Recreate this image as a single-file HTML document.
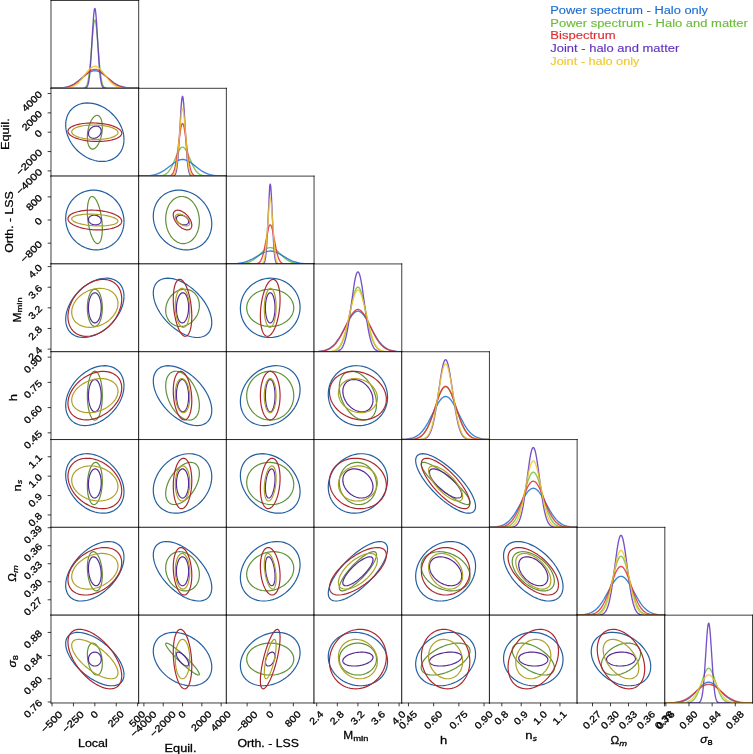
<!DOCTYPE html>
<html><head><meta charset="utf-8"><title>corner plot</title>
<style>html,body{margin:0;padding:0;background:#fff;overflow:hidden}svg{display:block;will-change:transform;font-family:"Liberation Sans",sans-serif}svg text{stroke:#000;stroke-width:0.3px}</style>
</head><body>
<svg width="753" height="754" viewBox="0 0 788.48 789.52">
<defs>
<style type="text/css">*{stroke-linejoin: round; stroke-linecap: butt}</style>
</defs>
<g id="figure_1">
<g id="patch_1">
<path d="M 0 789.52 L 788.48 789.52 L 788.48 0 L 0 0 z
" style="fill: #ffffff"/>
</g>
<g id="axes_1">
<g id="patch_2">
<path d="M 53.40 92.47 L 145.22 92.47 L 145.22 0.52 L 53.40 0.52 z
" style="fill: #ffffff"/>
</g>
<g id="matplotlib.axis_1"/>
<g id="matplotlib.axis_2"/>
<g id="line2d_1">
<path d="M 53.40 92.47 L 87.07 92.37 L 88.29 92.12 L 89.21 91.66 L 89.82 91.10 L 90.43 90.23 L 91.05 88.92 L 91.66 87.02 L 92.27 84.38 L 92.88 80.85 L 93.80 73.66 L 94.72 64.18 L 96.25 45.12 L 97.47 30.84 L 98.08 25.54 L 98.70 22.15 L 99.00 21.28 L 99.31 20.98 L 99.62 21.28 L 99.92 22.15 L 100.53 25.54 L 101.15 30.84 L 102.06 41.27 L 104.51 70.74 L 105.43 78.71 L 106.35 84.38 L 106.96 87.02 L 107.57 88.92 L 108.19 90.23 L 108.80 91.10 L 109.41 91.66 L 110.33 92.12 L 111.55 92.37 L 113.69 92.46 L 127.77 92.47 L 145.22 92.47 L 145.22 92.47 " clip-path="url(#p6890159684)" style="fill: none; stroke: #6cbd3a; stroke-opacity: 0.85; stroke-width: 1.41"/>
</g>
<g id="line2d_2">
<path d="M 53.40 92.47 L 88.60 92.38 L 89.51 92.21 L 90.13 91.94 L 90.74 91.46 L 91.35 90.61 L 91.96 89.21 L 92.58 87.00 L 93.19 83.69 L 93.80 79.00 L 94.41 72.71 L 95.33 60.21 L 96.86 34.18 L 97.78 19.86 L 98.39 13.01 L 98.70 10.74 L 99.00 9.35 L 99.31 8.88 L 99.62 9.35 L 99.92 10.74 L 100.53 16.08 L 101.15 24.22 L 102.37 44.88 L 103.59 64.76 L 104.51 76.06 L 105.12 81.53 L 105.74 85.50 L 106.35 88.22 L 106.96 90.00 L 107.57 91.09 L 108.19 91.73 L 108.80 92.09 L 109.72 92.34 L 111.25 92.45 L 117.98 92.47 L 145.22 92.47 L 145.22 92.47 " clip-path="url(#p6890159684)" style="fill: none; stroke: #5f32be; stroke-opacity: 0.85; stroke-width: 1.41"/>
</g>
<g id="line2d_3">
<path d="M 53.40 92.43 L 60.44 92.24 L 64.42 91.93 L 67.48 91.49 L 70.23 90.89 L 72.68 90.12 L 75.13 89.10 L 77.27 87.98 L 79.72 86.43 L 82.48 84.40 L 86.15 81.36 L 90.43 77.86 L 92.58 76.37 L 94.41 75.35 L 95.94 74.71 L 97.47 74.29 L 99.00 74.12 L 100.53 74.19 L 102.06 74.51 L 103.59 75.06 L 105.43 76.00 L 107.27 77.19 L 109.72 79.06 L 119.20 86.64 L 121.65 88.15 L 124.10 89.38 L 126.55 90.33 L 129.00 91.04 L 131.75 91.60 L 134.81 91.99 L 138.79 92.27 L 144.61 92.42 L 145.22 92.43 L 145.22 92.43 " clip-path="url(#p6890159684)" style="fill: none; stroke: #1a6ed2; stroke-opacity: 0.85; stroke-width: 1.41"/>
</g>
<g id="line2d_4">
<path d="M 53.40 92.45 L 61.66 92.31 L 65.95 92.02 L 69.01 91.60 L 71.46 91.05 L 73.60 90.38 L 75.74 89.47 L 77.88 88.30 L 80.03 86.86 L 82.17 85.16 L 84.92 82.64 L 92.27 75.66 L 94.11 74.32 L 95.64 73.46 L 97.17 72.87 L 98.39 72.62 L 99.62 72.57 L 100.84 72.72 L 102.06 73.07 L 103.59 73.77 L 105.12 74.73 L 106.96 76.17 L 109.41 78.41 L 116.76 85.42 L 118.90 87.09 L 121.04 88.49 L 123.18 89.62 L 125.33 90.49 L 127.47 91.13 L 129.92 91.65 L 132.98 92.05 L 136.96 92.31 L 143.08 92.44 L 145.22 92.45 L 145.22 92.45 " clip-path="url(#p6890159684)" style="fill: none; stroke: #e02d32; stroke-opacity: 0.85; stroke-width: 1.41"/>
</g>
<g id="line2d_5">
<path d="M 53.40 92.46 L 65.34 92.35 L 69.31 92.10 L 72.07 91.71 L 74.21 91.19 L 76.05 90.55 L 77.88 89.67 L 79.72 88.51 L 81.56 87.04 L 83.39 85.26 L 85.54 82.81 L 88.29 79.24 L 92.27 74.06 L 94.11 72.06 L 95.64 70.74 L 96.86 69.98 L 98.08 69.51 L 99.00 69.36 L 99.92 69.39 L 100.84 69.60 L 102.06 70.14 L 103.29 70.97 L 104.51 72.06 L 106.04 73.70 L 108.19 76.38 L 114.00 83.90 L 116.14 86.19 L 117.98 87.82 L 119.82 89.13 L 121.65 90.14 L 123.49 90.90 L 125.63 91.51 L 128.08 91.95 L 131.14 92.25 L 135.43 92.41 L 144.30 92.46 L 145.22 92.46 L 145.22 92.46 " clip-path="url(#p6890159684)" style="fill: none; stroke: #f0c828; stroke-opacity: 0.85; stroke-width: 1.41"/>
</g>
<g id="patch_3">
<path d="M 53.40 92.47 L 53.40 0.52 " style="fill: none; stroke: #000000; stroke-width: 0.8; stroke-linejoin: miter; stroke-linecap: square"/>
</g>
<g id="patch_4">
<path d="M 145.22 92.47 L 145.22 0.52 " style="fill: none; stroke: #000000; stroke-width: 0.8; stroke-linejoin: miter; stroke-linecap: square"/>
</g>
<g id="patch_5">
<path d="M 53.40 92.47 L 145.22 92.47 " style="fill: none; stroke: #000000; stroke-width: 0.8; stroke-linejoin: miter; stroke-linecap: square"/>
</g>
<g id="patch_6">
<path d="M 53.40 0.52 L 145.22 0.52 " style="fill: none; stroke: #000000; stroke-width: 0.8; stroke-linejoin: miter; stroke-linecap: square"/>
</g>
</g>
<g id="axes_2">
<g id="patch_7">
<path d="M 53.40 184.41 L 145.22 184.41 L 145.22 92.47 L 53.40 92.47 z
" style="fill: #ffffff"/>
</g>
<g id="matplotlib.axis_3"/>
<g id="matplotlib.axis_4">
<g id="ytick_1">
<g id="line2d_6">
<defs>
<path id="m5d545ce8f8" d="M 0 0 L -3.5 0 " style="stroke: #000000; stroke-width: 0.8"/>
</defs>
<g>
<use href="#m5d545ce8f8" x="53.40" y="178.95" style="stroke: #000000; stroke-width: 0.8"/>
</g>
</g>
<g id="text_1">
<text style="font-size: 10px; font-family: 'Liberation Sans'" transform="translate(21.01 204.44) rotate(-45)" textLength="33.83" lengthAdjust="spacingAndGlyphs">−4000</text>
</g>
</g>
<g id="ytick_2">
<g id="line2d_7">
<g>
<use href="#m5d545ce8f8" x="53.40" y="158.69" style="stroke: #000000; stroke-width: 0.8"/>
</g>
</g>
<g id="text_2">
<text style="font-size: 10px; font-family: 'Liberation Sans'" transform="translate(21.01 184.19) rotate(-45)" textLength="33.83" lengthAdjust="spacingAndGlyphs">−2000</text>
</g>
</g>
<g id="ytick_3">
<g id="line2d_8">
<g>
<use href="#m5d545ce8f8" x="53.40" y="138.44" style="stroke: #000000; stroke-width: 0.8"/>
</g>
</g>
<g id="text_3">
<text style="font-size: 10px; font-family: 'Liberation Sans'" transform="translate(40.43 144.51) rotate(-45)" textLength="6.36" lengthAdjust="spacingAndGlyphs">0</text>
</g>
</g>
<g id="ytick_4">
<g id="line2d_9">
<g>
<use href="#m5d545ce8f8" x="53.40" y="118.19" style="stroke: #000000; stroke-width: 0.8"/>
</g>
</g>
<g id="text_4">
<text style="font-size: 10px; font-family: 'Liberation Sans'" transform="translate(26.93 137.76) rotate(-45)" textLength="25.45" lengthAdjust="spacingAndGlyphs">2000</text>
</g>
</g>
<g id="ytick_5">
<g id="line2d_10">
<g>
<use href="#m5d545ce8f8" x="53.40" y="97.93" style="stroke: #000000; stroke-width: 0.8"/>
</g>
</g>
<g id="text_5">
<text style="font-size: 10px; font-family: 'Liberation Sans'" transform="translate(26.93 117.50) rotate(-45)" textLength="25.45" lengthAdjust="spacingAndGlyphs">4000</text>
</g>
</g>
<g id="text_6">
<text style="font-size: 12px; font-family: 'Liberation Sans'; text-anchor: middle" x="9.14" y="140.53" transform="rotate(-90 9.14 140.53)" textLength="33.29" lengthAdjust="spacingAndGlyphs">Equil.</text>
</g>
</g>
<g id="line2d_11">
<path d="M 129.84 146.10 L 129.72 143.48 L 129.38 140.83 L 128.80 138.16 L 128.00 135.49 L 126.98 132.85 L 125.75 130.24 L 124.32 127.70 L 122.70 125.24 L 120.90 122.88 L 118.93 120.64 L 116.82 118.54 L 114.57 116.58 L 112.21 114.79 L 109.75 113.19 L 107.21 111.77 L 104.61 110.56 L 101.97 109.56 L 99.31 108.78 L 96.65 108.22 L 94.01 107.90 L 91.41 107.81 L 88.87 107.95 L 86.41 108.32 L 84.04 108.92 L 81.80 109.75 L 79.68 110.80 L 77.72 112.05 L 75.92 113.51 L 74.30 115.15 L 72.87 116.98 L 71.64 118.96 L 70.62 121.10 L 69.82 123.37 L 69.24 125.75 L 68.90 128.23 L 68.78 130.78 L 68.90 133.40 L 69.24 136.05 L 69.82 138.72 L 70.62 141.39 L 71.64 144.03 L 72.87 146.64 L 74.30 149.18 L 75.92 151.64 L 77.72 154.00 L 79.68 156.24 L 81.80 158.34 L 84.04 160.30 L 86.41 162.09 L 88.87 163.69 L 91.41 165.11 L 94.01 166.32 L 96.65 167.32 L 99.31 168.10 L 101.97 168.66 L 104.61 168.98 L 107.21 169.07 L 109.75 168.93 L 112.21 168.56 L 114.57 167.96 L 116.82 167.13 L 118.93 166.08 L 120.90 164.83 L 122.70 163.37 L 124.32 161.73 L 125.75 159.90 L 126.98 157.92 L 128.00 155.78 L 128.80 153.51 L 129.38 151.13 L 129.72 148.65 L 129.84 146.10 " clip-path="url(#p6fb63dad15)" style="fill: none; stroke: #235fa0; stroke-width: 1.25; stroke-linecap: square"/>
</g>
<g id="line2d_12">
<path d="M 107.15 133.15 L 107.12 131.70 L 107.03 130.31 L 106.88 128.97 L 106.68 127.71 L 106.41 126.53 L 106.10 125.44 L 105.73 124.46 L 105.31 123.57 L 104.85 122.80 L 104.35 122.15 L 103.81 121.62 L 103.23 121.22 L 102.62 120.95 L 101.99 120.82 L 101.34 120.82 L 100.67 120.95 L 99.99 121.22 L 99.31 121.61 L 98.63 122.14 L 97.95 122.79 L 97.28 123.56 L 96.63 124.44 L 96.00 125.43 L 95.39 126.51 L 94.81 127.69 L 94.27 128.95 L 93.77 130.28 L 93.30 131.68 L 92.89 133.12 L 92.52 134.61 L 92.20 136.12 L 91.94 137.66 L 91.74 139.20 L 91.59 140.73 L 91.50 142.24 L 91.47 143.73 L 91.50 145.18 L 91.59 146.57 L 91.74 147.91 L 91.94 149.17 L 92.20 150.35 L 92.52 151.44 L 92.89 152.43 L 93.30 153.31 L 93.77 154.08 L 94.27 154.73 L 94.81 155.26 L 95.39 155.66 L 96.00 155.93 L 96.63 156.06 L 97.28 156.06 L 97.95 155.93 L 98.63 155.66 L 99.31 155.27 L 99.99 154.74 L 100.67 154.09 L 101.34 153.32 L 101.99 152.44 L 102.62 151.45 L 103.23 150.37 L 103.81 149.19 L 104.35 147.93 L 104.85 146.60 L 105.31 145.20 L 105.73 143.76 L 106.10 142.27 L 106.41 140.76 L 106.68 139.22 L 106.88 137.68 L 107.03 136.15 L 107.12 134.64 L 107.15 133.15 " clip-path="url(#p6fb63dad15)" style="fill: none; stroke: #5f9137; stroke-width: 1.25; stroke-linecap: square"/>
</g>
<g id="line2d_13">
<path d="M 127.47 139.41 L 127.36 138.57 L 127.04 137.72 L 126.51 136.88 L 125.77 136.05 L 124.83 135.24 L 123.69 134.46 L 122.37 133.70 L 120.88 132.98 L 119.22 132.30 L 117.41 131.67 L 115.46 131.09 L 113.39 130.57 L 111.21 130.11 L 108.94 129.71 L 106.60 129.37 L 104.20 129.11 L 101.76 128.91 L 99.31 128.79 L 96.86 128.75 L 94.42 128.77 L 92.02 128.87 L 89.68 129.04 L 87.41 129.29 L 85.23 129.60 L 83.16 129.98 L 81.21 130.43 L 79.40 130.93 L 77.74 131.50 L 76.24 132.11 L 74.92 132.78 L 73.79 133.48 L 72.85 134.23 L 72.11 135.01 L 71.58 135.81 L 71.26 136.63 L 71.15 137.47 L 71.26 138.31 L 71.58 139.16 L 72.11 140.00 L 72.85 140.83 L 73.79 141.64 L 74.92 142.42 L 76.24 143.18 L 77.74 143.90 L 79.40 144.58 L 81.21 145.21 L 83.16 145.79 L 85.23 146.31 L 87.41 146.77 L 89.68 147.17 L 92.02 147.51 L 94.42 147.77 L 96.86 147.97 L 99.31 148.09 L 101.76 148.13 L 104.20 148.11 L 106.60 148.01 L 108.94 147.84 L 111.21 147.59 L 113.39 147.28 L 115.46 146.90 L 117.41 146.45 L 119.22 145.95 L 120.88 145.38 L 122.37 144.77 L 123.69 144.10 L 124.83 143.40 L 125.77 142.65 L 126.51 141.87 L 127.04 141.07 L 127.36 140.25 L 127.47 139.41 " clip-path="url(#p6fb63dad15)" style="fill: none; stroke: #aa282d; stroke-width: 1.25; stroke-linecap: square"/>
</g>
<g id="line2d_14">
<path d="M 106.01 137.16 L 105.99 136.62 L 105.91 136.09 L 105.78 135.58 L 105.61 135.10 L 105.38 134.63 L 105.11 134.20 L 104.80 133.80 L 104.44 133.43 L 104.05 133.11 L 103.62 132.82 L 103.15 132.57 L 102.66 132.37 L 102.14 132.22 L 101.60 132.11 L 101.04 132.06 L 100.47 132.05 L 99.89 132.09 L 99.31 132.17 L 98.72 132.31 L 98.15 132.49 L 97.57 132.72 L 97.02 132.99 L 96.48 133.30 L 95.96 133.65 L 95.46 134.04 L 95.00 134.46 L 94.57 134.91 L 94.17 135.39 L 93.82 135.89 L 93.50 136.41 L 93.23 136.95 L 93.01 137.50 L 92.83 138.05 L 92.71 138.61 L 92.63 139.17 L 92.61 139.72 L 92.63 140.26 L 92.71 140.79 L 92.83 141.30 L 93.01 141.78 L 93.23 142.25 L 93.50 142.68 L 93.82 143.08 L 94.17 143.45 L 94.57 143.77 L 95.00 144.06 L 95.46 144.31 L 95.96 144.51 L 96.48 144.66 L 97.02 144.77 L 97.57 144.82 L 98.15 144.83 L 98.72 144.79 L 99.31 144.71 L 99.89 144.57 L 100.47 144.39 L 101.04 144.16 L 101.60 143.89 L 102.14 143.58 L 102.66 143.23 L 103.15 142.84 L 103.62 142.42 L 104.05 141.97 L 104.44 141.49 L 104.80 140.99 L 105.11 140.47 L 105.38 139.93 L 105.61 139.38 L 105.78 138.83 L 105.91 138.27 L 105.99 137.71 L 106.01 137.16 " clip-path="url(#p6fb63dad15)" style="fill: none; stroke: #552896; stroke-width: 1.25; stroke-linecap: square"/>
</g>
<g id="line2d_15">
<path d="M 123.55 138.82 L 123.46 138.16 L 123.18 137.50 L 122.72 136.85 L 122.09 136.21 L 121.28 135.58 L 120.30 134.98 L 119.16 134.41 L 117.88 133.86 L 116.45 133.35 L 114.89 132.88 L 113.21 132.46 L 111.43 132.07 L 109.55 131.74 L 107.60 131.45 L 105.58 131.22 L 103.52 131.05 L 101.42 130.93 L 99.31 130.87 L 97.20 130.86 L 95.10 130.92 L 93.04 131.03 L 91.02 131.20 L 89.07 131.42 L 87.19 131.69 L 85.41 132.02 L 83.73 132.40 L 82.17 132.82 L 80.74 133.28 L 79.45 133.79 L 78.32 134.33 L 77.34 134.90 L 76.53 135.49 L 75.90 136.11 L 75.44 136.75 L 75.16 137.40 L 75.07 138.06 L 75.16 138.72 L 75.44 139.38 L 75.90 140.03 L 76.53 140.67 L 77.34 141.30 L 78.32 141.90 L 79.45 142.47 L 80.74 143.02 L 82.17 143.53 L 83.73 144.00 L 85.41 144.42 L 87.19 144.81 L 89.07 145.14 L 91.02 145.43 L 93.04 145.66 L 95.10 145.83 L 97.20 145.95 L 99.31 146.01 L 101.42 146.02 L 103.52 145.96 L 105.58 145.85 L 107.60 145.68 L 109.55 145.46 L 111.43 145.19 L 113.21 144.86 L 114.89 144.48 L 116.45 144.06 L 117.88 143.60 L 119.16 143.09 L 120.30 142.55 L 121.28 141.98 L 122.09 141.39 L 122.72 140.77 L 123.18 140.13 L 123.46 139.48 L 123.55 138.82 " clip-path="url(#p6fb63dad15)" style="fill: none; stroke: #afa028; stroke-width: 1.25; stroke-linecap: square"/>
</g>
<g id="patch_8">
<path d="M 53.40 184.41 L 53.40 92.47 " style="fill: none; stroke: #000000; stroke-width: 0.8; stroke-linejoin: miter; stroke-linecap: square"/>
</g>
<g id="patch_9">
<path d="M 145.22 184.41 L 145.22 92.47 " style="fill: none; stroke: #000000; stroke-width: 0.8; stroke-linejoin: miter; stroke-linecap: square"/>
</g>
<g id="patch_10">
<path d="M 53.40 184.41 L 145.22 184.41 " style="fill: none; stroke: #000000; stroke-width: 0.8; stroke-linejoin: miter; stroke-linecap: square"/>
</g>
<g id="patch_11">
<path d="M 53.40 92.47 L 145.22 92.47 " style="fill: none; stroke: #000000; stroke-width: 0.8; stroke-linejoin: miter; stroke-linecap: square"/>
</g>
</g>
<g id="axes_3">
<g id="patch_12">
<path d="M 145.22 184.41 L 237.04 184.41 L 237.04 92.47 L 145.22 92.47 z
" style="fill: #ffffff"/>
</g>
<g id="matplotlib.axis_5"/>
<g id="matplotlib.axis_6"/>
<g id="line2d_16">
<path d="M 145.22 184.41 L 165.42 184.32 L 168.18 184.10 L 170.32 183.71 L 171.85 183.22 L 173.07 182.63 L 174.30 181.83 L 175.52 180.77 L 176.75 179.39 L 177.97 177.68 L 179.19 175.63 L 180.72 172.59 L 182.56 168.40 L 186.23 159.81 L 187.46 157.46 L 188.38 156.04 L 189.29 154.98 L 190.21 154.33 L 190.83 154.13 L 191.44 154.13 L 192.05 154.33 L 192.66 154.72 L 193.58 155.65 L 194.50 156.95 L 195.72 159.18 L 197.25 162.53 L 202.46 174.47 L 203.99 177.20 L 205.21 179.00 L 206.43 180.45 L 207.66 181.59 L 208.88 182.45 L 210.41 183.22 L 211.94 183.71 L 213.78 184.06 L 216.23 184.29 L 220.21 184.39 L 234.29 184.41 L 237.04 184.41 L 237.04 184.41 " clip-path="url(#p47191a8eb9)" style="fill: none; stroke: #6cbd3a; stroke-opacity: 0.85; stroke-width: 1.41"/>
</g>
<g id="line2d_17">
<path d="M 145.22 184.41 L 181.03 184.32 L 181.95 184.10 L 182.56 183.76 L 183.17 183.14 L 183.79 182.05 L 184.40 180.24 L 185.01 177.39 L 185.62 173.17 L 186.23 167.28 L 186.85 159.58 L 187.76 144.90 L 189.60 112.81 L 190.21 105.36 L 190.52 102.87 L 190.83 101.34 L 191.13 100.83 L 191.44 101.34 L 191.74 102.87 L 192.36 108.71 L 192.97 117.53 L 195.72 163.66 L 196.33 170.45 L 196.95 175.47 L 197.56 178.97 L 198.17 181.25 L 198.78 182.67 L 199.40 183.50 L 200.01 183.96 L 200.93 184.27 L 202.15 184.39 L 206.13 184.41 L 237.04 184.41 L 237.04 184.41 " clip-path="url(#p47191a8eb9)" style="fill: none; stroke: #5f32be; stroke-opacity: 0.85; stroke-width: 1.41"/>
</g>
<g id="line2d_18">
<path d="M 145.22 184.37 L 152.26 184.19 L 156.54 183.86 L 159.61 183.42 L 162.36 182.81 L 164.81 182.04 L 167.26 181.03 L 169.71 179.76 L 172.15 178.23 L 174.91 176.24 L 184.09 169.29 L 185.93 168.27 L 187.76 167.53 L 189.29 167.13 L 190.83 166.97 L 192.36 167.04 L 193.89 167.34 L 195.42 167.86 L 197.25 168.75 L 199.40 170.08 L 202.15 172.11 L 210.11 178.23 L 212.56 179.76 L 215.00 181.03 L 217.45 182.04 L 219.90 182.81 L 222.66 183.42 L 225.72 183.86 L 229.39 184.16 L 234.59 184.34 L 237.04 184.37 L 237.04 184.37 " clip-path="url(#p47191a8eb9)" style="fill: none; stroke: #1a6ed2; stroke-opacity: 0.85; stroke-width: 1.41"/>
</g>
<g id="line2d_19">
<path d="M 145.22 184.41 L 176.13 184.33 L 177.66 184.11 L 178.58 183.82 L 179.50 183.29 L 180.11 182.73 L 180.72 181.96 L 181.34 180.92 L 181.95 179.53 L 182.56 177.74 L 183.48 174.17 L 184.40 169.44 L 185.32 163.56 L 186.85 151.90 L 188.68 138.01 L 189.60 132.87 L 190.21 130.60 L 190.83 129.43 L 191.13 129.28 L 191.44 129.43 L 191.74 129.87 L 192.36 131.61 L 192.97 134.38 L 193.89 140.09 L 195.42 151.90 L 196.95 163.56 L 198.17 171.15 L 199.09 175.49 L 200.01 178.69 L 200.93 180.92 L 201.84 182.38 L 202.76 183.29 L 203.68 183.82 L 204.90 184.18 L 206.43 184.35 L 209.80 184.41 L 237.04 184.41 L 237.04 184.41 " clip-path="url(#p47191a8eb9)" style="fill: none; stroke: #e02d32; stroke-opacity: 0.85; stroke-width: 1.41"/>
</g>
<g id="line2d_20">
<path d="M 145.22 184.41 L 179.19 184.33 L 180.42 184.09 L 181.34 183.64 L 181.95 183.08 L 182.56 182.18 L 183.17 180.83 L 183.79 178.84 L 184.40 176.05 L 185.01 172.31 L 185.93 164.68 L 186.85 154.68 L 189.60 121.26 L 190.21 116.65 L 190.52 115.14 L 190.83 114.22 L 191.13 113.91 L 191.44 114.22 L 191.74 115.14 L 192.36 118.70 L 192.97 124.25 L 193.89 135.07 L 196.03 161.59 L 196.95 170.04 L 197.86 176.05 L 198.48 178.84 L 199.09 180.83 L 199.70 182.18 L 200.31 183.08 L 200.93 183.64 L 201.84 184.09 L 203.07 184.33 L 205.21 184.41 L 222.04 184.41 L 237.04 184.41 L 237.04 184.41 " clip-path="url(#p47191a8eb9)" style="fill: none; stroke: #f0c828; stroke-opacity: 0.85; stroke-width: 1.41"/>
</g>
<g id="patch_13">
<path d="M 145.22 184.41 L 145.22 92.47 " style="fill: none; stroke: #000000; stroke-width: 0.8; stroke-linejoin: miter; stroke-linecap: square"/>
</g>
<g id="patch_14">
<path d="M 237.04 184.41 L 237.04 92.47 " style="fill: none; stroke: #000000; stroke-width: 0.8; stroke-linejoin: miter; stroke-linecap: square"/>
</g>
<g id="patch_15">
<path d="M 145.22 184.41 L 237.04 184.41 " style="fill: none; stroke: #000000; stroke-width: 0.8; stroke-linejoin: miter; stroke-linecap: square"/>
</g>
<g id="patch_16">
<path d="M 145.22 92.47 L 237.04 92.47 " style="fill: none; stroke: #000000; stroke-width: 0.8; stroke-linejoin: miter; stroke-linecap: square"/>
</g>
</g>
<g id="axes_4">
<g id="patch_17">
<path d="M 53.40 276.36 L 145.22 276.36 L 145.22 184.41 L 53.40 184.41 z
" style="fill: #ffffff"/>
</g>
<g id="matplotlib.axis_7"/>
<g id="matplotlib.axis_8">
<g id="ytick_6">
<g id="line2d_21">
<g>
<use href="#m5d545ce8f8" x="53.40" y="254.62" style="stroke: #000000; stroke-width: 0.8"/>
</g>
</g>
<g id="text_7">
<text style="font-size: 10px; font-family: 'Liberation Sans'" transform="translate(25.51 275.61) rotate(-45)" textLength="27.47" lengthAdjust="spacingAndGlyphs">−800</text>
</g>
</g>
<g id="ytick_7">
<g id="line2d_22">
<g>
<use href="#m5d545ce8f8" x="53.40" y="230.39" style="stroke: #000000; stroke-width: 0.8"/>
</g>
</g>
<g id="text_8">
<text style="font-size: 10px; font-family: 'Liberation Sans'" transform="translate(40.43 236.46) rotate(-45)" textLength="6.36" lengthAdjust="spacingAndGlyphs">0</text>
</g>
</g>
<g id="ytick_8">
<g id="line2d_23">
<g>
<use href="#m5d545ce8f8" x="53.40" y="206.16" style="stroke: #000000; stroke-width: 0.8"/>
</g>
</g>
<g id="text_9">
<text style="font-size: 10px; font-family: 'Liberation Sans'" transform="translate(31.43 221.23) rotate(-45)" textLength="19.09" lengthAdjust="spacingAndGlyphs">800</text>
</g>
</g>
<g id="text_10">
<text style="font-size: 12px; font-family: 'Liberation Sans'; text-anchor: middle" x="13.64" y="232.48" transform="rotate(-90 13.64 232.48)" textLength="64.38" lengthAdjust="spacingAndGlyphs">Orth. - LSS</text>
</g>
</g>
<g id="line2d_24">
<path d="M 129.84 231.95 L 129.72 229.22 L 129.38 226.51 L 128.80 223.82 L 128.00 221.18 L 126.98 218.61 L 125.75 216.13 L 124.32 213.76 L 122.70 211.52 L 120.90 209.42 L 118.93 207.48 L 116.82 205.72 L 114.57 204.14 L 112.21 202.76 L 109.75 201.59 L 107.21 200.64 L 104.61 199.92 L 101.97 199.43 L 99.31 199.17 L 96.65 199.16 L 94.01 199.38 L 91.41 199.83 L 88.87 200.52 L 86.41 201.44 L 84.04 202.57 L 81.80 203.92 L 79.68 205.47 L 77.72 207.21 L 75.92 209.13 L 74.30 211.20 L 72.87 213.43 L 71.64 215.78 L 70.62 218.24 L 69.82 220.80 L 69.24 223.43 L 68.90 226.11 L 68.78 228.83 L 68.90 231.55 L 69.24 234.27 L 69.82 236.96 L 70.62 239.59 L 71.64 242.16 L 72.87 244.64 L 74.30 247.01 L 75.92 249.25 L 77.72 251.35 L 79.68 253.29 L 81.80 255.06 L 84.04 256.64 L 86.41 258.02 L 88.87 259.18 L 91.41 260.13 L 94.01 260.86 L 96.65 261.35 L 99.31 261.60 L 101.97 261.62 L 104.61 261.40 L 107.21 260.94 L 109.75 260.25 L 112.21 259.34 L 114.57 258.20 L 116.82 256.85 L 118.93 255.30 L 120.90 253.56 L 122.70 251.65 L 124.32 249.57 L 125.75 247.35 L 126.98 245.00 L 128.00 242.53 L 128.80 239.98 L 129.38 237.35 L 129.72 234.66 L 129.84 231.95 " clip-path="url(#p3f667b02f7)" style="fill: none; stroke: #235fa0; stroke-width: 1.25; stroke-linecap: square"/>
</g>
<g id="line2d_25">
<path d="M 107.15 239.51 L 107.12 237.48 L 107.03 235.39 L 106.88 233.27 L 106.68 231.13 L 106.41 228.98 L 106.10 226.84 L 105.73 224.72 L 105.31 222.65 L 104.85 220.64 L 104.35 218.71 L 103.81 216.86 L 103.23 215.12 L 102.62 213.49 L 101.99 211.99 L 101.34 210.63 L 100.67 209.42 L 99.99 208.37 L 99.31 207.49 L 98.63 206.78 L 97.95 206.25 L 97.28 205.91 L 96.63 205.75 L 96.00 205.78 L 95.39 205.99 L 94.81 206.40 L 94.27 206.98 L 93.77 207.75 L 93.30 208.68 L 92.89 209.78 L 92.52 211.04 L 92.20 212.44 L 91.94 213.98 L 91.74 215.65 L 91.59 217.43 L 91.50 219.31 L 91.47 221.27 L 91.50 223.30 L 91.59 225.38 L 91.74 227.51 L 91.94 229.65 L 92.20 231.80 L 92.52 233.94 L 92.89 236.05 L 93.30 238.12 L 93.77 240.13 L 94.27 242.07 L 94.81 243.92 L 95.39 245.66 L 96.00 247.29 L 96.63 248.79 L 97.28 250.15 L 97.95 251.36 L 98.63 252.41 L 99.31 253.29 L 99.99 254.00 L 100.67 254.52 L 101.34 254.87 L 101.99 255.03 L 102.62 255.00 L 103.23 254.78 L 103.81 254.38 L 104.35 253.79 L 104.85 253.03 L 105.31 252.09 L 105.73 250.99 L 106.10 249.74 L 106.41 248.33 L 106.68 246.79 L 106.88 245.12 L 107.03 243.35 L 107.12 241.47 L 107.15 239.51 " clip-path="url(#p3f667b02f7)" style="fill: none; stroke: #5f9137; stroke-width: 1.25; stroke-linecap: square"/>
</g>
<g id="line2d_26">
<path d="M 127.47 231.73 L 127.36 230.83 L 127.04 229.93 L 126.51 229.04 L 125.77 228.15 L 124.83 227.28 L 123.69 226.44 L 122.37 225.62 L 120.88 224.84 L 119.22 224.10 L 117.41 223.42 L 115.46 222.78 L 113.39 222.20 L 111.21 221.69 L 108.94 221.24 L 106.60 220.86 L 104.20 220.55 L 101.76 220.32 L 99.31 220.16 L 96.86 220.08 L 94.42 220.08 L 92.02 220.16 L 89.68 220.32 L 87.41 220.55 L 85.23 220.86 L 83.16 221.24 L 81.21 221.69 L 79.40 222.21 L 77.74 222.79 L 76.24 223.42 L 74.92 224.11 L 73.79 224.85 L 72.85 225.63 L 72.11 226.45 L 71.58 227.29 L 71.26 228.16 L 71.15 229.05 L 71.26 229.94 L 71.58 230.84 L 72.11 231.74 L 72.85 232.63 L 73.79 233.49 L 74.92 234.34 L 76.24 235.16 L 77.74 235.93 L 79.40 236.67 L 81.21 237.36 L 83.16 238.00 L 85.23 238.57 L 87.41 239.09 L 89.68 239.54 L 92.02 239.92 L 94.42 240.23 L 96.86 240.46 L 99.31 240.61 L 101.76 240.69 L 104.20 240.69 L 106.60 240.61 L 108.94 240.46 L 111.21 240.22 L 113.39 239.91 L 115.46 239.53 L 117.41 239.08 L 119.22 238.57 L 120.88 237.99 L 122.37 237.35 L 123.69 236.66 L 124.83 235.92 L 125.77 235.15 L 126.51 234.33 L 127.04 233.48 L 127.36 232.61 L 127.47 231.73 " clip-path="url(#p3f667b02f7)" style="fill: none; stroke: #aa282d; stroke-width: 1.25; stroke-linecap: square"/>
</g>
<g id="line2d_27">
<path d="M 106.01 230.89 L 105.99 230.45 L 105.91 230.01 L 105.78 229.57 L 105.61 229.14 L 105.38 228.72 L 105.11 228.31 L 104.80 227.92 L 104.44 227.54 L 104.05 227.19 L 103.62 226.86 L 103.15 226.56 L 102.66 226.29 L 102.14 226.04 L 101.60 225.83 L 101.04 225.66 L 100.47 225.52 L 99.89 225.42 L 99.31 225.36 L 98.72 225.33 L 98.15 225.35 L 97.57 225.40 L 97.02 225.49 L 96.48 225.62 L 95.96 225.78 L 95.46 225.98 L 95.00 226.21 L 94.57 226.47 L 94.17 226.77 L 93.82 227.09 L 93.50 227.44 L 93.23 227.80 L 93.01 228.19 L 92.83 228.60 L 92.71 229.02 L 92.63 229.45 L 92.61 229.88 L 92.63 230.32 L 92.71 230.76 L 92.83 231.20 L 93.01 231.63 L 93.23 232.05 L 93.50 232.46 L 93.82 232.86 L 94.17 233.23 L 94.57 233.59 L 95.00 233.92 L 95.46 234.22 L 95.96 234.49 L 96.48 234.73 L 97.02 234.94 L 97.57 235.11 L 98.15 235.25 L 98.72 235.35 L 99.31 235.42 L 99.89 235.44 L 100.47 235.43 L 101.04 235.38 L 101.60 235.29 L 102.14 235.16 L 102.66 235.00 L 103.15 234.80 L 103.62 234.57 L 104.05 234.30 L 104.44 234.01 L 104.80 233.69 L 105.11 233.34 L 105.38 232.97 L 105.61 232.58 L 105.78 232.18 L 105.91 231.76 L 105.99 231.33 L 106.01 230.89 " clip-path="url(#p3f667b02f7)" style="fill: none; stroke: #552896; stroke-width: 1.25; stroke-linecap: square"/>
</g>
<g id="line2d_28">
<path d="M 123.55 231.63 L 123.46 231.09 L 123.18 230.55 L 122.72 230.01 L 122.09 229.48 L 121.28 228.95 L 120.30 228.43 L 119.16 227.92 L 117.88 227.44 L 116.45 226.98 L 114.89 226.54 L 113.21 226.13 L 111.43 225.76 L 109.55 225.42 L 107.60 225.11 L 105.58 224.85 L 103.52 224.63 L 101.42 224.46 L 99.31 224.32 L 97.20 224.24 L 95.10 224.20 L 93.04 224.21 L 91.02 224.27 L 89.07 224.37 L 87.19 224.52 L 85.41 224.71 L 83.73 224.95 L 82.17 225.22 L 80.74 225.54 L 79.45 225.90 L 78.32 226.28 L 77.34 226.70 L 76.53 227.15 L 75.90 227.62 L 75.44 228.12 L 75.16 228.63 L 75.07 229.15 L 75.16 229.68 L 75.44 230.22 L 75.90 230.76 L 76.53 231.30 L 77.34 231.83 L 78.32 232.35 L 79.45 232.85 L 80.74 233.34 L 82.17 233.80 L 83.73 234.24 L 85.41 234.64 L 87.19 235.02 L 89.07 235.36 L 91.02 235.66 L 93.04 235.92 L 95.10 236.14 L 97.20 236.32 L 99.31 236.45 L 101.42 236.54 L 103.52 236.57 L 105.58 236.56 L 107.60 236.51 L 109.55 236.41 L 111.43 236.26 L 113.21 236.06 L 114.89 235.83 L 116.45 235.55 L 117.88 235.23 L 119.16 234.88 L 120.30 234.49 L 121.28 234.07 L 122.09 233.62 L 122.72 233.15 L 123.18 232.66 L 123.46 232.15 L 123.55 231.63 " clip-path="url(#p3f667b02f7)" style="fill: none; stroke: #afa028; stroke-width: 1.25; stroke-linecap: square"/>
</g>
<g id="patch_18">
<path d="M 53.40 276.36 L 53.40 184.41 " style="fill: none; stroke: #000000; stroke-width: 0.8; stroke-linejoin: miter; stroke-linecap: square"/>
</g>
<g id="patch_19">
<path d="M 145.22 276.36 L 145.22 184.41 " style="fill: none; stroke: #000000; stroke-width: 0.8; stroke-linejoin: miter; stroke-linecap: square"/>
</g>
<g id="patch_20">
<path d="M 53.40 276.36 L 145.22 276.36 " style="fill: none; stroke: #000000; stroke-width: 0.8; stroke-linejoin: miter; stroke-linecap: square"/>
</g>
<g id="patch_21">
<path d="M 53.40 184.41 L 145.22 184.41 " style="fill: none; stroke: #000000; stroke-width: 0.8; stroke-linejoin: miter; stroke-linecap: square"/>
</g>
</g>
<g id="axes_5">
<g id="patch_22">
<path d="M 145.22 276.36 L 237.04 276.36 L 237.04 184.41 L 145.22 184.41 z
" style="fill: #ffffff"/>
</g>
<g id="matplotlib.axis_9"/>
<g id="matplotlib.axis_10"/>
<g id="line2d_29">
<path d="M 221.76 234.45 L 221.65 231.73 L 221.30 229.01 L 220.72 226.29 L 219.92 223.61 L 218.89 220.97 L 217.66 218.41 L 216.22 215.94 L 214.60 213.58 L 212.79 211.35 L 210.82 209.26 L 208.70 207.33 L 206.45 205.58 L 204.08 204.02 L 201.61 202.66 L 199.06 201.51 L 196.45 200.58 L 193.80 199.87 L 191.13 199.40 L 188.46 199.16 L 185.81 199.17 L 183.20 199.40 L 180.65 199.88 L 178.18 200.59 L 175.81 201.52 L 173.56 202.67 L 171.44 204.04 L 169.47 205.60 L 167.66 207.36 L 166.04 209.29 L 164.60 211.38 L 163.37 213.61 L 162.35 215.97 L 161.54 218.44 L 160.96 221.01 L 160.61 223.64 L 160.50 226.32 L 160.61 229.04 L 160.96 231.77 L 161.54 234.48 L 162.35 237.17 L 163.37 239.80 L 164.60 242.36 L 166.04 244.83 L 167.66 247.19 L 169.47 249.43 L 171.44 251.51 L 173.56 253.44 L 175.81 255.19 L 178.18 256.75 L 180.65 258.12 L 183.20 259.27 L 185.81 260.20 L 188.46 260.90 L 191.13 261.37 L 193.80 261.61 L 196.45 261.61 L 199.06 261.37 L 201.61 260.90 L 204.08 260.19 L 206.45 259.25 L 208.70 258.10 L 210.82 256.74 L 212.79 255.17 L 214.60 253.42 L 216.22 251.49 L 217.66 249.40 L 218.89 247.17 L 219.92 244.80 L 220.72 242.33 L 221.30 239.77 L 221.65 237.14 L 221.76 234.45 " clip-path="url(#p28ccdaaddb)" style="fill: none; stroke: #235fa0; stroke-width: 1.25; stroke-linecap: square"/>
</g>
<g id="line2d_30">
<path d="M 208.77 231.62 L 208.70 229.47 L 208.50 227.33 L 208.17 225.21 L 207.71 223.13 L 207.12 221.10 L 206.41 219.15 L 205.58 217.28 L 204.64 215.51 L 203.60 213.85 L 202.47 212.32 L 201.25 210.93 L 199.95 209.68 L 198.59 208.60 L 197.16 207.67 L 195.70 206.93 L 194.19 206.36 L 192.67 205.97 L 191.13 205.77 L 189.59 205.75 L 188.07 205.93 L 186.57 206.29 L 185.10 206.83 L 183.68 207.55 L 182.31 208.45 L 181.01 209.51 L 179.79 210.74 L 178.66 212.11 L 177.62 213.62 L 176.68 215.26 L 175.86 217.01 L 175.15 218.87 L 174.56 220.81 L 174.09 222.83 L 173.76 224.90 L 173.56 227.01 L 173.49 229.16 L 173.56 231.31 L 173.76 233.45 L 174.09 235.57 L 174.56 237.65 L 175.15 239.68 L 175.86 241.63 L 176.68 243.50 L 177.62 245.27 L 178.66 246.92 L 179.79 248.46 L 181.01 249.85 L 182.31 251.09 L 183.68 252.18 L 185.10 253.10 L 186.57 253.85 L 188.07 254.42 L 189.59 254.81 L 191.13 255.01 L 192.67 255.02 L 194.19 254.85 L 195.70 254.49 L 197.16 253.94 L 198.59 253.22 L 199.95 252.32 L 201.25 251.26 L 202.47 250.04 L 203.60 248.67 L 204.64 247.16 L 205.58 245.52 L 206.41 243.76 L 207.12 241.91 L 207.71 239.97 L 208.17 237.95 L 208.50 235.88 L 208.70 233.76 L 208.77 231.62 " clip-path="url(#p28ccdaaddb)" style="fill: none; stroke: #5f9137; stroke-width: 1.25; stroke-linecap: square"/>
</g>
<g id="line2d_31">
<path d="M 200.83 235.85 L 200.79 235.07 L 200.68 234.25 L 200.50 233.40 L 200.24 232.53 L 199.92 231.65 L 199.53 230.75 L 199.07 229.85 L 198.56 228.95 L 197.99 228.07 L 197.36 227.20 L 196.69 226.36 L 195.98 225.55 L 195.23 224.77 L 194.45 224.04 L 193.64 223.35 L 192.81 222.72 L 191.98 222.15 L 191.13 221.64 L 190.29 221.20 L 189.45 220.82 L 188.62 220.52 L 187.82 220.30 L 187.03 220.15 L 186.28 220.08 L 185.57 220.09 L 184.90 220.17 L 184.28 220.34 L 183.70 220.58 L 183.19 220.89 L 182.73 221.28 L 182.34 221.74 L 182.02 222.26 L 181.77 222.84 L 181.58 223.49 L 181.47 224.18 L 181.44 224.92 L 181.47 225.70 L 181.58 226.52 L 181.77 227.37 L 182.02 228.24 L 182.34 229.13 L 182.73 230.03 L 183.19 230.93 L 183.70 231.82 L 184.28 232.71 L 184.90 233.57 L 185.57 234.42 L 186.28 235.23 L 187.03 236.00 L 187.82 236.74 L 188.62 237.42 L 189.45 238.05 L 190.29 238.62 L 191.13 239.13 L 191.98 239.58 L 192.81 239.95 L 193.64 240.25 L 194.45 240.48 L 195.23 240.62 L 195.98 240.70 L 196.69 240.69 L 197.36 240.60 L 197.99 240.44 L 198.56 240.20 L 199.07 239.88 L 199.53 239.49 L 199.92 239.04 L 200.24 238.52 L 200.50 237.93 L 200.68 237.29 L 200.79 236.60 L 200.83 235.85 " clip-path="url(#p28ccdaaddb)" style="fill: none; stroke: #aa282d; stroke-width: 1.25; stroke-linecap: square"/>
</g>
<g id="line2d_32">
<path d="M 197.53 231.90 L 197.50 231.48 L 197.43 231.04 L 197.31 230.60 L 197.14 230.16 L 196.93 229.72 L 196.67 229.29 L 196.37 228.86 L 196.03 228.45 L 195.65 228.05 L 195.24 227.67 L 194.80 227.31 L 194.33 226.97 L 193.83 226.66 L 193.32 226.38 L 192.79 226.12 L 192.24 225.90 L 191.69 225.72 L 191.13 225.57 L 190.57 225.45 L 190.02 225.38 L 189.48 225.34 L 188.94 225.34 L 188.43 225.38 L 187.93 225.45 L 187.46 225.57 L 187.02 225.72 L 186.61 225.91 L 186.23 226.13 L 185.89 226.38 L 185.59 226.66 L 185.34 226.98 L 185.12 227.31 L 184.95 227.68 L 184.83 228.06 L 184.76 228.46 L 184.74 228.87 L 184.76 229.30 L 184.83 229.73 L 184.95 230.17 L 185.12 230.61 L 185.34 231.05 L 185.59 231.49 L 185.89 231.91 L 186.23 232.33 L 186.61 232.72 L 187.02 233.11 L 187.46 233.47 L 187.93 233.81 L 188.43 234.12 L 188.94 234.40 L 189.48 234.65 L 190.02 234.87 L 190.57 235.06 L 191.13 235.21 L 191.69 235.32 L 192.24 235.40 L 192.79 235.44 L 193.32 235.44 L 193.83 235.40 L 194.33 235.32 L 194.80 235.21 L 195.24 235.06 L 195.65 234.87 L 196.03 234.65 L 196.37 234.40 L 196.67 234.11 L 196.93 233.80 L 197.14 233.46 L 197.31 233.10 L 197.43 232.72 L 197.50 232.32 L 197.53 231.90 " clip-path="url(#p28ccdaaddb)" style="fill: none; stroke: #552896; stroke-width: 1.25; stroke-linecap: square"/>
</g>
<g id="line2d_33">
<path d="M 198.71 233.48 L 198.68 233.00 L 198.60 232.50 L 198.45 231.99 L 198.26 231.46 L 198.00 230.93 L 197.70 230.39 L 197.34 229.85 L 196.94 229.31 L 196.49 228.79 L 196.00 228.27 L 195.48 227.77 L 194.92 227.29 L 194.34 226.84 L 193.72 226.41 L 193.09 226.01 L 192.45 225.65 L 191.79 225.32 L 191.13 225.03 L 190.47 224.78 L 189.81 224.57 L 189.17 224.41 L 188.54 224.29 L 187.93 224.22 L 187.34 224.20 L 186.78 224.22 L 186.26 224.29 L 185.77 224.41 L 185.32 224.57 L 184.92 224.78 L 184.57 225.03 L 184.26 225.32 L 184.01 225.65 L 183.81 226.01 L 183.67 226.41 L 183.58 226.84 L 183.55 227.29 L 183.58 227.77 L 183.67 228.27 L 183.81 228.79 L 184.01 229.31 L 184.26 229.85 L 184.57 230.39 L 184.92 230.93 L 185.32 231.46 L 185.77 231.99 L 186.26 232.50 L 186.78 233.00 L 187.34 233.48 L 187.93 233.94 L 188.54 234.37 L 189.17 234.76 L 189.81 235.13 L 190.47 235.46 L 191.13 235.75 L 191.79 236.00 L 192.45 236.20 L 193.09 236.37 L 193.72 236.48 L 194.34 236.55 L 194.92 236.58 L 195.48 236.55 L 196.00 236.48 L 196.49 236.37 L 196.94 236.20 L 197.34 236.00 L 197.70 235.75 L 198.00 235.46 L 198.26 235.13 L 198.45 234.76 L 198.60 234.37 L 198.68 233.94 L 198.71 233.48 " clip-path="url(#p28ccdaaddb)" style="fill: none; stroke: #afa028; stroke-width: 1.25; stroke-linecap: square"/>
</g>
<g id="patch_23">
<path d="M 145.22 276.36 L 145.22 184.41 " style="fill: none; stroke: #000000; stroke-width: 0.8; stroke-linejoin: miter; stroke-linecap: square"/>
</g>
<g id="patch_24">
<path d="M 237.04 276.36 L 237.04 184.41 " style="fill: none; stroke: #000000; stroke-width: 0.8; stroke-linejoin: miter; stroke-linecap: square"/>
</g>
<g id="patch_25">
<path d="M 145.22 276.36 L 237.04 276.36 " style="fill: none; stroke: #000000; stroke-width: 0.8; stroke-linejoin: miter; stroke-linecap: square"/>
</g>
<g id="patch_26">
<path d="M 145.22 184.41 L 237.04 184.41 " style="fill: none; stroke: #000000; stroke-width: 0.8; stroke-linejoin: miter; stroke-linecap: square"/>
</g>
</g>
<g id="axes_6">
<g id="patch_27">
<path d="M 237.04 276.36 L 328.86 276.36 L 328.86 184.41 L 237.04 184.41 z
" style="fill: #ffffff"/>
</g>
<g id="matplotlib.axis_11"/>
<g id="matplotlib.axis_12"/>
<g id="line2d_34">
<path d="M 237.04 276.36 L 249.29 276.25 L 253.57 275.99 L 256.32 275.63 L 258.77 275.09 L 260.92 274.39 L 262.75 273.57 L 264.59 272.54 L 266.43 271.28 L 268.57 269.53 L 271.32 266.97 L 276.22 262.35 L 278.06 260.96 L 279.59 260.06 L 280.81 259.57 L 282.03 259.29 L 283.26 259.23 L 284.48 259.40 L 285.71 259.79 L 286.93 260.39 L 288.46 261.39 L 290.30 262.88 L 293.05 265.47 L 297.34 269.53 L 299.48 271.28 L 301.62 272.73 L 303.46 273.72 L 305.60 274.61 L 307.75 275.25 L 310.19 275.73 L 313.25 276.07 L 317.23 276.27 L 324.27 276.35 L 328.86 276.36 L 328.86 276.36 " clip-path="url(#p725fcb1e02)" style="fill: none; stroke: #6cbd3a; stroke-opacity: 0.85; stroke-width: 1.41"/>
</g>
<g id="line2d_35">
<path d="M 237.04 276.36 L 275.00 276.26 L 275.61 276.08 L 276.22 275.67 L 276.83 274.78 L 277.44 272.99 L 278.06 269.75 L 278.67 264.38 L 279.28 256.30 L 279.89 245.34 L 282.34 196.02 L 282.65 193.60 L 282.95 192.77 L 283.26 193.60 L 283.57 196.02 L 284.18 205.03 L 285.10 224.93 L 286.32 251.17 L 286.93 260.70 L 287.54 267.37 L 288.16 271.59 L 288.77 274.03 L 289.38 275.30 L 289.99 275.92 L 290.60 276.19 L 291.52 276.33 L 294.28 276.36 L 328.86 276.36 L 328.86 276.36 " clip-path="url(#p725fcb1e02)" style="fill: none; stroke: #5f32be; stroke-opacity: 0.85; stroke-width: 1.41"/>
</g>
<g id="line2d_36">
<path d="M 237.04 276.32 L 244.39 276.14 L 248.67 275.84 L 252.04 275.40 L 255.10 274.78 L 257.86 274.00 L 260.61 272.97 L 263.36 271.69 L 266.43 270.01 L 275.91 264.58 L 278.06 263.71 L 279.89 263.19 L 281.73 262.90 L 283.57 262.86 L 285.40 263.07 L 287.24 263.51 L 289.07 264.17 L 291.22 265.17 L 293.97 266.70 L 302.85 271.84 L 305.60 273.09 L 308.36 274.10 L 311.11 274.85 L 314.17 275.45 L 317.54 275.87 L 321.82 276.15 L 327.95 276.31 L 328.86 276.32 L 328.86 276.32 " clip-path="url(#p725fcb1e02)" style="fill: none; stroke: #1a6ed2; stroke-opacity: 0.85; stroke-width: 1.41"/>
</g>
<g id="line2d_37">
<path d="M 237.04 276.36 L 267.65 276.25 L 269.18 276.03 L 270.40 275.61 L 271.32 275.04 L 272.24 274.14 L 273.16 272.78 L 274.08 270.83 L 275.00 268.17 L 275.91 264.73 L 277.14 259.01 L 281.12 238.76 L 281.73 236.93 L 282.34 235.79 L 282.65 235.50 L 282.95 235.40 L 283.26 235.50 L 283.57 235.79 L 284.18 236.93 L 284.79 238.76 L 285.71 242.58 L 286.93 248.96 L 289.38 262.02 L 290.60 267.11 L 291.52 270.02 L 292.44 272.20 L 293.36 273.75 L 294.28 274.79 L 295.20 275.45 L 296.11 275.86 L 297.34 276.15 L 299.18 276.31 L 303.46 276.36 L 328.86 276.36 L 328.86 276.36 " clip-path="url(#p725fcb1e02)" style="fill: none; stroke: #e02d32; stroke-opacity: 0.85; stroke-width: 1.41"/>
</g>
<g id="line2d_38">
<path d="M 237.04 276.36 L 273.16 276.28 L 274.08 276.10 L 274.69 275.81 L 275.30 275.27 L 275.91 274.29 L 276.53 272.66 L 277.14 270.09 L 277.75 266.26 L 278.36 260.94 L 279.28 250.01 L 282.03 212.03 L 282.34 209.87 L 282.65 208.54 L 282.95 208.09 L 283.26 208.54 L 283.57 209.87 L 284.18 214.94 L 284.79 222.55 L 287.54 260.94 L 288.16 266.26 L 288.77 270.09 L 289.38 272.66 L 289.99 274.29 L 290.60 275.27 L 291.22 275.81 L 291.83 276.10 L 292.75 276.28 L 294.58 276.36 L 312.64 276.36 L 328.86 276.36 L 328.86 276.36 " clip-path="url(#p725fcb1e02)" style="fill: none; stroke: #f0c828; stroke-opacity: 0.85; stroke-width: 1.41"/>
</g>
<g id="patch_28">
<path d="M 237.04 276.36 L 237.04 184.41 " style="fill: none; stroke: #000000; stroke-width: 0.8; stroke-linejoin: miter; stroke-linecap: square"/>
</g>
<g id="patch_29">
<path d="M 328.86 276.36 L 328.86 184.41 " style="fill: none; stroke: #000000; stroke-width: 0.8; stroke-linejoin: miter; stroke-linecap: square"/>
</g>
<g id="patch_30">
<path d="M 237.04 276.36 L 328.86 276.36 " style="fill: none; stroke: #000000; stroke-width: 0.8; stroke-linejoin: miter; stroke-linecap: square"/>
</g>
<g id="patch_31">
<path d="M 237.04 184.41 L 328.86 184.41 " style="fill: none; stroke: #000000; stroke-width: 0.8; stroke-linejoin: miter; stroke-linecap: square"/>
</g>
</g>
<g id="axes_7">
<g id="patch_32">
<path d="M 53.40 368.31 L 145.22 368.31 L 145.22 276.36 L 53.40 276.36 z
" style="fill: #ffffff"/>
</g>
<g id="matplotlib.axis_13"/>
<g id="matplotlib.axis_14">
<g id="ytick_9">
<g id="line2d_39">
<g>
<use href="#m5d545ce8f8" x="53.40" y="365.53" style="stroke: #000000; stroke-width: 0.8"/>
</g>
</g>
<g id="text_11">
<text style="font-size: 10px; font-family: 'Liberation Sans'" transform="translate(33.68 378.35) rotate(-45)" textLength="15.90" lengthAdjust="spacingAndGlyphs">2.4</text>
</g>
</g>
<g id="ytick_10">
<g id="line2d_40">
<g>
<use href="#m5d545ce8f8" x="53.40" y="343.93" style="stroke: #000000; stroke-width: 0.8"/>
</g>
</g>
<g id="text_12">
<text style="font-size: 10px; font-family: 'Liberation Sans'" transform="translate(33.68 356.75) rotate(-45)" textLength="15.90" lengthAdjust="spacingAndGlyphs">2.8</text>
</g>
</g>
<g id="ytick_11">
<g id="line2d_41">
<g>
<use href="#m5d545ce8f8" x="53.40" y="322.34" style="stroke: #000000; stroke-width: 0.8"/>
</g>
</g>
<g id="text_13">
<text style="font-size: 10px; font-family: 'Liberation Sans'" transform="translate(33.68 335.15) rotate(-45)" textLength="15.90" lengthAdjust="spacingAndGlyphs">3.2</text>
</g>
</g>
<g id="ytick_12">
<g id="line2d_42">
<g>
<use href="#m5d545ce8f8" x="53.40" y="300.74" style="stroke: #000000; stroke-width: 0.8"/>
</g>
</g>
<g id="text_14">
<text style="font-size: 10px; font-family: 'Liberation Sans'" transform="translate(33.68 313.56) rotate(-45)" textLength="15.90" lengthAdjust="spacingAndGlyphs">3.6</text>
</g>
</g>
<g id="ytick_13">
<g id="line2d_43">
<g>
<use href="#m5d545ce8f8" x="53.40" y="279.14" style="stroke: #000000; stroke-width: 0.8"/>
</g>
</g>
<g id="text_15">
<text style="font-size: 10px; font-family: 'Liberation Sans'" transform="translate(33.68 291.96) rotate(-45)" textLength="15.90" lengthAdjust="spacingAndGlyphs">4.0</text>
</g>
</g>
<g id="text_16">
<!-- M$_{\rm min}$ -->
<g transform="translate(21.81 337.75) rotate(-90)">
<text>
<tspan x="0" y="-0.25" style="font-size: 12px; font-family: 'Liberation Sans'" textLength="10.35" lengthAdjust="spacingAndGlyphs">M</tspan>
<tspan x="10.46" y="1.71" style="font-size: 8.4px; font-family: 'Liberation Sans'" textLength="8.18" lengthAdjust="spacingAndGlyphs">m</tspan>
<tspan x="18.65" y="1.71" style="font-size: 8.4px; font-family: 'Liberation Sans'" textLength="2.33" lengthAdjust="spacingAndGlyphs">i</tspan>
<tspan x="20.98" y="1.71" style="font-size: 8.4px; font-family: 'Liberation Sans'" textLength="5.32" lengthAdjust="spacingAndGlyphs">n</tspan>
</text>
</g>
</g>
</g>
<g id="line2d_44">
<path d="M 129.84 310.23 L 129.72 307.78 L 129.38 305.45 L 128.80 303.24 L 128.00 301.18 L 126.98 299.28 L 125.75 297.56 L 124.32 296.02 L 122.70 294.68 L 120.90 293.56 L 118.93 292.65 L 116.82 291.97 L 114.57 291.52 L 112.21 291.31 L 109.75 291.33 L 107.21 291.59 L 104.61 292.08 L 101.97 292.80 L 99.31 293.75 L 96.65 294.91 L 94.01 296.28 L 91.41 297.86 L 88.87 299.61 L 86.41 301.54 L 84.04 303.63 L 81.80 305.86 L 79.68 308.22 L 77.72 310.68 L 75.92 313.23 L 74.30 315.86 L 72.87 318.53 L 71.64 321.23 L 70.62 323.94 L 69.82 326.63 L 69.24 329.30 L 68.90 331.91 L 68.78 334.44 L 68.90 336.89 L 69.24 339.22 L 69.82 341.43 L 70.62 343.49 L 71.64 345.39 L 72.87 347.11 L 74.30 348.65 L 75.92 349.99 L 77.72 351.11 L 79.68 352.02 L 81.80 352.70 L 84.04 353.15 L 86.41 353.36 L 88.87 353.34 L 91.41 353.08 L 94.01 352.59 L 96.65 351.87 L 99.31 350.92 L 101.97 349.76 L 104.61 348.39 L 107.21 346.82 L 109.75 345.06 L 112.21 343.13 L 114.57 341.04 L 116.82 338.81 L 118.93 336.45 L 120.90 333.99 L 122.70 331.44 L 124.32 328.81 L 125.75 326.14 L 126.98 323.44 L 128.00 320.74 L 128.80 318.04 L 129.38 315.38 L 129.72 312.77 L 129.84 310.23 " clip-path="url(#p8e2577eadd)" style="fill: none; stroke: #235fa0; stroke-width: 1.25; stroke-linecap: square"/>
</g>
<g id="line2d_45">
<path d="M 107.15 322.34 L 107.12 320.64 L 107.03 318.95 L 106.88 317.29 L 106.68 315.67 L 106.41 314.10 L 106.10 312.59 L 105.73 311.15 L 105.31 309.81 L 104.85 308.55 L 104.35 307.40 L 103.81 306.37 L 103.23 305.45 L 102.62 304.67 L 101.99 304.02 L 101.34 303.51 L 100.67 303.14 L 99.99 302.92 L 99.31 302.84 L 98.63 302.92 L 97.95 303.14 L 97.28 303.51 L 96.63 304.02 L 96.00 304.67 L 95.39 305.45 L 94.81 306.37 L 94.27 307.40 L 93.77 308.55 L 93.30 309.81 L 92.89 311.15 L 92.52 312.59 L 92.20 314.10 L 91.94 315.67 L 91.74 317.29 L 91.59 318.95 L 91.50 320.64 L 91.47 322.34 L 91.50 324.03 L 91.59 325.72 L 91.74 327.38 L 91.94 329.00 L 92.20 330.57 L 92.52 332.08 L 92.89 333.52 L 93.30 334.87 L 93.77 336.12 L 94.27 337.27 L 94.81 338.30 L 95.39 339.22 L 96.00 340.00 L 96.63 340.65 L 97.28 341.16 L 97.95 341.53 L 98.63 341.75 L 99.31 341.83 L 99.99 341.75 L 100.67 341.53 L 101.34 341.16 L 101.99 340.65 L 102.62 340.00 L 103.23 339.22 L 103.81 338.30 L 104.35 337.27 L 104.85 336.12 L 105.31 334.87 L 105.73 333.52 L 106.10 332.08 L 106.41 330.57 L 106.68 329.00 L 106.88 327.38 L 107.03 325.72 L 107.12 324.03 L 107.15 322.34 " clip-path="url(#p8e2577eadd)" style="fill: none; stroke: #5f9137; stroke-width: 1.25; stroke-linecap: square"/>
</g>
<g id="line2d_46">
<path d="M 127.47 313.10 L 127.36 310.66 L 127.04 308.31 L 126.51 306.08 L 125.77 303.96 L 124.83 301.98 L 123.69 300.16 L 122.37 298.51 L 120.88 297.04 L 119.22 295.76 L 117.41 294.69 L 115.46 293.82 L 113.39 293.17 L 111.21 292.75 L 108.94 292.55 L 106.60 292.57 L 104.20 292.82 L 101.76 293.30 L 99.31 294.00 L 96.86 294.91 L 94.42 296.03 L 92.02 297.35 L 89.68 298.87 L 87.41 300.56 L 85.23 302.41 L 83.16 304.42 L 81.21 306.57 L 79.40 308.83 L 77.74 311.20 L 76.24 313.65 L 74.92 316.17 L 73.79 318.73 L 72.85 321.33 L 72.11 323.93 L 71.58 326.51 L 71.26 329.07 L 71.15 331.58 L 71.26 334.01 L 71.58 336.36 L 72.11 338.60 L 72.85 340.71 L 73.79 342.69 L 74.92 344.51 L 76.24 346.16 L 77.74 347.63 L 79.40 348.91 L 81.21 349.98 L 83.16 350.85 L 85.23 351.50 L 87.41 351.92 L 89.68 352.13 L 92.02 352.10 L 94.42 351.85 L 96.86 351.37 L 99.31 350.67 L 101.76 349.76 L 104.20 348.64 L 106.60 347.32 L 108.94 345.80 L 111.21 344.11 L 113.39 342.26 L 115.46 340.25 L 117.41 338.10 L 119.22 335.84 L 120.88 333.47 L 122.37 331.02 L 123.69 328.50 L 124.83 325.94 L 125.77 323.34 L 126.51 320.74 L 127.04 318.16 L 127.36 315.60 L 127.47 313.10 " clip-path="url(#p8e2577eadd)" style="fill: none; stroke: #aa282d; stroke-width: 1.25; stroke-linecap: square"/>
</g>
<g id="line2d_47">
<path d="M 106.01 322.34 L 105.99 320.96 L 105.91 319.59 L 105.78 318.25 L 105.61 316.94 L 105.38 315.67 L 105.11 314.44 L 104.80 313.28 L 104.44 312.19 L 104.05 311.18 L 103.62 310.25 L 103.15 309.41 L 102.66 308.67 L 102.14 308.03 L 101.60 307.51 L 101.04 307.09 L 100.47 306.79 L 99.89 306.61 L 99.31 306.55 L 98.72 306.61 L 98.15 306.79 L 97.57 307.09 L 97.02 307.51 L 96.48 308.03 L 95.96 308.67 L 95.46 309.41 L 95.00 310.25 L 94.57 311.18 L 94.17 312.19 L 93.82 313.28 L 93.50 314.44 L 93.23 315.67 L 93.01 316.94 L 92.83 318.25 L 92.71 319.59 L 92.63 320.96 L 92.61 322.34 L 92.63 323.71 L 92.71 325.08 L 92.83 326.42 L 93.01 327.73 L 93.23 329.00 L 93.50 330.23 L 93.82 331.39 L 94.17 332.48 L 94.57 333.49 L 95.00 334.42 L 95.46 335.26 L 95.96 336.00 L 96.48 336.64 L 97.02 337.16 L 97.57 337.58 L 98.15 337.88 L 98.72 338.06 L 99.31 338.12 L 99.89 338.06 L 100.47 337.88 L 101.04 337.58 L 101.60 337.16 L 102.14 336.64 L 102.66 336.00 L 103.15 335.26 L 103.62 334.42 L 104.05 333.49 L 104.44 332.48 L 104.80 331.39 L 105.11 330.23 L 105.38 329.00 L 105.61 327.73 L 105.78 326.42 L 105.91 325.08 L 105.99 323.71 L 106.01 322.34 " clip-path="url(#p8e2577eadd)" style="fill: none; stroke: #552896; stroke-width: 1.25; stroke-linecap: square"/>
</g>
<g id="line2d_48">
<path d="M 123.55 317.84 L 123.46 316.12 L 123.18 314.45 L 122.72 312.84 L 122.09 311.30 L 121.28 309.84 L 120.30 308.48 L 119.16 307.23 L 117.88 306.09 L 116.45 305.07 L 114.89 304.19 L 113.21 303.44 L 111.43 302.84 L 109.55 302.38 L 107.60 302.08 L 105.58 301.93 L 103.52 301.94 L 101.42 302.10 L 99.31 302.41 L 97.20 302.88 L 95.10 303.50 L 93.04 304.26 L 91.02 305.15 L 89.07 306.18 L 87.19 307.33 L 85.41 308.59 L 83.73 309.96 L 82.17 311.43 L 80.74 312.97 L 79.45 314.59 L 78.32 316.27 L 77.34 317.99 L 76.53 319.74 L 75.90 321.52 L 75.44 323.30 L 75.16 325.07 L 75.07 326.83 L 75.16 328.55 L 75.44 330.22 L 75.90 331.83 L 76.53 333.37 L 77.34 334.83 L 78.32 336.19 L 79.45 337.44 L 80.74 338.58 L 82.17 339.60 L 83.73 340.48 L 85.41 341.23 L 87.19 341.83 L 89.07 342.29 L 91.02 342.59 L 93.04 342.74 L 95.10 342.73 L 97.20 342.57 L 99.31 342.26 L 101.42 341.79 L 103.52 341.17 L 105.58 340.42 L 107.60 339.52 L 109.55 338.49 L 111.43 337.34 L 113.21 336.08 L 114.89 334.71 L 116.45 333.25 L 117.88 331.70 L 119.16 330.08 L 120.30 328.41 L 121.28 326.68 L 122.09 324.93 L 122.72 323.15 L 123.18 321.37 L 123.46 319.60 L 123.55 317.84 " clip-path="url(#p8e2577eadd)" style="fill: none; stroke: #afa028; stroke-width: 1.25; stroke-linecap: square"/>
</g>
<g id="patch_33">
<path d="M 53.40 368.31 L 53.40 276.36 " style="fill: none; stroke: #000000; stroke-width: 0.8; stroke-linejoin: miter; stroke-linecap: square"/>
</g>
<g id="patch_34">
<path d="M 145.22 368.31 L 145.22 276.36 " style="fill: none; stroke: #000000; stroke-width: 0.8; stroke-linejoin: miter; stroke-linecap: square"/>
</g>
<g id="patch_35">
<path d="M 53.40 368.31 L 145.22 368.31 " style="fill: none; stroke: #000000; stroke-width: 0.8; stroke-linejoin: miter; stroke-linecap: square"/>
</g>
<g id="patch_36">
<path d="M 53.40 276.36 L 145.22 276.36 " style="fill: none; stroke: #000000; stroke-width: 0.8; stroke-linejoin: miter; stroke-linecap: square"/>
</g>
</g>
<g id="axes_8">
<g id="patch_37">
<path d="M 145.22 368.31 L 237.04 368.31 L 237.04 276.36 L 145.22 276.36 z
" style="fill: #ffffff"/>
</g>
<g id="matplotlib.axis_15"/>
<g id="matplotlib.axis_16"/>
<g id="line2d_49">
<path d="M 221.76 337.86 L 221.65 335.46 L 221.30 332.95 L 220.72 330.37 L 219.92 327.73 L 218.89 325.04 L 217.66 322.34 L 216.22 319.63 L 214.60 316.94 L 212.79 314.30 L 210.82 311.72 L 208.70 309.21 L 206.45 306.81 L 204.08 304.53 L 201.61 302.38 L 199.06 300.38 L 196.45 298.55 L 193.80 296.90 L 191.13 295.45 L 188.46 294.20 L 185.81 293.16 L 183.20 292.35 L 180.65 291.76 L 178.18 291.41 L 175.81 291.29 L 173.56 291.41 L 171.44 291.76 L 169.47 292.35 L 167.66 293.16 L 166.04 294.20 L 164.60 295.45 L 163.37 296.90 L 162.35 298.55 L 161.54 300.38 L 160.96 302.38 L 160.61 304.53 L 160.50 306.81 L 160.61 309.21 L 160.96 311.72 L 161.54 314.30 L 162.35 316.94 L 163.37 319.63 L 164.60 322.34 L 166.04 325.04 L 167.66 327.73 L 169.47 330.37 L 171.44 332.95 L 173.56 335.46 L 175.81 337.86 L 178.18 340.14 L 180.65 342.29 L 183.20 344.29 L 185.81 346.12 L 188.46 347.77 L 191.13 349.22 L 193.80 350.47 L 196.45 351.51 L 199.06 352.32 L 201.61 352.91 L 204.08 353.26 L 206.45 353.38 L 208.70 353.26 L 210.82 352.91 L 212.79 352.32 L 214.60 351.51 L 216.22 350.47 L 217.66 349.22 L 218.89 347.77 L 219.92 346.12 L 220.72 344.29 L 221.30 342.29 L 221.65 340.14 L 221.76 337.86 " clip-path="url(#p57407132d1)" style="fill: none; stroke: #235fa0; stroke-width: 1.25; stroke-linecap: square"/>
</g>
<g id="line2d_50">
<path d="M 208.77 319.80 L 208.70 318.13 L 208.50 316.48 L 208.17 314.89 L 207.71 313.34 L 207.12 311.87 L 206.41 310.48 L 205.58 309.17 L 204.64 307.97 L 203.60 306.88 L 202.47 305.90 L 201.25 305.05 L 199.95 304.33 L 198.59 303.75 L 197.16 303.31 L 195.70 303.01 L 194.19 302.86 L 192.67 302.86 L 191.13 303.01 L 189.59 303.30 L 188.07 303.74 L 186.57 304.32 L 185.10 305.04 L 183.68 305.89 L 182.31 306.86 L 181.01 307.96 L 179.79 309.16 L 178.66 310.46 L 177.62 311.85 L 176.68 313.33 L 175.86 314.87 L 175.15 316.46 L 174.56 318.11 L 174.09 319.78 L 173.76 321.47 L 173.56 323.18 L 173.49 324.87 L 173.56 326.54 L 173.76 328.19 L 174.09 329.79 L 174.56 331.33 L 175.15 332.80 L 175.86 334.19 L 176.68 335.50 L 177.62 336.70 L 178.66 337.79 L 179.79 338.77 L 181.01 339.62 L 182.31 340.34 L 183.68 340.92 L 185.10 341.36 L 186.57 341.66 L 188.07 341.81 L 189.59 341.81 L 191.13 341.66 L 192.67 341.37 L 194.19 340.93 L 195.70 340.35 L 197.16 339.63 L 198.59 338.78 L 199.95 337.81 L 201.25 336.71 L 202.47 335.51 L 203.60 334.21 L 204.64 332.82 L 205.58 331.35 L 206.41 329.80 L 207.12 328.21 L 207.71 326.56 L 208.17 324.89 L 208.50 323.20 L 208.70 321.50 L 208.77 319.80 " clip-path="url(#p57407132d1)" style="fill: none; stroke: #5f9137; stroke-width: 1.25; stroke-linecap: square"/>
</g>
<g id="line2d_51">
<path d="M 200.83 331.28 L 200.79 328.77 L 200.68 326.20 L 200.50 323.61 L 200.24 321.01 L 199.92 318.42 L 199.53 315.86 L 199.07 313.35 L 198.56 310.91 L 197.99 308.55 L 197.36 306.30 L 196.69 304.17 L 195.98 302.18 L 195.23 300.34 L 194.45 298.67 L 193.64 297.18 L 192.81 295.89 L 191.98 294.79 L 191.13 293.90 L 190.29 293.23 L 189.45 292.78 L 188.62 292.56 L 187.82 292.56 L 187.03 292.79 L 186.28 293.24 L 185.57 293.91 L 184.90 294.81 L 184.28 295.91 L 183.70 297.21 L 183.19 298.70 L 182.73 300.37 L 182.34 302.21 L 182.02 304.21 L 181.77 306.34 L 181.58 308.59 L 181.47 310.95 L 181.44 313.39 L 181.47 315.91 L 181.58 318.47 L 181.77 321.06 L 182.02 323.66 L 182.34 326.25 L 182.73 328.81 L 183.19 331.32 L 183.70 333.76 L 184.28 336.12 L 184.90 338.37 L 185.57 340.50 L 186.28 342.49 L 187.03 344.33 L 187.82 346.00 L 188.62 347.49 L 189.45 348.78 L 190.29 349.88 L 191.13 350.77 L 191.98 351.44 L 192.81 351.89 L 193.64 352.12 L 194.45 352.11 L 195.23 351.88 L 195.98 351.43 L 196.69 350.76 L 197.36 349.87 L 197.99 348.76 L 198.56 347.46 L 199.07 345.97 L 199.53 344.30 L 199.92 342.46 L 200.24 340.46 L 200.50 338.33 L 200.68 336.08 L 200.79 333.72 L 200.83 331.28 " clip-path="url(#p57407132d1)" style="fill: none; stroke: #aa282d; stroke-width: 1.25; stroke-linecap: square"/>
</g>
<g id="line2d_52">
<path d="M 197.53 321.55 L 197.50 320.18 L 197.43 318.82 L 197.31 317.49 L 197.14 316.20 L 196.93 314.96 L 196.67 313.77 L 196.37 312.65 L 196.03 311.60 L 195.65 310.63 L 195.24 309.75 L 194.80 308.97 L 194.33 308.29 L 193.83 307.72 L 193.32 307.25 L 192.79 306.91 L 192.24 306.68 L 191.69 306.57 L 191.13 306.57 L 190.57 306.70 L 190.02 306.95 L 189.48 307.32 L 188.94 307.79 L 188.43 308.38 L 187.93 309.08 L 187.46 309.88 L 187.02 310.77 L 186.61 311.75 L 186.23 312.81 L 185.89 313.94 L 185.59 315.14 L 185.34 316.39 L 185.12 317.69 L 184.95 319.02 L 184.83 320.38 L 184.76 321.75 L 184.74 323.12 L 184.76 324.50 L 184.83 325.85 L 184.95 327.18 L 185.12 328.47 L 185.34 329.71 L 185.59 330.90 L 185.89 332.02 L 186.23 333.07 L 186.61 334.04 L 187.02 334.92 L 187.46 335.70 L 187.93 336.38 L 188.43 336.95 L 188.94 337.42 L 189.48 337.76 L 190.02 337.99 L 190.57 338.11 L 191.13 338.10 L 191.69 337.97 L 192.24 337.72 L 192.79 337.36 L 193.32 336.88 L 193.83 336.29 L 194.33 335.59 L 194.80 334.79 L 195.24 333.90 L 195.65 332.92 L 196.03 331.86 L 196.37 330.73 L 196.67 329.53 L 196.93 328.28 L 197.14 326.98 L 197.31 325.65 L 197.43 324.30 L 197.50 322.92 L 197.53 321.55 " clip-path="url(#p57407132d1)" style="fill: none; stroke: #552896; stroke-width: 1.25; stroke-linecap: square"/>
</g>
<g id="line2d_53">
<path d="M 198.71 324.38 L 198.68 322.60 L 198.60 320.82 L 198.45 319.05 L 198.26 317.30 L 198.00 315.60 L 197.70 313.94 L 197.34 312.35 L 196.94 310.84 L 196.49 309.41 L 196.00 308.08 L 195.48 306.86 L 194.92 305.76 L 194.34 304.78 L 193.72 303.94 L 193.09 303.24 L 192.45 302.68 L 191.79 302.27 L 191.13 302.02 L 190.47 301.92 L 189.81 301.97 L 189.17 302.18 L 188.54 302.54 L 187.93 303.06 L 187.34 303.72 L 186.78 304.52 L 186.26 305.46 L 185.77 306.52 L 185.32 307.71 L 184.92 309.01 L 184.57 310.41 L 184.26 311.90 L 184.01 313.47 L 183.81 315.10 L 183.67 316.80 L 183.58 318.53 L 183.55 320.29 L 183.58 322.07 L 183.67 323.85 L 183.81 325.62 L 184.01 327.37 L 184.26 329.07 L 184.57 330.73 L 184.92 332.32 L 185.32 333.83 L 185.77 335.26 L 186.26 336.59 L 186.78 337.81 L 187.34 338.91 L 187.93 339.89 L 188.54 340.73 L 189.17 341.43 L 189.81 341.99 L 190.47 342.40 L 191.13 342.65 L 191.79 342.76 L 192.45 342.70 L 193.09 342.49 L 193.72 342.13 L 194.34 341.61 L 194.92 340.95 L 195.48 340.15 L 196.00 339.21 L 196.49 338.15 L 196.94 336.96 L 197.34 335.66 L 197.70 334.26 L 198.00 332.77 L 198.26 331.20 L 198.45 329.57 L 198.60 327.87 L 198.68 326.14 L 198.71 324.38 " clip-path="url(#p57407132d1)" style="fill: none; stroke: #afa028; stroke-width: 1.25; stroke-linecap: square"/>
</g>
<g id="patch_38">
<path d="M 145.22 368.31 L 145.22 276.36 " style="fill: none; stroke: #000000; stroke-width: 0.8; stroke-linejoin: miter; stroke-linecap: square"/>
</g>
<g id="patch_39">
<path d="M 237.04 368.31 L 237.04 276.36 " style="fill: none; stroke: #000000; stroke-width: 0.8; stroke-linejoin: miter; stroke-linecap: square"/>
</g>
<g id="patch_40">
<path d="M 145.22 368.31 L 237.04 368.31 " style="fill: none; stroke: #000000; stroke-width: 0.8; stroke-linejoin: miter; stroke-linecap: square"/>
</g>
<g id="patch_41">
<path d="M 145.22 276.36 L 237.04 276.36 " style="fill: none; stroke: #000000; stroke-width: 0.8; stroke-linejoin: miter; stroke-linecap: square"/>
</g>
</g>
<g id="axes_9">
<g id="patch_42">
<path d="M 237.04 368.31 L 328.86 368.31 L 328.86 276.36 L 237.04 276.36 z
" style="fill: #ffffff"/>
</g>
<g id="matplotlib.axis_17"/>
<g id="matplotlib.axis_18"/>
<g id="line2d_54">
<path d="M 314.21 321.71 L 314.09 319.01 L 313.73 316.33 L 313.14 313.70 L 312.32 311.14 L 311.28 308.65 L 310.02 306.28 L 308.55 304.02 L 306.89 301.91 L 305.05 299.95 L 303.04 298.16 L 300.88 296.55 L 298.58 295.14 L 296.16 293.94 L 293.64 292.96 L 291.04 292.19 L 288.38 291.66 L 285.68 291.36 L 282.95 291.30 L 280.23 291.47 L 277.53 291.87 L 274.86 292.51 L 272.26 293.38 L 269.75 294.47 L 267.33 295.76 L 265.03 297.27 L 262.86 298.96 L 260.85 300.83 L 259.01 302.86 L 257.35 305.04 L 255.89 307.35 L 254.63 309.78 L 253.59 312.30 L 252.77 314.90 L 252.18 317.56 L 251.82 320.25 L 251.70 322.96 L 251.82 325.66 L 252.18 328.34 L 252.77 330.97 L 253.59 333.54 L 254.63 336.02 L 255.89 338.39 L 257.35 340.65 L 259.01 342.76 L 260.85 344.72 L 262.86 346.51 L 265.03 348.12 L 267.33 349.53 L 269.75 350.73 L 272.26 351.72 L 274.86 352.48 L 277.53 353.01 L 280.23 353.31 L 282.95 353.38 L 285.68 353.20 L 288.38 352.80 L 291.04 352.16 L 293.64 351.29 L 296.16 350.20 L 298.58 348.91 L 300.88 347.41 L 303.04 345.71 L 305.05 343.84 L 306.89 341.81 L 308.55 339.63 L 310.02 337.32 L 311.28 334.89 L 312.32 332.37 L 313.14 329.77 L 313.73 327.11 L 314.09 324.42 L 314.21 321.71 " clip-path="url(#pb7c026af88)" style="fill: none; stroke: #235fa0; stroke-width: 1.25; stroke-linecap: square"/>
</g>
<g id="line2d_55">
<path d="M 307.60 322.34 L 307.51 320.64 L 307.23 318.95 L 306.76 317.29 L 306.12 315.67 L 305.29 314.10 L 304.30 312.59 L 303.15 311.15 L 301.84 309.81 L 300.38 308.55 L 298.80 307.40 L 297.09 306.37 L 295.28 305.45 L 293.37 304.67 L 291.38 304.02 L 289.33 303.51 L 287.23 303.14 L 285.10 302.92 L 282.95 302.84 L 280.80 302.92 L 278.67 303.14 L 276.57 303.51 L 274.52 304.02 L 272.54 304.67 L 270.63 305.45 L 268.81 306.37 L 267.11 307.40 L 265.52 308.55 L 264.07 309.81 L 262.76 311.15 L 261.61 312.59 L 260.61 314.10 L 259.79 315.67 L 259.14 317.29 L 258.68 318.95 L 258.40 320.64 L 258.30 322.34 L 258.40 324.03 L 258.68 325.72 L 259.14 327.38 L 259.79 329.00 L 260.61 330.57 L 261.61 332.08 L 262.76 333.52 L 264.07 334.87 L 265.52 336.12 L 267.11 337.27 L 268.81 338.30 L 270.63 339.22 L 272.54 340.00 L 274.52 340.65 L 276.57 341.16 L 278.67 341.53 L 280.80 341.75 L 282.95 341.83 L 285.10 341.75 L 287.23 341.53 L 289.33 341.16 L 291.38 340.65 L 293.37 340.00 L 295.28 339.22 L 297.09 338.30 L 298.80 337.27 L 300.38 336.12 L 301.84 334.87 L 303.15 333.52 L 304.30 332.08 L 305.29 330.57 L 306.12 329.00 L 306.76 327.38 L 307.23 325.72 L 307.51 324.03 L 307.60 322.34 " clip-path="url(#pb7c026af88)" style="fill: none; stroke: #5f9137; stroke-width: 1.25; stroke-linecap: square"/>
</g>
<g id="line2d_56">
<path d="M 293.27 313.69 L 293.23 311.24 L 293.11 308.87 L 292.92 306.60 L 292.65 304.46 L 292.30 302.45 L 291.89 300.59 L 291.40 298.89 L 290.85 297.38 L 290.25 296.05 L 289.58 294.93 L 288.87 294.01 L 288.11 293.31 L 287.31 292.83 L 286.48 292.57 L 285.62 292.54 L 284.74 292.74 L 283.85 293.16 L 282.95 293.81 L 282.05 294.67 L 281.16 295.74 L 280.28 297.02 L 279.43 298.49 L 278.59 300.13 L 277.80 301.95 L 277.04 303.93 L 276.32 306.04 L 275.66 308.28 L 275.05 310.62 L 274.50 313.05 L 274.02 315.56 L 273.61 318.11 L 273.26 320.70 L 272.99 323.30 L 272.80 325.89 L 272.68 328.46 L 272.64 330.98 L 272.68 333.43 L 272.80 335.80 L 272.99 338.07 L 273.26 340.21 L 273.61 342.23 L 274.02 344.08 L 274.50 345.78 L 275.05 347.29 L 275.66 348.62 L 276.32 349.74 L 277.04 350.66 L 277.80 351.36 L 278.59 351.84 L 279.43 352.10 L 280.28 352.13 L 281.16 351.93 L 282.05 351.51 L 282.95 350.86 L 283.85 350.00 L 284.74 348.93 L 285.62 347.65 L 286.48 346.18 L 287.31 344.54 L 288.11 342.72 L 288.87 340.74 L 289.58 338.63 L 290.25 336.39 L 290.85 334.05 L 291.40 331.62 L 291.89 329.11 L 292.30 326.56 L 292.65 323.97 L 292.92 321.37 L 293.11 318.78 L 293.23 316.21 L 293.27 313.69 " clip-path="url(#pb7c026af88)" style="fill: none; stroke: #aa282d; stroke-width: 1.25; stroke-linecap: square"/>
</g>
<g id="line2d_57">
<path d="M 288.01 322.34 L 287.99 320.96 L 287.93 319.59 L 287.84 318.25 L 287.70 316.94 L 287.53 315.67 L 287.33 314.44 L 287.09 313.28 L 286.83 312.19 L 286.53 311.18 L 286.20 310.25 L 285.85 309.41 L 285.48 308.67 L 285.09 308.03 L 284.68 307.51 L 284.26 307.09 L 283.83 306.79 L 283.39 306.61 L 282.95 306.55 L 282.51 306.61 L 282.08 306.79 L 281.64 307.09 L 281.22 307.51 L 280.82 308.03 L 280.43 308.67 L 280.05 309.41 L 279.70 310.25 L 279.38 311.18 L 279.08 312.19 L 278.81 313.28 L 278.58 314.44 L 278.37 315.67 L 278.20 316.94 L 278.07 318.25 L 277.98 319.59 L 277.92 320.96 L 277.90 322.34 L 277.92 323.71 L 277.98 325.08 L 278.07 326.42 L 278.20 327.73 L 278.37 329.00 L 278.58 330.23 L 278.81 331.39 L 279.08 332.48 L 279.38 333.49 L 279.70 334.42 L 280.05 335.26 L 280.43 336.00 L 280.82 336.64 L 281.22 337.16 L 281.64 337.58 L 282.08 337.88 L 282.51 338.06 L 282.95 338.12 L 283.39 338.06 L 283.83 337.88 L 284.26 337.58 L 284.68 337.16 L 285.09 336.64 L 285.48 336.00 L 285.85 335.26 L 286.20 334.42 L 286.53 333.49 L 286.83 332.48 L 287.09 331.39 L 287.33 330.23 L 287.53 329.00 L 287.70 327.73 L 287.84 326.42 L 287.93 325.08 L 287.99 323.71 L 288.01 322.34 " clip-path="url(#pb7c026af88)" style="fill: none; stroke: #552896; stroke-width: 1.25; stroke-linecap: square"/>
</g>
<g id="line2d_58">
<path d="M 289.14 321.31 L 289.12 319.54 L 289.05 317.79 L 288.93 316.07 L 288.77 314.40 L 288.56 312.79 L 288.31 311.25 L 288.02 309.80 L 287.69 308.44 L 287.33 307.19 L 286.93 306.05 L 286.50 305.04 L 286.05 304.16 L 285.57 303.42 L 285.07 302.82 L 284.55 302.37 L 284.03 302.07 L 283.49 301.93 L 282.95 301.94 L 282.41 302.11 L 281.88 302.43 L 281.35 302.90 L 280.84 303.52 L 280.34 304.28 L 279.86 305.18 L 279.40 306.21 L 278.98 307.37 L 278.58 308.63 L 278.21 310.01 L 277.88 311.47 L 277.59 313.02 L 277.34 314.64 L 277.14 316.32 L 276.98 318.04 L 276.86 319.80 L 276.79 321.57 L 276.76 323.36 L 276.79 325.13 L 276.86 326.88 L 276.98 328.60 L 277.14 330.27 L 277.34 331.88 L 277.59 333.42 L 277.88 334.87 L 278.21 336.23 L 278.58 337.48 L 278.98 338.62 L 279.40 339.63 L 279.86 340.51 L 280.34 341.25 L 280.84 341.85 L 281.35 342.30 L 281.88 342.60 L 282.41 342.74 L 282.95 342.73 L 283.49 342.57 L 284.03 342.24 L 284.55 341.77 L 285.07 341.15 L 285.57 340.39 L 286.05 339.49 L 286.50 338.46 L 286.93 337.30 L 287.33 336.04 L 287.69 334.66 L 288.02 333.20 L 288.31 331.65 L 288.56 330.03 L 288.77 328.35 L 288.93 326.63 L 289.05 324.87 L 289.12 323.10 L 289.14 321.31 " clip-path="url(#pb7c026af88)" style="fill: none; stroke: #afa028; stroke-width: 1.25; stroke-linecap: square"/>
</g>
<g id="patch_43">
<path d="M 237.04 368.31 L 237.04 276.36 " style="fill: none; stroke: #000000; stroke-width: 0.8; stroke-linejoin: miter; stroke-linecap: square"/>
</g>
<g id="patch_44">
<path d="M 328.86 368.31 L 328.86 276.36 " style="fill: none; stroke: #000000; stroke-width: 0.8; stroke-linejoin: miter; stroke-linecap: square"/>
</g>
<g id="patch_45">
<path d="M 237.04 368.31 L 328.86 368.31 " style="fill: none; stroke: #000000; stroke-width: 0.8; stroke-linejoin: miter; stroke-linecap: square"/>
</g>
<g id="patch_46">
<path d="M 237.04 276.36 L 328.86 276.36 " style="fill: none; stroke: #000000; stroke-width: 0.8; stroke-linejoin: miter; stroke-linecap: square"/>
</g>
</g>
<g id="axes_10">
<g id="patch_47">
<path d="M 328.86 368.31 L 420.69 368.31 L 420.69 276.36 L 328.86 276.36 z
" style="fill: #ffffff"/>
</g>
<g id="matplotlib.axis_19"/>
<g id="matplotlib.axis_20"/>
<g id="line2d_59">
<path d="M 328.86 368.31 L 344.47 368.21 L 347.53 367.96 L 349.37 367.62 L 350.90 367.13 L 352.13 366.55 L 353.35 365.72 L 354.57 364.60 L 355.80 363.09 L 357.02 361.12 L 358.25 358.61 L 359.47 355.52 L 360.70 351.79 L 361.92 347.42 L 363.45 341.13 L 365.59 331.16 L 369.27 313.78 L 370.49 308.92 L 371.71 305.00 L 372.63 302.81 L 373.24 301.76 L 373.86 301.04 L 374.47 300.68 L 375.08 300.68 L 375.69 301.04 L 376.31 301.76 L 376.92 302.81 L 377.84 305.00 L 378.75 307.85 L 379.98 312.49 L 381.51 319.29 L 387.02 345.01 L 388.55 350.75 L 389.77 354.65 L 391.00 357.90 L 392.22 360.54 L 393.45 362.64 L 394.67 364.26 L 395.89 365.47 L 397.12 366.37 L 398.34 367.01 L 399.87 367.54 L 401.71 367.92 L 404.16 368.16 L 408.14 368.28 L 420.38 368.31 L 420.69 368.31 L 420.69 368.31 " clip-path="url(#p739e882ca3)" style="fill: none; stroke: #6cbd3a; stroke-opacity: 0.85; stroke-width: 1.41"/>
</g>
<g id="line2d_60">
<path d="M 328.86 368.31 L 349.98 368.20 L 352.13 367.99 L 353.66 367.65 L 354.88 367.17 L 356.10 366.41 L 357.02 365.58 L 357.94 364.45 L 358.86 362.96 L 359.78 361.03 L 360.70 358.59 L 361.61 355.55 L 362.53 351.88 L 363.76 345.93 L 364.98 338.80 L 366.51 328.47 L 371.10 296.10 L 372.02 291.33 L 372.94 287.72 L 373.55 286.07 L 374.16 285.06 L 374.47 284.81 L 374.78 284.72 L 375.08 284.81 L 375.39 285.06 L 376.00 286.07 L 376.61 287.72 L 377.22 289.99 L 378.14 294.40 L 379.37 301.81 L 381.20 314.92 L 383.96 334.83 L 385.49 344.25 L 386.71 350.50 L 387.94 355.55 L 388.85 358.59 L 389.77 361.03 L 390.69 362.96 L 391.61 364.45 L 392.53 365.58 L 393.45 366.41 L 394.67 367.17 L 395.89 367.65 L 397.42 367.99 L 399.57 368.20 L 403.24 368.30 L 420.38 368.31 L 420.69 368.31 L 420.69 368.31 " clip-path="url(#p739e882ca3)" style="fill: none; stroke: #5f32be; stroke-opacity: 0.85; stroke-width: 1.41"/>
</g>
<g id="line2d_61">
<path d="M 328.86 368.19 L 333.46 367.96 L 336.82 367.56 L 339.27 367.07 L 341.41 366.43 L 343.25 365.69 L 345.09 364.72 L 346.92 363.48 L 348.76 361.94 L 350.60 360.06 L 352.43 357.83 L 354.27 355.24 L 356.41 351.81 L 358.86 347.43 L 366.82 332.73 L 368.65 330.06 L 370.18 328.26 L 371.41 327.15 L 372.63 326.36 L 373.55 326.00 L 374.47 325.83 L 375.39 325.86 L 376.31 326.10 L 377.22 326.53 L 378.45 327.40 L 379.67 328.58 L 380.90 330.06 L 382.43 332.25 L 384.26 335.30 L 387.02 340.40 L 392.53 350.75 L 394.67 354.30 L 396.81 357.42 L 398.65 359.72 L 400.49 361.65 L 402.32 363.25 L 404.16 364.53 L 405.99 365.55 L 407.83 366.33 L 409.97 366.99 L 412.42 367.51 L 415.48 367.90 L 419.46 368.15 L 420.69 368.19 L 420.69 368.19 " clip-path="url(#p739e882ca3)" style="fill: none; stroke: #1a6ed2; stroke-opacity: 0.85; stroke-width: 1.41"/>
</g>
<g id="line2d_62">
<path d="M 328.86 368.24 L 334.07 368.02 L 337.43 367.67 L 339.88 367.22 L 342.03 366.61 L 343.86 365.89 L 345.70 364.93 L 347.53 363.68 L 349.06 362.38 L 350.60 360.84 L 352.43 358.62 L 354.27 356.00 L 356.10 352.98 L 358.25 349.03 L 361.31 342.82 L 365.59 334.07 L 367.43 330.75 L 368.96 328.38 L 370.18 326.80 L 371.41 325.55 L 372.63 324.67 L 373.55 324.26 L 374.47 324.07 L 375.39 324.10 L 376.31 324.37 L 377.22 324.85 L 378.14 325.55 L 379.37 326.80 L 380.59 328.38 L 382.12 330.75 L 383.96 334.07 L 386.41 338.98 L 391.92 350.20 L 394.06 354.03 L 395.89 356.91 L 397.73 359.40 L 399.57 361.49 L 401.40 363.19 L 403.24 364.55 L 405.08 365.60 L 406.91 366.40 L 409.06 367.07 L 411.50 367.58 L 414.26 367.92 L 417.93 368.16 L 420.69 368.24 L 420.69 368.24 " clip-path="url(#p739e882ca3)" style="fill: none; stroke: #e02d32; stroke-opacity: 0.85; stroke-width: 1.41"/>
</g>
<g id="line2d_63">
<path d="M 328.86 368.31 L 343.25 368.21 L 346.31 367.97 L 348.45 367.58 L 349.98 367.11 L 351.51 366.37 L 352.74 365.53 L 353.96 364.41 L 355.19 362.94 L 356.41 361.05 L 357.64 358.69 L 358.86 355.80 L 360.08 352.36 L 361.61 347.29 L 363.14 341.43 L 365.29 332.27 L 368.96 316.43 L 370.49 310.96 L 371.71 307.52 L 372.63 305.61 L 373.24 304.69 L 373.86 304.07 L 374.47 303.75 L 375.08 303.75 L 375.69 304.07 L 376.31 304.69 L 376.92 305.61 L 377.84 307.52 L 378.75 310.01 L 379.98 314.11 L 381.51 320.16 L 384.57 333.62 L 386.71 342.66 L 388.55 349.42 L 390.08 354.15 L 391.30 357.31 L 392.53 359.93 L 393.75 362.05 L 394.98 363.72 L 396.20 365.01 L 397.42 365.98 L 398.65 366.70 L 400.18 367.32 L 402.02 367.78 L 404.16 368.07 L 407.22 368.24 L 413.34 368.30 L 420.69 368.31 L 420.69 368.31 " clip-path="url(#p739e882ca3)" style="fill: none; stroke: #f0c828; stroke-opacity: 0.85; stroke-width: 1.41"/>
</g>
<g id="patch_48">
<path d="M 328.86 368.31 L 328.86 276.36 " style="fill: none; stroke: #000000; stroke-width: 0.8; stroke-linejoin: miter; stroke-linecap: square"/>
</g>
<g id="patch_49">
<path d="M 420.69 368.31 L 420.69 276.36 " style="fill: none; stroke: #000000; stroke-width: 0.8; stroke-linejoin: miter; stroke-linecap: square"/>
</g>
<g id="patch_50">
<path d="M 328.86 368.31 L 420.69 368.31 " style="fill: none; stroke: #000000; stroke-width: 0.8; stroke-linejoin: miter; stroke-linecap: square"/>
</g>
<g id="patch_51">
<path d="M 328.86 276.36 L 420.69 276.36 " style="fill: none; stroke: #000000; stroke-width: 0.8; stroke-linejoin: miter; stroke-linecap: square"/>
</g>
</g>
<g id="axes_11">
<g id="patch_52">
<path d="M 53.40 460.26 L 145.22 460.26 L 145.22 368.31 L 53.40 368.31 z
" style="fill: #ffffff"/>
</g>
<g id="matplotlib.axis_21"/>
<g id="matplotlib.axis_22">
<g id="ytick_14">
<g id="line2d_64">
<g>
<use href="#m5d545ce8f8" x="53.40" y="453.23" style="stroke: #000000; stroke-width: 0.8"/>
</g>
</g>
<g id="text_17">
<text style="font-size: 10px; font-family: 'Liberation Sans'" transform="translate(29.18 470.55) rotate(-45)" textLength="22.27" lengthAdjust="spacingAndGlyphs">0.45</text>
</g>
</g>
<g id="ytick_15">
<g id="line2d_65">
<g>
<use href="#m5d545ce8f8" x="53.40" y="426.81" style="stroke: #000000; stroke-width: 0.8"/>
</g>
</g>
<g id="text_18">
<text style="font-size: 10px; font-family: 'Liberation Sans'" transform="translate(29.18 444.12) rotate(-45)" textLength="22.27" lengthAdjust="spacingAndGlyphs">0.60</text>
</g>
</g>
<g id="ytick_16">
<g id="line2d_66">
<g>
<use href="#m5d545ce8f8" x="53.40" y="400.39" style="stroke: #000000; stroke-width: 0.8"/>
</g>
</g>
<g id="text_19">
<text style="font-size: 10px; font-family: 'Liberation Sans'" transform="translate(29.18 417.70) rotate(-45)" textLength="22.27" lengthAdjust="spacingAndGlyphs">0.75</text>
</g>
</g>
<g id="ytick_17">
<g id="line2d_67">
<g>
<use href="#m5d545ce8f8" x="53.40" y="373.96" style="stroke: #000000; stroke-width: 0.8"/>
</g>
</g>
<g id="text_20">
<text style="font-size: 10px; font-family: 'Liberation Sans'" transform="translate(29.18 391.28) rotate(-45)" textLength="22.27" lengthAdjust="spacingAndGlyphs">0.90</text>
</g>
</g>
<g id="text_21">
<text style="font-size: 12px; font-family: 'Liberation Sans'; text-anchor: middle" x="17.32" y="416.38" transform="rotate(-90 17.32 416.38)" textLength="7.61" lengthAdjust="spacingAndGlyphs">h</text>
</g>
</g>
<g id="line2d_68">
<path d="M 129.84 403.94 L 129.72 401.40 L 129.38 398.95 L 128.80 396.63 L 128.00 394.44 L 126.98 392.40 L 125.75 390.52 L 124.32 388.83 L 122.70 387.33 L 120.90 386.04 L 118.93 384.96 L 116.82 384.10 L 114.57 383.48 L 112.21 383.08 L 109.75 382.93 L 107.21 383.01 L 104.61 383.34 L 101.97 383.90 L 99.31 384.68 L 96.65 385.70 L 94.01 386.93 L 91.41 388.37 L 88.87 390.01 L 86.41 391.83 L 84.04 393.82 L 81.80 395.97 L 79.68 398.26 L 77.72 400.67 L 75.92 403.18 L 74.30 405.78 L 72.87 408.44 L 71.64 411.15 L 70.62 413.88 L 69.82 416.62 L 69.24 419.33 L 68.90 422.01 L 68.78 424.63 L 68.90 427.17 L 69.24 429.61 L 69.82 431.94 L 70.62 434.13 L 71.64 436.17 L 72.87 438.04 L 74.30 439.74 L 75.92 441.23 L 77.72 442.53 L 79.68 443.61 L 81.80 444.46 L 84.04 445.09 L 86.41 445.48 L 88.87 445.64 L 91.41 445.55 L 94.01 445.23 L 96.65 444.67 L 99.31 443.88 L 101.97 442.87 L 104.61 441.64 L 107.21 440.19 L 109.75 438.56 L 112.21 436.74 L 114.57 434.74 L 116.82 432.59 L 118.93 430.31 L 120.90 427.90 L 122.70 425.38 L 124.32 422.78 L 125.75 420.12 L 126.98 417.41 L 128.00 414.68 L 128.80 411.95 L 129.38 409.23 L 129.72 406.55 L 129.84 403.94 " clip-path="url(#p52f0d5086e)" style="fill: none; stroke: #235fa0; stroke-width: 1.25; stroke-linecap: square"/>
</g>
<g id="line2d_69">
<path d="M 107.15 414.28 L 107.12 412.05 L 107.03 409.84 L 106.88 407.66 L 106.68 405.53 L 106.41 403.47 L 106.10 401.49 L 105.73 399.61 L 105.31 397.84 L 104.85 396.20 L 104.35 394.69 L 103.81 393.33 L 103.23 392.13 L 102.62 391.10 L 101.99 390.25 L 101.34 389.58 L 100.67 389.09 L 99.99 388.80 L 99.31 388.70 L 98.63 388.80 L 97.95 389.09 L 97.28 389.58 L 96.63 390.25 L 96.00 391.10 L 95.39 392.13 L 94.81 393.33 L 94.27 394.69 L 93.77 396.20 L 93.30 397.84 L 92.89 399.61 L 92.52 401.49 L 92.20 403.47 L 91.94 405.53 L 91.74 407.66 L 91.59 409.84 L 91.50 412.05 L 91.47 414.28 L 91.50 416.51 L 91.59 418.72 L 91.74 420.90 L 91.94 423.03 L 92.20 425.09 L 92.52 427.07 L 92.89 428.95 L 93.30 430.72 L 93.77 432.37 L 94.27 433.88 L 94.81 435.24 L 95.39 436.44 L 96.00 437.47 L 96.63 438.32 L 97.28 438.99 L 97.95 439.47 L 98.63 439.76 L 99.31 439.86 L 99.99 439.76 L 100.67 439.47 L 101.34 438.99 L 101.99 438.32 L 102.62 437.47 L 103.23 436.44 L 103.81 435.24 L 104.35 433.88 L 104.85 432.37 L 105.31 430.72 L 105.73 428.95 L 106.10 427.07 L 106.41 425.09 L 106.68 423.03 L 106.88 420.90 L 107.03 418.72 L 107.12 416.51 L 107.15 414.28 " clip-path="url(#p52f0d5086e)" style="fill: none; stroke: #5f9137; stroke-width: 1.25; stroke-linecap: square"/>
</g>
<g id="line2d_70">
<path d="M 127.47 406.16 L 127.36 404.10 L 127.04 402.11 L 126.51 400.22 L 125.77 398.43 L 124.83 396.77 L 123.69 395.23 L 122.37 393.84 L 120.88 392.61 L 119.22 391.54 L 117.41 390.65 L 115.46 389.93 L 113.39 389.41 L 111.21 389.07 L 108.94 388.92 L 106.60 388.96 L 104.20 389.20 L 101.76 389.63 L 99.31 390.24 L 96.86 391.04 L 94.42 392.02 L 92.02 393.16 L 89.68 394.47 L 87.41 395.93 L 85.23 397.52 L 83.16 399.25 L 81.21 401.09 L 79.40 403.03 L 77.74 405.05 L 76.24 407.15 L 74.92 409.30 L 73.79 411.48 L 72.85 413.69 L 72.11 415.90 L 71.58 418.10 L 71.26 420.28 L 71.15 422.40 L 71.26 424.47 L 71.58 426.45 L 72.11 428.35 L 72.85 430.13 L 73.79 431.80 L 74.92 433.33 L 76.24 434.72 L 77.74 435.95 L 79.40 437.02 L 81.21 437.92 L 83.16 438.63 L 85.23 439.16 L 87.41 439.50 L 89.68 439.65 L 92.02 439.60 L 94.42 439.37 L 96.86 438.94 L 99.31 438.32 L 101.76 437.52 L 104.20 436.55 L 106.60 435.40 L 108.94 434.09 L 111.21 432.64 L 113.39 431.04 L 115.46 429.32 L 117.41 427.48 L 119.22 425.54 L 120.88 423.51 L 122.37 421.42 L 123.69 419.27 L 124.83 417.08 L 125.77 414.88 L 126.51 412.66 L 127.04 410.46 L 127.36 408.29 L 127.47 406.16 " clip-path="url(#p52f0d5086e)" style="fill: none; stroke: #aa282d; stroke-width: 1.25; stroke-linecap: square"/>
</g>
<g id="line2d_71">
<path d="M 106.01 414.28 L 105.99 412.81 L 105.91 411.35 L 105.78 409.90 L 105.61 408.50 L 105.38 407.13 L 105.11 405.83 L 104.80 404.58 L 104.44 403.41 L 104.05 402.32 L 103.62 401.33 L 103.15 400.43 L 102.66 399.63 L 102.14 398.95 L 101.60 398.39 L 101.04 397.94 L 100.47 397.62 L 99.89 397.43 L 99.31 397.37 L 98.72 397.43 L 98.15 397.62 L 97.57 397.94 L 97.02 398.39 L 96.48 398.95 L 95.96 399.63 L 95.46 400.43 L 95.00 401.33 L 94.57 402.32 L 94.17 403.41 L 93.82 404.58 L 93.50 405.83 L 93.23 407.13 L 93.01 408.50 L 92.83 409.90 L 92.71 411.35 L 92.63 412.81 L 92.61 414.28 L 92.63 415.76 L 92.71 417.22 L 92.83 418.66 L 93.01 420.07 L 93.23 421.43 L 93.50 422.74 L 93.82 423.99 L 94.17 425.16 L 94.57 426.24 L 95.00 427.24 L 95.46 428.14 L 95.96 428.93 L 96.48 429.61 L 97.02 430.18 L 97.57 430.62 L 98.15 430.94 L 98.72 431.13 L 99.31 431.20 L 99.89 431.13 L 100.47 430.94 L 101.04 430.62 L 101.60 430.18 L 102.14 429.61 L 102.66 428.93 L 103.15 428.14 L 103.62 427.24 L 104.05 426.24 L 104.44 425.16 L 104.80 423.99 L 105.11 422.74 L 105.38 421.43 L 105.61 420.07 L 105.78 418.66 L 105.91 417.22 L 105.99 415.76 L 106.01 414.28 " clip-path="url(#p52f0d5086e)" style="fill: none; stroke: #552896; stroke-width: 1.25; stroke-linecap: square"/>
</g>
<g id="line2d_72">
<path d="M 123.55 409.64 L 123.46 408.16 L 123.18 406.72 L 122.72 405.34 L 122.09 404.03 L 121.28 402.80 L 120.30 401.65 L 119.16 400.60 L 117.88 399.65 L 116.45 398.82 L 114.89 398.10 L 113.21 397.51 L 111.43 397.04 L 109.55 396.71 L 107.60 396.50 L 105.58 396.44 L 103.52 396.51 L 101.42 396.71 L 99.31 397.05 L 97.20 397.52 L 95.10 398.12 L 93.04 398.84 L 91.02 399.68 L 89.07 400.63 L 87.19 401.68 L 85.41 402.83 L 83.73 404.07 L 82.17 405.38 L 80.74 406.76 L 79.45 408.20 L 78.32 409.69 L 77.34 411.21 L 76.53 412.75 L 75.90 414.30 L 75.44 415.86 L 75.16 417.40 L 75.07 418.92 L 75.16 420.41 L 75.44 421.84 L 75.90 423.22 L 76.53 424.54 L 77.34 425.77 L 78.32 426.92 L 79.45 427.97 L 80.74 428.91 L 82.17 429.75 L 83.73 430.46 L 85.41 431.06 L 87.19 431.52 L 89.07 431.86 L 91.02 432.06 L 93.04 432.13 L 95.10 432.06 L 97.20 431.85 L 99.31 431.51 L 101.42 431.04 L 103.52 430.45 L 105.58 429.73 L 107.60 428.89 L 109.55 427.94 L 111.43 426.89 L 113.21 425.74 L 114.89 424.50 L 116.45 423.19 L 117.88 421.80 L 119.16 420.37 L 120.30 418.88 L 121.28 417.36 L 122.09 415.82 L 122.72 414.26 L 123.18 412.71 L 123.46 411.16 L 123.55 409.64 " clip-path="url(#p52f0d5086e)" style="fill: none; stroke: #afa028; stroke-width: 1.25; stroke-linecap: square"/>
</g>
<g id="patch_53">
<path d="M 53.40 460.26 L 53.40 368.31 " style="fill: none; stroke: #000000; stroke-width: 0.8; stroke-linejoin: miter; stroke-linecap: square"/>
</g>
<g id="patch_54">
<path d="M 145.22 460.26 L 145.22 368.31 " style="fill: none; stroke: #000000; stroke-width: 0.8; stroke-linejoin: miter; stroke-linecap: square"/>
</g>
<g id="patch_55">
<path d="M 53.40 460.26 L 145.22 460.26 " style="fill: none; stroke: #000000; stroke-width: 0.8; stroke-linejoin: miter; stroke-linecap: square"/>
</g>
<g id="patch_56">
<path d="M 53.40 368.31 L 145.22 368.31 " style="fill: none; stroke: #000000; stroke-width: 0.8; stroke-linejoin: miter; stroke-linecap: square"/>
</g>
</g>
<g id="axes_12">
<g id="patch_57">
<path d="M 145.22 460.26 L 237.04 460.26 L 237.04 368.31 L 145.22 368.31 z
" style="fill: #ffffff"/>
</g>
<g id="matplotlib.axis_23"/>
<g id="matplotlib.axis_24"/>
<g id="line2d_73">
<path d="M 221.76 429.65 L 221.65 427.21 L 221.30 424.67 L 220.72 422.05 L 219.92 419.37 L 218.89 416.66 L 217.66 413.92 L 216.22 411.19 L 214.60 408.48 L 212.79 405.82 L 210.82 403.22 L 208.70 400.71 L 206.45 398.29 L 204.08 396.00 L 201.61 393.85 L 199.06 391.86 L 196.45 390.03 L 193.80 388.39 L 191.13 386.95 L 188.46 385.72 L 185.81 384.70 L 183.20 383.90 L 180.65 383.34 L 178.18 383.02 L 175.81 382.93 L 173.56 383.08 L 171.44 383.47 L 169.47 384.09 L 167.66 384.94 L 166.04 386.02 L 164.60 387.31 L 163.37 388.81 L 162.35 390.50 L 161.54 392.37 L 160.96 394.41 L 160.61 396.60 L 160.50 398.92 L 160.61 401.36 L 160.96 403.90 L 161.54 406.52 L 162.35 409.19 L 163.37 411.91 L 164.60 414.64 L 166.04 417.38 L 167.66 420.08 L 169.47 422.75 L 171.44 425.35 L 173.56 427.86 L 175.81 430.27 L 178.18 432.56 L 180.65 434.71 L 183.20 436.71 L 185.81 438.53 L 188.46 440.17 L 191.13 441.62 L 193.80 442.85 L 196.45 443.87 L 199.06 444.66 L 201.61 445.22 L 204.08 445.55 L 206.45 445.64 L 208.70 445.49 L 210.82 445.10 L 212.79 444.47 L 214.60 443.62 L 216.22 442.55 L 217.66 441.25 L 218.89 439.76 L 219.92 438.07 L 220.72 436.20 L 221.30 434.16 L 221.65 431.97 L 221.76 429.65 " clip-path="url(#p26b70fbc51)" style="fill: none; stroke: #235fa0; stroke-width: 1.25; stroke-linecap: square"/>
</g>
<g id="line2d_74">
<path d="M 208.77 424.51 L 208.70 422.43 L 208.50 420.29 L 208.17 418.10 L 207.71 415.88 L 207.12 413.65 L 206.41 411.42 L 205.58 409.22 L 204.64 407.05 L 203.60 404.94 L 202.47 402.90 L 201.25 400.95 L 199.95 399.10 L 198.59 397.36 L 197.16 395.75 L 195.70 394.29 L 194.19 392.97 L 192.67 391.82 L 191.13 390.84 L 189.59 390.04 L 188.07 389.42 L 186.57 388.99 L 185.10 388.75 L 183.68 388.71 L 182.31 388.86 L 181.01 389.21 L 179.79 389.75 L 178.66 390.47 L 177.62 391.38 L 176.68 392.46 L 175.86 393.70 L 175.15 395.10 L 174.56 396.65 L 174.09 398.33 L 173.76 400.14 L 173.56 402.05 L 173.49 404.05 L 173.56 406.13 L 173.76 408.28 L 174.09 410.47 L 174.56 412.69 L 175.15 414.92 L 175.86 417.14 L 176.68 419.35 L 177.62 421.51 L 178.66 423.63 L 179.79 425.67 L 181.01 427.62 L 182.31 429.47 L 183.68 431.21 L 185.10 432.81 L 186.57 434.28 L 188.07 435.59 L 189.59 436.75 L 191.13 437.73 L 192.67 438.53 L 194.19 439.15 L 195.70 439.58 L 197.16 439.81 L 198.59 439.85 L 199.95 439.70 L 201.25 439.36 L 202.47 438.82 L 203.60 438.09 L 204.64 437.19 L 205.58 436.11 L 206.41 434.87 L 207.12 433.46 L 207.71 431.92 L 208.17 430.23 L 208.50 428.43 L 208.70 426.52 L 208.77 424.51 " clip-path="url(#p26b70fbc51)" style="fill: none; stroke: #5f9137; stroke-width: 1.25; stroke-linecap: square"/>
</g>
<g id="line2d_75">
<path d="M 200.83 419.36 L 200.79 417.17 L 200.68 414.96 L 200.50 412.75 L 200.24 410.55 L 199.92 408.38 L 199.53 406.25 L 199.07 404.18 L 198.56 402.19 L 197.99 400.29 L 197.36 398.50 L 196.69 396.83 L 195.98 395.29 L 195.23 393.90 L 194.45 392.66 L 193.64 391.58 L 192.81 390.68 L 191.98 389.96 L 191.13 389.42 L 190.29 389.08 L 189.45 388.92 L 188.62 388.96 L 187.82 389.19 L 187.03 389.61 L 186.28 390.22 L 185.57 391.01 L 184.90 391.98 L 184.28 393.12 L 183.70 394.42 L 183.19 395.87 L 182.73 397.46 L 182.34 399.18 L 182.02 401.01 L 181.77 402.95 L 181.58 404.97 L 181.47 407.06 L 181.44 409.21 L 181.47 411.39 L 181.58 413.60 L 181.77 415.82 L 182.02 418.02 L 182.34 420.19 L 182.73 422.32 L 183.19 424.39 L 183.70 426.38 L 184.28 428.27 L 184.90 430.07 L 185.57 431.74 L 186.28 433.28 L 187.03 434.67 L 187.82 435.91 L 188.62 436.98 L 189.45 437.88 L 190.29 438.61 L 191.13 439.14 L 191.98 439.49 L 192.81 439.65 L 193.64 439.61 L 194.45 439.38 L 195.23 438.96 L 195.98 438.35 L 196.69 437.56 L 197.36 436.59 L 197.99 435.45 L 198.56 434.15 L 199.07 432.70 L 199.53 431.11 L 199.92 429.39 L 200.24 427.55 L 200.50 425.62 L 200.68 423.60 L 200.79 421.50 L 200.83 419.36 " clip-path="url(#p26b70fbc51)" style="fill: none; stroke: #aa282d; stroke-width: 1.25; stroke-linecap: square"/>
</g>
<g id="line2d_76">
<path d="M 197.53 415.13 L 197.50 413.65 L 197.43 412.18 L 197.31 410.73 L 197.14 409.30 L 196.93 407.91 L 196.67 406.57 L 196.37 405.29 L 196.03 404.07 L 195.65 402.94 L 195.24 401.89 L 194.80 400.93 L 194.33 400.08 L 193.83 399.33 L 193.32 398.70 L 192.79 398.18 L 192.24 397.79 L 191.69 397.53 L 191.13 397.39 L 190.57 397.38 L 190.02 397.50 L 189.48 397.75 L 188.94 398.12 L 188.43 398.61 L 187.93 399.23 L 187.46 399.96 L 187.02 400.80 L 186.61 401.74 L 186.23 402.78 L 185.89 403.90 L 185.59 405.10 L 185.34 406.38 L 185.12 407.71 L 184.95 409.09 L 184.83 410.52 L 184.76 411.97 L 184.74 413.44 L 184.76 414.91 L 184.83 416.38 L 184.95 417.84 L 185.12 419.27 L 185.34 420.66 L 185.59 422.00 L 185.89 423.28 L 186.23 424.49 L 186.61 425.63 L 187.02 426.68 L 187.46 427.64 L 187.93 428.49 L 188.43 429.24 L 188.94 429.87 L 189.48 430.38 L 190.02 430.77 L 190.57 431.04 L 191.13 431.18 L 191.69 431.19 L 192.24 431.07 L 192.79 430.82 L 193.32 430.45 L 193.83 429.95 L 194.33 429.34 L 194.80 428.61 L 195.24 427.77 L 195.65 426.83 L 196.03 425.79 L 196.37 424.67 L 196.67 423.46 L 196.93 422.19 L 197.14 420.86 L 197.31 419.47 L 197.43 418.05 L 197.50 416.60 L 197.53 415.13 " clip-path="url(#p26b70fbc51)" style="fill: none; stroke: #552896; stroke-width: 1.25; stroke-linecap: square"/>
</g>
<g id="line2d_77">
<path d="M 198.71 416.07 L 198.68 414.51 L 198.60 412.96 L 198.45 411.41 L 198.26 409.89 L 198.00 408.40 L 197.70 406.95 L 197.34 405.56 L 196.94 404.24 L 196.49 402.99 L 196.00 401.83 L 195.48 400.76 L 194.92 399.80 L 194.34 398.95 L 193.72 398.21 L 193.09 397.60 L 192.45 397.11 L 191.79 396.75 L 191.13 396.53 L 190.47 396.44 L 189.81 396.49 L 189.17 396.67 L 188.54 396.99 L 187.93 397.44 L 187.34 398.01 L 186.78 398.72 L 186.26 399.54 L 185.77 400.47 L 185.32 401.50 L 184.92 402.64 L 184.57 403.86 L 184.26 405.16 L 184.01 406.53 L 183.81 407.96 L 183.67 409.44 L 183.58 410.96 L 183.55 412.50 L 183.58 414.05 L 183.67 415.61 L 183.81 417.15 L 184.01 418.68 L 184.26 420.17 L 184.57 421.61 L 184.92 423.00 L 185.32 424.33 L 185.77 425.58 L 186.26 426.74 L 186.78 427.80 L 187.34 428.77 L 187.93 429.62 L 188.54 430.36 L 189.17 430.97 L 189.81 431.46 L 190.47 431.81 L 191.13 432.04 L 191.79 432.13 L 192.45 432.08 L 193.09 431.89 L 193.72 431.58 L 194.34 431.13 L 194.92 430.55 L 195.48 429.85 L 196.00 429.03 L 196.49 428.10 L 196.94 427.06 L 197.34 425.93 L 197.70 424.71 L 198.00 423.40 L 198.26 422.03 L 198.45 420.60 L 198.60 419.12 L 198.68 417.61 L 198.71 416.07 " clip-path="url(#p26b70fbc51)" style="fill: none; stroke: #afa028; stroke-width: 1.25; stroke-linecap: square"/>
</g>
<g id="patch_58">
<path d="M 145.22 460.26 L 145.22 368.31 " style="fill: none; stroke: #000000; stroke-width: 0.8; stroke-linejoin: miter; stroke-linecap: square"/>
</g>
<g id="patch_59">
<path d="M 237.04 460.26 L 237.04 368.31 " style="fill: none; stroke: #000000; stroke-width: 0.8; stroke-linejoin: miter; stroke-linecap: square"/>
</g>
<g id="patch_60">
<path d="M 145.22 460.26 L 237.04 460.26 " style="fill: none; stroke: #000000; stroke-width: 0.8; stroke-linejoin: miter; stroke-linecap: square"/>
</g>
<g id="patch_61">
<path d="M 145.22 368.31 L 237.04 368.31 " style="fill: none; stroke: #000000; stroke-width: 0.8; stroke-linejoin: miter; stroke-linecap: square"/>
</g>
</g>
<g id="axes_13">
<g id="patch_62">
<path d="M 237.04 460.26 L 328.86 460.26 L 328.86 368.31 L 237.04 368.31 z
" style="fill: #ffffff"/>
</g>
<g id="matplotlib.axis_25"/>
<g id="matplotlib.axis_26"/>
<g id="line2d_78">
<path d="M 314.21 408.01 L 314.09 405.36 L 313.73 402.77 L 313.14 400.27 L 312.32 397.88 L 311.28 395.62 L 310.02 393.49 L 308.55 391.52 L 306.89 389.73 L 305.05 388.13 L 303.04 386.72 L 300.88 385.52 L 298.58 384.54 L 296.16 383.79 L 293.64 383.27 L 291.04 382.99 L 288.38 382.94 L 285.68 383.13 L 282.95 383.56 L 280.23 384.22 L 277.53 385.12 L 274.86 386.23 L 272.26 387.56 L 269.75 389.09 L 267.33 390.81 L 265.03 392.71 L 262.86 394.78 L 260.85 396.99 L 259.01 399.34 L 257.35 401.80 L 255.89 404.35 L 254.63 406.98 L 253.59 409.67 L 252.77 412.39 L 252.18 415.12 L 251.82 417.85 L 251.70 420.55 L 251.82 423.21 L 252.18 425.79 L 252.77 428.29 L 253.59 430.68 L 254.63 432.95 L 255.89 435.07 L 257.35 437.04 L 259.01 438.83 L 260.85 440.44 L 262.86 441.85 L 265.03 443.05 L 267.33 444.02 L 269.75 444.78 L 272.26 445.30 L 274.86 445.58 L 277.53 445.63 L 280.23 445.43 L 282.95 445.00 L 285.68 444.34 L 288.38 443.45 L 291.04 442.33 L 293.64 441.01 L 296.16 439.48 L 298.58 437.75 L 300.88 435.85 L 303.04 433.79 L 305.05 431.57 L 306.89 429.23 L 308.55 426.77 L 310.02 424.21 L 311.28 421.58 L 312.32 418.90 L 313.14 416.18 L 313.73 413.44 L 314.09 410.71 L 314.21 408.01 " clip-path="url(#pdeca2ec9d9)" style="fill: none; stroke: #235fa0; stroke-width: 1.25; stroke-linecap: square"/>
</g>
<g id="line2d_79">
<path d="M 307.60 414.28 L 307.51 412.05 L 307.23 409.84 L 306.76 407.66 L 306.12 405.53 L 305.29 403.47 L 304.30 401.49 L 303.15 399.61 L 301.84 397.84 L 300.38 396.20 L 298.80 394.69 L 297.09 393.33 L 295.28 392.13 L 293.37 391.10 L 291.38 390.25 L 289.33 389.58 L 287.23 389.09 L 285.10 388.80 L 282.95 388.70 L 280.80 388.80 L 278.67 389.09 L 276.57 389.58 L 274.52 390.25 L 272.54 391.10 L 270.63 392.13 L 268.81 393.33 L 267.11 394.69 L 265.52 396.20 L 264.07 397.84 L 262.76 399.61 L 261.61 401.49 L 260.61 403.47 L 259.79 405.53 L 259.14 407.66 L 258.68 409.84 L 258.40 412.05 L 258.30 414.28 L 258.40 416.51 L 258.68 418.72 L 259.14 420.90 L 259.79 423.03 L 260.61 425.09 L 261.61 427.07 L 262.76 428.95 L 264.07 430.72 L 265.52 432.37 L 267.11 433.88 L 268.81 435.24 L 270.63 436.44 L 272.54 437.47 L 274.52 438.32 L 276.57 438.99 L 278.67 439.47 L 280.80 439.76 L 282.95 439.86 L 285.10 439.76 L 287.23 439.47 L 289.33 438.99 L 291.38 438.32 L 293.37 437.47 L 295.28 436.44 L 297.09 435.24 L 298.80 433.88 L 300.38 432.37 L 301.84 430.72 L 303.15 428.95 L 304.30 427.07 L 305.29 425.09 L 306.12 423.03 L 306.76 420.90 L 307.23 418.72 L 307.51 416.51 L 307.60 414.28 " clip-path="url(#pdeca2ec9d9)" style="fill: none; stroke: #5f9137; stroke-width: 1.25; stroke-linecap: square"/>
</g>
<g id="line2d_80">
<path d="M 293.27 414.28 L 293.23 412.07 L 293.11 409.88 L 292.92 407.72 L 292.65 405.60 L 292.30 403.56 L 291.89 401.60 L 291.40 399.73 L 290.85 397.97 L 290.25 396.34 L 289.58 394.85 L 288.87 393.50 L 288.11 392.31 L 287.31 391.29 L 286.48 390.44 L 285.62 389.77 L 284.74 389.30 L 283.85 389.01 L 282.95 388.91 L 282.05 389.01 L 281.16 389.30 L 280.28 389.77 L 279.43 390.44 L 278.59 391.29 L 277.80 392.31 L 277.04 393.50 L 276.32 394.85 L 275.66 396.34 L 275.05 397.97 L 274.50 399.73 L 274.02 401.60 L 273.61 403.56 L 273.26 405.60 L 272.99 407.72 L 272.80 409.88 L 272.68 412.07 L 272.64 414.28 L 272.68 416.49 L 272.80 418.69 L 272.99 420.85 L 273.26 422.96 L 273.61 425.01 L 274.02 426.97 L 274.50 428.84 L 275.05 430.59 L 275.66 432.22 L 276.32 433.72 L 277.04 435.07 L 277.80 436.26 L 278.59 437.28 L 279.43 438.13 L 280.28 438.79 L 281.16 439.27 L 282.05 439.56 L 282.95 439.66 L 283.85 439.56 L 284.74 439.27 L 285.62 438.79 L 286.48 438.13 L 287.31 437.28 L 288.11 436.26 L 288.87 435.07 L 289.58 433.72 L 290.25 432.22 L 290.85 430.59 L 291.40 428.84 L 291.89 426.97 L 292.30 425.01 L 292.65 422.96 L 292.92 420.85 L 293.11 418.69 L 293.23 416.49 L 293.27 414.28 " clip-path="url(#pdeca2ec9d9)" style="fill: none; stroke: #aa282d; stroke-width: 1.25; stroke-linecap: square"/>
</g>
<g id="line2d_81">
<path d="M 288.01 414.28 L 287.99 412.81 L 287.93 411.35 L 287.84 409.90 L 287.70 408.50 L 287.53 407.13 L 287.33 405.83 L 287.09 404.58 L 286.83 403.41 L 286.53 402.32 L 286.20 401.33 L 285.85 400.43 L 285.48 399.63 L 285.09 398.95 L 284.68 398.39 L 284.26 397.94 L 283.83 397.62 L 283.39 397.43 L 282.95 397.37 L 282.51 397.43 L 282.08 397.62 L 281.64 397.94 L 281.22 398.39 L 280.82 398.95 L 280.43 399.63 L 280.05 400.43 L 279.70 401.33 L 279.38 402.32 L 279.08 403.41 L 278.81 404.58 L 278.58 405.83 L 278.37 407.13 L 278.20 408.50 L 278.07 409.90 L 277.98 411.35 L 277.92 412.81 L 277.90 414.28 L 277.92 415.76 L 277.98 417.22 L 278.07 418.66 L 278.20 420.07 L 278.37 421.43 L 278.58 422.74 L 278.81 423.99 L 279.08 425.16 L 279.38 426.24 L 279.70 427.24 L 280.05 428.14 L 280.43 428.93 L 280.82 429.61 L 281.22 430.18 L 281.64 430.62 L 282.08 430.94 L 282.51 431.13 L 282.95 431.20 L 283.39 431.13 L 283.83 430.94 L 284.26 430.62 L 284.68 430.18 L 285.09 429.61 L 285.48 428.93 L 285.85 428.14 L 286.20 427.24 L 286.53 426.24 L 286.83 425.16 L 287.09 423.99 L 287.33 422.74 L 287.53 421.43 L 287.70 420.07 L 287.84 418.66 L 287.93 417.22 L 287.99 415.76 L 288.01 414.28 " clip-path="url(#pdeca2ec9d9)" style="fill: none; stroke: #552896; stroke-width: 1.25; stroke-linecap: square"/>
</g>
<g id="line2d_82">
<path d="M 289.14 414.28 L 289.12 412.73 L 289.05 411.18 L 288.93 409.66 L 288.77 408.18 L 288.56 406.74 L 288.31 405.36 L 288.02 404.05 L 287.69 402.81 L 287.33 401.67 L 286.93 400.61 L 286.50 399.67 L 286.05 398.83 L 285.57 398.11 L 285.07 397.52 L 284.55 397.05 L 284.03 396.71 L 283.49 396.51 L 282.95 396.44 L 282.41 396.51 L 281.88 396.71 L 281.35 397.05 L 280.84 397.52 L 280.34 398.11 L 279.86 398.83 L 279.40 399.67 L 278.98 400.61 L 278.58 401.67 L 278.21 402.81 L 277.88 404.05 L 277.59 405.36 L 277.34 406.74 L 277.14 408.18 L 276.98 409.66 L 276.86 411.18 L 276.79 412.73 L 276.76 414.28 L 276.79 415.84 L 276.86 417.38 L 276.98 418.90 L 277.14 420.39 L 277.34 421.82 L 277.59 423.20 L 277.88 424.52 L 278.21 425.75 L 278.58 426.90 L 278.98 427.95 L 279.40 428.90 L 279.86 429.74 L 280.34 430.46 L 280.84 431.05 L 281.35 431.52 L 281.88 431.86 L 282.41 432.06 L 282.95 432.13 L 283.49 432.06 L 284.03 431.86 L 284.55 431.52 L 285.07 431.05 L 285.57 430.46 L 286.05 429.74 L 286.50 428.90 L 286.93 427.95 L 287.33 426.90 L 287.69 425.75 L 288.02 424.52 L 288.31 423.20 L 288.56 421.82 L 288.77 420.39 L 288.93 418.90 L 289.05 417.38 L 289.12 415.84 L 289.14 414.28 " clip-path="url(#pdeca2ec9d9)" style="fill: none; stroke: #afa028; stroke-width: 1.25; stroke-linecap: square"/>
</g>
<g id="patch_63">
<path d="M 237.04 460.26 L 237.04 368.31 " style="fill: none; stroke: #000000; stroke-width: 0.8; stroke-linejoin: miter; stroke-linecap: square"/>
</g>
<g id="patch_64">
<path d="M 328.86 460.26 L 328.86 368.31 " style="fill: none; stroke: #000000; stroke-width: 0.8; stroke-linejoin: miter; stroke-linecap: square"/>
</g>
<g id="patch_65">
<path d="M 237.04 460.26 L 328.86 460.26 " style="fill: none; stroke: #000000; stroke-width: 0.8; stroke-linejoin: miter; stroke-linecap: square"/>
</g>
<g id="patch_66">
<path d="M 237.04 368.31 L 328.86 368.31 " style="fill: none; stroke: #000000; stroke-width: 0.8; stroke-linejoin: miter; stroke-linecap: square"/>
</g>
</g>
<g id="axes_14">
<g id="patch_67">
<path d="M 328.86 460.26 L 420.69 460.26 L 420.69 368.31 L 328.86 368.31 z
" style="fill: #ffffff"/>
</g>
<g id="matplotlib.axis_27"/>
<g id="matplotlib.axis_28"/>
<g id="line2d_83">
<path d="M 405.82 415.85 L 405.70 413.12 L 405.35 410.39 L 404.76 407.69 L 403.95 405.05 L 402.91 402.47 L 401.66 399.98 L 400.21 397.61 L 398.56 395.35 L 396.73 393.25 L 394.73 391.30 L 392.58 389.53 L 390.30 387.95 L 387.90 386.56 L 385.39 385.39 L 382.81 384.44 L 380.17 383.72 L 377.48 383.22 L 374.78 382.97 L 372.07 382.95 L 369.38 383.17 L 366.74 383.63 L 364.16 384.32 L 361.65 385.24 L 359.25 386.38 L 356.97 387.73 L 354.82 389.29 L 352.82 391.03 L 350.99 392.95 L 349.34 395.04 L 347.89 397.27 L 346.64 399.63 L 345.60 402.10 L 344.79 404.66 L 344.20 407.30 L 343.85 409.99 L 343.73 412.72 L 343.85 415.45 L 344.20 418.18 L 344.79 420.87 L 345.60 423.52 L 346.64 426.10 L 347.89 428.58 L 349.34 430.96 L 350.99 433.21 L 352.82 435.32 L 354.82 437.26 L 356.97 439.04 L 359.25 440.62 L 361.65 442.00 L 364.16 443.17 L 366.74 444.13 L 369.38 444.85 L 372.07 445.34 L 374.78 445.60 L 377.48 445.62 L 380.17 445.40 L 382.81 444.94 L 385.39 444.25 L 387.90 443.33 L 390.30 442.19 L 392.58 440.83 L 394.73 439.28 L 396.73 437.54 L 398.56 435.61 L 400.21 433.53 L 401.66 431.30 L 402.91 428.94 L 403.95 426.47 L 404.76 423.90 L 405.35 421.26 L 405.70 418.57 L 405.82 415.85 " clip-path="url(#pe46291cda1)" style="fill: none; stroke: #235fa0; stroke-width: 1.25; stroke-linecap: square"/>
</g>
<g id="line2d_84">
<path d="M 394.27 423.24 L 394.19 421.11 L 393.97 418.94 L 393.60 416.73 L 393.09 414.50 L 392.44 412.27 L 391.66 410.06 L 390.74 407.87 L 389.71 405.74 L 388.56 403.67 L 387.31 401.68 L 385.96 399.79 L 384.52 398.01 L 383.01 396.35 L 381.44 394.83 L 379.82 393.46 L 378.16 392.24 L 376.47 391.19 L 374.78 390.32 L 373.08 389.63 L 371.39 389.13 L 369.73 388.82 L 368.11 388.70 L 366.54 388.78 L 365.03 389.06 L 363.59 389.52 L 362.25 390.17 L 360.99 391.01 L 359.84 392.02 L 358.81 393.21 L 357.89 394.55 L 357.11 396.04 L 356.46 397.67 L 355.95 399.43 L 355.58 401.31 L 355.36 403.28 L 355.28 405.33 L 355.36 407.45 L 355.58 409.63 L 355.95 411.84 L 356.46 414.07 L 357.11 416.30 L 357.89 418.51 L 358.81 420.69 L 359.84 422.83 L 360.99 424.90 L 362.25 426.88 L 363.59 428.78 L 365.03 430.56 L 366.54 432.22 L 368.11 433.74 L 369.73 435.11 L 371.39 436.33 L 373.08 437.37 L 374.78 438.24 L 376.47 438.93 L 378.16 439.43 L 379.82 439.74 L 381.44 439.86 L 383.01 439.78 L 384.52 439.51 L 385.96 439.05 L 387.31 438.39 L 388.56 437.56 L 389.71 436.54 L 390.74 435.36 L 391.66 434.02 L 392.44 432.52 L 393.09 430.89 L 393.60 429.13 L 393.97 427.26 L 394.19 425.29 L 394.27 423.24 " clip-path="url(#pe46291cda1)" style="fill: none; stroke: #5f9137; stroke-width: 1.25; stroke-linecap: square"/>
</g>
<g id="line2d_85">
<path d="M 404.58 418.09 L 404.47 415.89 L 404.13 413.67 L 403.57 411.47 L 402.78 409.28 L 401.79 407.13 L 400.59 405.04 L 399.19 403.01 L 397.61 401.07 L 395.85 399.24 L 393.93 397.51 L 391.87 395.92 L 389.68 394.46 L 387.37 393.16 L 384.97 392.01 L 382.49 391.04 L 379.95 390.24 L 377.37 389.62 L 374.78 389.20 L 372.18 388.96 L 369.60 388.92 L 367.06 389.07 L 364.58 389.41 L 362.18 389.94 L 359.87 390.66 L 357.68 391.55 L 355.62 392.62 L 353.70 393.85 L 351.94 395.24 L 350.36 396.78 L 348.96 398.44 L 347.76 400.23 L 346.77 402.13 L 345.98 404.11 L 345.42 406.18 L 345.08 408.31 L 344.97 410.48 L 345.08 412.68 L 345.42 414.89 L 345.98 417.10 L 346.77 419.29 L 347.76 421.44 L 348.96 423.53 L 350.36 425.55 L 351.94 427.49 L 353.70 429.33 L 355.62 431.05 L 357.68 432.65 L 359.87 434.10 L 362.18 435.41 L 364.58 436.55 L 367.06 437.53 L 369.60 438.33 L 372.18 438.94 L 374.78 439.37 L 377.37 439.60 L 379.95 439.65 L 382.49 439.50 L 384.97 439.16 L 387.37 438.63 L 389.68 437.91 L 391.87 437.01 L 393.93 435.95 L 395.85 434.71 L 397.61 433.32 L 399.19 431.79 L 400.59 430.12 L 401.79 428.33 L 402.78 426.44 L 403.57 424.45 L 404.13 422.39 L 404.47 420.26 L 404.58 418.09 " clip-path="url(#pe46291cda1)" style="fill: none; stroke: #aa282d; stroke-width: 1.25; stroke-linecap: square"/>
</g>
<g id="line2d_86">
<path d="M 390.56 418.85 L 390.50 417.41 L 390.32 415.95 L 390.02 414.48 L 389.60 413.00 L 389.08 411.54 L 388.44 410.09 L 387.70 408.68 L 386.86 407.31 L 385.93 406.00 L 384.92 404.74 L 383.83 403.56 L 382.67 402.46 L 381.44 401.45 L 380.17 400.54 L 378.86 399.73 L 377.52 399.04 L 376.15 398.46 L 374.78 398.00 L 373.40 397.66 L 372.03 397.45 L 370.69 397.37 L 369.38 397.42 L 368.11 397.59 L 366.88 397.89 L 365.72 398.32 L 364.63 398.87 L 363.62 399.54 L 362.69 400.32 L 361.85 401.20 L 361.11 402.18 L 360.47 403.26 L 359.95 404.42 L 359.53 405.66 L 359.23 406.96 L 359.05 408.31 L 358.99 409.72 L 359.05 411.15 L 359.23 412.61 L 359.53 414.09 L 359.95 415.56 L 360.47 417.03 L 361.11 418.47 L 361.85 419.88 L 362.69 421.25 L 363.62 422.57 L 364.63 423.82 L 365.72 425.00 L 366.88 426.10 L 368.11 427.11 L 369.38 428.03 L 370.69 428.83 L 372.03 429.53 L 373.40 430.11 L 374.78 430.57 L 376.15 430.91 L 377.52 431.12 L 378.86 431.20 L 380.17 431.15 L 381.44 430.97 L 382.67 430.67 L 383.83 430.24 L 384.92 429.70 L 385.93 429.03 L 386.86 428.25 L 387.70 427.37 L 388.44 426.38 L 389.08 425.31 L 389.60 424.15 L 390.02 422.91 L 390.32 421.61 L 390.50 420.25 L 390.56 418.85 " clip-path="url(#pe46291cda1)" style="fill: none; stroke: #552896; stroke-width: 1.25; stroke-linecap: square"/>
</g>
<g id="line2d_87">
<path d="M 395.20 416.96 L 395.12 415.41 L 394.89 413.86 L 394.50 412.30 L 393.97 410.76 L 393.28 409.25 L 392.46 407.78 L 391.50 406.36 L 390.42 404.99 L 389.22 403.70 L 387.90 402.49 L 386.49 401.37 L 384.99 400.34 L 383.41 399.42 L 381.76 398.62 L 380.06 397.93 L 378.32 397.37 L 376.55 396.94 L 374.78 396.64 L 373.00 396.47 L 371.23 396.44 L 369.49 396.55 L 367.79 396.79 L 366.14 397.16 L 364.56 397.67 L 363.06 398.30 L 361.65 399.05 L 360.33 399.92 L 359.13 400.89 L 358.05 401.97 L 357.09 403.14 L 356.27 404.40 L 355.58 405.73 L 355.05 407.13 L 354.66 408.58 L 354.43 410.08 L 354.35 411.61 L 354.43 413.15 L 354.66 414.71 L 355.05 416.26 L 355.58 417.80 L 356.27 419.31 L 357.09 420.79 L 358.05 422.21 L 359.13 423.57 L 360.33 424.87 L 361.65 426.08 L 363.06 427.20 L 364.56 428.22 L 366.14 429.14 L 367.79 429.95 L 369.49 430.63 L 371.23 431.19 L 373.00 431.62 L 374.78 431.93 L 376.55 432.09 L 378.32 432.12 L 380.06 432.02 L 381.76 431.78 L 383.41 431.40 L 384.99 430.90 L 386.49 430.27 L 387.90 429.52 L 389.22 428.65 L 390.42 427.67 L 391.50 426.59 L 392.46 425.42 L 393.28 424.16 L 393.97 422.83 L 394.50 421.43 L 394.89 419.98 L 395.12 418.49 L 395.20 416.96 " clip-path="url(#pe46291cda1)" style="fill: none; stroke: #afa028; stroke-width: 1.25; stroke-linecap: square"/>
</g>
<g id="patch_68">
<path d="M 328.86 460.26 L 328.86 368.31 " style="fill: none; stroke: #000000; stroke-width: 0.8; stroke-linejoin: miter; stroke-linecap: square"/>
</g>
<g id="patch_69">
<path d="M 420.69 460.26 L 420.69 368.31 " style="fill: none; stroke: #000000; stroke-width: 0.8; stroke-linejoin: miter; stroke-linecap: square"/>
</g>
<g id="patch_70">
<path d="M 328.86 460.26 L 420.69 460.26 " style="fill: none; stroke: #000000; stroke-width: 0.8; stroke-linejoin: miter; stroke-linecap: square"/>
</g>
<g id="patch_71">
<path d="M 328.86 368.31 L 420.69 368.31 " style="fill: none; stroke: #000000; stroke-width: 0.8; stroke-linejoin: miter; stroke-linecap: square"/>
</g>
</g>
<g id="axes_15">
<g id="patch_72">
<path d="M 420.69 460.26 L 512.51 460.26 L 512.51 368.31 L 420.69 368.31 z
" style="fill: #ffffff"/>
</g>
<g id="matplotlib.axis_29"/>
<g id="matplotlib.axis_30"/>
<g id="line2d_88">
<path d="M 420.69 460.25 L 428.64 460.11 L 432.01 459.86 L 434.46 459.48 L 436.60 458.91 L 438.44 458.17 L 439.97 457.30 L 441.50 456.16 L 443.03 454.68 L 444.56 452.82 L 446.09 450.53 L 447.62 447.77 L 449.15 444.54 L 450.99 440.05 L 453.13 434.13 L 456.80 423.07 L 459.25 416.03 L 460.78 412.19 L 462.01 409.59 L 463.23 407.51 L 464.15 406.33 L 465.07 405.51 L 465.98 405.07 L 466.60 404.98 L 467.21 405.07 L 467.82 405.32 L 468.74 406.02 L 469.66 407.08 L 470.58 408.48 L 471.80 410.83 L 473.02 413.65 L 474.56 417.70 L 477.00 424.92 L 480.98 436.75 L 483.13 442.37 L 484.96 446.53 L 486.49 449.48 L 488.02 451.96 L 489.55 453.99 L 491.08 455.61 L 492.61 456.88 L 494.14 457.85 L 495.67 458.58 L 497.51 459.19 L 499.65 459.65 L 502.41 459.98 L 506.08 460.17 L 512.51 460.25 L 512.51 460.25 " clip-path="url(#p51904fc536)" style="fill: none; stroke: #6cbd3a; stroke-opacity: 0.85; stroke-width: 1.41"/>
</g>
<g id="line2d_89">
<path d="M 420.69 460.26 L 439.97 460.15 L 442.42 459.92 L 443.95 459.60 L 445.17 459.16 L 446.40 458.49 L 447.31 457.76 L 448.23 456.80 L 449.15 455.54 L 450.07 453.93 L 450.99 451.89 L 451.91 449.38 L 452.82 446.33 L 454.05 441.37 L 455.27 435.37 L 456.80 426.48 L 458.64 414.30 L 461.70 393.61 L 462.92 386.67 L 463.84 382.45 L 464.76 379.29 L 465.37 377.84 L 465.98 376.96 L 466.29 376.74 L 466.60 376.67 L 466.90 376.74 L 467.21 376.96 L 467.82 377.84 L 468.43 379.29 L 469.05 381.27 L 469.96 385.16 L 471.19 391.76 L 472.72 401.59 L 477.00 430.21 L 478.53 438.50 L 479.76 443.98 L 480.98 448.42 L 482.21 451.89 L 483.13 453.93 L 484.04 455.54 L 484.96 456.80 L 485.88 457.76 L 487.10 458.68 L 488.33 459.29 L 489.86 459.75 L 491.70 460.04 L 494.45 460.20 L 500.57 460.26 L 512.51 460.26 L 512.51 460.26 " clip-path="url(#p51904fc536)" style="fill: none; stroke: #5f32be; stroke-opacity: 0.85; stroke-width: 1.41"/>
</g>
<g id="line2d_90">
<path d="M 420.69 460.12 L 425.28 459.84 L 428.34 459.45 L 430.79 458.93 L 432.93 458.26 L 434.77 457.47 L 436.60 456.46 L 438.44 455.16 L 440.27 453.54 L 442.11 451.58 L 443.95 449.25 L 445.78 446.55 L 447.93 442.96 L 450.38 438.38 L 458.64 422.37 L 460.17 420.00 L 461.70 418.04 L 462.92 416.80 L 464.15 415.90 L 465.07 415.45 L 465.98 415.21 L 466.90 415.17 L 467.82 415.35 L 468.74 415.73 L 469.66 416.31 L 470.88 417.38 L 472.11 418.77 L 473.64 420.91 L 475.47 423.94 L 477.62 427.96 L 485.88 444.03 L 488.02 447.49 L 489.86 450.07 L 491.70 452.28 L 493.53 454.12 L 495.37 455.62 L 497.20 456.82 L 499.04 457.76 L 501.18 458.57 L 503.33 459.15 L 505.77 459.59 L 508.84 459.92 L 512.51 460.12 L 512.51 460.12 " clip-path="url(#p51904fc536)" style="fill: none; stroke: #1a6ed2; stroke-opacity: 0.85; stroke-width: 1.41"/>
</g>
<g id="line2d_91">
<path d="M 420.69 460.25 L 428.95 460.11 L 432.32 459.86 L 434.77 459.47 L 436.60 458.98 L 438.44 458.26 L 439.97 457.42 L 441.50 456.30 L 443.03 454.85 L 444.56 453.00 L 446.09 450.72 L 447.62 447.97 L 449.15 444.73 L 450.99 440.22 L 453.13 434.23 L 456.50 423.95 L 459.25 415.83 L 460.78 411.91 L 462.01 409.25 L 463.23 407.12 L 464.15 405.92 L 465.07 405.08 L 465.98 404.62 L 466.60 404.53 L 467.21 404.62 L 467.82 404.88 L 468.74 405.59 L 469.66 406.68 L 470.58 408.11 L 471.80 410.52 L 473.02 413.40 L 474.86 418.42 L 477.62 426.78 L 480.98 436.88 L 483.13 442.56 L 484.96 446.73 L 486.49 449.68 L 488.02 452.15 L 489.55 454.16 L 491.08 455.76 L 492.61 457.01 L 494.14 457.95 L 495.67 458.66 L 497.51 459.25 L 499.65 459.69 L 502.41 460.00 L 506.39 460.18 L 512.51 460.25 L 512.51 460.25 " clip-path="url(#p51904fc536)" style="fill: none; stroke: #e02d32; stroke-opacity: 0.85; stroke-width: 1.41"/>
</g>
<g id="line2d_92">
<path d="M 420.69 460.26 L 438.74 460.15 L 441.19 459.93 L 443.03 459.55 L 444.56 458.97 L 445.78 458.25 L 447.01 457.21 L 447.93 456.15 L 448.84 454.80 L 449.76 453.11 L 450.68 451.03 L 451.91 447.57 L 453.13 443.26 L 454.35 438.06 L 455.88 430.34 L 457.72 419.66 L 461.70 395.61 L 462.92 389.59 L 463.84 385.96 L 464.76 383.26 L 465.37 382.02 L 465.98 381.27 L 466.60 381.02 L 466.90 381.08 L 467.52 381.58 L 468.13 382.58 L 468.74 384.05 L 469.66 387.08 L 470.58 390.98 L 471.80 397.29 L 473.64 408.23 L 477.00 428.66 L 478.53 436.62 L 479.76 442.04 L 480.98 446.58 L 482.21 450.24 L 483.43 453.11 L 484.66 455.28 L 485.88 456.88 L 487.10 458.03 L 488.33 458.82 L 489.55 459.35 L 491.08 459.77 L 492.92 460.04 L 495.67 460.20 L 501.49 460.25 L 512.51 460.26 L 512.51 460.26 " clip-path="url(#p51904fc536)" style="fill: none; stroke: #f0c828; stroke-opacity: 0.85; stroke-width: 1.41"/>
</g>
<g id="patch_73">
<path d="M 420.69 460.26 L 420.69 368.31 " style="fill: none; stroke: #000000; stroke-width: 0.8; stroke-linejoin: miter; stroke-linecap: square"/>
</g>
<g id="patch_74">
<path d="M 512.51 460.26 L 512.51 368.31 " style="fill: none; stroke: #000000; stroke-width: 0.8; stroke-linejoin: miter; stroke-linecap: square"/>
</g>
<g id="patch_75">
<path d="M 420.69 460.26 L 512.51 460.26 " style="fill: none; stroke: #000000; stroke-width: 0.8; stroke-linejoin: miter; stroke-linecap: square"/>
</g>
<g id="patch_76">
<path d="M 420.69 368.31 L 512.51 368.31 " style="fill: none; stroke: #000000; stroke-width: 0.8; stroke-linejoin: miter; stroke-linecap: square"/>
</g>
</g>
<g id="axes_16">
<g id="patch_77">
<path d="M 53.40 552.20 L 145.22 552.20 L 145.22 460.26 L 53.40 460.26 z
" style="fill: #ffffff"/>
</g>
<g id="matplotlib.axis_31"/>
<g id="matplotlib.axis_32">
<g id="ytick_18">
<g id="line2d_93">
<g>
<use href="#m5d545ce8f8" x="53.40" y="539.22" style="stroke: #000000; stroke-width: 0.8"/>
</g>
</g>
<g id="text_22">
<text style="font-size: 10px; font-family: 'Liberation Sans'" transform="translate(33.68 552.04) rotate(-45)" textLength="15.90" lengthAdjust="spacingAndGlyphs">0.8</text>
</g>
</g>
<g id="ytick_19">
<g id="line2d_94">
<g>
<use href="#m5d545ce8f8" x="53.40" y="518.91" style="stroke: #000000; stroke-width: 0.8"/>
</g>
</g>
<g id="text_23">
<text style="font-size: 10px; font-family: 'Liberation Sans'" transform="translate(33.68 531.73) rotate(-45)" textLength="15.90" lengthAdjust="spacingAndGlyphs">0.9</text>
</g>
</g>
<g id="ytick_20">
<g id="line2d_95">
<g>
<use href="#m5d545ce8f8" x="53.40" y="498.59" style="stroke: #000000; stroke-width: 0.8"/>
</g>
</g>
<g id="text_24">
<text style="font-size: 10px; font-family: 'Liberation Sans'" transform="translate(33.68 511.41) rotate(-45)" textLength="15.90" lengthAdjust="spacingAndGlyphs">1.0</text>
</g>
</g>
<g id="ytick_21">
<g id="line2d_96">
<g>
<use href="#m5d545ce8f8" x="53.40" y="478.28" style="stroke: #000000; stroke-width: 0.8"/>
</g>
</g>
<g id="text_25">
<text style="font-size: 10px; font-family: 'Liberation Sans'" transform="translate(33.68 491.10) rotate(-45)" textLength="15.90" lengthAdjust="spacingAndGlyphs">1.1</text>
</g>
</g>
<g id="text_26">
<!-- n$_s$ -->
<g transform="translate(21.81 514.57) rotate(-90)">
<text>
<tspan x="0" y="-0.28" style="font-size: 12px; font-family: 'Liberation Sans'" textLength="7.61" lengthAdjust="spacingAndGlyphs">n</tspan>
<tspan x="7.72" y="1.68" style="font-style: italic; font-size: 8.4px; font-family: 'Liberation Sans'" textLength="4.38" lengthAdjust="spacingAndGlyphs">s</tspan>
</text>
</g>
</g>
</g>
<g id="line2d_97">
<path d="M 129.84 514.95 L 129.72 512.31 L 129.38 509.63 L 128.80 506.92 L 128.00 504.20 L 126.98 501.50 L 125.75 498.83 L 124.32 496.22 L 122.70 493.69 L 120.90 491.25 L 118.93 488.93 L 116.82 486.74 L 114.57 484.69 L 112.21 482.82 L 109.75 481.11 L 107.21 479.60 L 104.61 478.30 L 101.97 477.20 L 99.31 476.33 L 96.65 475.68 L 94.01 475.27 L 91.41 475.09 L 88.87 475.15 L 86.41 475.44 L 84.04 475.97 L 81.80 476.73 L 79.68 477.72 L 77.72 478.92 L 75.92 480.33 L 74.30 481.93 L 72.87 483.73 L 71.64 485.69 L 70.62 487.81 L 69.82 490.07 L 69.24 492.45 L 68.90 494.94 L 68.78 497.51 L 68.90 500.15 L 69.24 502.83 L 69.82 505.55 L 70.62 508.26 L 71.64 510.96 L 72.87 513.63 L 74.30 516.24 L 75.92 518.77 L 77.72 521.21 L 79.68 523.53 L 81.80 525.72 L 84.04 527.77 L 86.41 529.65 L 88.87 531.35 L 91.41 532.86 L 94.01 534.16 L 96.65 535.26 L 99.31 536.13 L 101.97 536.78 L 104.61 537.19 L 107.21 537.37 L 109.75 537.31 L 112.21 537.02 L 114.57 536.49 L 116.82 535.73 L 118.93 534.74 L 120.90 533.54 L 122.70 532.13 L 124.32 530.53 L 125.75 528.74 L 126.98 526.77 L 128.00 524.65 L 128.80 522.39 L 129.38 520.01 L 129.72 517.53 L 129.84 514.95 " clip-path="url(#pebb072ecfa)" style="fill: none; stroke: #235fa0; stroke-width: 1.25; stroke-linecap: square"/>
</g>
<g id="line2d_98">
<path d="M 107.15 503.58 L 107.12 501.68 L 107.03 499.82 L 106.88 498.00 L 106.68 496.25 L 106.41 494.57 L 106.10 492.98 L 105.73 491.49 L 105.31 490.12 L 104.85 488.86 L 104.35 487.74 L 103.81 486.76 L 103.23 485.93 L 102.62 485.25 L 101.99 484.73 L 101.34 484.38 L 100.67 484.19 L 99.99 484.17 L 99.31 484.32 L 98.63 484.63 L 97.95 485.11 L 97.28 485.75 L 96.63 486.55 L 96.00 487.49 L 95.39 488.58 L 94.81 489.80 L 94.27 491.15 L 93.77 492.61 L 93.30 494.17 L 92.89 495.83 L 92.52 497.57 L 92.20 499.37 L 91.94 501.22 L 91.74 503.12 L 91.59 505.03 L 91.50 506.96 L 91.47 508.88 L 91.50 510.78 L 91.59 512.64 L 91.74 514.46 L 91.94 516.21 L 92.20 517.89 L 92.52 519.48 L 92.89 520.97 L 93.30 522.34 L 93.77 523.60 L 94.27 524.72 L 94.81 525.70 L 95.39 526.53 L 96.00 527.21 L 96.63 527.73 L 97.28 528.08 L 97.95 528.27 L 98.63 528.29 L 99.31 528.14 L 99.99 527.83 L 100.67 527.35 L 101.34 526.71 L 101.99 525.92 L 102.62 524.97 L 103.23 523.88 L 103.81 522.66 L 104.35 521.31 L 104.85 519.85 L 105.31 518.29 L 105.73 516.63 L 106.10 514.89 L 106.41 513.09 L 106.68 511.24 L 106.88 509.34 L 107.03 507.43 L 107.12 505.50 L 107.15 503.58 " clip-path="url(#pebb072ecfa)" style="fill: none; stroke: #5f9137; stroke-width: 1.25; stroke-linecap: square"/>
</g>
<g id="line2d_99">
<path d="M 127.47 513.89 L 127.36 511.66 L 127.04 509.38 L 126.51 507.09 L 125.77 504.78 L 124.83 502.49 L 123.69 500.23 L 122.37 498.01 L 120.88 495.85 L 119.22 493.78 L 117.41 491.79 L 115.46 489.92 L 113.39 488.18 L 111.21 486.56 L 108.94 485.10 L 106.60 483.80 L 104.20 482.67 L 101.76 481.72 L 99.31 480.96 L 96.86 480.39 L 94.42 480.02 L 92.02 479.84 L 89.68 479.87 L 87.41 480.09 L 85.23 480.52 L 83.16 481.14 L 81.21 481.95 L 79.40 482.95 L 77.74 484.12 L 76.24 485.46 L 74.92 486.96 L 73.79 488.61 L 72.85 490.39 L 72.11 492.29 L 71.58 494.30 L 71.26 496.40 L 71.15 498.57 L 71.26 500.80 L 71.58 503.08 L 72.11 505.37 L 72.85 507.68 L 73.79 509.97 L 74.92 512.23 L 76.24 514.45 L 77.74 516.61 L 79.40 518.68 L 81.21 520.67 L 83.16 522.54 L 85.23 524.29 L 87.41 525.90 L 89.68 527.36 L 92.02 528.66 L 94.42 529.79 L 96.86 530.74 L 99.31 531.50 L 101.76 532.07 L 104.20 532.45 L 106.60 532.62 L 108.94 532.60 L 111.21 532.37 L 113.39 531.94 L 115.46 531.32 L 117.41 530.51 L 119.22 529.51 L 120.88 528.34 L 122.37 527.00 L 123.69 525.50 L 124.83 523.85 L 125.77 522.07 L 126.51 520.17 L 127.04 518.16 L 127.36 516.06 L 127.47 513.89 " clip-path="url(#pebb072ecfa)" style="fill: none; stroke: #aa282d; stroke-width: 1.25; stroke-linecap: square"/>
</g>
<g id="line2d_100">
<path d="M 106.01 505.47 L 105.99 504.14 L 105.91 502.83 L 105.78 501.55 L 105.61 500.30 L 105.38 499.10 L 105.11 497.95 L 104.80 496.86 L 104.44 495.85 L 104.05 494.91 L 103.62 494.06 L 103.15 493.30 L 102.66 492.65 L 102.14 492.09 L 101.60 491.64 L 101.04 491.31 L 100.47 491.08 L 99.89 490.98 L 99.31 490.98 L 98.72 491.11 L 98.15 491.35 L 97.57 491.70 L 97.02 492.17 L 96.48 492.74 L 95.96 493.41 L 95.46 494.18 L 95.00 495.04 L 94.57 495.99 L 94.17 497.02 L 93.82 498.11 L 93.50 499.27 L 93.23 500.48 L 93.01 501.73 L 92.83 503.02 L 92.71 504.33 L 92.63 505.66 L 92.61 506.99 L 92.63 508.32 L 92.71 509.63 L 92.83 510.91 L 93.01 512.16 L 93.23 513.37 L 93.50 514.51 L 93.82 515.60 L 94.17 516.62 L 94.57 517.55 L 95.00 518.40 L 95.46 519.16 L 95.96 519.82 L 96.48 520.37 L 97.02 520.82 L 97.57 521.15 L 98.15 521.38 L 98.72 521.48 L 99.31 521.48 L 99.89 521.35 L 100.47 521.11 L 101.04 520.76 L 101.60 520.30 L 102.14 519.73 L 102.66 519.05 L 103.15 518.28 L 103.62 517.42 L 104.05 516.47 L 104.44 515.45 L 104.80 514.35 L 105.11 513.19 L 105.38 511.98 L 105.61 510.73 L 105.78 509.44 L 105.91 508.13 L 105.99 506.80 L 106.01 505.47 " clip-path="url(#pebb072ecfa)" style="fill: none; stroke: #552896; stroke-width: 1.25; stroke-linecap: square"/>
</g>
<g id="line2d_101">
<path d="M 123.55 509.54 L 123.46 507.95 L 123.18 506.35 L 122.72 504.75 L 122.09 503.16 L 121.28 501.59 L 120.30 500.06 L 119.16 498.58 L 117.88 497.15 L 116.45 495.80 L 114.89 494.52 L 113.21 493.33 L 111.43 492.24 L 109.55 491.26 L 107.60 490.39 L 105.58 489.64 L 103.52 489.02 L 101.42 488.53 L 99.31 488.17 L 97.20 487.95 L 95.10 487.87 L 93.04 487.93 L 91.02 488.13 L 89.07 488.47 L 87.19 488.94 L 85.41 489.54 L 83.73 490.27 L 82.17 491.12 L 80.74 492.09 L 79.45 493.17 L 78.32 494.34 L 77.34 495.60 L 76.53 496.95 L 75.90 498.36 L 75.44 499.84 L 75.16 501.36 L 75.07 502.93 L 75.16 504.51 L 75.44 506.11 L 75.90 507.71 L 76.53 509.30 L 77.34 510.87 L 78.32 512.40 L 79.45 513.88 L 80.74 515.31 L 82.17 516.66 L 83.73 517.94 L 85.41 519.13 L 87.19 520.22 L 89.07 521.20 L 91.02 522.07 L 93.04 522.82 L 95.10 523.44 L 97.20 523.93 L 99.31 524.29 L 101.42 524.51 L 103.52 524.59 L 105.58 524.53 L 107.60 524.33 L 109.55 523.99 L 111.43 523.52 L 113.21 522.92 L 114.89 522.19 L 116.45 521.34 L 117.88 520.37 L 119.16 519.30 L 120.30 518.12 L 121.28 516.86 L 122.09 515.51 L 122.72 514.10 L 123.18 512.62 L 123.46 511.10 L 123.55 509.54 " clip-path="url(#pebb072ecfa)" style="fill: none; stroke: #afa028; stroke-width: 1.25; stroke-linecap: square"/>
</g>
<g id="patch_78">
<path d="M 53.40 552.20 L 53.40 460.26 " style="fill: none; stroke: #000000; stroke-width: 0.8; stroke-linejoin: miter; stroke-linecap: square"/>
</g>
<g id="patch_79">
<path d="M 145.22 552.20 L 145.22 460.26 " style="fill: none; stroke: #000000; stroke-width: 0.8; stroke-linejoin: miter; stroke-linecap: square"/>
</g>
<g id="patch_80">
<path d="M 53.40 552.20 L 145.22 552.20 " style="fill: none; stroke: #000000; stroke-width: 0.8; stroke-linejoin: miter; stroke-linecap: square"/>
</g>
<g id="patch_81">
<path d="M 53.40 460.26 L 145.22 460.26 " style="fill: none; stroke: #000000; stroke-width: 0.8; stroke-linejoin: miter; stroke-linecap: square"/>
</g>
</g>
<g id="axes_17">
<g id="patch_82">
<path d="M 145.22 552.20 L 237.04 552.20 L 237.04 460.26 L 145.22 460.26 z
" style="fill: #ffffff"/>
</g>
<g id="matplotlib.axis_33"/>
<g id="matplotlib.axis_34"/>
<g id="line2d_102">
<path d="M 221.76 499.07 L 221.65 496.45 L 221.30 493.91 L 220.72 491.46 L 219.92 489.13 L 218.89 486.93 L 217.66 484.87 L 216.22 482.97 L 214.60 481.26 L 212.79 479.73 L 210.82 478.40 L 208.70 477.29 L 206.45 476.40 L 204.08 475.73 L 201.61 475.29 L 199.06 475.10 L 196.45 475.13 L 193.80 475.41 L 191.13 475.92 L 188.46 476.66 L 185.81 477.62 L 183.20 478.80 L 180.65 480.20 L 178.18 481.78 L 175.81 483.56 L 173.56 485.51 L 171.44 487.61 L 169.47 489.86 L 167.66 492.23 L 166.04 494.71 L 164.60 497.28 L 163.37 499.91 L 162.35 502.59 L 161.54 505.30 L 160.96 508.02 L 160.61 510.73 L 160.50 513.39 L 160.61 516.01 L 160.96 518.55 L 161.54 521.00 L 162.35 523.33 L 163.37 525.53 L 164.60 527.59 L 166.04 529.49 L 167.66 531.20 L 169.47 532.73 L 171.44 534.06 L 173.56 535.17 L 175.81 536.07 L 178.18 536.73 L 180.65 537.17 L 183.20 537.37 L 185.81 537.33 L 188.46 537.05 L 191.13 536.54 L 193.80 535.80 L 196.45 534.84 L 199.06 533.66 L 201.61 532.27 L 204.08 530.68 L 206.45 528.90 L 208.70 526.95 L 210.82 524.85 L 212.79 522.60 L 214.60 520.23 L 216.22 517.75 L 217.66 515.18 L 218.89 512.55 L 219.92 509.87 L 220.72 507.16 L 221.30 504.44 L 221.65 501.74 L 221.76 499.07 " clip-path="url(#pb58f2c83f6)" style="fill: none; stroke: #235fa0; stroke-width: 1.25; stroke-linecap: square"/>
</g>
<g id="line2d_103">
<path d="M 208.77 495.64 L 208.70 493.99 L 208.50 492.43 L 208.17 490.99 L 207.71 489.65 L 207.12 488.45 L 206.41 487.37 L 205.58 486.45 L 204.64 485.67 L 203.60 485.05 L 202.47 484.59 L 201.25 484.29 L 199.95 484.16 L 198.59 484.20 L 197.16 484.41 L 195.70 484.78 L 194.19 485.32 L 192.67 486.02 L 191.13 486.87 L 189.59 487.86 L 188.07 489.00 L 186.57 490.27 L 185.10 491.66 L 183.68 493.16 L 182.31 494.76 L 181.01 496.45 L 179.79 498.21 L 178.66 500.03 L 177.62 501.90 L 176.68 503.80 L 175.86 505.72 L 175.15 507.65 L 174.56 509.56 L 174.09 511.45 L 173.76 513.30 L 173.56 515.10 L 173.49 516.83 L 173.56 518.47 L 173.76 520.03 L 174.09 521.48 L 174.56 522.81 L 175.15 524.02 L 175.86 525.09 L 176.68 526.02 L 177.62 526.79 L 178.66 527.41 L 179.79 527.87 L 181.01 528.17 L 182.31 528.30 L 183.68 528.26 L 185.10 528.05 L 186.57 527.68 L 188.07 527.14 L 189.59 526.44 L 191.13 525.59 L 192.67 524.60 L 194.19 523.46 L 195.70 522.19 L 197.16 520.80 L 198.59 519.30 L 199.95 517.70 L 201.25 516.02 L 202.47 514.25 L 203.60 512.43 L 204.64 510.56 L 205.58 508.66 L 206.41 506.74 L 207.12 504.81 L 207.71 502.90 L 208.17 501.01 L 208.50 499.16 L 208.70 497.36 L 208.77 495.64 " clip-path="url(#pb58f2c83f6)" style="fill: none; stroke: #5f9137; stroke-width: 1.25; stroke-linecap: square"/>
</g>
<g id="line2d_104">
<path d="M 200.83 503.59 L 200.79 501.31 L 200.68 499.07 L 200.50 496.88 L 200.24 494.76 L 199.92 492.73 L 199.53 490.81 L 199.07 489.00 L 198.56 487.32 L 197.99 485.79 L 197.36 484.41 L 196.69 483.20 L 195.98 482.16 L 195.23 481.30 L 194.45 480.64 L 193.64 480.17 L 192.81 479.90 L 191.98 479.83 L 191.13 479.96 L 190.29 480.29 L 189.45 480.82 L 188.62 481.54 L 187.82 482.45 L 187.03 483.54 L 186.28 484.80 L 185.57 486.22 L 184.90 487.80 L 184.28 489.52 L 183.70 491.37 L 183.19 493.32 L 182.73 495.38 L 182.34 497.52 L 182.02 499.73 L 181.77 501.98 L 181.58 504.27 L 181.47 506.57 L 181.44 508.87 L 181.47 511.15 L 181.58 513.39 L 181.77 515.58 L 182.02 517.70 L 182.34 519.73 L 182.73 521.65 L 183.19 523.46 L 183.70 525.14 L 184.28 526.67 L 184.90 528.05 L 185.57 529.27 L 186.28 530.30 L 187.03 531.16 L 187.82 531.82 L 188.62 532.29 L 189.45 532.56 L 190.29 532.63 L 191.13 532.50 L 191.98 532.17 L 192.81 531.64 L 193.64 530.92 L 194.45 530.01 L 195.23 528.93 L 195.98 527.66 L 196.69 526.24 L 197.36 524.66 L 197.99 522.94 L 198.56 521.10 L 199.07 519.14 L 199.53 517.08 L 199.92 514.94 L 200.24 512.73 L 200.50 510.48 L 200.68 508.19 L 200.79 505.89 L 200.83 503.59 " clip-path="url(#pb58f2c83f6)" style="fill: none; stroke: #aa282d; stroke-width: 1.25; stroke-linecap: square"/>
</g>
<g id="line2d_105">
<path d="M 197.53 506.23 L 197.50 504.90 L 197.43 503.58 L 197.31 502.28 L 197.14 501.01 L 196.93 499.78 L 196.67 498.60 L 196.37 497.48 L 196.03 496.42 L 195.65 495.44 L 195.24 494.54 L 194.80 493.73 L 194.33 493.01 L 193.83 492.40 L 193.32 491.89 L 192.79 491.49 L 192.24 491.20 L 191.69 491.02 L 191.13 490.97 L 190.57 491.02 L 190.02 491.20 L 189.48 491.49 L 188.94 491.89 L 188.43 492.40 L 187.93 493.01 L 187.46 493.73 L 187.02 494.54 L 186.61 495.44 L 186.23 496.42 L 185.89 497.48 L 185.59 498.60 L 185.34 499.78 L 185.12 501.01 L 184.95 502.28 L 184.83 503.58 L 184.76 504.90 L 184.74 506.23 L 184.76 507.56 L 184.83 508.88 L 184.95 510.18 L 185.12 511.45 L 185.34 512.68 L 185.59 513.86 L 185.89 514.99 L 186.23 516.04 L 186.61 517.02 L 187.02 517.92 L 187.46 518.73 L 187.93 519.45 L 188.43 520.07 L 188.94 520.57 L 189.48 520.98 L 190.02 521.26 L 190.57 521.44 L 191.13 521.50 L 191.69 521.44 L 192.24 521.26 L 192.79 520.98 L 193.32 520.57 L 193.83 520.07 L 194.33 519.45 L 194.80 518.73 L 195.24 517.92 L 195.65 517.02 L 196.03 516.04 L 196.37 514.99 L 196.67 513.86 L 196.93 512.68 L 197.14 511.45 L 197.31 510.18 L 197.43 508.88 L 197.50 507.56 L 197.53 506.23 " clip-path="url(#pb58f2c83f6)" style="fill: none; stroke: #552896; stroke-width: 1.25; stroke-linecap: square"/>
</g>
<g id="line2d_106">
<path d="M 198.71 505.31 L 198.68 503.72 L 198.60 502.14 L 198.45 500.60 L 198.26 499.10 L 198.00 497.65 L 197.70 496.27 L 197.34 494.96 L 196.94 493.74 L 196.49 492.62 L 196.00 491.59 L 195.48 490.68 L 194.92 489.89 L 194.34 489.22 L 193.72 488.69 L 193.09 488.28 L 192.45 488.01 L 191.79 487.88 L 191.13 487.89 L 190.47 488.04 L 189.81 488.33 L 189.17 488.76 L 188.54 489.31 L 187.93 490.00 L 187.34 490.81 L 186.78 491.74 L 186.26 492.77 L 185.77 493.91 L 185.32 495.15 L 184.92 496.47 L 184.57 497.86 L 184.26 499.31 L 184.01 500.82 L 183.81 502.37 L 183.67 503.95 L 183.58 505.55 L 183.55 507.15 L 183.58 508.74 L 183.67 510.32 L 183.81 511.86 L 184.01 513.36 L 184.26 514.81 L 184.57 516.19 L 184.92 517.50 L 185.32 518.72 L 185.77 519.85 L 186.26 520.87 L 186.78 521.78 L 187.34 522.57 L 187.93 523.24 L 188.54 523.77 L 189.17 524.18 L 189.81 524.45 L 190.47 524.58 L 191.13 524.57 L 191.79 524.42 L 192.45 524.13 L 193.09 523.70 L 193.72 523.15 L 194.34 522.46 L 194.92 521.65 L 195.48 520.72 L 196.00 519.69 L 196.49 518.55 L 196.94 517.31 L 197.34 516.00 L 197.70 514.60 L 198.00 513.15 L 198.26 511.64 L 198.45 510.09 L 198.60 508.51 L 198.68 506.91 L 198.71 505.31 " clip-path="url(#pb58f2c83f6)" style="fill: none; stroke: #afa028; stroke-width: 1.25; stroke-linecap: square"/>
</g>
<g id="patch_83">
<path d="M 145.22 552.20 L 145.22 460.26 " style="fill: none; stroke: #000000; stroke-width: 0.8; stroke-linejoin: miter; stroke-linecap: square"/>
</g>
<g id="patch_84">
<path d="M 237.04 552.20 L 237.04 460.26 " style="fill: none; stroke: #000000; stroke-width: 0.8; stroke-linejoin: miter; stroke-linecap: square"/>
</g>
<g id="patch_85">
<path d="M 145.22 552.20 L 237.04 552.20 " style="fill: none; stroke: #000000; stroke-width: 0.8; stroke-linejoin: miter; stroke-linecap: square"/>
</g>
<g id="patch_86">
<path d="M 145.22 460.26 L 237.04 460.26 " style="fill: none; stroke: #000000; stroke-width: 0.8; stroke-linejoin: miter; stroke-linecap: square"/>
</g>
</g>
<g id="axes_18">
<g id="patch_87">
<path d="M 237.04 552.20 L 328.86 552.20 L 328.86 460.26 L 237.04 460.26 z
" style="fill: #ffffff"/>
</g>
<g id="matplotlib.axis_35"/>
<g id="matplotlib.axis_36"/>
<g id="line2d_107">
<path d="M 314.21 514.64 L 314.09 511.99 L 313.73 509.30 L 313.14 506.59 L 312.32 503.88 L 311.28 501.18 L 310.02 498.52 L 308.55 495.92 L 306.89 493.39 L 305.05 490.97 L 303.04 488.66 L 300.88 486.49 L 298.58 484.46 L 296.16 482.60 L 293.64 480.92 L 291.04 479.44 L 288.38 478.15 L 285.68 477.09 L 282.95 476.24 L 280.23 475.62 L 277.53 475.23 L 274.86 475.08 L 272.26 475.17 L 269.75 475.49 L 267.33 476.05 L 265.03 476.84 L 262.86 477.85 L 260.85 479.08 L 259.01 480.51 L 257.35 482.14 L 255.89 483.95 L 254.63 485.93 L 253.59 488.07 L 252.77 490.34 L 252.18 492.74 L 251.82 495.24 L 251.70 497.82 L 251.82 500.47 L 252.18 503.16 L 252.77 505.87 L 253.59 508.59 L 254.63 511.28 L 255.89 513.94 L 257.35 516.54 L 259.01 519.07 L 260.85 521.49 L 262.86 523.80 L 265.03 525.97 L 267.33 528.00 L 269.75 529.86 L 272.26 531.54 L 274.86 533.02 L 277.53 534.31 L 280.23 535.38 L 282.95 536.22 L 285.68 536.84 L 288.38 537.23 L 291.04 537.38 L 293.64 537.29 L 296.16 536.97 L 298.58 536.41 L 300.88 535.62 L 303.04 534.61 L 305.05 533.38 L 306.89 531.95 L 308.55 530.32 L 310.02 528.51 L 311.28 526.53 L 312.32 524.39 L 313.14 522.12 L 313.73 519.72 L 314.09 517.22 L 314.21 514.64 " clip-path="url(#p90f4bfe1e8)" style="fill: none; stroke: #235fa0; stroke-width: 1.25; stroke-linecap: square"/>
</g>
<g id="line2d_108">
<path d="M 307.60 507.33 L 307.51 505.41 L 307.23 503.49 L 306.76 501.59 L 306.12 499.73 L 305.29 497.91 L 304.30 496.16 L 303.15 494.49 L 301.84 492.91 L 300.38 491.42 L 298.80 490.05 L 297.09 488.81 L 295.28 487.69 L 293.37 486.72 L 291.38 485.89 L 289.33 485.22 L 287.23 484.71 L 285.10 484.37 L 282.95 484.19 L 280.80 484.17 L 278.67 484.33 L 276.57 484.65 L 274.52 485.14 L 272.54 485.78 L 270.63 486.59 L 268.81 487.54 L 267.11 488.63 L 265.52 489.86 L 264.07 491.22 L 262.76 492.68 L 261.61 494.25 L 260.61 495.91 L 259.79 497.65 L 259.14 499.46 L 258.68 501.32 L 258.40 503.21 L 258.30 505.13 L 258.40 507.05 L 258.68 508.97 L 259.14 510.87 L 259.79 512.73 L 260.61 514.55 L 261.61 516.30 L 262.76 517.97 L 264.07 519.56 L 265.52 521.04 L 267.11 522.41 L 268.81 523.66 L 270.63 524.77 L 272.54 525.74 L 274.52 526.57 L 276.57 527.24 L 278.67 527.75 L 280.80 528.10 L 282.95 528.28 L 285.10 528.29 L 287.23 528.13 L 289.33 527.81 L 291.38 527.32 L 293.37 526.68 L 295.28 525.87 L 297.09 524.92 L 298.80 523.83 L 300.38 522.60 L 301.84 521.25 L 303.15 519.78 L 304.30 518.21 L 305.29 516.55 L 306.12 514.81 L 306.76 513.00 L 307.23 511.15 L 307.51 509.25 L 307.60 507.33 " clip-path="url(#p90f4bfe1e8)" style="fill: none; stroke: #5f9137; stroke-width: 1.25; stroke-linecap: square"/>
</g>
<g id="line2d_109">
<path d="M 293.27 500.95 L 293.23 498.72 L 293.11 496.54 L 292.92 494.43 L 292.65 492.42 L 292.30 490.51 L 291.89 488.72 L 291.40 487.07 L 290.85 485.56 L 290.25 484.20 L 289.58 483.02 L 288.87 482.01 L 288.11 481.19 L 287.31 480.55 L 286.48 480.11 L 285.62 479.87 L 284.74 479.84 L 283.85 480.00 L 282.95 480.36 L 282.05 480.92 L 281.16 481.67 L 280.28 482.61 L 279.43 483.73 L 278.59 485.02 L 277.80 486.47 L 277.04 488.07 L 276.32 489.81 L 275.66 491.67 L 275.05 493.65 L 274.50 495.72 L 274.02 497.87 L 273.61 500.08 L 273.26 502.34 L 272.99 504.64 L 272.80 506.94 L 272.68 509.24 L 272.64 511.51 L 272.68 513.75 L 272.80 515.92 L 272.99 518.03 L 273.26 520.04 L 273.61 521.95 L 274.02 523.74 L 274.50 525.40 L 275.05 526.91 L 275.66 528.26 L 276.32 529.44 L 277.04 530.45 L 277.80 531.28 L 278.59 531.91 L 279.43 532.35 L 280.28 532.59 L 281.16 532.63 L 282.05 532.46 L 282.95 532.10 L 283.85 531.54 L 284.74 530.79 L 285.62 529.85 L 286.48 528.73 L 287.31 527.45 L 288.11 525.99 L 288.87 524.39 L 289.58 522.65 L 290.25 520.79 L 290.85 518.81 L 291.40 516.74 L 291.89 514.59 L 292.30 512.38 L 292.65 510.12 L 292.92 507.83 L 293.11 505.52 L 293.23 503.22 L 293.27 500.95 " clip-path="url(#p90f4bfe1e8)" style="fill: none; stroke: #aa282d; stroke-width: 1.25; stroke-linecap: square"/>
</g>
<g id="line2d_110">
<path d="M 288.01 501.65 L 287.99 500.40 L 287.93 499.19 L 287.84 498.04 L 287.70 496.95 L 287.53 495.93 L 287.33 494.98 L 287.09 494.13 L 286.83 493.36 L 286.53 492.70 L 286.20 492.13 L 285.85 491.68 L 285.48 491.33 L 285.09 491.10 L 284.68 490.98 L 284.26 490.98 L 283.83 491.09 L 283.39 491.33 L 282.95 491.67 L 282.51 492.12 L 282.08 492.69 L 281.64 493.35 L 281.22 494.11 L 280.82 494.97 L 280.43 495.91 L 280.05 496.93 L 279.70 498.02 L 279.38 499.17 L 279.08 500.38 L 278.81 501.63 L 278.58 502.92 L 278.37 504.23 L 278.20 505.55 L 278.07 506.89 L 277.98 508.21 L 277.92 509.52 L 277.90 510.81 L 277.92 512.06 L 277.98 513.27 L 278.07 514.42 L 278.20 515.51 L 278.37 516.54 L 278.58 517.48 L 278.81 518.33 L 279.08 519.10 L 279.38 519.77 L 279.70 520.33 L 280.05 520.79 L 280.43 521.13 L 280.82 521.36 L 281.22 521.48 L 281.64 521.48 L 282.08 521.37 L 282.51 521.14 L 282.95 520.79 L 283.39 520.34 L 283.83 519.78 L 284.26 519.11 L 284.68 518.35 L 285.09 517.49 L 285.48 516.55 L 285.85 515.53 L 286.20 514.44 L 286.53 513.29 L 286.83 512.08 L 287.09 510.83 L 287.33 509.55 L 287.53 508.23 L 287.70 506.91 L 287.84 505.58 L 287.93 504.25 L 287.99 502.94 L 288.01 501.65 " clip-path="url(#p90f4bfe1e8)" style="fill: none; stroke: #552896; stroke-width: 1.25; stroke-linecap: square"/>
</g>
<g id="line2d_111">
<path d="M 289.14 500.72 L 289.12 499.22 L 289.05 497.77 L 288.93 496.38 L 288.77 495.07 L 288.56 493.84 L 288.31 492.70 L 288.02 491.67 L 287.69 490.75 L 287.33 489.95 L 286.93 489.27 L 286.50 488.73 L 286.05 488.31 L 285.57 488.03 L 285.07 487.89 L 284.55 487.89 L 284.03 488.03 L 283.49 488.30 L 282.95 488.72 L 282.41 489.26 L 281.88 489.94 L 281.35 490.74 L 280.84 491.66 L 280.34 492.69 L 279.86 493.82 L 279.40 495.04 L 278.98 496.35 L 278.58 497.74 L 278.21 499.19 L 277.88 500.70 L 277.59 502.24 L 277.34 503.82 L 277.14 505.42 L 276.98 507.02 L 276.86 508.61 L 276.79 510.19 L 276.76 511.74 L 276.79 513.24 L 276.86 514.70 L 276.98 516.08 L 277.14 517.40 L 277.34 518.62 L 277.59 519.76 L 277.88 520.79 L 278.21 521.71 L 278.58 522.51 L 278.98 523.19 L 279.40 523.74 L 279.86 524.15 L 280.34 524.43 L 280.84 524.57 L 281.35 524.57 L 281.88 524.43 L 282.41 524.16 L 282.95 523.74 L 283.49 523.20 L 284.03 522.52 L 284.55 521.72 L 285.07 520.80 L 285.57 519.78 L 286.05 518.64 L 286.50 517.42 L 286.93 516.11 L 287.33 514.72 L 287.69 513.27 L 288.02 511.76 L 288.31 510.22 L 288.56 508.64 L 288.77 507.04 L 288.93 505.44 L 289.05 503.85 L 289.12 502.27 L 289.14 500.72 " clip-path="url(#p90f4bfe1e8)" style="fill: none; stroke: #afa028; stroke-width: 1.25; stroke-linecap: square"/>
</g>
<g id="patch_88">
<path d="M 237.04 552.20 L 237.04 460.26 " style="fill: none; stroke: #000000; stroke-width: 0.8; stroke-linejoin: miter; stroke-linecap: square"/>
</g>
<g id="patch_89">
<path d="M 328.86 552.20 L 328.86 460.26 " style="fill: none; stroke: #000000; stroke-width: 0.8; stroke-linejoin: miter; stroke-linecap: square"/>
</g>
<g id="patch_90">
<path d="M 237.04 552.20 L 328.86 552.20 " style="fill: none; stroke: #000000; stroke-width: 0.8; stroke-linejoin: miter; stroke-linecap: square"/>
</g>
<g id="patch_91">
<path d="M 237.04 460.26 L 328.86 460.26 " style="fill: none; stroke: #000000; stroke-width: 0.8; stroke-linejoin: miter; stroke-linecap: square"/>
</g>
</g>
<g id="axes_19">
<g id="patch_92">
<path d="M 328.86 552.20 L 420.69 552.20 L 420.69 460.26 L 328.86 460.26 z
" style="fill: #ffffff"/>
</g>
<g id="matplotlib.axis_37"/>
<g id="matplotlib.axis_38"/>
<g id="line2d_112">
<path d="M 405.82 502.49 L 405.70 499.81 L 405.35 497.18 L 404.76 494.62 L 403.95 492.14 L 402.91 489.77 L 401.66 487.53 L 400.21 485.43 L 398.56 483.49 L 396.73 481.72 L 394.73 480.14 L 392.58 478.76 L 390.30 477.58 L 387.90 476.62 L 385.39 475.89 L 382.81 475.39 L 380.17 475.13 L 377.48 475.10 L 374.78 475.31 L 372.07 475.75 L 369.38 476.43 L 366.74 477.33 L 364.16 478.45 L 361.65 479.78 L 359.25 481.32 L 356.97 483.04 L 354.82 484.94 L 352.82 487.01 L 350.99 489.22 L 349.34 491.56 L 347.89 494.01 L 346.64 496.55 L 345.60 499.17 L 344.79 501.84 L 344.20 504.54 L 343.85 507.26 L 343.73 509.97 L 343.85 512.65 L 344.20 515.28 L 344.79 517.84 L 345.60 520.32 L 346.64 522.69 L 347.89 524.93 L 349.34 527.03 L 350.99 528.97 L 352.82 530.74 L 354.82 532.32 L 356.97 533.71 L 359.25 534.88 L 361.65 535.84 L 364.16 536.57 L 366.74 537.07 L 369.38 537.33 L 372.07 537.36 L 374.78 537.15 L 377.48 536.71 L 380.17 536.04 L 382.81 535.13 L 385.39 534.01 L 387.90 532.68 L 390.30 531.14 L 392.58 529.42 L 394.73 527.52 L 396.73 525.45 L 398.56 523.24 L 400.21 520.91 L 401.66 518.46 L 402.91 515.91 L 403.95 513.29 L 404.76 510.62 L 405.35 507.92 L 405.70 505.20 L 405.82 502.49 " clip-path="url(#pd0feb686a4)" style="fill: none; stroke: #235fa0; stroke-width: 1.25; stroke-linecap: square"/>
</g>
<g id="line2d_113">
<path d="M 394.27 507.33 L 394.19 505.41 L 393.97 503.49 L 393.60 501.59 L 393.09 499.73 L 392.44 497.91 L 391.66 496.16 L 390.74 494.49 L 389.71 492.91 L 388.56 491.42 L 387.31 490.05 L 385.96 488.81 L 384.52 487.69 L 383.01 486.72 L 381.44 485.89 L 379.82 485.22 L 378.16 484.71 L 376.47 484.37 L 374.78 484.19 L 373.08 484.17 L 371.39 484.33 L 369.73 484.65 L 368.11 485.14 L 366.54 485.78 L 365.03 486.59 L 363.59 487.54 L 362.25 488.63 L 360.99 489.86 L 359.84 491.22 L 358.81 492.68 L 357.89 494.25 L 357.11 495.91 L 356.46 497.65 L 355.95 499.46 L 355.58 501.32 L 355.36 503.21 L 355.28 505.13 L 355.36 507.05 L 355.58 508.97 L 355.95 510.87 L 356.46 512.73 L 357.11 514.55 L 357.89 516.30 L 358.81 517.97 L 359.84 519.56 L 360.99 521.04 L 362.25 522.41 L 363.59 523.66 L 365.03 524.77 L 366.54 525.74 L 368.11 526.57 L 369.73 527.24 L 371.39 527.75 L 373.08 528.10 L 374.78 528.28 L 376.47 528.29 L 378.16 528.13 L 379.82 527.81 L 381.44 527.32 L 383.01 526.68 L 384.52 525.87 L 385.96 524.92 L 387.31 523.83 L 388.56 522.60 L 389.71 521.25 L 390.74 519.78 L 391.66 518.21 L 392.44 516.55 L 393.09 514.81 L 393.60 513.00 L 393.97 511.15 L 394.19 509.25 L 394.27 507.33 " clip-path="url(#pd0feb686a4)" style="fill: none; stroke: #5f9137; stroke-width: 1.25; stroke-linecap: square"/>
</g>
<g id="line2d_114">
<path d="M 404.58 508.34 L 404.47 506.04 L 404.13 503.74 L 403.57 501.46 L 402.78 499.21 L 401.79 497.02 L 400.59 494.90 L 399.19 492.86 L 397.61 490.93 L 395.85 489.11 L 393.93 487.43 L 391.87 485.88 L 389.68 484.49 L 387.37 483.27 L 384.97 482.22 L 382.49 481.35 L 379.95 480.68 L 377.37 480.20 L 374.78 479.91 L 372.18 479.83 L 369.60 479.94 L 367.06 480.26 L 364.58 480.78 L 362.18 481.48 L 359.87 482.38 L 357.68 483.46 L 355.62 484.71 L 353.70 486.13 L 351.94 487.69 L 350.36 489.40 L 348.96 491.24 L 347.76 493.19 L 346.77 495.24 L 345.98 497.38 L 345.42 499.58 L 345.08 501.83 L 344.97 504.12 L 345.08 506.42 L 345.42 508.72 L 345.98 511.00 L 346.77 513.25 L 347.76 515.44 L 348.96 517.56 L 350.36 519.60 L 351.94 521.53 L 353.70 523.35 L 355.62 525.03 L 357.68 526.58 L 359.87 527.97 L 362.18 529.19 L 364.58 530.24 L 367.06 531.11 L 369.60 531.78 L 372.18 532.27 L 374.78 532.55 L 377.37 532.63 L 379.95 532.52 L 382.49 532.20 L 384.97 531.69 L 387.37 530.98 L 389.68 530.08 L 391.87 529.00 L 393.93 527.75 L 395.85 526.33 L 397.61 524.77 L 399.19 523.06 L 400.59 521.22 L 401.79 519.27 L 402.78 517.22 L 403.57 515.08 L 404.13 512.88 L 404.47 510.63 L 404.58 508.34 " clip-path="url(#pd0feb686a4)" style="fill: none; stroke: #aa282d; stroke-width: 1.25; stroke-linecap: square"/>
</g>
<g id="line2d_115">
<path d="M 390.56 509.89 L 390.50 508.59 L 390.32 507.27 L 390.02 505.93 L 389.60 504.60 L 389.08 503.29 L 388.44 501.99 L 387.70 500.73 L 386.86 499.51 L 385.93 498.34 L 384.92 497.23 L 383.83 496.19 L 382.67 495.23 L 381.44 494.35 L 380.17 493.56 L 378.86 492.86 L 377.52 492.27 L 376.15 491.79 L 374.78 491.41 L 373.40 491.15 L 372.03 491.00 L 370.69 490.97 L 369.38 491.05 L 368.11 491.25 L 366.88 491.57 L 365.72 491.99 L 364.63 492.52 L 363.62 493.16 L 362.69 493.90 L 361.85 494.73 L 361.11 495.65 L 360.47 496.65 L 359.95 497.72 L 359.53 498.86 L 359.23 500.05 L 359.05 501.29 L 358.99 502.57 L 359.05 503.87 L 359.23 505.20 L 359.53 506.53 L 359.95 507.86 L 360.47 509.17 L 361.11 510.47 L 361.85 511.73 L 362.69 512.95 L 363.62 514.12 L 364.63 515.23 L 365.72 516.27 L 366.88 517.23 L 368.11 518.11 L 369.38 518.90 L 370.69 519.60 L 372.03 520.19 L 373.40 520.67 L 374.78 521.05 L 376.15 521.31 L 377.52 521.46 L 378.86 521.49 L 380.17 521.41 L 381.44 521.21 L 382.67 520.90 L 383.83 520.47 L 384.92 519.94 L 385.93 519.30 L 386.86 518.56 L 387.70 517.73 L 388.44 516.81 L 389.08 515.81 L 389.60 514.74 L 390.02 513.60 L 390.32 512.41 L 390.50 511.17 L 390.56 509.89 " clip-path="url(#pd0feb686a4)" style="fill: none; stroke: #552896; stroke-width: 1.25; stroke-linecap: square"/>
</g>
<g id="line2d_116">
<path d="M 395.20 505.31 L 395.12 503.72 L 394.89 502.14 L 394.50 500.60 L 393.97 499.10 L 393.28 497.65 L 392.46 496.27 L 391.50 494.96 L 390.42 493.74 L 389.22 492.62 L 387.90 491.59 L 386.49 490.68 L 384.99 489.89 L 383.41 489.22 L 381.76 488.69 L 380.06 488.28 L 378.32 488.01 L 376.55 487.88 L 374.78 487.89 L 373.00 488.04 L 371.23 488.33 L 369.49 488.76 L 367.79 489.31 L 366.14 490.00 L 364.56 490.81 L 363.06 491.74 L 361.65 492.77 L 360.33 493.91 L 359.13 495.15 L 358.05 496.47 L 357.09 497.86 L 356.27 499.31 L 355.58 500.82 L 355.05 502.37 L 354.66 503.95 L 354.43 505.55 L 354.35 507.15 L 354.43 508.74 L 354.66 510.32 L 355.05 511.86 L 355.58 513.36 L 356.27 514.81 L 357.09 516.19 L 358.05 517.50 L 359.13 518.72 L 360.33 519.85 L 361.65 520.87 L 363.06 521.78 L 364.56 522.57 L 366.14 523.24 L 367.79 523.77 L 369.49 524.18 L 371.23 524.45 L 373.00 524.58 L 374.78 524.57 L 376.55 524.42 L 378.32 524.13 L 380.06 523.70 L 381.76 523.15 L 383.41 522.46 L 384.99 521.65 L 386.49 520.72 L 387.90 519.69 L 389.22 518.55 L 390.42 517.31 L 391.50 516.00 L 392.46 514.60 L 393.28 513.15 L 393.97 511.64 L 394.50 510.09 L 394.89 508.51 L 395.12 506.91 L 395.20 505.31 " clip-path="url(#pd0feb686a4)" style="fill: none; stroke: #afa028; stroke-width: 1.25; stroke-linecap: square"/>
</g>
<g id="patch_93">
<path d="M 328.86 552.20 L 328.86 460.26 " style="fill: none; stroke: #000000; stroke-width: 0.8; stroke-linejoin: miter; stroke-linecap: square"/>
</g>
<g id="patch_94">
<path d="M 420.69 552.20 L 420.69 460.26 " style="fill: none; stroke: #000000; stroke-width: 0.8; stroke-linejoin: miter; stroke-linecap: square"/>
</g>
<g id="patch_95">
<path d="M 328.86 552.20 L 420.69 552.20 " style="fill: none; stroke: #000000; stroke-width: 0.8; stroke-linejoin: miter; stroke-linecap: square"/>
</g>
<g id="patch_96">
<path d="M 328.86 460.26 L 420.69 460.26 " style="fill: none; stroke: #000000; stroke-width: 0.8; stroke-linejoin: miter; stroke-linecap: square"/>
</g>
</g>
<g id="axes_20">
<g id="patch_97">
<path d="M 420.69 552.20 L 512.51 552.20 L 512.51 460.26 L 420.69 460.26 z
" style="fill: #ffffff"/>
</g>
<g id="matplotlib.axis_39"/>
<g id="matplotlib.axis_40"/>
<g id="line2d_117">
<path d="M 497.95 530.22 L 497.83 528.39 L 497.48 526.40 L 496.88 524.25 L 496.06 521.97 L 495.01 519.57 L 493.75 517.06 L 492.28 514.48 L 490.62 511.83 L 488.77 509.14 L 486.75 506.42 L 484.58 503.71 L 482.27 501.01 L 479.85 498.35 L 477.32 495.76 L 474.71 493.24 L 472.04 490.82 L 469.33 488.52 L 466.60 486.36 L 463.86 484.34 L 461.15 482.49 L 458.48 480.83 L 455.87 479.35 L 453.35 478.08 L 450.92 477.03 L 448.61 476.19 L 446.44 475.59 L 444.43 475.22 L 442.58 475.08 L 440.91 475.18 L 439.44 475.52 L 438.18 476.09 L 437.13 476.90 L 436.31 477.92 L 435.72 479.16 L 435.36 480.61 L 435.24 482.25 L 435.36 484.07 L 435.72 486.06 L 436.31 488.21 L 437.13 490.49 L 438.18 492.89 L 439.44 495.40 L 440.91 497.98 L 442.58 500.63 L 444.43 503.32 L 446.44 506.04 L 448.61 508.75 L 450.92 511.45 L 453.35 514.11 L 455.87 516.70 L 458.48 519.22 L 461.15 521.64 L 463.86 523.94 L 466.60 526.10 L 469.33 528.12 L 472.04 529.97 L 474.71 531.64 L 477.32 533.11 L 479.85 534.38 L 482.27 535.43 L 484.58 536.27 L 486.75 536.87 L 488.77 537.24 L 490.62 537.38 L 492.28 537.28 L 493.75 536.94 L 495.01 536.37 L 496.06 535.57 L 496.88 534.54 L 497.48 533.30 L 497.83 531.86 L 497.95 530.22 " clip-path="url(#pa18baa8f46)" style="fill: none; stroke: #235fa0; stroke-width: 1.25; stroke-linecap: square"/>
</g>
<g id="line2d_118">
<path d="M 492.18 526.10 L 492.08 525.18 L 491.79 524.12 L 491.30 522.93 L 490.63 521.61 L 489.78 520.17 L 488.75 518.62 L 487.55 516.98 L 486.19 515.26 L 484.68 513.47 L 483.04 511.63 L 481.27 509.74 L 479.39 507.83 L 477.41 505.91 L 475.35 503.98 L 473.22 502.08 L 471.04 500.21 L 468.83 498.38 L 466.60 496.61 L 464.37 494.91 L 462.16 493.31 L 459.98 491.80 L 457.85 490.40 L 455.79 489.12 L 453.81 487.97 L 451.93 486.96 L 450.16 486.09 L 448.51 485.38 L 447.00 484.83 L 445.64 484.44 L 444.44 484.22 L 443.41 484.16 L 442.56 484.27 L 441.89 484.55 L 441.41 485.00 L 441.12 485.60 L 441.02 486.37 L 441.12 487.28 L 441.41 488.34 L 441.89 489.53 L 442.56 490.85 L 443.41 492.29 L 444.44 493.84 L 445.64 495.48 L 447.00 497.20 L 448.51 498.99 L 450.16 500.83 L 451.93 502.72 L 453.81 504.63 L 455.79 506.55 L 457.85 508.48 L 459.98 510.38 L 462.16 512.26 L 464.37 514.08 L 466.60 515.85 L 468.83 517.55 L 471.04 519.16 L 473.22 520.67 L 475.35 522.07 L 477.41 523.35 L 479.39 524.50 L 481.27 525.51 L 483.04 526.37 L 484.68 527.08 L 486.19 527.63 L 487.55 528.02 L 488.75 528.24 L 489.78 528.30 L 490.63 528.19 L 491.30 527.91 L 491.79 527.46 L 492.08 526.86 L 492.18 526.10 " clip-path="url(#pa18baa8f46)" style="fill: none; stroke: #5f9137; stroke-width: 1.25; stroke-linecap: square"/>
</g>
<g id="line2d_119">
<path d="M 491.97 526.83 L 491.87 525.31 L 491.58 523.64 L 491.11 521.85 L 490.44 519.93 L 489.59 517.91 L 488.57 515.81 L 487.38 513.62 L 486.03 511.39 L 484.54 509.11 L 482.91 506.81 L 481.15 504.51 L 479.28 502.22 L 477.32 499.96 L 475.28 497.75 L 473.16 495.60 L 471.00 493.53 L 468.81 491.57 L 466.60 489.71 L 464.39 487.98 L 462.19 486.38 L 460.03 484.94 L 457.92 483.66 L 455.87 482.55 L 453.91 481.62 L 452.04 480.88 L 450.29 480.33 L 448.66 479.98 L 447.16 479.83 L 445.81 479.88 L 444.62 480.13 L 443.60 480.58 L 442.75 481.23 L 442.09 482.06 L 441.61 483.08 L 441.32 484.27 L 441.22 485.64 L 441.32 487.15 L 441.61 488.82 L 442.09 490.61 L 442.75 492.53 L 443.60 494.55 L 444.62 496.66 L 445.81 498.84 L 447.16 501.07 L 448.66 503.35 L 450.29 505.65 L 452.04 507.95 L 453.91 510.24 L 455.87 512.50 L 457.92 514.71 L 460.03 516.86 L 462.19 518.93 L 464.39 520.90 L 466.60 522.75 L 468.81 524.49 L 471.00 526.08 L 473.16 527.52 L 475.28 528.80 L 477.32 529.91 L 479.28 530.84 L 481.15 531.58 L 482.91 532.13 L 484.54 532.48 L 486.03 532.63 L 487.38 532.58 L 488.57 532.33 L 489.59 531.88 L 490.44 531.24 L 491.11 530.40 L 491.58 529.38 L 491.87 528.19 L 491.97 526.83 " clip-path="url(#pa18baa8f46)" style="fill: none; stroke: #aa282d; stroke-width: 1.25; stroke-linecap: square"/>
</g>
<g id="line2d_120">
<path d="M 483.51 517.83 L 483.45 516.92 L 483.26 515.93 L 482.94 514.87 L 482.49 513.74 L 481.93 512.55 L 481.25 511.32 L 480.45 510.04 L 479.55 508.74 L 478.56 507.42 L 477.47 506.09 L 476.30 504.76 L 475.05 503.44 L 473.75 502.14 L 472.38 500.88 L 470.98 499.65 L 469.53 498.47 L 468.07 497.36 L 466.60 496.31 L 465.12 495.34 L 463.66 494.45 L 462.22 493.64 L 460.81 492.94 L 459.45 492.34 L 458.14 491.84 L 456.89 491.45 L 455.72 491.17 L 454.64 491.01 L 453.64 490.97 L 452.74 491.04 L 451.95 491.22 L 451.27 491.52 L 450.70 491.94 L 450.26 492.46 L 449.94 493.08 L 449.75 493.81 L 449.68 494.63 L 449.75 495.54 L 449.94 496.53 L 450.26 497.59 L 450.70 498.72 L 451.27 499.91 L 451.95 501.14 L 452.74 502.42 L 453.64 503.72 L 454.64 505.04 L 455.72 506.37 L 456.89 507.70 L 458.14 509.02 L 459.45 510.32 L 460.81 511.59 L 462.22 512.81 L 463.66 513.99 L 465.12 515.10 L 466.60 516.15 L 468.07 517.12 L 469.53 518.02 L 470.98 518.82 L 472.38 519.52 L 473.75 520.13 L 475.05 520.62 L 476.30 521.01 L 477.47 521.29 L 478.56 521.45 L 479.55 521.49 L 480.45 521.42 L 481.25 521.24 L 481.93 520.94 L 482.49 520.53 L 482.94 520.00 L 483.26 519.38 L 483.45 518.65 L 483.51 517.83 " clip-path="url(#pa18baa8f46)" style="fill: none; stroke: #552896; stroke-width: 1.25; stroke-linecap: square"/>
</g>
<g id="line2d_121">
<path d="M 484.44 519.82 L 484.37 518.69 L 484.17 517.47 L 483.83 516.16 L 483.36 514.77 L 482.77 513.32 L 482.05 511.82 L 481.21 510.28 L 480.27 508.70 L 479.21 507.11 L 478.07 505.50 L 476.83 503.91 L 475.52 502.33 L 474.14 500.78 L 472.70 499.27 L 471.22 497.82 L 469.70 496.43 L 468.15 495.11 L 466.60 493.88 L 465.04 492.75 L 463.50 491.71 L 461.98 490.79 L 460.49 489.98 L 459.06 489.30 L 457.68 488.74 L 456.36 488.32 L 455.13 488.04 L 453.98 487.89 L 452.93 487.89 L 451.98 488.02 L 451.14 488.29 L 450.42 488.70 L 449.83 489.24 L 449.36 489.91 L 449.02 490.71 L 448.82 491.62 L 448.75 492.64 L 448.82 493.77 L 449.02 495.00 L 449.36 496.30 L 449.83 497.69 L 450.42 499.14 L 451.14 500.64 L 451.98 502.18 L 452.93 503.76 L 453.98 505.36 L 455.13 506.96 L 456.36 508.55 L 457.68 510.13 L 459.06 511.68 L 460.49 513.19 L 461.98 514.64 L 463.50 516.03 L 465.04 517.35 L 466.60 518.58 L 468.15 519.72 L 469.70 520.75 L 471.22 521.67 L 472.70 522.48 L 474.14 523.16 L 475.52 523.72 L 476.83 524.14 L 478.07 524.42 L 479.21 524.57 L 480.27 524.58 L 481.21 524.44 L 482.05 524.17 L 482.77 523.76 L 483.36 523.22 L 483.83 522.55 L 484.17 521.75 L 484.37 520.84 L 484.44 519.82 " clip-path="url(#pa18baa8f46)" style="fill: none; stroke: #afa028; stroke-width: 1.25; stroke-linecap: square"/>
</g>
<g id="patch_98">
<path d="M 420.69 552.20 L 420.69 460.26 " style="fill: none; stroke: #000000; stroke-width: 0.8; stroke-linejoin: miter; stroke-linecap: square"/>
</g>
<g id="patch_99">
<path d="M 512.51 552.20 L 512.51 460.26 " style="fill: none; stroke: #000000; stroke-width: 0.8; stroke-linejoin: miter; stroke-linecap: square"/>
</g>
<g id="patch_100">
<path d="M 420.69 552.20 L 512.51 552.20 " style="fill: none; stroke: #000000; stroke-width: 0.8; stroke-linejoin: miter; stroke-linecap: square"/>
</g>
<g id="patch_101">
<path d="M 420.69 460.26 L 512.51 460.26 " style="fill: none; stroke: #000000; stroke-width: 0.8; stroke-linejoin: miter; stroke-linecap: square"/>
</g>
</g>
<g id="axes_21">
<g id="patch_102">
<path d="M 512.51 552.20 L 604.33 552.20 L 604.33 460.26 L 512.51 460.26 z
" style="fill: #ffffff"/>
</g>
<g id="matplotlib.axis_41"/>
<g id="matplotlib.axis_42"/>
<g id="line2d_122">
<path d="M 512.51 552.20 L 524.75 552.10 L 528.12 551.85 L 530.26 551.49 L 532.10 550.97 L 533.63 550.29 L 534.85 549.55 L 536.08 548.58 L 537.30 547.34 L 538.52 545.77 L 539.75 543.85 L 540.97 541.52 L 542.20 538.78 L 543.73 534.75 L 545.26 530.09 L 547.40 522.73 L 552.60 504.28 L 553.83 500.78 L 555.05 497.92 L 555.97 496.29 L 556.89 495.14 L 557.50 494.67 L 558.11 494.43 L 558.73 494.43 L 559.34 494.67 L 559.95 495.14 L 560.56 495.85 L 561.48 497.32 L 562.40 499.26 L 563.62 502.46 L 565.15 507.25 L 567.30 514.86 L 570.97 528.07 L 572.80 533.86 L 574.33 538.02 L 575.87 541.52 L 577.09 543.85 L 578.31 545.77 L 579.54 547.34 L 580.76 548.58 L 581.99 549.55 L 583.52 550.45 L 585.05 551.07 L 586.88 551.56 L 589.03 551.88 L 592.09 552.10 L 597.29 552.19 L 604.33 552.20 L 604.33 552.20 " clip-path="url(#p8e6a0e5f2b)" style="fill: none; stroke: #6cbd3a; stroke-opacity: 0.85; stroke-width: 1.41"/>
</g>
<g id="line2d_123">
<path d="M 512.51 552.20 L 534.24 552.11 L 536.38 551.91 L 537.91 551.57 L 539.14 551.08 L 540.05 550.53 L 540.97 549.76 L 541.89 548.69 L 542.81 547.25 L 543.73 545.37 L 544.65 542.95 L 545.56 539.91 L 546.48 536.20 L 547.71 530.12 L 548.93 522.78 L 550.46 512.11 L 554.75 480.72 L 555.66 475.66 L 556.58 471.82 L 557.19 470.06 L 557.81 468.98 L 558.11 468.71 L 558.42 468.62 L 558.73 468.71 L 559.03 468.98 L 559.64 470.06 L 560.26 471.82 L 560.87 474.23 L 561.79 478.91 L 563.01 486.75 L 564.85 500.44 L 567.30 518.69 L 568.83 528.40 L 570.05 534.80 L 571.27 539.91 L 572.19 542.95 L 573.11 545.37 L 574.03 547.25 L 574.95 548.69 L 575.87 549.76 L 576.78 550.53 L 578.01 551.23 L 579.23 551.65 L 580.76 551.95 L 582.90 552.12 L 587.19 552.20 L 604.33 552.20 L 604.33 552.20 " clip-path="url(#p8e6a0e5f2b)" style="fill: none; stroke: #5f32be; stroke-opacity: 0.85; stroke-width: 1.41"/>
</g>
<g id="line2d_124">
<path d="M 512.51 552.09 L 517.10 551.85 L 520.47 551.46 L 522.91 550.98 L 525.06 550.36 L 527.20 549.49 L 529.04 548.51 L 530.87 547.26 L 532.71 545.71 L 534.55 543.83 L 536.38 541.62 L 538.22 539.06 L 540.36 535.69 L 543.12 530.87 L 549.54 519.31 L 551.38 516.52 L 552.91 514.56 L 554.13 513.28 L 555.36 512.30 L 556.58 511.62 L 557.50 511.34 L 558.42 511.24 L 559.34 511.34 L 560.26 511.62 L 561.17 512.10 L 562.40 513.01 L 563.62 514.22 L 565.15 516.10 L 566.68 518.34 L 568.83 521.91 L 572.19 528.06 L 575.87 534.66 L 578.31 538.60 L 580.46 541.62 L 582.29 543.83 L 584.13 545.71 L 585.97 547.26 L 587.80 548.51 L 589.64 549.49 L 591.78 550.36 L 593.92 550.98 L 596.37 551.46 L 599.43 551.83 L 603.41 552.06 L 604.33 552.09 L 604.33 552.09 " clip-path="url(#p8e6a0e5f2b)" style="fill: none; stroke: #1a6ed2; stroke-opacity: 0.85; stroke-width: 1.41"/>
</g>
<g id="line2d_125">
<path d="M 512.51 552.19 L 519.85 552.05 L 523.53 551.77 L 525.98 551.39 L 528.12 550.83 L 529.95 550.12 L 531.48 549.30 L 533.02 548.25 L 534.55 546.90 L 536.08 545.23 L 537.61 543.19 L 539.14 540.77 L 540.67 537.96 L 542.50 534.10 L 544.65 529.04 L 551.99 511.03 L 553.52 508.17 L 554.75 506.34 L 555.66 505.28 L 556.58 504.51 L 557.50 504.04 L 558.42 503.88 L 559.34 504.04 L 560.26 504.51 L 561.17 505.28 L 562.09 506.34 L 563.32 508.17 L 564.54 510.41 L 566.07 513.69 L 568.21 518.89 L 574.03 533.41 L 575.87 537.35 L 577.70 540.77 L 579.23 543.19 L 580.76 545.23 L 582.29 546.90 L 583.82 548.25 L 585.35 549.30 L 586.88 550.12 L 588.72 550.83 L 590.86 551.39 L 593.31 551.77 L 596.37 552.02 L 601.27 552.17 L 604.33 552.19 L 604.33 552.19 " clip-path="url(#p8e6a0e5f2b)" style="fill: none; stroke: #e02d32; stroke-opacity: 0.85; stroke-width: 1.41"/>
</g>
<g id="line2d_126">
<path d="M 512.51 552.20 L 529.95 552.10 L 532.71 551.86 L 534.55 551.48 L 536.08 550.94 L 537.30 550.26 L 538.52 549.30 L 539.44 548.33 L 540.36 547.12 L 541.28 545.61 L 542.50 543.09 L 543.73 539.89 L 544.95 535.97 L 546.18 531.31 L 547.71 524.51 L 549.54 515.25 L 553.22 496.27 L 554.44 490.99 L 555.36 487.73 L 556.28 485.22 L 556.89 484.00 L 557.50 483.17 L 558.11 482.76 L 558.73 482.76 L 559.34 483.17 L 559.95 484.00 L 560.56 485.22 L 561.48 487.73 L 562.40 490.99 L 563.62 496.27 L 565.46 505.49 L 569.13 524.51 L 570.66 531.31 L 572.19 537.02 L 573.42 540.76 L 574.64 543.78 L 575.87 546.15 L 577.09 547.96 L 578.31 549.30 L 579.54 550.26 L 580.76 550.94 L 582.29 551.48 L 584.13 551.86 L 586.58 552.08 L 590.56 552.19 L 604.33 552.20 L 604.33 552.20 " clip-path="url(#p8e6a0e5f2b)" style="fill: none; stroke: #f0c828; stroke-opacity: 0.85; stroke-width: 1.41"/>
</g>
<g id="patch_103">
<path d="M 512.51 552.20 L 512.51 460.26 " style="fill: none; stroke: #000000; stroke-width: 0.8; stroke-linejoin: miter; stroke-linecap: square"/>
</g>
<g id="patch_104">
<path d="M 604.33 552.20 L 604.33 460.26 " style="fill: none; stroke: #000000; stroke-width: 0.8; stroke-linejoin: miter; stroke-linecap: square"/>
</g>
<g id="patch_105">
<path d="M 512.51 552.20 L 604.33 552.20 " style="fill: none; stroke: #000000; stroke-width: 0.8; stroke-linejoin: miter; stroke-linecap: square"/>
</g>
<g id="patch_106">
<path d="M 512.51 460.26 L 604.33 460.26 " style="fill: none; stroke: #000000; stroke-width: 0.8; stroke-linejoin: miter; stroke-linecap: square"/>
</g>
</g>
<g id="axes_22">
<g id="patch_107">
<path d="M 53.40 644.15 L 145.22 644.15 L 145.22 552.20 L 53.40 552.20 z
" style="fill: #ffffff"/>
</g>
<g id="matplotlib.axis_43"/>
<g id="matplotlib.axis_44">
<g id="ytick_22">
<g id="line2d_127">
<g>
<use href="#m5d545ce8f8" x="53.40" y="628.04" style="stroke: #000000; stroke-width: 0.8"/>
</g>
</g>
<g id="text_27">
<text style="font-size: 10px; font-family: 'Liberation Sans'" transform="translate(29.18 645.36) rotate(-45)" textLength="22.27" lengthAdjust="spacingAndGlyphs">0.27</text>
</g>
</g>
<g id="ytick_23">
<g id="line2d_128">
<g>
<use href="#m5d545ce8f8" x="53.40" y="609.18" style="stroke: #000000; stroke-width: 0.8"/>
</g>
</g>
<g id="text_28">
<text style="font-size: 10px; font-family: 'Liberation Sans'" transform="translate(29.18 626.50) rotate(-45)" textLength="22.27" lengthAdjust="spacingAndGlyphs">0.30</text>
</g>
</g>
<g id="ytick_24">
<g id="line2d_129">
<g>
<use href="#m5d545ce8f8" x="53.40" y="590.32" style="stroke: #000000; stroke-width: 0.8"/>
</g>
</g>
<g id="text_29">
<text style="font-size: 10px; font-family: 'Liberation Sans'" transform="translate(29.18 607.64) rotate(-45)" textLength="22.27" lengthAdjust="spacingAndGlyphs">0.33</text>
</g>
</g>
<g id="ytick_25">
<g id="line2d_130">
<g>
<use href="#m5d545ce8f8" x="53.40" y="571.46" style="stroke: #000000; stroke-width: 0.8"/>
</g>
</g>
<g id="text_30">
<text style="font-size: 10px; font-family: 'Liberation Sans'" transform="translate(29.18 588.77) rotate(-45)" textLength="22.27" lengthAdjust="spacingAndGlyphs">0.36</text>
</g>
</g>
<g id="ytick_26">
<g id="line2d_131">
<g>
<use href="#m5d545ce8f8" x="53.40" y="552.59" style="stroke: #000000; stroke-width: 0.8"/>
</g>
</g>
<g id="text_31">
<text style="font-size: 10px; font-family: 'Liberation Sans'" transform="translate(29.18 569.91) rotate(-45)" textLength="22.27" lengthAdjust="spacingAndGlyphs">0.39</text>
</g>
</g>
<g id="text_32">
<!-- $\Omega_m$ -->
<g transform="translate(17.32 609.21) rotate(-90)">
<text>
<tspan x="0" y="-0.14" style="font-size: 12px; font-family: 'Liberation Sans'" textLength="9.17" lengthAdjust="spacingAndGlyphs">Ω</tspan>
<tspan x="9.28" y="1.82" style="font-style: italic; font-size: 8.4px; font-family: 'Liberation Sans'" textLength="8.18" lengthAdjust="spacingAndGlyphs">m</tspan>
</text>
</g>
</g>
</g>
<g id="line2d_132">
<path d="M 129.84 583.54 L 129.72 581.20 L 129.38 578.99 L 128.80 576.92 L 128.00 575.02 L 126.98 573.29 L 125.75 571.75 L 124.32 570.42 L 122.70 569.29 L 120.90 568.39 L 118.93 567.71 L 116.82 567.26 L 114.57 567.05 L 112.21 567.07 L 109.75 567.34 L 107.21 567.83 L 104.61 568.56 L 101.97 569.51 L 99.31 570.68 L 96.65 572.06 L 94.01 573.64 L 91.41 575.41 L 88.87 577.35 L 86.41 579.45 L 84.04 581.69 L 81.80 584.05 L 79.68 586.53 L 77.72 589.09 L 75.92 591.72 L 74.30 594.40 L 72.87 597.11 L 71.64 599.83 L 70.62 602.53 L 69.82 605.20 L 69.24 607.82 L 68.90 610.37 L 68.78 612.82 L 68.90 615.16 L 69.24 617.37 L 69.82 619.44 L 70.62 621.34 L 71.64 623.07 L 72.87 624.60 L 74.30 625.94 L 75.92 627.07 L 77.72 627.97 L 79.68 628.65 L 81.80 629.10 L 84.04 629.31 L 86.41 629.28 L 88.87 629.02 L 91.41 628.52 L 94.01 627.80 L 96.65 626.84 L 99.31 625.67 L 101.97 624.29 L 104.61 622.71 L 107.21 620.95 L 109.75 619.01 L 112.21 616.91 L 114.57 614.67 L 116.82 612.30 L 118.93 609.83 L 120.90 607.27 L 122.70 604.64 L 124.32 601.96 L 125.75 599.25 L 126.98 596.53 L 128.00 593.82 L 128.80 591.15 L 129.38 588.54 L 129.72 585.99 L 129.84 583.54 " clip-path="url(#p9720435fea)" style="fill: none; stroke: #235fa0; stroke-width: 1.25; stroke-linecap: square"/>
</g>
<g id="line2d_133">
<path d="M 107.15 602.28 L 107.12 600.51 L 107.03 598.73 L 106.88 596.94 L 106.68 595.16 L 106.41 593.40 L 106.10 591.68 L 105.73 590.01 L 105.31 588.40 L 104.85 586.86 L 104.35 585.41 L 103.81 584.06 L 103.23 582.82 L 102.62 581.69 L 101.99 580.69 L 101.34 579.82 L 100.67 579.09 L 99.99 578.50 L 99.31 578.07 L 98.63 577.79 L 97.95 577.66 L 97.28 577.69 L 96.63 577.88 L 96.00 578.22 L 95.39 578.71 L 94.81 579.35 L 94.27 580.13 L 93.77 581.06 L 93.30 582.11 L 92.89 583.28 L 92.52 584.57 L 92.20 585.96 L 91.94 587.44 L 91.74 589.01 L 91.59 590.64 L 91.50 592.34 L 91.47 594.07 L 91.50 595.84 L 91.59 597.63 L 91.74 599.42 L 91.94 601.20 L 92.20 602.96 L 92.52 604.68 L 92.89 606.35 L 93.30 607.96 L 93.77 609.50 L 94.27 610.94 L 94.81 612.30 L 95.39 613.54 L 96.00 614.67 L 96.63 615.67 L 97.28 616.54 L 97.95 617.27 L 98.63 617.85 L 99.31 618.29 L 99.99 618.57 L 100.67 618.70 L 101.34 618.67 L 101.99 618.48 L 102.62 618.14 L 103.23 617.65 L 103.81 617.01 L 104.35 616.22 L 104.85 615.30 L 105.31 614.25 L 105.73 613.08 L 106.10 611.79 L 106.41 610.40 L 106.68 608.91 L 106.88 607.35 L 107.03 605.71 L 107.12 604.02 L 107.15 602.28 " clip-path="url(#p9720435fea)" style="fill: none; stroke: #5f9137; stroke-width: 1.25; stroke-linecap: square"/>
</g>
<g id="line2d_134">
<path d="M 127.47 589.23 L 127.36 587.24 L 127.04 585.34 L 126.51 583.53 L 125.77 581.84 L 124.83 580.27 L 123.69 578.83 L 122.37 577.55 L 120.88 576.42 L 119.22 575.45 L 117.41 574.66 L 115.46 574.05 L 113.39 573.62 L 111.21 573.38 L 108.94 573.33 L 106.60 573.46 L 104.20 573.79 L 101.76 574.30 L 99.31 574.99 L 96.86 575.86 L 94.42 576.89 L 92.02 578.09 L 89.68 579.45 L 87.41 580.94 L 85.23 582.57 L 83.16 584.31 L 81.21 586.17 L 79.40 588.11 L 77.74 590.13 L 76.24 592.21 L 74.92 594.33 L 73.79 596.49 L 72.85 598.66 L 72.11 600.82 L 71.58 602.96 L 71.26 605.07 L 71.15 607.13 L 71.26 609.11 L 71.58 611.02 L 72.11 612.82 L 72.85 614.52 L 73.79 616.09 L 74.92 617.52 L 76.24 618.81 L 77.74 619.94 L 79.40 620.90 L 81.21 621.70 L 83.16 622.31 L 85.23 622.74 L 87.41 622.98 L 89.68 623.03 L 92.02 622.90 L 94.42 622.57 L 96.86 622.06 L 99.31 621.37 L 101.76 620.50 L 104.20 619.46 L 106.60 618.26 L 108.94 616.91 L 111.21 615.41 L 113.39 613.79 L 115.46 612.04 L 117.41 610.19 L 119.22 608.25 L 120.88 606.23 L 122.37 604.15 L 123.69 602.02 L 124.83 599.87 L 125.77 597.70 L 126.51 595.54 L 127.04 593.39 L 127.36 591.28 L 127.47 589.23 " clip-path="url(#p9720435fea)" style="fill: none; stroke: #aa282d; stroke-width: 1.25; stroke-linecap: square"/>
</g>
<g id="line2d_135">
<path d="M 106.01 601.21 L 105.99 599.90 L 105.91 598.58 L 105.78 597.26 L 105.61 595.95 L 105.38 594.65 L 105.11 593.38 L 104.80 592.14 L 104.44 590.95 L 104.05 589.82 L 103.62 588.75 L 103.15 587.75 L 102.66 586.83 L 102.14 586.00 L 101.60 585.26 L 101.04 584.61 L 100.47 584.08 L 99.89 583.64 L 99.31 583.32 L 98.72 583.12 L 98.15 583.02 L 97.57 583.04 L 97.02 583.18 L 96.48 583.43 L 95.96 583.80 L 95.46 584.27 L 95.00 584.85 L 94.57 585.53 L 94.17 586.31 L 93.82 587.17 L 93.50 588.12 L 93.23 589.15 L 93.01 590.25 L 92.83 591.40 L 92.71 592.61 L 92.63 593.86 L 92.61 595.15 L 92.63 596.45 L 92.71 597.77 L 92.83 599.09 L 93.01 600.41 L 93.23 601.71 L 93.50 602.98 L 93.82 604.21 L 94.17 605.40 L 94.57 606.54 L 95.00 607.61 L 95.46 608.61 L 95.96 609.53 L 96.48 610.36 L 97.02 611.10 L 97.57 611.74 L 98.15 612.28 L 98.72 612.71 L 99.31 613.03 L 99.89 613.24 L 100.47 613.33 L 101.04 613.31 L 101.60 613.17 L 102.14 612.92 L 102.66 612.56 L 103.15 612.09 L 103.62 611.51 L 104.05 610.83 L 104.44 610.05 L 104.80 609.18 L 105.11 608.23 L 105.38 607.20 L 105.61 606.11 L 105.78 604.95 L 105.91 603.74 L 105.99 602.49 L 106.01 601.21 " clip-path="url(#p9720435fea)" style="fill: none; stroke: #552896; stroke-width: 1.25; stroke-linecap: square"/>
</g>
<g id="line2d_136">
<path d="M 123.55 592.58 L 123.46 591.05 L 123.18 589.57 L 122.72 588.16 L 122.09 586.82 L 121.28 585.58 L 120.30 584.42 L 119.16 583.38 L 117.88 582.44 L 116.45 581.62 L 114.89 580.94 L 113.21 580.38 L 111.43 579.95 L 109.55 579.67 L 107.60 579.53 L 105.58 579.53 L 103.52 579.67 L 101.42 579.95 L 99.31 580.37 L 97.20 580.92 L 95.10 581.61 L 93.04 582.43 L 91.02 583.36 L 89.07 584.40 L 87.19 585.56 L 85.41 586.80 L 83.73 588.14 L 82.17 589.55 L 80.74 591.02 L 79.45 592.55 L 78.32 594.12 L 77.34 595.73 L 76.53 597.35 L 75.90 598.98 L 75.44 600.60 L 75.16 602.21 L 75.07 603.78 L 75.16 605.31 L 75.44 606.79 L 75.90 608.20 L 76.53 609.53 L 77.34 610.78 L 78.32 611.93 L 79.45 612.98 L 80.74 613.92 L 82.17 614.73 L 83.73 615.42 L 85.41 615.98 L 87.19 616.40 L 89.07 616.69 L 91.02 616.83 L 93.04 616.83 L 95.10 616.69 L 97.20 616.41 L 99.31 615.99 L 101.42 615.43 L 103.52 614.74 L 105.58 613.93 L 107.60 613.00 L 109.55 611.95 L 111.43 610.80 L 113.21 609.55 L 114.89 608.22 L 116.45 606.81 L 117.88 605.34 L 119.16 603.81 L 120.30 602.23 L 121.28 600.63 L 122.09 599.01 L 122.72 597.38 L 123.18 595.76 L 123.46 594.15 L 123.55 592.58 " clip-path="url(#p9720435fea)" style="fill: none; stroke: #afa028; stroke-width: 1.25; stroke-linecap: square"/>
</g>
<g id="patch_108">
<path d="M 53.40 644.15 L 53.40 552.20 " style="fill: none; stroke: #000000; stroke-width: 0.8; stroke-linejoin: miter; stroke-linecap: square"/>
</g>
<g id="patch_109">
<path d="M 145.22 644.15 L 145.22 552.20 " style="fill: none; stroke: #000000; stroke-width: 0.8; stroke-linejoin: miter; stroke-linecap: square"/>
</g>
<g id="patch_110">
<path d="M 53.40 644.15 L 145.22 644.15 " style="fill: none; stroke: #000000; stroke-width: 0.8; stroke-linejoin: miter; stroke-linecap: square"/>
</g>
<g id="patch_111">
<path d="M 53.40 552.20 L 145.22 552.20 " style="fill: none; stroke: #000000; stroke-width: 0.8; stroke-linejoin: miter; stroke-linecap: square"/>
</g>
</g>
<g id="axes_23">
<g id="patch_112">
<path d="M 145.22 644.15 L 237.04 644.15 L 237.04 552.20 L 145.22 552.20 z
" style="fill: #ffffff"/>
</g>
<g id="matplotlib.axis_45"/>
<g id="matplotlib.axis_46"/>
<g id="line2d_137">
<path d="M 221.76 615.31 L 221.65 612.98 L 221.30 610.53 L 220.72 607.99 L 219.92 605.38 L 218.89 602.71 L 217.66 600.01 L 216.22 597.29 L 214.60 594.58 L 212.79 591.90 L 210.82 589.26 L 208.70 586.69 L 206.45 584.22 L 204.08 581.84 L 201.61 579.59 L 199.06 577.48 L 196.45 575.53 L 193.80 573.76 L 191.13 572.16 L 188.46 570.77 L 185.81 569.58 L 183.20 568.62 L 180.65 567.87 L 178.18 567.36 L 175.81 567.08 L 173.56 567.04 L 171.44 567.24 L 169.47 567.67 L 167.66 568.33 L 166.04 569.22 L 164.60 570.33 L 163.37 571.66 L 162.35 573.18 L 161.54 574.90 L 160.96 576.79 L 160.61 578.84 L 160.50 581.05 L 160.61 583.38 L 160.96 585.82 L 161.54 588.36 L 162.35 590.98 L 163.37 593.65 L 164.60 596.35 L 166.04 599.07 L 167.66 601.78 L 169.47 604.46 L 171.44 607.09 L 173.56 609.66 L 175.81 612.14 L 178.18 614.51 L 180.65 616.76 L 183.20 618.87 L 185.81 620.82 L 188.46 622.60 L 191.13 624.19 L 193.80 625.59 L 196.45 626.77 L 199.06 627.74 L 201.61 628.48 L 204.08 629.00 L 206.45 629.27 L 208.70 629.31 L 210.82 629.12 L 212.79 628.69 L 214.60 628.02 L 216.22 627.13 L 217.66 626.02 L 218.89 624.70 L 219.92 623.17 L 220.72 621.46 L 221.30 619.57 L 221.65 617.51 L 221.76 615.31 " clip-path="url(#p51f4d38155)" style="fill: none; stroke: #235fa0; stroke-width: 1.25; stroke-linecap: square"/>
</g>
<g id="line2d_138">
<path d="M 208.77 601.67 L 208.70 599.89 L 208.50 598.10 L 208.17 596.31 L 207.71 594.54 L 207.12 592.79 L 206.41 591.09 L 205.58 589.44 L 204.64 587.85 L 203.60 586.34 L 202.47 584.93 L 201.25 583.61 L 199.95 582.41 L 198.59 581.32 L 197.16 580.37 L 195.70 579.54 L 194.19 578.87 L 192.67 578.33 L 191.13 577.95 L 189.59 577.73 L 188.07 577.65 L 186.57 577.74 L 185.10 577.98 L 183.68 578.37 L 182.31 578.92 L 181.01 579.61 L 179.79 580.44 L 178.66 581.41 L 177.62 582.50 L 176.68 583.72 L 175.86 585.04 L 175.15 586.47 L 174.56 587.98 L 174.09 589.57 L 173.76 591.23 L 173.56 592.94 L 173.49 594.69 L 173.56 596.47 L 173.76 598.25 L 174.09 600.04 L 174.56 601.82 L 175.15 603.56 L 175.86 605.27 L 176.68 606.92 L 177.62 608.51 L 178.66 610.01 L 179.79 611.43 L 181.01 612.74 L 182.31 613.95 L 183.68 615.03 L 185.10 615.99 L 186.57 616.81 L 188.07 617.49 L 189.59 618.02 L 191.13 618.40 L 192.67 618.63 L 194.19 618.70 L 195.70 618.62 L 197.16 618.38 L 198.59 617.98 L 199.95 617.44 L 201.25 616.75 L 202.47 615.91 L 203.60 614.95 L 204.64 613.85 L 205.58 612.64 L 206.41 611.31 L 207.12 609.89 L 207.71 608.37 L 208.17 606.78 L 208.50 605.13 L 208.70 603.42 L 208.77 601.67 " clip-path="url(#p51f4d38155)" style="fill: none; stroke: #5f9137; stroke-width: 1.25; stroke-linecap: square"/>
</g>
<g id="line2d_139">
<path d="M 200.83 602.40 L 200.79 600.25 L 200.68 598.09 L 200.50 595.92 L 200.24 593.77 L 199.92 591.66 L 199.53 589.59 L 199.07 587.59 L 198.56 585.67 L 197.99 583.85 L 197.36 582.13 L 196.69 580.54 L 195.98 579.08 L 195.23 577.76 L 194.45 576.61 L 193.64 575.61 L 192.81 574.79 L 191.98 574.14 L 191.13 573.68 L 190.29 573.41 L 189.45 573.32 L 188.62 573.42 L 187.82 573.71 L 187.03 574.19 L 186.28 574.85 L 185.57 575.69 L 184.90 576.70 L 184.28 577.87 L 183.70 579.20 L 183.19 580.67 L 182.73 582.27 L 182.34 584.00 L 182.02 585.83 L 181.77 587.76 L 181.58 589.76 L 181.47 591.83 L 181.44 593.95 L 181.47 596.10 L 181.58 598.27 L 181.77 600.44 L 182.02 602.59 L 182.34 604.70 L 182.73 606.77 L 183.19 608.77 L 183.70 610.69 L 184.28 612.51 L 184.90 614.23 L 185.57 615.82 L 186.28 617.28 L 187.03 618.59 L 187.82 619.75 L 188.62 620.75 L 189.45 621.57 L 190.29 622.21 L 191.13 622.67 L 191.98 622.95 L 192.81 623.04 L 193.64 622.93 L 194.45 622.64 L 195.23 622.16 L 195.98 621.51 L 196.69 620.67 L 197.36 619.66 L 197.99 618.49 L 198.56 617.16 L 199.07 615.69 L 199.53 614.09 L 199.92 612.36 L 200.24 610.53 L 200.50 608.60 L 200.68 606.59 L 200.79 604.52 L 200.83 602.40 " clip-path="url(#p51f4d38155)" style="fill: none; stroke: #aa282d; stroke-width: 1.25; stroke-linecap: square"/>
</g>
<g id="line2d_140">
<path d="M 197.53 598.18 L 197.50 596.86 L 197.43 595.55 L 197.31 594.25 L 197.14 592.99 L 196.93 591.77 L 196.67 590.60 L 196.37 589.48 L 196.03 588.43 L 195.65 587.46 L 195.24 586.56 L 194.80 585.76 L 194.33 585.05 L 193.83 584.44 L 193.32 583.93 L 192.79 583.53 L 192.24 583.25 L 191.69 583.07 L 191.13 583.02 L 190.57 583.07 L 190.02 583.25 L 189.48 583.53 L 188.94 583.93 L 188.43 584.44 L 187.93 585.05 L 187.46 585.76 L 187.02 586.56 L 186.61 587.46 L 186.23 588.43 L 185.89 589.48 L 185.59 590.60 L 185.34 591.77 L 185.12 592.99 L 184.95 594.25 L 184.83 595.55 L 184.76 596.86 L 184.74 598.18 L 184.76 599.50 L 184.83 600.81 L 184.95 602.10 L 185.12 603.36 L 185.34 604.59 L 185.59 605.76 L 185.89 606.87 L 186.23 607.92 L 186.61 608.90 L 187.02 609.79 L 187.46 610.60 L 187.93 611.31 L 188.43 611.92 L 188.94 612.43 L 189.48 612.82 L 190.02 613.11 L 190.57 613.28 L 191.13 613.34 L 191.69 613.28 L 192.24 613.11 L 192.79 612.82 L 193.32 612.43 L 193.83 611.92 L 194.33 611.31 L 194.80 610.60 L 195.24 609.79 L 195.65 608.90 L 196.03 607.92 L 196.37 606.87 L 196.67 605.76 L 196.93 604.59 L 197.14 603.36 L 197.31 602.10 L 197.43 600.81 L 197.50 599.50 L 197.53 598.18 " clip-path="url(#p51f4d38155)" style="fill: none; stroke: #552896; stroke-width: 1.25; stroke-linecap: square"/>
</g>
<g id="line2d_141">
<path d="M 198.71 599.11 L 198.68 597.48 L 198.60 595.86 L 198.45 594.25 L 198.26 592.68 L 198.00 591.14 L 197.70 589.66 L 197.34 588.25 L 196.94 586.91 L 196.49 585.65 L 196.00 584.49 L 195.48 583.44 L 194.92 582.50 L 194.34 581.67 L 193.72 580.98 L 193.09 580.41 L 192.45 579.98 L 191.79 579.68 L 191.13 579.53 L 190.47 579.52 L 189.81 579.65 L 189.17 579.93 L 188.54 580.34 L 187.93 580.88 L 187.34 581.56 L 186.78 582.37 L 186.26 583.29 L 185.77 584.33 L 185.32 585.48 L 184.92 586.72 L 184.57 588.05 L 184.26 589.45 L 184.01 590.92 L 183.81 592.45 L 183.67 594.02 L 183.58 595.62 L 183.55 597.24 L 183.58 598.87 L 183.67 600.50 L 183.81 602.10 L 184.01 603.68 L 184.26 605.21 L 184.57 606.69 L 184.92 608.11 L 185.32 609.45 L 185.77 610.70 L 186.26 611.86 L 186.78 612.92 L 187.34 613.86 L 187.93 614.68 L 188.54 615.38 L 189.17 615.95 L 189.81 616.38 L 190.47 616.67 L 191.13 616.82 L 191.79 616.83 L 192.45 616.70 L 193.09 616.43 L 193.72 616.02 L 194.34 615.47 L 194.92 614.79 L 195.48 613.99 L 196.00 613.06 L 196.49 612.02 L 196.94 610.88 L 197.34 609.64 L 197.70 608.31 L 198.00 606.90 L 198.26 605.43 L 198.45 603.91 L 198.60 602.34 L 198.68 600.73 L 198.71 599.11 " clip-path="url(#p51f4d38155)" style="fill: none; stroke: #afa028; stroke-width: 1.25; stroke-linecap: square"/>
</g>
<g id="patch_113">
<path d="M 145.22 644.15 L 145.22 552.20 " style="fill: none; stroke: #000000; stroke-width: 0.8; stroke-linejoin: miter; stroke-linecap: square"/>
</g>
<g id="patch_114">
<path d="M 237.04 644.15 L 237.04 552.20 " style="fill: none; stroke: #000000; stroke-width: 0.8; stroke-linejoin: miter; stroke-linecap: square"/>
</g>
<g id="patch_115">
<path d="M 145.22 644.15 L 237.04 644.15 " style="fill: none; stroke: #000000; stroke-width: 0.8; stroke-linejoin: miter; stroke-linecap: square"/>
</g>
<g id="patch_116">
<path d="M 145.22 552.20 L 237.04 552.20 " style="fill: none; stroke: #000000; stroke-width: 0.8; stroke-linejoin: miter; stroke-linecap: square"/>
</g>
</g>
<g id="axes_24">
<g id="patch_117">
<path d="M 237.04 644.15 L 328.86 644.15 L 328.86 552.20 L 237.04 552.20 z
" style="fill: #ffffff"/>
</g>
<g id="matplotlib.axis_47"/>
<g id="matplotlib.axis_48"/>
<g id="line2d_142">
<path d="M 314.21 591.33 L 314.09 588.70 L 313.73 586.15 L 313.14 583.69 L 312.32 581.35 L 311.28 579.13 L 310.02 577.05 L 308.55 575.14 L 306.89 573.40 L 305.05 571.85 L 303.04 570.50 L 300.88 569.36 L 298.58 568.44 L 296.16 567.74 L 293.64 567.28 L 291.04 567.05 L 288.38 567.06 L 285.68 567.31 L 282.95 567.79 L 280.23 568.51 L 277.53 569.44 L 274.86 570.60 L 272.26 571.97 L 269.75 573.54 L 267.33 575.29 L 265.03 577.22 L 262.86 579.31 L 260.85 581.54 L 259.01 583.90 L 257.35 586.36 L 255.89 588.92 L 254.63 591.55 L 253.59 594.23 L 252.77 596.93 L 252.18 599.65 L 251.82 602.36 L 251.70 605.03 L 251.82 607.65 L 252.18 610.20 L 252.77 612.66 L 253.59 615.01 L 254.63 617.23 L 255.89 619.31 L 257.35 621.22 L 259.01 622.96 L 260.85 624.51 L 262.86 625.86 L 265.03 627.00 L 267.33 627.92 L 269.75 628.61 L 272.26 629.08 L 274.86 629.30 L 277.53 629.29 L 280.23 629.05 L 282.95 628.56 L 285.68 627.85 L 288.38 626.91 L 291.04 625.75 L 293.64 624.39 L 296.16 622.82 L 298.58 621.07 L 300.88 619.14 L 303.04 617.05 L 305.05 614.82 L 306.89 612.46 L 308.55 609.99 L 310.02 607.44 L 311.28 604.81 L 312.32 602.13 L 313.14 599.42 L 313.73 596.71 L 314.09 594.00 L 314.21 591.33 " clip-path="url(#pa81ab45198)" style="fill: none; stroke: #235fa0; stroke-width: 1.25; stroke-linecap: square"/>
</g>
<g id="line2d_143">
<path d="M 307.60 595.10 L 307.51 593.34 L 307.23 591.62 L 306.76 589.95 L 306.12 588.34 L 305.29 586.81 L 304.30 585.37 L 303.15 584.02 L 301.84 582.78 L 300.38 581.65 L 298.80 580.65 L 297.09 579.79 L 295.28 579.07 L 293.37 578.49 L 291.38 578.06 L 289.33 577.78 L 287.23 577.66 L 285.10 577.69 L 282.95 577.89 L 280.80 578.23 L 278.67 578.73 L 276.57 579.37 L 274.52 580.16 L 272.54 581.09 L 270.63 582.14 L 268.81 583.32 L 267.11 584.61 L 265.52 586.01 L 264.07 587.49 L 262.76 589.06 L 261.61 590.70 L 260.61 592.39 L 259.79 594.13 L 259.14 595.90 L 258.68 597.69 L 258.40 599.48 L 258.30 601.26 L 258.40 603.01 L 258.68 604.73 L 259.14 606.40 L 259.79 608.01 L 260.61 609.54 L 261.61 610.99 L 262.76 612.34 L 264.07 613.58 L 265.52 614.70 L 267.11 615.70 L 268.81 616.57 L 270.63 617.29 L 272.54 617.87 L 274.52 618.30 L 276.57 618.58 L 278.67 618.70 L 280.80 618.66 L 282.95 618.47 L 285.10 618.13 L 287.23 617.63 L 289.33 616.98 L 291.38 616.19 L 293.37 615.27 L 295.28 614.21 L 297.09 613.03 L 298.80 611.74 L 300.38 610.35 L 301.84 608.86 L 303.15 607.30 L 304.30 605.66 L 305.29 603.96 L 306.12 602.23 L 306.76 600.46 L 307.23 598.67 L 307.51 596.88 L 307.60 595.10 " clip-path="url(#pa81ab45198)" style="fill: none; stroke: #5f9137; stroke-width: 1.25; stroke-linecap: square"/>
</g>
<g id="line2d_144">
<path d="M 293.27 603.15 L 293.23 601.01 L 293.11 598.84 L 292.92 596.68 L 292.65 594.52 L 292.30 592.39 L 291.89 590.31 L 291.40 588.28 L 290.85 586.33 L 290.25 584.47 L 289.58 582.72 L 288.87 581.08 L 288.11 579.57 L 287.31 578.21 L 286.48 576.99 L 285.62 575.94 L 284.74 575.06 L 283.85 574.35 L 282.95 573.82 L 282.05 573.48 L 281.16 573.33 L 280.28 573.37 L 279.43 573.59 L 278.59 574.00 L 277.80 574.60 L 277.04 575.38 L 276.32 576.33 L 275.66 577.44 L 275.05 578.71 L 274.50 580.14 L 274.02 581.70 L 273.61 583.38 L 273.26 585.18 L 272.99 587.07 L 272.80 589.05 L 272.68 591.10 L 272.64 593.21 L 272.68 595.35 L 272.80 597.51 L 272.99 599.68 L 273.26 601.84 L 273.61 603.97 L 274.02 606.05 L 274.50 608.08 L 275.05 610.03 L 275.66 611.88 L 276.32 613.64 L 277.04 615.28 L 277.80 616.78 L 278.59 618.15 L 279.43 619.36 L 280.28 620.42 L 281.16 621.30 L 282.05 622.01 L 282.95 622.53 L 283.85 622.87 L 284.74 623.03 L 285.62 622.99 L 286.48 622.77 L 287.31 622.35 L 288.11 621.76 L 288.87 620.98 L 289.58 620.03 L 290.25 618.92 L 290.85 617.64 L 291.40 616.22 L 291.89 614.66 L 292.30 612.98 L 292.65 611.18 L 292.92 609.28 L 293.11 607.30 L 293.23 605.25 L 293.27 603.15 " clip-path="url(#pa81ab45198)" style="fill: none; stroke: #aa282d; stroke-width: 1.25; stroke-linecap: square"/>
</g>
<g id="line2d_145">
<path d="M 288.01 603.48 L 287.99 602.23 L 287.93 600.94 L 287.84 599.63 L 287.70 598.31 L 287.53 596.99 L 287.33 595.67 L 287.09 594.38 L 286.83 593.11 L 286.53 591.89 L 286.20 590.71 L 285.85 589.59 L 285.48 588.53 L 285.09 587.55 L 284.68 586.65 L 284.26 585.83 L 283.83 585.11 L 283.39 584.49 L 282.95 583.98 L 282.51 583.57 L 282.08 583.27 L 281.64 583.09 L 281.22 583.02 L 280.82 583.06 L 280.43 583.23 L 280.05 583.50 L 279.70 583.89 L 279.38 584.38 L 279.08 584.98 L 278.81 585.69 L 278.58 586.48 L 278.37 587.37 L 278.20 588.33 L 278.07 589.38 L 277.98 590.49 L 277.92 591.65 L 277.90 592.87 L 277.92 594.13 L 277.98 595.42 L 278.07 596.73 L 278.20 598.05 L 278.37 599.37 L 278.58 600.68 L 278.81 601.98 L 279.08 603.24 L 279.38 604.47 L 279.70 605.65 L 280.05 606.77 L 280.43 607.82 L 280.82 608.81 L 281.22 609.71 L 281.64 610.52 L 282.08 611.24 L 282.51 611.86 L 282.95 612.38 L 283.39 612.79 L 283.83 613.09 L 284.26 613.27 L 284.68 613.34 L 285.09 613.29 L 285.48 613.13 L 285.85 612.86 L 286.20 612.47 L 286.53 611.97 L 286.83 611.37 L 287.09 610.67 L 287.33 609.87 L 287.53 608.99 L 287.70 608.02 L 287.84 606.98 L 287.93 605.87 L 287.99 604.70 L 288.01 603.48 " clip-path="url(#pa81ab45198)" style="fill: none; stroke: #552896; stroke-width: 1.25; stroke-linecap: square"/>
</g>
<g id="line2d_146">
<path d="M 289.14 605.65 L 289.12 604.13 L 289.05 602.56 L 288.93 600.96 L 288.77 599.34 L 288.56 597.72 L 288.31 596.09 L 288.02 594.48 L 287.69 592.90 L 287.33 591.36 L 286.93 589.87 L 286.50 588.45 L 286.05 587.09 L 285.57 585.83 L 285.07 584.65 L 284.55 583.58 L 284.03 582.62 L 283.49 581.78 L 282.95 581.07 L 282.41 580.48 L 281.88 580.03 L 281.35 579.72 L 280.84 579.55 L 280.34 579.51 L 279.86 579.63 L 279.40 579.88 L 278.98 580.27 L 278.58 580.80 L 278.21 581.46 L 277.88 582.25 L 277.59 583.16 L 277.34 584.18 L 277.14 585.31 L 276.98 586.54 L 276.86 587.85 L 276.79 589.25 L 276.76 590.71 L 276.79 592.23 L 276.86 593.80 L 276.98 595.39 L 277.14 597.01 L 277.34 598.64 L 277.59 600.27 L 277.88 601.88 L 278.21 603.46 L 278.58 605.00 L 278.98 606.49 L 279.40 607.91 L 279.86 609.26 L 280.34 610.53 L 280.84 611.70 L 281.35 612.77 L 281.88 613.73 L 282.41 614.57 L 282.95 615.29 L 283.49 615.87 L 284.03 616.33 L 284.55 616.64 L 285.07 616.81 L 285.57 616.84 L 286.05 616.73 L 286.50 616.48 L 286.93 616.09 L 287.33 615.56 L 287.69 614.90 L 288.02 614.11 L 288.31 613.20 L 288.56 612.18 L 288.77 611.05 L 288.93 609.82 L 289.05 608.50 L 289.12 607.11 L 289.14 605.65 " clip-path="url(#pa81ab45198)" style="fill: none; stroke: #afa028; stroke-width: 1.25; stroke-linecap: square"/>
</g>
<g id="patch_118">
<path d="M 237.04 644.15 L 237.04 552.20 " style="fill: none; stroke: #000000; stroke-width: 0.8; stroke-linejoin: miter; stroke-linecap: square"/>
</g>
<g id="patch_119">
<path d="M 328.86 644.15 L 328.86 552.20 " style="fill: none; stroke: #000000; stroke-width: 0.8; stroke-linejoin: miter; stroke-linecap: square"/>
</g>
<g id="patch_120">
<path d="M 237.04 644.15 L 328.86 644.15 " style="fill: none; stroke: #000000; stroke-width: 0.8; stroke-linejoin: miter; stroke-linecap: square"/>
</g>
<g id="patch_121">
<path d="M 237.04 552.20 L 328.86 552.20 " style="fill: none; stroke: #000000; stroke-width: 0.8; stroke-linejoin: miter; stroke-linecap: square"/>
</g>
</g>
<g id="axes_25">
<g id="patch_122">
<path d="M 328.86 644.15 L 420.69 644.15 L 420.69 552.20 L 328.86 552.20 z
" style="fill: #ffffff"/>
</g>
<g id="matplotlib.axis_49"/>
<g id="matplotlib.axis_50"/>
<g id="line2d_147">
<path d="M 405.82 575.13 L 405.70 573.39 L 405.35 571.84 L 404.76 570.49 L 403.95 569.35 L 402.91 568.43 L 401.66 567.74 L 400.21 567.28 L 398.56 567.05 L 396.73 567.06 L 394.73 567.31 L 392.58 567.80 L 390.30 568.51 L 387.90 569.45 L 385.39 570.61 L 382.81 571.98 L 380.17 573.54 L 377.48 575.30 L 374.78 577.23 L 372.07 579.32 L 369.38 581.55 L 366.74 583.91 L 364.16 586.37 L 361.65 588.93 L 359.25 591.56 L 356.97 594.24 L 354.82 596.95 L 352.82 599.66 L 350.99 602.37 L 349.34 605.04 L 347.89 607.66 L 346.64 610.21 L 345.60 612.67 L 344.79 615.02 L 344.20 617.24 L 343.85 619.31 L 343.73 621.23 L 343.85 622.97 L 344.20 624.52 L 344.79 625.87 L 345.60 627.00 L 346.64 627.92 L 347.89 628.62 L 349.34 629.08 L 350.99 629.30 L 352.82 629.29 L 354.82 629.04 L 356.97 628.56 L 359.25 627.85 L 361.65 626.91 L 364.16 625.75 L 366.74 624.38 L 369.38 622.81 L 372.07 621.06 L 374.78 619.13 L 377.48 617.04 L 380.17 614.81 L 382.81 612.45 L 385.39 609.98 L 387.90 607.42 L 390.30 604.80 L 392.58 602.12 L 394.73 599.41 L 396.73 596.69 L 398.56 593.99 L 400.21 591.31 L 401.66 588.69 L 402.91 586.14 L 403.95 583.68 L 404.76 581.34 L 405.35 579.12 L 405.70 577.04 L 405.82 575.13 " clip-path="url(#p2d2d5d9aa9)" style="fill: none; stroke: #235fa0; stroke-width: 1.25; stroke-linecap: square"/>
</g>
<g id="line2d_148">
<path d="M 394.27 580.94 L 394.19 580.03 L 393.97 579.27 L 393.60 578.64 L 393.09 578.17 L 392.44 577.85 L 391.66 577.68 L 390.74 577.67 L 389.71 577.81 L 388.56 578.11 L 387.31 578.57 L 385.96 579.17 L 384.52 579.91 L 383.01 580.80 L 381.44 581.82 L 379.82 582.96 L 378.16 584.22 L 376.47 585.58 L 374.78 587.04 L 373.08 588.59 L 371.39 590.20 L 369.73 591.88 L 368.11 593.61 L 366.54 595.37 L 365.03 597.15 L 363.59 598.94 L 362.25 600.73 L 360.99 602.49 L 359.84 604.23 L 358.81 605.91 L 357.89 607.54 L 357.11 609.10 L 356.46 610.57 L 355.95 611.95 L 355.58 613.22 L 355.36 614.38 L 355.28 615.42 L 355.36 616.32 L 355.58 617.09 L 355.95 617.71 L 356.46 618.19 L 357.11 618.51 L 357.89 618.68 L 358.81 618.69 L 359.84 618.54 L 360.99 618.24 L 362.25 617.79 L 363.59 617.19 L 365.03 616.44 L 366.54 615.56 L 368.11 614.54 L 369.73 613.40 L 371.39 612.14 L 373.08 610.77 L 374.78 609.31 L 376.47 607.77 L 378.16 606.15 L 379.82 604.47 L 381.44 602.75 L 383.01 600.99 L 384.52 599.20 L 385.96 597.41 L 387.31 595.63 L 388.56 593.86 L 389.71 592.13 L 390.74 590.44 L 391.66 588.82 L 392.44 587.26 L 393.09 585.79 L 393.60 584.41 L 393.97 583.13 L 394.19 581.97 L 394.27 580.94 " clip-path="url(#p2d2d5d9aa9)" style="fill: none; stroke: #5f9137; stroke-width: 1.25; stroke-linecap: square"/>
</g>
<g id="line2d_149">
<path d="M 404.58 581.28 L 404.47 579.75 L 404.13 578.37 L 403.57 577.13 L 402.78 576.06 L 401.79 575.16 L 400.59 574.43 L 399.19 573.88 L 397.61 573.51 L 395.85 573.34 L 393.93 573.35 L 391.87 573.55 L 389.68 573.94 L 387.37 574.52 L 384.97 575.27 L 382.49 576.20 L 379.95 577.29 L 377.37 578.55 L 374.78 579.95 L 372.18 581.49 L 369.60 583.16 L 367.06 584.95 L 364.58 586.83 L 362.18 588.80 L 359.87 590.85 L 357.68 592.94 L 355.62 595.08 L 353.70 597.24 L 351.94 599.41 L 350.36 601.57 L 348.96 603.70 L 347.76 605.80 L 346.77 607.83 L 345.98 609.79 L 345.42 611.66 L 345.08 613.43 L 344.97 615.08 L 345.08 616.61 L 345.42 617.99 L 345.98 619.22 L 346.77 620.30 L 347.76 621.20 L 348.96 621.93 L 350.36 622.48 L 351.94 622.84 L 353.70 623.02 L 355.62 623.01 L 357.68 622.80 L 359.87 622.41 L 362.18 621.84 L 364.58 621.09 L 367.06 620.16 L 369.60 619.06 L 372.18 617.81 L 374.78 616.40 L 377.37 614.86 L 379.95 613.19 L 382.49 611.41 L 384.97 609.52 L 387.37 607.55 L 389.68 605.51 L 391.87 603.41 L 393.93 601.27 L 395.85 599.11 L 397.61 596.95 L 399.19 594.79 L 400.59 592.65 L 401.79 590.56 L 402.78 588.53 L 403.57 586.57 L 404.13 584.70 L 404.47 582.93 L 404.58 581.28 " clip-path="url(#p2d2d5d9aa9)" style="fill: none; stroke: #aa282d; stroke-width: 1.25; stroke-linecap: square"/>
</g>
<g id="line2d_150">
<path d="M 390.56 586.05 L 390.50 585.30 L 390.32 584.65 L 390.02 584.11 L 389.60 583.67 L 389.08 583.34 L 388.44 583.13 L 387.70 583.03 L 386.86 583.04 L 385.93 583.17 L 384.92 583.41 L 383.83 583.77 L 382.67 584.24 L 381.44 584.81 L 380.17 585.48 L 378.86 586.25 L 377.52 587.11 L 376.15 588.06 L 374.78 589.08 L 373.40 590.17 L 372.03 591.33 L 370.69 592.53 L 369.38 593.78 L 368.11 595.06 L 366.88 596.36 L 365.72 597.68 L 364.63 599.01 L 363.62 600.32 L 362.69 601.62 L 361.85 602.90 L 361.11 604.13 L 360.47 605.33 L 359.95 606.46 L 359.53 607.54 L 359.23 608.54 L 359.05 609.47 L 358.99 610.31 L 359.05 611.05 L 359.23 611.70 L 359.53 612.25 L 359.95 612.69 L 360.47 613.02 L 361.11 613.23 L 361.85 613.33 L 362.69 613.32 L 363.62 613.19 L 364.63 612.94 L 365.72 612.59 L 366.88 612.12 L 368.11 611.55 L 369.38 610.87 L 370.69 610.10 L 372.03 609.24 L 373.40 608.30 L 374.78 607.28 L 376.15 606.18 L 377.52 605.03 L 378.86 603.83 L 380.17 602.58 L 381.44 601.30 L 382.67 599.99 L 383.83 598.67 L 384.92 597.35 L 385.93 596.03 L 386.86 594.73 L 387.70 593.46 L 388.44 592.22 L 389.08 591.03 L 389.60 589.89 L 390.02 588.82 L 390.32 587.81 L 390.50 586.89 L 390.56 586.05 " clip-path="url(#p2d2d5d9aa9)" style="fill: none; stroke: #552896; stroke-width: 1.25; stroke-linecap: square"/>
</g>
<g id="line2d_151">
<path d="M 395.20 586.42 L 395.12 585.20 L 394.89 584.08 L 394.50 583.07 L 393.97 582.17 L 393.28 581.39 L 392.46 580.74 L 391.50 580.23 L 390.42 579.85 L 389.22 579.61 L 387.90 579.51 L 386.49 579.56 L 384.99 579.74 L 383.41 580.07 L 381.76 580.53 L 380.06 581.13 L 378.32 581.86 L 376.55 582.71 L 374.78 583.68 L 373.00 584.76 L 371.23 585.94 L 369.49 587.22 L 367.79 588.58 L 366.14 590.01 L 364.56 591.50 L 363.06 593.05 L 361.65 594.63 L 360.33 596.24 L 359.13 597.87 L 358.05 599.50 L 357.09 601.11 L 356.27 602.71 L 355.58 604.27 L 355.05 605.79 L 354.66 607.24 L 354.43 608.63 L 354.35 609.94 L 354.43 611.16 L 354.66 612.28 L 355.05 613.29 L 355.58 614.19 L 356.27 614.97 L 357.09 615.61 L 358.05 616.13 L 359.13 616.51 L 360.33 616.75 L 361.65 616.84 L 363.06 616.80 L 364.56 616.61 L 366.14 616.29 L 367.79 615.82 L 369.49 615.23 L 371.23 614.50 L 373.00 613.65 L 374.78 612.68 L 376.55 611.60 L 378.32 610.41 L 380.06 609.14 L 381.76 607.78 L 383.41 606.35 L 384.99 604.85 L 386.49 603.31 L 387.90 601.72 L 389.22 600.11 L 390.42 598.49 L 391.50 596.86 L 392.46 595.24 L 393.28 593.65 L 393.97 592.08 L 394.50 590.57 L 394.89 589.11 L 395.12 587.73 L 395.20 586.42 " clip-path="url(#p2d2d5d9aa9)" style="fill: none; stroke: #afa028; stroke-width: 1.25; stroke-linecap: square"/>
</g>
<g id="patch_123">
<path d="M 328.86 644.15 L 328.86 552.20 " style="fill: none; stroke: #000000; stroke-width: 0.8; stroke-linejoin: miter; stroke-linecap: square"/>
</g>
<g id="patch_124">
<path d="M 420.69 644.15 L 420.69 552.20 " style="fill: none; stroke: #000000; stroke-width: 0.8; stroke-linejoin: miter; stroke-linecap: square"/>
</g>
<g id="patch_125">
<path d="M 328.86 644.15 L 420.69 644.15 " style="fill: none; stroke: #000000; stroke-width: 0.8; stroke-linejoin: miter; stroke-linecap: square"/>
</g>
<g id="patch_126">
<path d="M 328.86 552.20 L 420.69 552.20 " style="fill: none; stroke: #000000; stroke-width: 0.8; stroke-linejoin: miter; stroke-linecap: square"/>
</g>
</g>
<g id="axes_26">
<g id="patch_127">
<path d="M 420.69 644.15 L 512.51 644.15 L 512.51 552.20 L 420.69 552.20 z
" style="fill: #ffffff"/>
</g>
<g id="matplotlib.axis_51"/>
<g id="matplotlib.axis_52"/>
<g id="line2d_152">
<path d="M 497.95 592.88 L 497.83 590.23 L 497.48 587.63 L 496.88 585.12 L 496.06 582.70 L 495.01 580.41 L 493.75 578.24 L 492.28 576.23 L 490.62 574.39 L 488.77 572.73 L 486.75 571.26 L 484.58 570.00 L 482.27 568.95 L 479.85 568.12 L 477.32 567.52 L 474.71 567.16 L 472.04 567.03 L 469.33 567.14 L 466.60 567.48 L 463.86 568.06 L 461.15 568.87 L 458.48 569.90 L 455.87 571.15 L 453.35 572.60 L 450.92 574.24 L 448.61 576.07 L 446.44 578.07 L 444.43 580.22 L 442.58 582.50 L 440.91 584.91 L 439.44 587.42 L 438.18 590.01 L 437.13 592.66 L 436.31 595.35 L 435.72 598.06 L 435.36 600.78 L 435.24 603.47 L 435.36 606.13 L 435.72 608.72 L 436.31 611.24 L 437.13 613.65 L 438.18 615.95 L 439.44 618.11 L 440.91 620.12 L 442.58 621.97 L 444.43 623.63 L 446.44 625.10 L 448.61 626.36 L 450.92 627.41 L 453.35 628.24 L 455.87 628.83 L 458.48 629.20 L 461.15 629.33 L 463.86 629.22 L 466.60 628.87 L 469.33 628.30 L 472.04 627.49 L 474.71 626.46 L 477.32 625.21 L 479.85 623.76 L 482.27 622.11 L 484.58 620.29 L 486.75 618.29 L 488.77 616.14 L 490.62 613.85 L 492.28 611.45 L 493.75 608.94 L 495.01 606.35 L 496.06 603.70 L 496.88 601.01 L 497.48 598.29 L 497.83 595.58 L 497.95 592.88 " clip-path="url(#p073fe10a1f)" style="fill: none; stroke: #235fa0; stroke-width: 1.25; stroke-linecap: square"/>
</g>
<g id="line2d_153">
<path d="M 492.18 603.31 L 492.08 601.56 L 491.79 599.78 L 491.30 597.99 L 490.63 596.20 L 489.78 594.43 L 488.75 592.69 L 487.55 590.98 L 486.19 589.33 L 484.68 587.75 L 483.04 586.25 L 481.27 584.84 L 479.39 583.53 L 477.41 582.34 L 475.35 581.26 L 473.22 580.31 L 471.04 579.50 L 468.83 578.83 L 466.60 578.31 L 464.37 577.93 L 462.16 577.72 L 459.98 577.65 L 457.85 577.75 L 455.79 578.00 L 453.81 578.40 L 451.93 578.96 L 450.16 579.66 L 448.51 580.50 L 447.00 581.47 L 445.64 582.58 L 444.44 583.80 L 443.41 585.13 L 442.56 586.56 L 441.89 588.08 L 441.41 589.67 L 441.12 591.33 L 441.02 593.05 L 441.12 594.80 L 441.41 596.58 L 441.89 598.37 L 442.56 600.15 L 443.41 601.93 L 444.44 603.67 L 445.64 605.37 L 447.00 607.02 L 448.51 608.60 L 450.16 610.10 L 451.93 611.51 L 453.81 612.82 L 455.79 614.02 L 457.85 615.10 L 459.98 616.05 L 462.16 616.86 L 464.37 617.53 L 466.60 618.05 L 468.83 618.42 L 471.04 618.64 L 473.22 618.70 L 475.35 618.61 L 477.41 618.36 L 479.39 617.95 L 481.27 617.40 L 483.04 616.70 L 484.68 615.86 L 486.19 614.88 L 487.55 613.78 L 488.75 612.56 L 489.78 611.23 L 490.63 609.80 L 491.30 608.28 L 491.79 606.68 L 492.08 605.02 L 492.18 603.31 " clip-path="url(#p073fe10a1f)" style="fill: none; stroke: #5f9137; stroke-width: 1.25; stroke-linecap: square"/>
</g>
<g id="line2d_154">
<path d="M 491.97 598.18 L 491.87 596.01 L 491.58 593.86 L 491.11 591.74 L 490.44 589.68 L 489.59 587.67 L 488.57 585.75 L 487.38 583.92 L 486.03 582.20 L 484.54 580.60 L 482.91 579.14 L 481.15 577.82 L 479.28 576.65 L 477.32 575.65 L 475.28 574.82 L 473.16 574.17 L 471.00 573.70 L 468.81 573.42 L 466.60 573.32 L 464.39 573.42 L 462.19 573.70 L 460.03 574.17 L 457.92 574.82 L 455.87 575.65 L 453.91 576.65 L 452.04 577.82 L 450.29 579.14 L 448.66 580.60 L 447.16 582.20 L 445.81 583.92 L 444.62 585.75 L 443.60 587.67 L 442.75 589.68 L 442.09 591.74 L 441.61 593.86 L 441.32 596.01 L 441.22 598.18 L 441.32 600.34 L 441.61 602.49 L 442.09 604.61 L 442.75 606.68 L 443.60 608.68 L 444.62 610.61 L 445.81 612.44 L 447.16 614.16 L 448.66 615.76 L 450.29 617.22 L 452.04 618.54 L 453.91 619.71 L 455.87 620.71 L 457.92 621.54 L 460.03 622.19 L 462.19 622.66 L 464.39 622.94 L 466.60 623.04 L 468.81 622.94 L 471.00 622.66 L 473.16 622.19 L 475.28 621.54 L 477.32 620.71 L 479.28 619.71 L 481.15 618.54 L 482.91 617.22 L 484.54 615.76 L 486.03 614.16 L 487.38 612.44 L 488.57 610.61 L 489.59 608.68 L 490.44 606.68 L 491.11 604.61 L 491.58 602.49 L 491.87 600.34 L 491.97 598.18 " clip-path="url(#p073fe10a1f)" style="fill: none; stroke: #aa282d; stroke-width: 1.25; stroke-linecap: square"/>
</g>
<g id="line2d_155">
<path d="M 483.51 603.18 L 483.45 601.92 L 483.26 600.62 L 482.94 599.31 L 482.49 597.98 L 481.93 596.66 L 481.25 595.36 L 480.45 594.07 L 479.55 592.81 L 478.56 591.60 L 477.47 590.43 L 476.30 589.32 L 475.05 588.29 L 473.75 587.32 L 472.38 586.44 L 470.98 585.65 L 469.53 584.95 L 468.07 584.36 L 466.60 583.87 L 465.12 583.48 L 463.66 583.21 L 462.22 583.06 L 460.81 583.02 L 459.45 583.09 L 458.14 583.28 L 456.89 583.58 L 455.72 584.00 L 454.64 584.52 L 453.64 585.15 L 452.74 585.87 L 451.95 586.69 L 451.27 587.60 L 450.70 588.58 L 450.26 589.64 L 449.94 590.77 L 449.75 591.95 L 449.68 593.18 L 449.75 594.44 L 449.94 595.74 L 450.26 597.05 L 450.70 598.37 L 451.27 599.69 L 451.95 601.00 L 452.74 602.29 L 453.64 603.55 L 454.64 604.76 L 455.72 605.93 L 456.89 607.03 L 458.14 608.07 L 459.45 609.03 L 460.81 609.92 L 462.22 610.71 L 463.66 611.40 L 465.12 612.00 L 466.60 612.49 L 468.07 612.87 L 469.53 613.14 L 470.98 613.30 L 472.38 613.34 L 473.75 613.26 L 475.05 613.07 L 476.30 612.77 L 477.47 612.36 L 478.56 611.84 L 479.55 611.21 L 480.45 610.49 L 481.25 609.67 L 481.93 608.76 L 482.49 607.77 L 482.94 606.72 L 483.26 605.59 L 483.45 604.41 L 483.51 603.18 " clip-path="url(#p073fe10a1f)" style="fill: none; stroke: #552896; stroke-width: 1.25; stroke-linecap: square"/>
</g>
<g id="line2d_156">
<path d="M 484.44 602.66 L 484.37 601.06 L 484.17 599.44 L 483.83 597.82 L 483.36 596.19 L 482.77 594.58 L 482.05 593.00 L 481.21 591.45 L 480.27 589.96 L 479.21 588.53 L 478.07 587.17 L 476.83 585.90 L 475.52 584.72 L 474.14 583.65 L 472.70 582.68 L 471.22 581.83 L 469.70 581.11 L 468.15 580.51 L 466.60 580.05 L 465.04 579.73 L 463.50 579.55 L 461.98 579.51 L 460.49 579.62 L 459.06 579.86 L 457.68 580.24 L 456.36 580.76 L 455.13 581.41 L 453.98 582.19 L 452.93 583.10 L 451.98 584.11 L 451.14 585.24 L 450.42 586.46 L 449.83 587.77 L 449.36 589.16 L 449.02 590.62 L 448.82 592.14 L 448.75 593.70 L 448.82 595.29 L 449.02 596.91 L 449.36 598.54 L 449.83 600.17 L 450.42 601.78 L 451.14 603.36 L 451.98 604.90 L 452.93 606.40 L 453.98 607.83 L 455.13 609.18 L 456.36 610.45 L 457.68 611.63 L 459.06 612.71 L 460.49 613.68 L 461.98 614.52 L 463.50 615.25 L 465.04 615.84 L 466.60 616.30 L 468.15 616.62 L 469.70 616.80 L 471.22 616.84 L 472.70 616.74 L 474.14 616.50 L 475.52 616.11 L 476.83 615.59 L 478.07 614.94 L 479.21 614.16 L 480.27 613.26 L 481.21 612.24 L 482.05 611.12 L 482.77 609.90 L 483.36 608.59 L 483.83 607.20 L 484.17 605.74 L 484.37 604.22 L 484.44 602.66 " clip-path="url(#p073fe10a1f)" style="fill: none; stroke: #afa028; stroke-width: 1.25; stroke-linecap: square"/>
</g>
<g id="patch_128">
<path d="M 420.69 644.15 L 420.69 552.20 " style="fill: none; stroke: #000000; stroke-width: 0.8; stroke-linejoin: miter; stroke-linecap: square"/>
</g>
<g id="patch_129">
<path d="M 512.51 644.15 L 512.51 552.20 " style="fill: none; stroke: #000000; stroke-width: 0.8; stroke-linejoin: miter; stroke-linecap: square"/>
</g>
<g id="patch_130">
<path d="M 420.69 644.15 L 512.51 644.15 " style="fill: none; stroke: #000000; stroke-width: 0.8; stroke-linejoin: miter; stroke-linecap: square"/>
</g>
<g id="patch_131">
<path d="M 420.69 552.20 L 512.51 552.20 " style="fill: none; stroke: #000000; stroke-width: 0.8; stroke-linejoin: miter; stroke-linecap: square"/>
</g>
</g>
<g id="axes_27">
<g id="patch_132">
<path d="M 512.51 644.15 L 604.33 644.15 L 604.33 552.20 L 512.51 552.20 z
" style="fill: #ffffff"/>
</g>
<g id="matplotlib.axis_53"/>
<g id="matplotlib.axis_54"/>
<g id="line2d_157">
<path d="M 589.57 614.38 L 589.45 612.00 L 589.09 609.51 L 588.51 606.94 L 587.69 604.30 L 586.65 601.61 L 585.39 598.90 L 583.93 596.19 L 582.28 593.48 L 580.44 590.82 L 578.44 588.21 L 576.29 585.67 L 573.99 583.24 L 571.58 580.91 L 569.07 578.72 L 566.48 576.67 L 563.83 574.79 L 561.13 573.09 L 558.42 571.57 L 555.70 570.26 L 553.01 569.16 L 550.36 568.29 L 547.77 567.64 L 545.26 567.22 L 542.84 567.04 L 540.55 567.09 L 538.40 567.39 L 536.39 567.91 L 534.56 568.67 L 532.90 569.65 L 531.44 570.85 L 530.19 572.25 L 529.15 573.86 L 528.33 575.65 L 527.74 577.61 L 527.39 579.72 L 527.27 581.98 L 527.39 584.36 L 527.74 586.85 L 528.33 589.42 L 529.15 592.06 L 530.19 594.74 L 531.44 597.45 L 532.90 600.17 L 534.56 602.87 L 536.39 605.54 L 538.40 608.15 L 540.55 610.68 L 542.84 613.12 L 545.26 615.45 L 547.77 617.64 L 550.36 619.69 L 553.01 621.57 L 555.70 623.27 L 558.42 624.78 L 561.13 626.09 L 563.83 627.19 L 566.48 628.07 L 569.07 628.72 L 571.58 629.14 L 573.99 629.32 L 576.29 629.26 L 578.44 628.97 L 580.44 628.44 L 582.28 627.69 L 583.93 626.71 L 585.39 625.51 L 586.65 624.10 L 587.69 622.50 L 588.51 620.71 L 589.09 618.75 L 589.45 616.63 L 589.57 614.38 " clip-path="url(#pde15005223)" style="fill: none; stroke: #235fa0; stroke-width: 1.25; stroke-linecap: square"/>
</g>
<g id="line2d_158">
<path d="M 580.49 608.44 L 580.41 606.85 L 580.16 605.20 L 579.74 603.49 L 579.16 601.74 L 578.42 599.97 L 577.53 598.18 L 576.50 596.39 L 575.33 594.61 L 574.03 592.87 L 572.61 591.16 L 571.08 589.50 L 569.46 587.92 L 567.75 586.41 L 565.97 584.99 L 564.13 583.67 L 562.25 582.46 L 560.34 581.37 L 558.42 580.40 L 556.50 579.58 L 554.59 578.89 L 552.71 578.35 L 550.87 577.97 L 549.09 577.73 L 547.38 577.65 L 545.76 577.73 L 544.23 577.97 L 542.81 578.35 L 541.51 578.89 L 540.34 579.58 L 539.30 580.40 L 538.41 581.37 L 537.68 582.46 L 537.10 583.67 L 536.68 584.99 L 536.43 586.41 L 536.35 587.92 L 536.43 589.50 L 536.68 591.16 L 537.10 592.87 L 537.68 594.61 L 538.41 596.39 L 539.30 598.18 L 540.34 599.97 L 541.51 601.74 L 542.81 603.49 L 544.23 605.20 L 545.76 606.85 L 547.38 608.44 L 549.09 609.95 L 550.87 611.37 L 552.71 612.69 L 554.59 613.90 L 556.50 614.99 L 558.42 615.95 L 560.34 616.78 L 562.25 617.47 L 564.13 618.00 L 565.97 618.39 L 567.75 618.62 L 569.46 618.70 L 571.08 618.62 L 572.61 618.39 L 574.03 618.00 L 575.33 617.47 L 576.50 616.78 L 577.53 615.95 L 578.42 614.99 L 579.16 613.90 L 579.74 612.69 L 580.16 611.37 L 580.41 609.95 L 580.49 608.44 " clip-path="url(#pde15005223)" style="fill: none; stroke: #5f9137; stroke-width: 1.25; stroke-linecap: square"/>
</g>
<g id="line2d_159">
<path d="M 584.82 612.60 L 584.72 610.78 L 584.42 608.86 L 583.92 606.86 L 583.23 604.80 L 582.35 602.69 L 581.29 600.54 L 580.05 598.37 L 578.65 596.21 L 577.09 594.05 L 575.39 591.93 L 573.56 589.86 L 571.62 587.85 L 569.58 585.92 L 567.45 584.08 L 565.25 582.35 L 563.00 580.74 L 560.72 579.26 L 558.42 577.93 L 556.12 576.75 L 553.83 575.73 L 551.59 574.89 L 549.39 574.22 L 547.26 573.73 L 545.22 573.43 L 543.27 573.32 L 541.45 573.40 L 539.75 573.67 L 538.19 574.12 L 536.79 574.75 L 535.55 575.57 L 534.49 576.55 L 533.61 577.70 L 532.91 579.01 L 532.42 580.46 L 532.12 582.05 L 532.01 583.76 L 532.12 585.58 L 532.42 587.50 L 532.91 589.49 L 533.61 591.56 L 534.49 593.67 L 535.55 595.82 L 536.79 597.98 L 538.19 600.15 L 539.75 602.30 L 541.45 604.42 L 543.27 606.50 L 545.22 608.51 L 547.26 610.44 L 549.39 612.28 L 551.59 614.01 L 553.83 615.62 L 556.12 617.09 L 558.42 618.43 L 560.72 619.61 L 563.00 620.62 L 565.25 621.47 L 567.45 622.14 L 569.58 622.62 L 571.62 622.92 L 573.56 623.04 L 575.39 622.96 L 577.09 622.69 L 578.65 622.24 L 580.05 621.60 L 581.29 620.79 L 582.35 619.80 L 583.23 618.65 L 583.92 617.35 L 584.42 615.89 L 584.72 614.31 L 584.82 612.60 " clip-path="url(#pde15005223)" style="fill: none; stroke: #aa282d; stroke-width: 1.25; stroke-linecap: square"/>
</g>
<g id="line2d_160">
<path d="M 573.68 604.85 L 573.63 603.64 L 573.45 602.38 L 573.16 601.10 L 572.76 599.79 L 572.25 598.47 L 571.64 597.15 L 570.92 595.83 L 570.11 594.54 L 569.21 593.27 L 568.23 592.04 L 567.17 590.85 L 566.05 589.72 L 564.87 588.66 L 563.64 587.67 L 562.37 586.75 L 561.07 585.93 L 559.75 585.20 L 558.42 584.56 L 557.09 584.03 L 555.77 583.61 L 554.47 583.30 L 553.20 583.10 L 551.97 583.02 L 550.79 583.05 L 549.66 583.20 L 548.61 583.46 L 547.63 583.83 L 546.73 584.32 L 545.91 584.90 L 545.20 585.59 L 544.58 586.38 L 544.07 587.25 L 543.67 588.21 L 543.39 589.24 L 543.21 590.35 L 543.15 591.51 L 543.21 592.72 L 543.39 593.97 L 543.67 595.26 L 544.07 596.57 L 544.58 597.89 L 545.20 599.21 L 545.91 600.52 L 546.73 601.82 L 547.63 603.09 L 548.61 604.32 L 549.66 605.50 L 550.79 606.63 L 551.97 607.70 L 553.20 608.69 L 554.47 609.60 L 555.77 610.43 L 557.09 611.16 L 558.42 611.79 L 559.75 612.32 L 561.07 612.74 L 562.37 613.06 L 563.64 613.25 L 564.87 613.34 L 566.05 613.30 L 567.17 613.16 L 568.23 612.90 L 569.21 612.52 L 570.11 612.04 L 570.92 611.45 L 571.64 610.76 L 572.25 609.98 L 572.76 609.10 L 573.16 608.15 L 573.45 607.11 L 573.63 606.01 L 573.68 604.85 " clip-path="url(#pde15005223)" style="fill: none; stroke: #552896; stroke-width: 1.25; stroke-linecap: square"/>
</g>
<g id="line2d_161">
<path d="M 576.78 607.89 L 576.71 606.46 L 576.50 604.97 L 576.15 603.43 L 575.67 601.85 L 575.06 600.24 L 574.32 598.61 L 573.46 596.98 L 572.48 595.36 L 571.40 593.77 L 570.22 592.20 L 568.95 590.68 L 567.60 589.22 L 566.18 587.83 L 564.70 586.51 L 563.17 585.29 L 561.61 584.16 L 560.02 583.14 L 558.42 582.23 L 556.82 581.45 L 555.23 580.79 L 553.67 580.26 L 552.14 579.87 L 550.66 579.62 L 549.24 579.51 L 547.89 579.55 L 546.62 579.72 L 545.44 580.04 L 544.36 580.49 L 543.38 581.08 L 542.52 581.80 L 541.78 582.64 L 541.17 583.60 L 540.69 584.67 L 540.34 585.85 L 540.13 587.12 L 540.06 588.47 L 540.13 589.90 L 540.34 591.39 L 540.69 592.93 L 541.17 594.51 L 541.78 596.12 L 542.52 597.74 L 543.38 599.37 L 544.36 600.99 L 545.44 602.59 L 546.62 604.15 L 547.89 605.67 L 549.24 607.13 L 550.66 608.53 L 552.14 609.84 L 553.67 611.07 L 555.23 612.20 L 556.82 613.22 L 558.42 614.12 L 560.02 614.91 L 561.61 615.57 L 563.17 616.09 L 564.70 616.48 L 566.18 616.73 L 567.60 616.84 L 568.95 616.81 L 570.22 616.63 L 571.40 616.32 L 572.48 615.87 L 573.46 615.28 L 574.32 614.56 L 575.06 613.72 L 575.67 612.75 L 576.15 611.68 L 576.50 610.51 L 576.71 609.24 L 576.78 607.89 " clip-path="url(#pde15005223)" style="fill: none; stroke: #afa028; stroke-width: 1.25; stroke-linecap: square"/>
</g>
<g id="patch_133">
<path d="M 512.51 644.15 L 512.51 552.20 " style="fill: none; stroke: #000000; stroke-width: 0.8; stroke-linejoin: miter; stroke-linecap: square"/>
</g>
<g id="patch_134">
<path d="M 604.33 644.15 L 604.33 552.20 " style="fill: none; stroke: #000000; stroke-width: 0.8; stroke-linejoin: miter; stroke-linecap: square"/>
</g>
<g id="patch_135">
<path d="M 512.51 644.15 L 604.33 644.15 " style="fill: none; stroke: #000000; stroke-width: 0.8; stroke-linejoin: miter; stroke-linecap: square"/>
</g>
<g id="patch_136">
<path d="M 512.51 552.20 L 604.33 552.20 " style="fill: none; stroke: #000000; stroke-width: 0.8; stroke-linejoin: miter; stroke-linecap: square"/>
</g>
</g>
<g id="axes_28">
<g id="patch_137">
<path d="M 604.33 644.15 L 696.15 644.15 L 696.15 552.20 L 604.33 552.20 z
" style="fill: #ffffff"/>
</g>
<g id="matplotlib.axis_55"/>
<g id="matplotlib.axis_56"/>
<g id="line2d_162">
<path d="M 604.33 644.15 L 618.72 644.05 L 621.78 643.81 L 623.92 643.43 L 625.45 642.96 L 626.98 642.23 L 628.20 641.41 L 629.43 640.32 L 630.65 638.89 L 631.88 637.06 L 633.10 634.78 L 634.33 632.00 L 635.55 628.69 L 637.08 623.83 L 638.61 618.23 L 640.75 609.50 L 644.43 594.45 L 645.96 589.27 L 647.18 586.01 L 648.10 584.20 L 648.71 583.33 L 649.32 582.74 L 649.94 582.44 L 650.55 582.44 L 651.16 582.74 L 651.77 583.33 L 652.38 584.20 L 653.30 586.01 L 654.22 588.37 L 655.44 592.25 L 656.97 597.99 L 659.73 609.50 L 662.18 619.40 L 664.01 625.87 L 665.54 630.41 L 666.77 633.45 L 667.99 635.98 L 669.22 638.03 L 670.44 639.65 L 671.67 640.90 L 672.89 641.86 L 674.11 642.56 L 675.65 643.17 L 677.48 643.62 L 679.62 643.91 L 682.68 644.08 L 688.81 644.15 L 696.15 644.15 L 696.15 644.15 " clip-path="url(#p4d752d4b15)" style="fill: none; stroke: #6cbd3a; stroke-opacity: 0.85; stroke-width: 1.41"/>
</g>
<g id="line2d_163">
<path d="M 604.33 644.15 L 626.37 644.05 L 628.51 643.83 L 630.04 643.46 L 631.26 642.94 L 632.18 642.35 L 633.10 641.51 L 634.02 640.36 L 634.94 638.83 L 635.86 636.82 L 636.77 634.24 L 637.69 631.03 L 638.61 627.12 L 639.83 620.76 L 641.06 613.14 L 642.59 602.16 L 646.26 574.76 L 647.49 567.70 L 648.40 563.81 L 649.02 562.02 L 649.63 560.93 L 649.94 560.66 L 650.24 560.56 L 650.55 560.66 L 650.85 560.93 L 651.47 562.02 L 652.08 563.81 L 652.69 566.25 L 653.61 570.99 L 654.83 578.91 L 656.67 592.73 L 659.12 611.05 L 660.65 620.76 L 661.87 627.12 L 663.10 632.18 L 664.01 635.17 L 664.93 637.55 L 665.85 639.39 L 666.77 640.79 L 667.69 641.82 L 668.61 642.57 L 669.83 643.23 L 671.05 643.64 L 672.58 643.92 L 675.03 644.09 L 680.24 644.15 L 696.15 644.15 L 696.15 644.15 " clip-path="url(#p4d752d4b15)" style="fill: none; stroke: #5f32be; stroke-opacity: 0.85; stroke-width: 1.41"/>
</g>
<g id="line2d_164">
<path d="M 604.33 644.04 L 608.92 643.80 L 612.29 643.42 L 614.74 642.94 L 616.88 642.32 L 619.02 641.46 L 620.86 640.48 L 622.69 639.24 L 624.53 637.70 L 626.37 635.84 L 628.20 633.63 L 630.04 631.10 L 632.18 627.75 L 634.94 622.96 L 641.36 611.48 L 643.20 608.71 L 644.73 606.76 L 645.96 605.49 L 647.18 604.51 L 648.40 603.85 L 649.32 603.56 L 650.24 603.47 L 651.16 603.56 L 652.08 603.85 L 653.30 604.51 L 654.53 605.49 L 655.75 606.76 L 657.28 608.71 L 659.12 611.48 L 661.57 615.69 L 668.91 628.75 L 671.05 631.98 L 672.89 634.41 L 674.73 636.49 L 676.56 638.25 L 678.40 639.68 L 680.24 640.83 L 682.07 641.73 L 684.22 642.52 L 686.66 643.14 L 689.42 643.59 L 692.79 643.89 L 696.15 644.04 L 696.15 644.04 " clip-path="url(#p4d752d4b15)" style="fill: none; stroke: #1a6ed2; stroke-opacity: 0.85; stroke-width: 1.41"/>
</g>
<g id="line2d_165">
<path d="M 604.33 644.15 L 613.21 644.03 L 616.88 643.76 L 619.33 643.37 L 621.16 642.89 L 623.00 642.17 L 624.53 641.32 L 626.06 640.20 L 627.59 638.75 L 629.12 636.91 L 630.65 634.64 L 632.18 631.91 L 633.71 628.72 L 635.55 624.32 L 637.69 618.55 L 643.81 601.60 L 645.34 598.25 L 646.57 596.09 L 647.49 594.83 L 648.40 593.92 L 649.32 593.36 L 649.94 593.19 L 650.55 593.19 L 651.16 593.36 L 652.08 593.92 L 653.00 594.83 L 653.91 596.09 L 655.14 598.25 L 656.36 600.88 L 657.89 604.69 L 660.34 611.52 L 664.32 622.73 L 666.46 628.03 L 668.30 631.91 L 669.83 634.64 L 671.36 636.91 L 672.89 638.75 L 674.42 640.20 L 675.95 641.32 L 677.48 642.17 L 679.32 642.89 L 681.15 643.37 L 683.60 643.76 L 686.66 644.00 L 691.56 644.12 L 696.15 644.15 L 696.15 644.15 " clip-path="url(#p4d752d4b15)" style="fill: none; stroke: #e02d32; stroke-opacity: 0.85; stroke-width: 1.41"/>
</g>
<g id="line2d_166">
<path d="M 604.33 644.15 L 621.47 644.04 L 624.22 643.80 L 626.06 643.42 L 627.59 642.88 L 628.82 642.22 L 630.04 641.29 L 631.26 639.99 L 632.18 638.74 L 633.41 636.61 L 634.63 633.89 L 635.86 630.51 L 637.08 626.43 L 638.61 620.37 L 640.45 611.89 L 645.65 586.51 L 646.87 581.98 L 647.79 579.35 L 648.71 577.49 L 649.32 576.71 L 649.94 576.32 L 650.55 576.32 L 651.16 576.71 L 651.77 577.49 L 652.38 578.64 L 653.30 581.03 L 654.22 584.11 L 655.44 589.12 L 656.97 596.39 L 661.57 619.04 L 663.10 625.31 L 664.32 629.56 L 665.54 633.11 L 666.77 635.99 L 667.99 638.26 L 669.22 639.99 L 670.44 641.29 L 671.67 642.22 L 672.89 642.88 L 674.42 643.42 L 676.26 643.80 L 678.71 644.03 L 682.68 644.13 L 696.15 644.15 L 696.15 644.15 " clip-path="url(#p4d752d4b15)" style="fill: none; stroke: #f0c828; stroke-opacity: 0.85; stroke-width: 1.41"/>
</g>
<g id="patch_138">
<path d="M 604.33 644.15 L 604.33 552.20 " style="fill: none; stroke: #000000; stroke-width: 0.8; stroke-linejoin: miter; stroke-linecap: square"/>
</g>
<g id="patch_139">
<path d="M 696.15 644.15 L 696.15 552.20 " style="fill: none; stroke: #000000; stroke-width: 0.8; stroke-linejoin: miter; stroke-linecap: square"/>
</g>
<g id="patch_140">
<path d="M 604.33 644.15 L 696.15 644.15 " style="fill: none; stroke: #000000; stroke-width: 0.8; stroke-linejoin: miter; stroke-linecap: square"/>
</g>
<g id="patch_141">
<path d="M 604.33 552.20 L 696.15 552.20 " style="fill: none; stroke: #000000; stroke-width: 0.8; stroke-linejoin: miter; stroke-linecap: square"/>
</g>
</g>
<g id="axes_29">
<g id="patch_142">
<path d="M 53.40 736.10 L 145.22 736.10 L 145.22 644.15 L 53.40 644.15 z
" style="fill: #ffffff"/>
</g>
<g id="matplotlib.axis_57">
<g id="xtick_1">
<g id="line2d_167">
<defs>
<path id="m1504cfccaf" d="M 0 0 L 0 3.5 " style="stroke: #000000; stroke-width: 0.8"/>
</defs>
<g>
<use href="#m1504cfccaf" x="54.50" y="736.10" style="stroke: #000000; stroke-width: 0.8"/>
</g>
</g>
<g id="text_33">
<text style="font-size: 10px; font-family: 'Liberation Sans'" transform="translate(46.74 767.89) rotate(-45)" textLength="27.47" lengthAdjust="spacingAndGlyphs">−500</text>
</g>
</g>
<g id="xtick_2">
<g id="line2d_168">
<g>
<use href="#m1504cfccaf" x="76.90" y="736.10" style="stroke: #000000; stroke-width: 0.8"/>
</g>
</g>
<g id="text_34">
<text style="font-size: 10px; font-family: 'Liberation Sans'" transform="translate(69.14 767.89) rotate(-45)" textLength="27.47" lengthAdjust="spacingAndGlyphs">−250</text>
</g>
</g>
<g id="xtick_3">
<g id="line2d_169">
<g>
<use href="#m1504cfccaf" x="99.31" y="736.10" style="stroke: #000000; stroke-width: 0.8"/>
</g>
</g>
<g id="text_35">
<text style="font-size: 10px; font-family: 'Liberation Sans'" transform="translate(99.01 752.97) rotate(-45)" textLength="6.36" lengthAdjust="spacingAndGlyphs">0</text>
</g>
</g>
<g id="xtick_4">
<g id="line2d_170">
<g>
<use href="#m1504cfccaf" x="121.71" y="736.10" style="stroke: #000000; stroke-width: 0.8"/>
</g>
</g>
<g id="text_36">
<text style="font-size: 10px; font-family: 'Liberation Sans'" transform="translate(116.92 761.97) rotate(-45)" textLength="19.09" lengthAdjust="spacingAndGlyphs">250</text>
</g>
</g>
<g id="xtick_5">
<g id="line2d_171">
<g>
<use href="#m1504cfccaf" x="144.12" y="736.10" style="stroke: #000000; stroke-width: 0.8"/>
</g>
</g>
<g id="text_37">
<text style="font-size: 10px; font-family: 'Liberation Sans'" transform="translate(139.32 761.97) rotate(-45)" textLength="19.09" lengthAdjust="spacingAndGlyphs">500</text>
</g>
</g>
<g id="text_38">
<text style="font-size: 12px; font-family: 'Liberation Sans'; text-anchor: middle" x="97.22" y="782.48" transform="rotate(-0 97.22 782.48)" textLength="31.10" lengthAdjust="spacingAndGlyphs">Local</text>
</g>
</g>
<g id="matplotlib.axis_58">
<g id="ytick_27">
<g id="line2d_172">
<g>
<use href="#m5d545ce8f8" x="53.40" y="735.03" style="stroke: #000000; stroke-width: 0.8"/>
</g>
</g>
<g id="text_39">
<text style="font-size: 10px; font-family: 'Liberation Sans'" transform="translate(29.18 752.34) rotate(-45)" textLength="22.27" lengthAdjust="spacingAndGlyphs">0.76</text>
</g>
</g>
<g id="ytick_28">
<g id="line2d_173">
<g>
<use href="#m5d545ce8f8" x="53.40" y="710.76" style="stroke: #000000; stroke-width: 0.8"/>
</g>
</g>
<g id="text_40">
<text style="font-size: 10px; font-family: 'Liberation Sans'" transform="translate(29.18 728.07) rotate(-45)" textLength="22.27" lengthAdjust="spacingAndGlyphs">0.80</text>
</g>
</g>
<g id="ytick_29">
<g id="line2d_174">
<g>
<use href="#m5d545ce8f8" x="53.40" y="686.49" style="stroke: #000000; stroke-width: 0.8"/>
</g>
</g>
<g id="text_41">
<text style="font-size: 10px; font-family: 'Liberation Sans'" transform="translate(29.18 703.80) rotate(-45)" textLength="22.27" lengthAdjust="spacingAndGlyphs">0.84</text>
</g>
</g>
<g id="ytick_30">
<g id="line2d_175">
<g>
<use href="#m5d545ce8f8" x="53.40" y="662.22" style="stroke: #000000; stroke-width: 0.8"/>
</g>
</g>
<g id="text_42">
<text style="font-size: 10px; font-family: 'Liberation Sans'" transform="translate(29.18 679.53) rotate(-45)" textLength="22.27" lengthAdjust="spacingAndGlyphs">0.88</text>
</g>
</g>
<g id="text_43">
<!-- $\sigma_8$ -->
<g transform="translate(17.32 698.88) rotate(-90)">
<text>
<tspan x="0" y="-0.43" style="font-style: italic; font-size: 12px; font-family: 'Liberation Sans'" textLength="7.61" lengthAdjust="spacingAndGlyphs">σ</tspan>
<tspan x="7.60" y="1.53" style="font-size: 8.4px; font-family: 'Liberation Sans'" textLength="5.34" lengthAdjust="spacingAndGlyphs">8</tspan>
</text>
</g>
</g>
</g>
<g id="line2d_176">
<path d="M 129.84 706.34 L 129.72 704.29 L 129.38 702.14 L 128.80 699.89 L 128.00 697.57 L 126.98 695.20 L 125.75 692.78 L 124.32 690.35 L 122.70 687.91 L 120.90 685.49 L 118.93 683.10 L 116.82 680.77 L 114.57 678.51 L 112.21 676.34 L 109.75 674.27 L 107.21 672.33 L 104.61 670.52 L 101.97 668.86 L 99.31 667.36 L 96.65 666.03 L 94.01 664.89 L 91.41 663.94 L 88.87 663.18 L 86.41 662.64 L 84.04 662.30 L 81.80 662.17 L 79.68 662.26 L 77.72 662.56 L 75.92 663.07 L 74.30 663.79 L 72.87 664.70 L 71.64 665.81 L 70.62 667.10 L 69.82 668.57 L 69.24 670.21 L 68.90 671.99 L 68.78 673.91 L 68.90 675.96 L 69.24 678.11 L 69.82 680.36 L 70.62 682.68 L 71.64 685.06 L 72.87 687.47 L 74.30 689.91 L 75.92 692.34 L 77.72 694.76 L 79.68 697.15 L 81.80 699.48 L 84.04 701.74 L 86.41 703.91 L 88.87 705.98 L 91.41 707.92 L 94.01 709.73 L 96.65 711.40 L 99.31 712.90 L 101.97 714.22 L 104.61 715.37 L 107.21 716.32 L 109.75 717.07 L 112.21 717.61 L 114.57 717.95 L 116.82 718.08 L 118.93 717.99 L 120.90 717.69 L 122.70 717.18 L 124.32 716.47 L 125.75 715.55 L 126.98 714.44 L 128.00 713.15 L 128.80 711.68 L 129.38 710.05 L 129.72 708.26 L 129.84 706.34 " clip-path="url(#p01bc169258)" style="fill: none; stroke: #235fa0; stroke-width: 1.25; stroke-linecap: square"/>
</g>
<g id="line2d_177">
<path d="M 107.15 694.80 L 107.12 693.39 L 107.03 691.95 L 106.88 690.49 L 106.68 689.04 L 106.41 687.59 L 106.10 686.16 L 105.73 684.76 L 105.31 683.40 L 104.85 682.09 L 104.35 680.85 L 103.81 679.67 L 103.23 678.57 L 102.62 677.57 L 101.99 676.65 L 101.34 675.84 L 100.67 675.14 L 99.99 674.55 L 99.31 674.09 L 98.63 673.74 L 97.95 673.52 L 97.28 673.42 L 96.63 673.45 L 96.00 673.61 L 95.39 673.90 L 94.81 674.30 L 94.27 674.83 L 93.77 675.48 L 93.30 676.23 L 92.89 677.09 L 92.52 678.05 L 92.20 679.11 L 91.94 680.24 L 91.74 681.46 L 91.59 682.73 L 91.50 684.07 L 91.47 685.45 L 91.50 686.86 L 91.59 688.30 L 91.74 689.76 L 91.94 691.22 L 92.20 692.66 L 92.52 694.09 L 92.89 695.49 L 93.30 696.85 L 93.77 698.16 L 94.27 699.41 L 94.81 700.58 L 95.39 701.68 L 96.00 702.69 L 96.63 703.60 L 97.28 704.41 L 97.95 705.11 L 98.63 705.70 L 99.31 706.17 L 99.99 706.51 L 100.67 706.74 L 101.34 706.83 L 101.99 706.80 L 102.62 706.64 L 103.23 706.36 L 103.81 705.95 L 104.35 705.42 L 104.85 704.78 L 105.31 704.02 L 105.73 703.16 L 106.10 702.20 L 106.41 701.15 L 106.68 700.01 L 106.88 698.80 L 107.03 697.52 L 107.12 696.18 L 107.15 694.80 " clip-path="url(#p01bc169258)" style="fill: none; stroke: #5f9137; stroke-width: 1.25; stroke-linecap: square"/>
</g>
<g id="line2d_178">
<path d="M 127.47 707.88 L 127.36 705.58 L 127.04 703.17 L 126.51 700.65 L 125.77 698.06 L 124.83 695.40 L 123.69 692.71 L 122.37 689.99 L 120.88 687.28 L 119.22 684.58 L 117.41 681.93 L 115.46 679.34 L 113.39 676.84 L 111.21 674.43 L 108.94 672.15 L 106.60 670.00 L 104.20 668.00 L 101.76 666.18 L 99.31 664.53 L 96.86 663.08 L 94.42 661.84 L 92.02 660.81 L 89.68 660.00 L 87.41 659.43 L 85.23 659.08 L 83.16 658.98 L 81.21 659.11 L 79.40 659.47 L 77.74 660.07 L 76.24 660.90 L 74.92 661.95 L 73.79 663.22 L 72.85 664.69 L 72.11 666.35 L 71.58 668.20 L 71.26 670.21 L 71.15 672.37 L 71.26 674.67 L 71.58 677.09 L 72.11 679.60 L 72.85 682.20 L 73.79 684.85 L 74.92 687.55 L 76.24 690.26 L 77.74 692.98 L 79.40 695.67 L 81.21 698.32 L 83.16 700.91 L 85.23 703.41 L 87.41 705.82 L 89.68 708.10 L 92.02 710.25 L 94.42 712.25 L 96.86 714.07 L 99.31 715.72 L 101.76 717.17 L 104.20 718.41 L 106.60 719.44 L 108.94 720.25 L 111.21 720.82 L 113.39 721.17 L 115.46 721.27 L 117.41 721.14 L 119.22 720.78 L 120.88 720.18 L 122.37 719.35 L 123.69 718.30 L 124.83 717.03 L 125.77 715.56 L 126.51 713.90 L 127.04 712.06 L 127.36 710.04 L 127.47 707.88 " clip-path="url(#p01bc169258)" style="fill: none; stroke: #aa282d; stroke-width: 1.25; stroke-linecap: square"/>
</g>
<g id="line2d_179">
<path d="M 106.01 690.13 L 105.99 689.49 L 105.91 688.86 L 105.78 688.24 L 105.61 687.64 L 105.38 687.05 L 105.11 686.49 L 104.80 685.95 L 104.44 685.45 L 104.05 684.98 L 103.62 684.55 L 103.15 684.16 L 102.66 683.82 L 102.14 683.53 L 101.60 683.29 L 101.04 683.10 L 100.47 682.96 L 99.89 682.88 L 99.31 682.85 L 98.72 682.88 L 98.15 682.96 L 97.57 683.10 L 97.02 683.29 L 96.48 683.53 L 95.96 683.82 L 95.46 684.16 L 95.00 684.55 L 94.57 684.98 L 94.17 685.45 L 93.82 685.95 L 93.50 686.49 L 93.23 687.05 L 93.01 687.64 L 92.83 688.24 L 92.71 688.86 L 92.63 689.49 L 92.61 690.13 L 92.63 690.76 L 92.71 691.39 L 92.83 692.01 L 93.01 692.61 L 93.23 693.20 L 93.50 693.76 L 93.82 694.30 L 94.17 694.80 L 94.57 695.27 L 95.00 695.70 L 95.46 696.09 L 95.96 696.43 L 96.48 696.72 L 97.02 696.96 L 97.57 697.16 L 98.15 697.29 L 98.72 697.38 L 99.31 697.40 L 99.89 697.38 L 100.47 697.29 L 101.04 697.16 L 101.60 696.96 L 102.14 696.72 L 102.66 696.43 L 103.15 696.09 L 103.62 695.70 L 104.05 695.27 L 104.44 694.80 L 104.80 694.30 L 105.11 693.76 L 105.38 693.20 L 105.61 692.61 L 105.78 692.01 L 105.91 691.39 L 105.99 690.76 L 106.01 690.13 " clip-path="url(#p01bc169258)" style="fill: none; stroke: #552896; stroke-width: 1.25; stroke-linecap: square"/>
</g>
<g id="line2d_180">
<path d="M 123.55 704.57 L 123.46 703.23 L 123.18 701.79 L 122.72 700.26 L 122.09 698.66 L 121.28 696.99 L 120.30 695.27 L 119.16 693.50 L 117.88 691.72 L 116.45 689.92 L 114.89 688.12 L 113.21 686.34 L 111.43 684.59 L 109.55 682.88 L 107.60 681.22 L 105.58 679.63 L 103.52 678.13 L 101.42 676.71 L 99.31 675.39 L 97.20 674.19 L 95.10 673.11 L 93.04 672.16 L 91.02 671.34 L 89.07 670.67 L 87.19 670.15 L 85.41 669.78 L 83.73 669.56 L 82.17 669.50 L 80.74 669.60 L 79.45 669.85 L 78.32 670.25 L 77.34 670.81 L 76.53 671.52 L 75.90 672.37 L 75.44 673.35 L 75.16 674.46 L 75.07 675.69 L 75.16 677.02 L 75.44 678.46 L 75.90 679.99 L 76.53 681.60 L 77.34 683.26 L 78.32 684.99 L 79.45 686.75 L 80.74 688.53 L 82.17 690.33 L 83.73 692.13 L 85.41 693.91 L 87.19 695.66 L 89.07 697.37 L 91.02 699.03 L 93.04 700.62 L 95.10 702.13 L 97.20 703.54 L 99.31 704.86 L 101.42 706.06 L 103.52 707.14 L 105.58 708.09 L 107.60 708.91 L 109.55 709.58 L 111.43 710.10 L 113.21 710.48 L 114.89 710.69 L 116.45 710.75 L 117.88 710.66 L 119.16 710.40 L 120.30 710.00 L 121.28 709.44 L 122.09 708.73 L 122.72 707.89 L 123.18 706.90 L 123.46 705.79 L 123.55 704.57 " clip-path="url(#p01bc169258)" style="fill: none; stroke: #afa028; stroke-width: 1.25; stroke-linecap: square"/>
</g>
<g id="patch_143">
<path d="M 53.40 736.10 L 53.40 644.15 " style="fill: none; stroke: #000000; stroke-width: 0.8; stroke-linejoin: miter; stroke-linecap: square"/>
</g>
<g id="patch_144">
<path d="M 145.22 736.10 L 145.22 644.15 " style="fill: none; stroke: #000000; stroke-width: 0.8; stroke-linejoin: miter; stroke-linecap: square"/>
</g>
<g id="patch_145">
<path d="M 53.40 736.10 L 145.22 736.10 " style="fill: none; stroke: #000000; stroke-width: 0.8; stroke-linejoin: miter; stroke-linecap: square"/>
</g>
<g id="patch_146">
<path d="M 53.40 644.15 L 145.22 644.15 " style="fill: none; stroke: #000000; stroke-width: 0.8; stroke-linejoin: miter; stroke-linecap: square"/>
</g>
</g>
<g id="axes_30">
<g id="patch_147">
<path d="M 145.22 736.10 L 237.04 736.10 L 237.04 644.15 L 145.22 644.15 z
" style="fill: #ffffff"/>
</g>
<g id="matplotlib.axis_59">
<g id="xtick_6">
<g id="line2d_181">
<g>
<use href="#m1504cfccaf" x="150.68" y="736.10" style="stroke: #000000; stroke-width: 0.8"/>
</g>
</g>
<g id="text_44">
<text style="font-size: 10px; font-family: 'Liberation Sans'" transform="translate(140.67 772.39) rotate(-45)" textLength="33.83" lengthAdjust="spacingAndGlyphs">−4000</text>
</g>
</g>
<g id="xtick_7">
<g id="line2d_182">
<g>
<use href="#m1504cfccaf" x="170.91" y="736.10" style="stroke: #000000; stroke-width: 0.8"/>
</g>
</g>
<g id="text_45">
<text style="font-size: 10px; font-family: 'Liberation Sans'" transform="translate(160.90 772.39) rotate(-45)" textLength="33.83" lengthAdjust="spacingAndGlyphs">−2000</text>
</g>
</g>
<g id="xtick_8">
<g id="line2d_183">
<g>
<use href="#m1504cfccaf" x="191.13" y="736.10" style="stroke: #000000; stroke-width: 0.8"/>
</g>
</g>
<g id="text_46">
<text style="font-size: 10px; font-family: 'Liberation Sans'" transform="translate(190.83 752.97) rotate(-45)" textLength="6.36" lengthAdjust="spacingAndGlyphs">0</text>
</g>
</g>
<g id="xtick_9">
<g id="line2d_184">
<g>
<use href="#m1504cfccaf" x="211.36" y="736.10" style="stroke: #000000; stroke-width: 0.8"/>
</g>
</g>
<g id="text_47">
<text style="font-size: 10px; font-family: 'Liberation Sans'" transform="translate(204.31 766.47) rotate(-45)" textLength="25.45" lengthAdjust="spacingAndGlyphs">2000</text>
</g>
</g>
<g id="xtick_10">
<g id="line2d_185">
<g>
<use href="#m1504cfccaf" x="231.58" y="736.10" style="stroke: #000000; stroke-width: 0.8"/>
</g>
</g>
<g id="text_48">
<text style="font-size: 10px; font-family: 'Liberation Sans'" transform="translate(224.53 766.47) rotate(-45)" textLength="25.45" lengthAdjust="spacingAndGlyphs">4000</text>
</g>
</g>
<g id="text_49">
<text style="font-size: 12px; font-family: 'Liberation Sans'; text-anchor: middle" x="189.04" y="786.98" transform="rotate(-0 189.04 786.98)" textLength="33.29" lengthAdjust="spacingAndGlyphs">Equil.</text>
</g>
</g>
<g id="matplotlib.axis_60"/>
<g id="line2d_186">
<path d="M 221.76 698.51 L 221.65 696.16 L 221.30 693.75 L 220.72 691.32 L 219.92 688.89 L 218.89 686.46 L 217.66 684.06 L 216.22 681.70 L 214.60 679.41 L 212.79 677.20 L 210.82 675.09 L 208.70 673.09 L 206.45 671.23 L 204.08 669.50 L 201.61 667.94 L 199.06 666.54 L 196.45 665.32 L 193.80 664.29 L 191.13 663.46 L 188.46 662.83 L 185.81 662.41 L 183.20 662.20 L 180.65 662.20 L 178.18 662.42 L 175.81 662.84 L 173.56 663.47 L 171.44 664.31 L 169.47 665.34 L 167.66 666.56 L 166.04 667.96 L 164.60 669.53 L 163.37 671.26 L 162.35 673.13 L 161.54 675.12 L 160.96 677.24 L 160.61 679.45 L 160.50 681.74 L 160.61 684.10 L 160.96 686.50 L 161.54 688.93 L 162.35 691.37 L 163.37 693.79 L 164.60 696.20 L 166.04 698.55 L 167.66 700.84 L 169.47 703.05 L 171.44 705.16 L 173.56 707.16 L 175.81 709.03 L 178.18 710.75 L 180.65 712.31 L 183.20 713.71 L 185.81 714.93 L 188.46 715.96 L 191.13 716.79 L 193.80 717.42 L 196.45 717.84 L 199.06 718.05 L 201.61 718.05 L 204.08 717.84 L 206.45 717.41 L 208.70 716.78 L 210.82 715.94 L 212.79 714.91 L 214.60 713.69 L 216.22 712.29 L 217.66 710.72 L 218.89 708.99 L 219.92 707.13 L 220.72 705.13 L 221.30 703.01 L 221.65 700.80 L 221.76 698.51 " clip-path="url(#pcd01b2402d)" style="fill: none; stroke: #235fa0; stroke-width: 1.25; stroke-linecap: square"/>
</g>
<g id="line2d_187">
<path d="M 208.77 706.00 L 208.70 705.48 L 208.50 704.85 L 208.17 704.11 L 207.71 703.26 L 207.12 702.31 L 206.41 701.26 L 205.58 700.14 L 204.64 698.93 L 203.60 697.66 L 202.47 696.33 L 201.25 694.96 L 199.95 693.54 L 198.59 692.11 L 197.16 690.65 L 195.70 689.19 L 194.19 687.74 L 192.67 686.31 L 191.13 684.91 L 189.59 683.54 L 188.07 682.23 L 186.57 680.98 L 185.10 679.79 L 183.68 678.69 L 182.31 677.67 L 181.01 676.75 L 179.79 675.93 L 178.66 675.21 L 177.62 674.61 L 176.68 674.13 L 175.86 673.77 L 175.15 673.53 L 174.56 673.43 L 174.09 673.44 L 173.76 673.59 L 173.56 673.86 L 173.49 674.25 L 173.56 674.77 L 173.76 675.40 L 174.09 676.14 L 174.56 676.99 L 175.15 677.94 L 175.86 678.99 L 176.68 680.12 L 177.62 681.32 L 178.66 682.59 L 179.79 683.92 L 181.01 685.30 L 182.31 686.71 L 183.68 688.15 L 185.10 689.60 L 186.57 691.06 L 188.07 692.51 L 189.59 693.94 L 191.13 695.34 L 192.67 696.71 L 194.19 698.02 L 195.70 699.27 L 197.16 700.46 L 198.59 701.56 L 199.95 702.58 L 201.25 703.50 L 202.47 704.33 L 203.60 705.04 L 204.64 705.64 L 205.58 706.12 L 206.41 706.48 L 207.12 706.72 L 207.71 706.83 L 208.17 706.81 L 208.50 706.66 L 208.70 706.39 L 208.77 706.00 " clip-path="url(#pcd01b2402d)" style="fill: none; stroke: #5f9137; stroke-width: 1.25; stroke-linecap: square"/>
</g>
<g id="line2d_188">
<path d="M 200.83 697.29 L 200.79 694.62 L 200.68 691.92 L 200.50 689.20 L 200.24 686.49 L 199.92 683.81 L 199.53 681.17 L 199.07 678.61 L 198.56 676.13 L 197.99 673.76 L 197.36 671.51 L 196.69 669.40 L 195.98 667.46 L 195.23 665.68 L 194.45 664.09 L 193.64 662.70 L 192.81 661.52 L 191.98 660.55 L 191.13 659.81 L 190.29 659.30 L 189.45 659.03 L 188.62 658.99 L 187.82 659.19 L 187.03 659.62 L 186.28 660.29 L 185.57 661.19 L 184.90 662.30 L 184.28 663.63 L 183.70 665.15 L 183.19 666.87 L 182.73 668.76 L 182.34 670.82 L 182.02 673.03 L 181.77 675.36 L 181.58 677.81 L 181.47 680.35 L 181.44 682.96 L 181.47 685.63 L 181.58 688.33 L 181.77 691.05 L 182.02 693.76 L 182.34 696.44 L 182.73 699.08 L 183.19 701.64 L 183.70 704.12 L 184.28 706.49 L 184.90 708.74 L 185.57 710.85 L 186.28 712.80 L 187.03 714.57 L 187.82 716.16 L 188.62 717.55 L 189.45 718.73 L 190.29 719.70 L 191.13 720.44 L 191.98 720.95 L 192.81 721.22 L 193.64 721.26 L 194.45 721.06 L 195.23 720.63 L 195.98 719.96 L 196.69 719.07 L 197.36 717.95 L 197.99 716.63 L 198.56 715.10 L 199.07 713.38 L 199.53 711.49 L 199.92 709.43 L 200.24 707.23 L 200.50 704.89 L 200.68 702.45 L 200.79 699.90 L 200.83 697.29 " clip-path="url(#pcd01b2402d)" style="fill: none; stroke: #aa282d; stroke-width: 1.25; stroke-linecap: square"/>
</g>
<g id="line2d_189">
<path d="M 197.53 695.37 L 197.50 694.91 L 197.43 694.41 L 197.31 693.88 L 197.14 693.32 L 196.93 692.74 L 196.67 692.14 L 196.37 691.52 L 196.03 690.89 L 195.65 690.26 L 195.24 689.63 L 194.80 688.99 L 194.33 688.37 L 193.83 687.76 L 193.32 687.17 L 192.79 686.60 L 192.24 686.06 L 191.69 685.55 L 191.13 685.08 L 190.57 684.64 L 190.02 684.24 L 189.48 683.89 L 188.94 683.59 L 188.43 683.33 L 187.93 683.13 L 187.46 682.98 L 187.02 682.89 L 186.61 682.85 L 186.23 682.87 L 185.89 682.94 L 185.59 683.06 L 185.34 683.24 L 185.12 683.47 L 184.95 683.76 L 184.83 684.09 L 184.76 684.47 L 184.74 684.89 L 184.76 685.35 L 184.83 685.84 L 184.95 686.37 L 185.12 686.93 L 185.34 687.51 L 185.59 688.11 L 185.89 688.73 L 186.23 689.36 L 186.61 689.99 L 187.02 690.63 L 187.46 691.26 L 187.93 691.88 L 188.43 692.49 L 188.94 693.08 L 189.48 693.65 L 190.02 694.19 L 190.57 694.70 L 191.13 695.18 L 191.69 695.61 L 192.24 696.01 L 192.79 696.36 L 193.32 696.66 L 193.83 696.92 L 194.33 697.12 L 194.80 697.27 L 195.24 697.36 L 195.65 697.40 L 196.03 697.39 L 196.37 697.31 L 196.67 697.19 L 196.93 697.01 L 197.14 696.78 L 197.31 696.49 L 197.43 696.16 L 197.50 695.79 L 197.53 695.37 " clip-path="url(#pcd01b2402d)" style="fill: none; stroke: #552896; stroke-width: 1.25; stroke-linecap: square"/>
</g>
<g id="line2d_190">
<path d="M 198.71 690.13 L 198.68 688.33 L 198.60 686.54 L 198.45 684.79 L 198.26 683.07 L 198.00 681.41 L 197.70 679.81 L 197.34 678.29 L 196.94 676.87 L 196.49 675.54 L 196.00 674.32 L 195.48 673.23 L 194.92 672.26 L 194.34 671.43 L 193.72 670.74 L 193.09 670.20 L 192.45 669.81 L 191.79 669.58 L 191.13 669.50 L 190.47 669.58 L 189.81 669.81 L 189.17 670.20 L 188.54 670.74 L 187.93 671.43 L 187.34 672.26 L 186.78 673.23 L 186.26 674.32 L 185.77 675.54 L 185.32 676.87 L 184.92 678.29 L 184.57 679.81 L 184.26 681.41 L 184.01 683.07 L 183.81 684.79 L 183.67 686.54 L 183.58 688.33 L 183.55 690.13 L 183.58 691.92 L 183.67 693.71 L 183.81 695.46 L 184.01 697.18 L 184.26 698.84 L 184.57 700.44 L 184.92 701.96 L 185.32 703.39 L 185.77 704.71 L 186.26 705.93 L 186.78 707.02 L 187.34 707.99 L 187.93 708.82 L 188.54 709.51 L 189.17 710.05 L 189.81 710.44 L 190.47 710.68 L 191.13 710.75 L 191.79 710.68 L 192.45 710.44 L 193.09 710.05 L 193.72 709.51 L 194.34 708.82 L 194.92 707.99 L 195.48 707.02 L 196.00 705.93 L 196.49 704.71 L 196.94 703.39 L 197.34 701.96 L 197.70 700.44 L 198.00 698.84 L 198.26 697.18 L 198.45 695.46 L 198.60 693.71 L 198.68 691.92 L 198.71 690.13 " clip-path="url(#pcd01b2402d)" style="fill: none; stroke: #afa028; stroke-width: 1.25; stroke-linecap: square"/>
</g>
<g id="patch_148">
<path d="M 145.22 736.10 L 145.22 644.15 " style="fill: none; stroke: #000000; stroke-width: 0.8; stroke-linejoin: miter; stroke-linecap: square"/>
</g>
<g id="patch_149">
<path d="M 237.04 736.10 L 237.04 644.15 " style="fill: none; stroke: #000000; stroke-width: 0.8; stroke-linejoin: miter; stroke-linecap: square"/>
</g>
<g id="patch_150">
<path d="M 145.22 736.10 L 237.04 736.10 " style="fill: none; stroke: #000000; stroke-width: 0.8; stroke-linejoin: miter; stroke-linecap: square"/>
</g>
<g id="patch_151">
<path d="M 145.22 644.15 L 237.04 644.15 " style="fill: none; stroke: #000000; stroke-width: 0.8; stroke-linejoin: miter; stroke-linecap: square"/>
</g>
</g>
<g id="axes_31">
<g id="patch_152">
<path d="M 237.04 736.10 L 328.86 736.10 L 328.86 644.15 L 237.04 644.15 z
" style="fill: #ffffff"/>
</g>
<g id="matplotlib.axis_61">
<g id="xtick_11">
<g id="line2d_191">
<g>
<use href="#m1504cfccaf" x="258.76" y="736.10" style="stroke: #000000; stroke-width: 0.8"/>
</g>
</g>
<g id="text_50">
<text style="font-size: 10px; font-family: 'Liberation Sans'" transform="translate(251.00 767.89) rotate(-45)" textLength="27.47" lengthAdjust="spacingAndGlyphs">−800</text>
</g>
</g>
<g id="xtick_12">
<g id="line2d_192">
<g>
<use href="#m1504cfccaf" x="282.95" y="736.10" style="stroke: #000000; stroke-width: 0.8"/>
</g>
</g>
<g id="text_51">
<text style="font-size: 10px; font-family: 'Liberation Sans'" transform="translate(282.65 752.97) rotate(-45)" textLength="6.36" lengthAdjust="spacingAndGlyphs">0</text>
</g>
</g>
<g id="xtick_13">
<g id="line2d_193">
<g>
<use href="#m1504cfccaf" x="307.15" y="736.10" style="stroke: #000000; stroke-width: 0.8"/>
</g>
</g>
<g id="text_52">
<text style="font-size: 10px; font-family: 'Liberation Sans'" transform="translate(302.35 761.97) rotate(-45)" textLength="19.09" lengthAdjust="spacingAndGlyphs">800</text>
</g>
</g>
<g id="text_53">
<text style="font-size: 12px; font-family: 'Liberation Sans'; text-anchor: middle" x="280.86" y="782.48" transform="rotate(-0 280.86 782.48)" textLength="64.38" lengthAdjust="spacingAndGlyphs">Orth. - LSS</text>
</g>
</g>
<g id="matplotlib.axis_62"/>
<g id="line2d_194">
<path d="M 314.21 683.42 L 314.09 681.08 L 313.73 678.81 L 313.14 676.62 L 312.32 674.54 L 311.28 672.58 L 310.02 670.75 L 308.55 669.07 L 306.89 667.54 L 305.05 666.20 L 303.04 665.03 L 300.88 664.05 L 298.58 663.27 L 296.16 662.70 L 293.64 662.33 L 291.04 662.18 L 288.38 662.24 L 285.68 662.51 L 282.95 662.99 L 280.23 663.68 L 277.53 664.57 L 274.86 665.65 L 272.26 666.92 L 269.75 668.37 L 267.33 669.98 L 265.03 671.75 L 262.86 673.65 L 260.85 675.68 L 259.01 677.82 L 257.35 680.06 L 255.89 682.37 L 254.63 684.74 L 253.59 687.15 L 252.77 689.58 L 252.18 692.02 L 251.82 694.44 L 251.70 696.83 L 251.82 699.17 L 252.18 701.44 L 252.77 703.63 L 253.59 705.71 L 254.63 707.67 L 255.89 709.50 L 257.35 711.19 L 259.01 712.71 L 260.85 714.06 L 262.86 715.22 L 265.03 716.20 L 267.33 716.98 L 269.75 717.55 L 272.26 717.92 L 274.86 718.07 L 277.53 718.01 L 280.23 717.74 L 282.95 717.26 L 285.68 716.57 L 288.38 715.68 L 291.04 714.60 L 293.64 713.33 L 296.16 711.88 L 298.58 710.27 L 300.88 708.51 L 303.04 706.60 L 305.05 704.57 L 306.89 702.43 L 308.55 700.19 L 310.02 697.88 L 311.28 695.51 L 312.32 693.10 L 313.14 690.67 L 313.73 688.23 L 314.09 685.81 L 314.21 683.42 " clip-path="url(#p8dc10f9a93)" style="fill: none; stroke: #235fa0; stroke-width: 1.25; stroke-linecap: square"/>
</g>
<g id="line2d_195">
<path d="M 307.60 690.13 L 307.51 688.67 L 307.23 687.22 L 306.76 685.80 L 306.12 684.41 L 305.29 683.06 L 304.30 681.77 L 303.15 680.54 L 301.84 679.39 L 300.38 678.31 L 298.80 677.33 L 297.09 676.44 L 295.28 675.66 L 293.37 674.98 L 291.38 674.42 L 289.33 673.99 L 287.23 673.67 L 285.10 673.48 L 282.95 673.42 L 280.80 673.48 L 278.67 673.67 L 276.57 673.99 L 274.52 674.42 L 272.54 674.98 L 270.63 675.66 L 268.81 676.44 L 267.11 677.33 L 265.52 678.31 L 264.07 679.39 L 262.76 680.54 L 261.61 681.77 L 260.61 683.06 L 259.79 684.41 L 259.14 685.80 L 258.68 687.22 L 258.40 688.67 L 258.30 690.13 L 258.40 691.58 L 258.68 693.03 L 259.14 694.45 L 259.79 695.84 L 260.61 697.19 L 261.61 698.48 L 262.76 699.71 L 264.07 700.87 L 265.52 701.94 L 267.11 702.93 L 268.81 703.81 L 270.63 704.60 L 272.54 705.27 L 274.52 705.83 L 276.57 706.27 L 278.67 706.58 L 280.80 706.77 L 282.95 706.83 L 285.10 706.77 L 287.23 706.58 L 289.33 706.27 L 291.38 705.83 L 293.37 705.27 L 295.28 704.60 L 297.09 703.81 L 298.80 702.93 L 300.38 701.94 L 301.84 700.87 L 303.15 699.71 L 304.30 698.48 L 305.29 697.19 L 306.12 695.84 L 306.76 694.45 L 307.23 693.03 L 307.51 691.58 L 307.60 690.13 " clip-path="url(#p8dc10f9a93)" style="fill: none; stroke: #5f9137; stroke-width: 1.25; stroke-linecap: square"/>
</g>
<g id="line2d_196">
<path d="M 293.27 667.70 L 293.23 665.90 L 293.11 664.29 L 292.92 662.87 L 292.65 661.66 L 292.30 660.66 L 291.89 659.90 L 291.40 659.36 L 290.85 659.05 L 290.25 658.98 L 289.58 659.15 L 288.87 659.56 L 288.11 660.19 L 287.31 661.06 L 286.48 662.14 L 285.62 663.44 L 284.74 664.94 L 283.85 666.64 L 282.95 668.51 L 282.05 670.55 L 281.16 672.73 L 280.28 675.05 L 279.43 677.48 L 278.59 680.01 L 277.80 682.62 L 277.04 685.28 L 276.32 687.98 L 275.66 690.70 L 275.05 693.41 L 274.50 696.10 L 274.02 698.74 L 273.61 701.32 L 273.26 703.81 L 272.99 706.19 L 272.80 708.46 L 272.68 710.58 L 272.64 712.55 L 272.68 714.35 L 272.80 715.97 L 272.99 717.38 L 273.26 718.59 L 273.61 719.59 L 274.02 720.36 L 274.50 720.90 L 275.05 721.20 L 275.66 721.27 L 276.32 721.10 L 277.04 720.70 L 277.80 720.06 L 278.59 719.20 L 279.43 718.11 L 280.28 716.81 L 281.16 715.31 L 282.05 713.61 L 282.95 711.74 L 283.85 709.71 L 284.74 707.52 L 285.62 705.20 L 286.48 702.77 L 287.31 700.24 L 288.11 697.63 L 288.87 694.97 L 289.58 692.27 L 290.25 689.55 L 290.85 686.84 L 291.40 684.15 L 291.89 681.51 L 292.30 678.94 L 292.65 676.44 L 292.92 674.06 L 293.11 671.79 L 293.23 669.67 L 293.27 667.70 " clip-path="url(#p8dc10f9a93)" style="fill: none; stroke: #aa282d; stroke-width: 1.25; stroke-linecap: square"/>
</g>
<g id="line2d_197">
<path d="M 288.01 687.21 L 287.99 686.64 L 287.93 686.10 L 287.84 685.59 L 287.70 685.11 L 287.53 684.67 L 287.33 684.27 L 287.09 683.92 L 286.83 683.61 L 286.53 683.35 L 286.20 683.15 L 285.85 682.99 L 285.48 682.89 L 285.09 682.85 L 284.68 682.86 L 284.26 682.93 L 283.83 683.05 L 283.39 683.23 L 282.95 683.46 L 282.51 683.74 L 282.08 684.06 L 281.64 684.44 L 281.22 684.85 L 280.82 685.31 L 280.43 685.81 L 280.05 686.33 L 279.70 686.89 L 279.38 687.47 L 279.08 688.07 L 278.81 688.68 L 278.58 689.31 L 278.37 689.95 L 278.20 690.58 L 278.07 691.21 L 277.98 691.83 L 277.92 692.44 L 277.90 693.04 L 277.92 693.61 L 277.98 694.15 L 278.07 694.66 L 278.20 695.14 L 278.37 695.58 L 278.58 695.98 L 278.81 696.34 L 279.08 696.64 L 279.38 696.90 L 279.70 697.11 L 280.05 697.26 L 280.43 697.36 L 280.82 697.40 L 281.22 697.39 L 281.64 697.32 L 282.08 697.20 L 282.51 697.02 L 282.95 696.80 L 283.39 696.52 L 283.83 696.19 L 284.26 695.82 L 284.68 695.40 L 285.09 694.94 L 285.48 694.45 L 285.85 693.92 L 286.20 693.36 L 286.53 692.78 L 286.83 692.18 L 287.09 691.57 L 287.33 690.94 L 287.53 690.31 L 287.70 689.67 L 287.84 689.04 L 287.93 688.42 L 287.99 687.81 L 288.01 687.21 " clip-path="url(#p8dc10f9a93)" style="fill: none; stroke: #552896; stroke-width: 1.25; stroke-linecap: square"/>
</g>
<g id="line2d_198">
<path d="M 289.14 675.69 L 289.12 674.46 L 289.05 673.35 L 288.93 672.37 L 288.77 671.52 L 288.56 670.81 L 288.31 670.25 L 288.02 669.85 L 287.69 669.60 L 287.33 669.50 L 286.93 669.56 L 286.50 669.78 L 286.05 670.15 L 285.57 670.67 L 285.07 671.34 L 284.55 672.16 L 284.03 673.11 L 283.49 674.19 L 282.95 675.39 L 282.41 676.71 L 281.88 678.13 L 281.35 679.63 L 280.84 681.22 L 280.34 682.88 L 279.86 684.59 L 279.40 686.34 L 278.98 688.12 L 278.58 689.92 L 278.21 691.72 L 277.88 693.50 L 277.59 695.27 L 277.34 696.99 L 277.14 698.66 L 276.98 700.26 L 276.86 701.79 L 276.79 703.23 L 276.76 704.57 L 276.79 705.79 L 276.86 706.90 L 276.98 707.89 L 277.14 708.73 L 277.34 709.44 L 277.59 710.00 L 277.88 710.40 L 278.21 710.66 L 278.58 710.75 L 278.98 710.69 L 279.40 710.48 L 279.86 710.10 L 280.34 709.58 L 280.84 708.91 L 281.35 708.09 L 281.88 707.14 L 282.41 706.06 L 282.95 704.86 L 283.49 703.54 L 284.03 702.13 L 284.55 700.62 L 285.07 699.03 L 285.57 697.37 L 286.05 695.66 L 286.50 693.91 L 286.93 692.13 L 287.33 690.33 L 287.69 688.53 L 288.02 686.75 L 288.31 684.99 L 288.56 683.26 L 288.77 681.60 L 288.93 679.99 L 289.05 678.46 L 289.12 677.02 L 289.14 675.69 " clip-path="url(#p8dc10f9a93)" style="fill: none; stroke: #afa028; stroke-width: 1.25; stroke-linecap: square"/>
</g>
<g id="patch_153">
<path d="M 237.04 736.10 L 237.04 644.15 " style="fill: none; stroke: #000000; stroke-width: 0.8; stroke-linejoin: miter; stroke-linecap: square"/>
</g>
<g id="patch_154">
<path d="M 328.86 736.10 L 328.86 644.15 " style="fill: none; stroke: #000000; stroke-width: 0.8; stroke-linejoin: miter; stroke-linecap: square"/>
</g>
<g id="patch_155">
<path d="M 237.04 736.10 L 328.86 736.10 " style="fill: none; stroke: #000000; stroke-width: 0.8; stroke-linejoin: miter; stroke-linecap: square"/>
</g>
<g id="patch_156">
<path d="M 237.04 644.15 L 328.86 644.15 " style="fill: none; stroke: #000000; stroke-width: 0.8; stroke-linejoin: miter; stroke-linecap: square"/>
</g>
</g>
<g id="axes_32">
<g id="patch_157">
<path d="M 328.86 736.10 L 420.69 736.10 L 420.69 644.15 L 328.86 644.15 z
" style="fill: #ffffff"/>
</g>
<g id="matplotlib.axis_63">
<g id="xtick_14">
<g id="line2d_199">
<g>
<use href="#m1504cfccaf" x="331.64" y="736.10" style="stroke: #000000; stroke-width: 0.8"/>
</g>
</g>
<g id="text_54">
<text style="font-size: 10px; font-family: 'Liberation Sans'" transform="translate(327.97 759.72) rotate(-45)" textLength="15.90" lengthAdjust="spacingAndGlyphs">2.4</text>
</g>
</g>
<g id="xtick_15">
<g id="line2d_200">
<g>
<use href="#m1504cfccaf" x="353.21" y="736.10" style="stroke: #000000; stroke-width: 0.8"/>
</g>
</g>
<g id="text_55">
<text style="font-size: 10px; font-family: 'Liberation Sans'" transform="translate(349.54 759.72) rotate(-45)" textLength="15.90" lengthAdjust="spacingAndGlyphs">2.8</text>
</g>
</g>
<g id="xtick_16">
<g id="line2d_201">
<g>
<use href="#m1504cfccaf" x="374.78" y="736.10" style="stroke: #000000; stroke-width: 0.8"/>
</g>
</g>
<g id="text_56">
<text style="font-size: 10px; font-family: 'Liberation Sans'" transform="translate(371.10 759.72) rotate(-45)" textLength="15.90" lengthAdjust="spacingAndGlyphs">3.2</text>
</g>
</g>
<g id="xtick_17">
<g id="line2d_202">
<g>
<use href="#m1504cfccaf" x="396.34" y="736.10" style="stroke: #000000; stroke-width: 0.8"/>
</g>
</g>
<g id="text_57">
<text style="font-size: 10px; font-family: 'Liberation Sans'" transform="translate(392.67 759.72) rotate(-45)" textLength="15.90" lengthAdjust="spacingAndGlyphs">3.6</text>
</g>
</g>
<g id="xtick_18">
<g id="line2d_203">
<g>
<use href="#m1504cfccaf" x="417.91" y="736.10" style="stroke: #000000; stroke-width: 0.8"/>
</g>
</g>
<g id="text_58">
<text style="font-size: 10px; font-family: 'Liberation Sans'" transform="translate(414.24 759.72) rotate(-45)" textLength="15.90" lengthAdjust="spacingAndGlyphs">4.0</text>
</g>
</g>
<g id="text_59">
<!-- M$_{\rm min}$ -->
<g transform="translate(359.36 774.31)">
<text>
<tspan x="0" y="-0.25" style="font-size: 12px; font-family: 'Liberation Sans'" textLength="10.35" lengthAdjust="spacingAndGlyphs">M</tspan>
<tspan x="10.46" y="1.71" style="font-size: 8.4px; font-family: 'Liberation Sans'" textLength="8.18" lengthAdjust="spacingAndGlyphs">m</tspan>
<tspan x="18.65" y="1.71" style="font-size: 8.4px; font-family: 'Liberation Sans'" textLength="2.33" lengthAdjust="spacingAndGlyphs">i</tspan>
<tspan x="20.98" y="1.71" style="font-size: 8.4px; font-family: 'Liberation Sans'" textLength="5.32" lengthAdjust="spacingAndGlyphs">n</tspan>
</text>
</g>
</g>
</g>
<g id="matplotlib.axis_64"/>
<g id="line2d_204">
<path d="M 405.82 692.64 L 405.70 690.21 L 405.35 687.77 L 404.76 685.35 L 403.95 682.97 L 402.91 680.64 L 401.66 678.39 L 400.21 676.22 L 398.56 674.16 L 396.73 672.22 L 394.73 670.42 L 392.58 668.76 L 390.30 667.27 L 387.90 665.96 L 385.39 664.83 L 382.81 663.89 L 380.17 663.15 L 377.48 662.61 L 374.78 662.29 L 372.07 662.17 L 369.38 662.27 L 366.74 662.58 L 364.16 663.11 L 361.65 663.83 L 359.25 664.76 L 356.97 665.88 L 354.82 667.18 L 352.82 668.66 L 350.99 670.30 L 349.34 672.10 L 347.89 674.03 L 346.64 676.08 L 345.60 678.24 L 344.79 680.49 L 344.20 682.81 L 343.85 685.19 L 343.73 687.61 L 343.85 690.05 L 344.20 692.48 L 344.79 694.90 L 345.60 697.28 L 346.64 699.61 L 347.89 701.87 L 349.34 704.03 L 350.99 706.09 L 352.82 708.03 L 354.82 709.83 L 356.97 711.49 L 359.25 712.98 L 361.65 714.29 L 364.16 715.43 L 366.74 716.36 L 369.38 717.10 L 372.07 717.64 L 374.78 717.96 L 377.48 718.08 L 380.17 717.98 L 382.81 717.67 L 385.39 717.15 L 387.90 716.42 L 390.30 715.49 L 392.58 714.37 L 394.73 713.07 L 396.73 711.59 L 398.56 709.95 L 400.21 708.15 L 401.66 706.22 L 402.91 704.17 L 403.95 702.01 L 404.76 699.76 L 405.35 697.44 L 405.70 695.06 L 405.82 692.64 " clip-path="url(#p59bed796c0)" style="fill: none; stroke: #235fa0; stroke-width: 1.25; stroke-linecap: square"/>
</g>
<g id="line2d_205">
<path d="M 394.27 690.13 L 394.19 688.67 L 393.97 687.22 L 393.60 685.80 L 393.09 684.41 L 392.44 683.06 L 391.66 681.77 L 390.74 680.54 L 389.71 679.39 L 388.56 678.31 L 387.31 677.33 L 385.96 676.44 L 384.52 675.66 L 383.01 674.98 L 381.44 674.42 L 379.82 673.99 L 378.16 673.67 L 376.47 673.48 L 374.78 673.42 L 373.08 673.48 L 371.39 673.67 L 369.73 673.99 L 368.11 674.42 L 366.54 674.98 L 365.03 675.66 L 363.59 676.44 L 362.25 677.33 L 360.99 678.31 L 359.84 679.39 L 358.81 680.54 L 357.89 681.77 L 357.11 683.06 L 356.46 684.41 L 355.95 685.80 L 355.58 687.22 L 355.36 688.67 L 355.28 690.13 L 355.36 691.58 L 355.58 693.03 L 355.95 694.45 L 356.46 695.84 L 357.11 697.19 L 357.89 698.48 L 358.81 699.71 L 359.84 700.87 L 360.99 701.94 L 362.25 702.93 L 363.59 703.81 L 365.03 704.60 L 366.54 705.27 L 368.11 705.83 L 369.73 706.27 L 371.39 706.58 L 373.08 706.77 L 374.78 706.83 L 376.47 706.77 L 378.16 706.58 L 379.82 706.27 L 381.44 705.83 L 383.01 705.27 L 384.52 704.60 L 385.96 703.81 L 387.31 702.93 L 388.56 701.94 L 389.71 700.87 L 390.74 699.71 L 391.66 698.48 L 392.44 697.19 L 393.09 695.84 L 393.60 694.45 L 393.97 693.03 L 394.19 691.58 L 394.27 690.13 " clip-path="url(#p59bed796c0)" style="fill: none; stroke: #5f9137; stroke-width: 1.25; stroke-linecap: square"/>
</g>
<g id="line2d_206">
<path d="M 404.58 687.63 L 404.47 684.94 L 404.13 682.28 L 403.57 679.68 L 402.78 677.16 L 401.79 674.75 L 400.59 672.44 L 399.19 670.28 L 397.61 668.26 L 395.85 666.41 L 393.93 664.74 L 391.87 663.26 L 389.68 661.99 L 387.37 660.93 L 384.97 660.10 L 382.49 659.49 L 379.95 659.12 L 377.37 658.98 L 374.78 659.08 L 372.18 659.41 L 369.60 659.98 L 367.06 660.78 L 364.58 661.80 L 362.18 663.04 L 359.87 664.48 L 357.68 666.12 L 355.62 667.94 L 353.70 669.93 L 351.94 672.08 L 350.36 674.36 L 348.96 676.76 L 347.76 679.26 L 346.77 681.85 L 345.98 684.50 L 345.42 687.19 L 345.08 689.90 L 344.97 692.62 L 345.08 695.31 L 345.42 697.97 L 345.98 700.57 L 346.77 703.09 L 347.76 705.51 L 348.96 707.81 L 350.36 709.98 L 351.94 711.99 L 353.70 713.84 L 355.62 715.51 L 357.68 716.99 L 359.87 718.26 L 362.18 719.32 L 364.58 720.15 L 367.06 720.76 L 369.60 721.14 L 372.18 721.27 L 374.78 721.17 L 377.37 720.84 L 379.95 720.27 L 382.49 719.47 L 384.97 718.45 L 387.37 717.21 L 389.68 715.77 L 391.87 714.13 L 393.93 712.31 L 395.85 710.32 L 397.61 708.17 L 399.19 705.89 L 400.59 703.49 L 401.79 700.99 L 402.78 698.40 L 403.57 695.75 L 404.13 693.06 L 404.47 690.35 L 404.58 687.63 " clip-path="url(#p59bed796c0)" style="fill: none; stroke: #aa282d; stroke-width: 1.25; stroke-linecap: square"/>
</g>
<g id="line2d_207">
<path d="M 390.56 688.31 L 390.50 687.70 L 390.32 687.11 L 390.02 686.54 L 389.60 686.01 L 389.08 685.50 L 388.44 685.03 L 387.70 684.59 L 386.86 684.20 L 385.93 683.86 L 384.92 683.56 L 383.83 683.31 L 382.67 683.11 L 381.44 682.97 L 380.17 682.88 L 378.86 682.85 L 377.52 682.87 L 376.15 682.95 L 374.78 683.08 L 373.40 683.26 L 372.03 683.50 L 370.69 683.79 L 369.38 684.13 L 368.11 684.51 L 366.88 684.93 L 365.72 685.40 L 364.63 685.90 L 363.62 686.43 L 362.69 686.99 L 361.85 687.57 L 361.11 688.18 L 360.47 688.80 L 359.95 689.43 L 359.53 690.06 L 359.23 690.69 L 359.05 691.32 L 358.99 691.95 L 359.05 692.55 L 359.23 693.14 L 359.53 693.71 L 359.95 694.25 L 360.47 694.75 L 361.11 695.22 L 361.85 695.66 L 362.69 696.05 L 363.62 696.39 L 364.63 696.69 L 365.72 696.94 L 366.88 697.14 L 368.11 697.28 L 369.38 697.37 L 370.69 697.40 L 372.03 697.38 L 373.40 697.30 L 374.78 697.17 L 376.15 696.99 L 377.52 696.75 L 378.86 696.46 L 380.17 696.13 L 381.44 695.74 L 382.67 695.32 L 383.83 694.85 L 384.92 694.35 L 385.93 693.82 L 386.86 693.26 L 387.70 692.68 L 388.44 692.07 L 389.08 691.45 L 389.60 690.83 L 390.02 690.19 L 390.32 689.56 L 390.50 688.93 L 390.56 688.31 " clip-path="url(#p59bed796c0)" style="fill: none; stroke: #552896; stroke-width: 1.25; stroke-linecap: square"/>
</g>
<g id="line2d_208">
<path d="M 395.20 692.19 L 395.12 690.39 L 394.89 688.59 L 394.50 686.81 L 393.97 685.04 L 393.28 683.32 L 392.46 681.65 L 391.50 680.04 L 390.42 678.51 L 389.22 677.07 L 387.90 675.73 L 386.49 674.50 L 384.99 673.38 L 383.41 672.40 L 381.76 671.54 L 380.06 670.83 L 378.32 670.27 L 376.55 669.86 L 374.78 669.60 L 373.00 669.50 L 371.23 669.55 L 369.49 669.77 L 367.79 670.13 L 366.14 670.65 L 364.56 671.32 L 363.06 672.13 L 361.65 673.08 L 360.33 674.15 L 359.13 675.35 L 358.05 676.66 L 357.09 678.08 L 356.27 679.58 L 355.58 681.17 L 355.05 682.82 L 354.66 684.53 L 354.43 686.28 L 354.35 688.06 L 354.43 689.86 L 354.66 691.66 L 355.05 693.45 L 355.58 695.21 L 356.27 696.93 L 357.09 698.60 L 358.05 700.21 L 359.13 701.74 L 360.33 703.18 L 361.65 704.52 L 363.06 705.76 L 364.56 706.87 L 366.14 707.86 L 367.79 708.71 L 369.49 709.42 L 371.23 709.98 L 373.00 710.39 L 374.78 710.65 L 376.55 710.75 L 378.32 710.70 L 380.06 710.49 L 381.76 710.12 L 383.41 709.60 L 384.99 708.93 L 386.49 708.12 L 387.90 707.17 L 389.22 706.10 L 390.42 704.90 L 391.50 703.59 L 392.46 702.17 L 393.28 700.67 L 393.97 699.08 L 394.50 697.43 L 394.89 695.72 L 395.12 693.97 L 395.20 692.19 " clip-path="url(#p59bed796c0)" style="fill: none; stroke: #afa028; stroke-width: 1.25; stroke-linecap: square"/>
</g>
<g id="patch_158">
<path d="M 328.86 736.10 L 328.86 644.15 " style="fill: none; stroke: #000000; stroke-width: 0.8; stroke-linejoin: miter; stroke-linecap: square"/>
</g>
<g id="patch_159">
<path d="M 420.69 736.10 L 420.69 644.15 " style="fill: none; stroke: #000000; stroke-width: 0.8; stroke-linejoin: miter; stroke-linecap: square"/>
</g>
<g id="patch_160">
<path d="M 328.86 736.10 L 420.69 736.10 " style="fill: none; stroke: #000000; stroke-width: 0.8; stroke-linejoin: miter; stroke-linecap: square"/>
</g>
<g id="patch_161">
<path d="M 328.86 644.15 L 420.69 644.15 " style="fill: none; stroke: #000000; stroke-width: 0.8; stroke-linejoin: miter; stroke-linecap: square"/>
</g>
</g>
<g id="axes_33">
<g id="patch_162">
<path d="M 420.69 736.10 L 512.51 736.10 L 512.51 644.15 L 420.69 644.15 z
" style="fill: #ffffff"/>
</g>
<g id="matplotlib.axis_65">
<g id="xtick_19">
<g id="line2d_209">
<g>
<use href="#m1504cfccaf" x="427.70" y="736.10" style="stroke: #000000; stroke-width: 0.8"/>
</g>
</g>
<g id="text_60">
<text style="font-size: 10px; font-family: 'Liberation Sans'" transform="translate(421.78 764.22) rotate(-45)" textLength="22.27" lengthAdjust="spacingAndGlyphs">0.45</text>
</g>
</g>
<g id="xtick_20">
<g id="line2d_210">
<g>
<use href="#m1504cfccaf" x="454.09" y="736.10" style="stroke: #000000; stroke-width: 0.8"/>
</g>
</g>
<g id="text_61">
<text style="font-size: 10px; font-family: 'Liberation Sans'" transform="translate(448.17 764.22) rotate(-45)" textLength="22.27" lengthAdjust="spacingAndGlyphs">0.60</text>
</g>
</g>
<g id="xtick_21">
<g id="line2d_211">
<g>
<use href="#m1504cfccaf" x="480.48" y="736.10" style="stroke: #000000; stroke-width: 0.8"/>
</g>
</g>
<g id="text_62">
<text style="font-size: 10px; font-family: 'Liberation Sans'" transform="translate(474.56 764.22) rotate(-45)" textLength="22.27" lengthAdjust="spacingAndGlyphs">0.75</text>
</g>
</g>
<g id="xtick_22">
<g id="line2d_212">
<g>
<use href="#m1504cfccaf" x="506.86" y="736.10" style="stroke: #000000; stroke-width: 0.8"/>
</g>
</g>
<g id="text_63">
<text style="font-size: 10px; font-family: 'Liberation Sans'" transform="translate(500.94 764.22) rotate(-45)" textLength="22.27" lengthAdjust="spacingAndGlyphs">0.90</text>
</g>
</g>
<g id="text_64">
<text style="font-size: 12px; font-family: 'Liberation Sans'; text-anchor: middle" x="464.50" y="778.81" transform="rotate(-0 464.50 778.81)" textLength="7.61" lengthAdjust="spacingAndGlyphs">h</text>
</g>
</g>
<g id="matplotlib.axis_66"/>
<g id="line2d_213">
<path d="M 497.95 684.82 L 497.83 682.44 L 497.48 680.13 L 496.88 677.89 L 496.06 675.75 L 495.01 673.71 L 493.75 671.81 L 492.28 670.04 L 490.62 668.42 L 488.77 666.97 L 486.75 665.69 L 484.58 664.60 L 482.27 663.70 L 479.85 663.01 L 477.32 662.52 L 474.71 662.24 L 472.04 662.18 L 469.33 662.32 L 466.60 662.68 L 463.86 663.25 L 461.15 664.02 L 458.48 664.99 L 455.87 666.15 L 453.35 667.50 L 450.92 669.02 L 448.61 670.69 L 446.44 672.52 L 444.43 674.48 L 442.58 676.55 L 440.91 678.74 L 439.44 681.00 L 438.18 683.34 L 437.13 685.73 L 436.31 688.15 L 435.72 690.59 L 435.36 693.02 L 435.24 695.44 L 435.36 697.81 L 435.72 700.12 L 436.31 702.36 L 437.13 704.50 L 438.18 706.54 L 439.44 708.45 L 440.91 710.22 L 442.58 711.83 L 444.43 713.29 L 446.44 714.56 L 448.61 715.65 L 450.92 716.55 L 453.35 717.24 L 455.87 717.73 L 458.48 718.01 L 461.15 718.07 L 463.86 717.93 L 466.60 717.57 L 469.33 717.00 L 472.04 716.23 L 474.71 715.26 L 477.32 714.10 L 479.85 712.75 L 482.27 711.24 L 484.58 709.56 L 486.75 707.73 L 488.77 705.78 L 490.62 703.70 L 492.28 701.52 L 493.75 699.25 L 495.01 696.91 L 496.06 694.52 L 496.88 692.10 L 497.48 689.66 L 497.83 687.23 L 497.95 684.82 " clip-path="url(#pc08238e7de)" style="fill: none; stroke: #235fa0; stroke-width: 1.25; stroke-linecap: square"/>
</g>
<g id="line2d_214">
<path d="M 492.18 681.44 L 492.08 680.23 L 491.79 679.09 L 491.30 678.04 L 490.63 677.08 L 489.78 676.22 L 488.75 675.47 L 487.55 674.82 L 486.19 674.30 L 484.68 673.89 L 483.04 673.61 L 481.27 673.45 L 479.39 673.42 L 477.41 673.52 L 475.35 673.74 L 473.22 674.09 L 471.04 674.56 L 468.83 675.15 L 466.60 675.85 L 464.37 676.67 L 462.16 677.58 L 459.98 678.59 L 457.85 679.69 L 455.79 680.86 L 453.81 682.11 L 451.93 683.42 L 450.16 684.78 L 448.51 686.18 L 447.00 687.61 L 445.64 689.06 L 444.44 690.51 L 443.41 691.97 L 442.56 693.41 L 441.89 694.82 L 441.41 696.20 L 441.12 697.54 L 441.02 698.81 L 441.12 700.03 L 441.41 701.16 L 441.89 702.21 L 442.56 703.17 L 443.41 704.03 L 444.44 704.79 L 445.64 705.43 L 447.00 705.96 L 448.51 706.36 L 450.16 706.64 L 451.93 706.80 L 453.81 706.83 L 455.79 706.73 L 457.85 706.51 L 459.98 706.16 L 462.16 705.69 L 464.37 705.10 L 466.60 704.40 L 468.83 703.59 L 471.04 702.67 L 473.22 701.66 L 475.35 700.57 L 477.41 699.39 L 479.39 698.14 L 481.27 696.83 L 483.04 695.47 L 484.68 694.07 L 486.19 692.64 L 487.55 691.19 L 488.75 689.74 L 489.78 688.28 L 490.63 686.84 L 491.30 685.43 L 491.79 684.05 L 492.08 682.71 L 492.18 681.44 " clip-path="url(#pc08238e7de)" style="fill: none; stroke: #5f9137; stroke-width: 1.25; stroke-linecap: square"/>
</g>
<g id="line2d_215">
<path d="M 491.97 692.62 L 491.87 689.90 L 491.58 687.19 L 491.11 684.50 L 490.44 681.85 L 489.59 679.26 L 488.57 676.76 L 487.38 674.36 L 486.03 672.08 L 484.54 669.93 L 482.91 667.94 L 481.15 666.12 L 479.28 664.48 L 477.32 663.04 L 475.28 661.80 L 473.16 660.78 L 471.00 659.98 L 468.81 659.41 L 466.60 659.08 L 464.39 658.98 L 462.19 659.12 L 460.03 659.49 L 457.92 660.10 L 455.87 660.93 L 453.91 661.99 L 452.04 663.26 L 450.29 664.74 L 448.66 666.41 L 447.16 668.26 L 445.81 670.28 L 444.62 672.44 L 443.60 674.75 L 442.75 677.16 L 442.09 679.68 L 441.61 682.28 L 441.32 684.94 L 441.22 687.63 L 441.32 690.35 L 441.61 693.06 L 442.09 695.75 L 442.75 698.40 L 443.60 700.99 L 444.62 703.49 L 445.81 705.89 L 447.16 708.17 L 448.66 710.32 L 450.29 712.31 L 452.04 714.13 L 453.91 715.77 L 455.87 717.21 L 457.92 718.45 L 460.03 719.47 L 462.19 720.27 L 464.39 720.84 L 466.60 721.17 L 468.81 721.27 L 471.00 721.14 L 473.16 720.76 L 475.28 720.15 L 477.32 719.32 L 479.28 718.26 L 481.15 716.99 L 482.91 715.51 L 484.54 713.84 L 486.03 711.99 L 487.38 709.98 L 488.57 707.81 L 489.59 705.51 L 490.44 703.09 L 491.11 700.57 L 491.58 697.97 L 491.87 695.31 L 491.97 692.62 " clip-path="url(#pc08238e7de)" style="fill: none; stroke: #aa282d; stroke-width: 1.25; stroke-linecap: square"/>
</g>
<g id="line2d_216">
<path d="M 483.51 687.72 L 483.45 687.13 L 483.26 686.57 L 482.94 686.03 L 482.49 685.52 L 481.93 685.05 L 481.25 684.61 L 480.45 684.22 L 479.55 683.87 L 478.56 683.57 L 477.47 683.32 L 476.30 683.12 L 475.05 682.98 L 473.75 682.88 L 472.38 682.85 L 470.98 682.87 L 469.53 682.94 L 468.07 683.07 L 466.60 683.26 L 465.12 683.49 L 463.66 683.78 L 462.22 684.11 L 460.81 684.49 L 459.45 684.91 L 458.14 685.38 L 456.89 685.88 L 455.72 686.41 L 454.64 686.97 L 453.64 687.55 L 452.74 688.15 L 451.95 688.77 L 451.27 689.40 L 450.70 690.03 L 450.26 690.67 L 449.94 691.30 L 449.75 691.92 L 449.68 692.53 L 449.75 693.12 L 449.94 693.68 L 450.26 694.22 L 450.70 694.73 L 451.27 695.21 L 451.95 695.64 L 452.74 696.03 L 453.64 696.38 L 454.64 696.68 L 455.72 696.93 L 456.89 697.13 L 458.14 697.28 L 459.45 697.37 L 460.81 697.40 L 462.22 697.38 L 463.66 697.31 L 465.12 697.18 L 466.60 697.00 L 468.07 696.76 L 469.53 696.47 L 470.98 696.14 L 472.38 695.76 L 473.75 695.34 L 475.05 694.87 L 476.30 694.38 L 477.47 693.84 L 478.56 693.29 L 479.55 692.70 L 480.45 692.10 L 481.25 691.48 L 481.93 690.85 L 482.49 690.22 L 482.94 689.58 L 483.26 688.95 L 483.45 688.33 L 483.51 687.72 " clip-path="url(#pc08238e7de)" style="fill: none; stroke: #552896; stroke-width: 1.25; stroke-linecap: square"/>
</g>
<g id="line2d_217">
<path d="M 484.44 692.60 L 484.37 690.81 L 484.17 689.01 L 483.83 687.22 L 483.36 685.45 L 482.77 683.71 L 482.05 682.03 L 481.21 680.41 L 480.27 678.86 L 479.21 677.40 L 478.07 676.03 L 476.83 674.77 L 475.52 673.63 L 474.14 672.61 L 472.70 671.73 L 471.22 670.99 L 469.70 670.39 L 468.15 669.94 L 466.60 669.65 L 465.04 669.51 L 463.50 669.53 L 461.98 669.70 L 460.49 670.04 L 459.06 670.52 L 457.68 671.15 L 456.36 671.93 L 455.13 672.85 L 453.98 673.89 L 452.93 675.07 L 451.98 676.35 L 451.14 677.74 L 450.42 679.23 L 449.83 680.80 L 449.36 682.43 L 449.02 684.13 L 448.82 685.88 L 448.75 687.65 L 448.82 689.44 L 449.02 691.24 L 449.36 693.04 L 449.83 694.80 L 450.42 696.54 L 451.14 698.22 L 451.98 699.84 L 452.93 701.39 L 453.98 702.86 L 455.13 704.22 L 456.36 705.48 L 457.68 706.62 L 459.06 707.64 L 460.49 708.52 L 461.98 709.27 L 463.50 709.86 L 465.04 710.31 L 466.60 710.61 L 468.15 710.74 L 469.70 710.72 L 471.22 710.55 L 472.70 710.22 L 474.14 709.73 L 475.52 709.10 L 476.83 708.32 L 478.07 707.41 L 479.21 706.36 L 480.27 705.19 L 481.21 703.90 L 482.05 702.51 L 482.77 701.02 L 483.36 699.46 L 483.83 697.82 L 484.17 696.12 L 484.37 694.38 L 484.44 692.60 " clip-path="url(#pc08238e7de)" style="fill: none; stroke: #afa028; stroke-width: 1.25; stroke-linecap: square"/>
</g>
<g id="patch_163">
<path d="M 420.69 736.10 L 420.69 644.15 " style="fill: none; stroke: #000000; stroke-width: 0.8; stroke-linejoin: miter; stroke-linecap: square"/>
</g>
<g id="patch_164">
<path d="M 512.51 736.10 L 512.51 644.15 " style="fill: none; stroke: #000000; stroke-width: 0.8; stroke-linejoin: miter; stroke-linecap: square"/>
</g>
<g id="patch_165">
<path d="M 420.69 736.10 L 512.51 736.10 " style="fill: none; stroke: #000000; stroke-width: 0.8; stroke-linejoin: miter; stroke-linecap: square"/>
</g>
<g id="patch_166">
<path d="M 420.69 644.15 L 512.51 644.15 " style="fill: none; stroke: #000000; stroke-width: 0.8; stroke-linejoin: miter; stroke-linecap: square"/>
</g>
</g>
<g id="axes_34">
<g id="patch_167">
<path d="M 512.51 736.10 L 604.33 736.10 L 604.33 644.15 L 512.51 644.15 z
" style="fill: #ffffff"/>
</g>
<g id="matplotlib.axis_67">
<g id="xtick_23">
<g id="line2d_218">
<g>
<use href="#m1504cfccaf" x="525.47" y="736.10" style="stroke: #000000; stroke-width: 0.8"/>
</g>
</g>
<g id="text_65">
<text style="font-size: 10px; font-family: 'Liberation Sans'" transform="translate(521.80 759.72) rotate(-45)" textLength="15.90" lengthAdjust="spacingAndGlyphs">0.8</text>
</g>
</g>
<g id="xtick_24">
<g id="line2d_219">
<g>
<use href="#m1504cfccaf" x="545.76" y="736.10" style="stroke: #000000; stroke-width: 0.8"/>
</g>
</g>
<g id="text_66">
<text style="font-size: 10px; font-family: 'Liberation Sans'" transform="translate(542.09 759.72) rotate(-45)" textLength="15.90" lengthAdjust="spacingAndGlyphs">0.9</text>
</g>
</g>
<g id="xtick_25">
<g id="line2d_220">
<g>
<use href="#m1504cfccaf" x="566.05" y="736.10" style="stroke: #000000; stroke-width: 0.8"/>
</g>
</g>
<g id="text_67">
<text style="font-size: 10px; font-family: 'Liberation Sans'" transform="translate(562.38 759.72) rotate(-45)" textLength="15.90" lengthAdjust="spacingAndGlyphs">1.0</text>
</g>
</g>
<g id="xtick_26">
<g id="line2d_221">
<g>
<use href="#m1504cfccaf" x="586.33" y="736.10" style="stroke: #000000; stroke-width: 0.8"/>
</g>
</g>
<g id="text_68">
<text style="font-size: 10px; font-family: 'Liberation Sans'" transform="translate(582.66 759.72) rotate(-45)" textLength="15.90" lengthAdjust="spacingAndGlyphs">1.1</text>
</g>
</g>
<g id="text_69">
<!-- n$_s$ -->
<g transform="translate(550.09 774.31)">
<text>
<tspan x="0" y="-0.28" style="font-size: 12px; font-family: 'Liberation Sans'" textLength="7.61" lengthAdjust="spacingAndGlyphs">n</tspan>
<tspan x="7.72" y="1.68" style="font-style: italic; font-size: 8.4px; font-family: 'Liberation Sans'" textLength="4.38" lengthAdjust="spacingAndGlyphs">s</tspan>
</text>
</g>
</g>
</g>
<g id="matplotlib.axis_68"/>
<g id="line2d_222">
<path d="M 589.57 690.68 L 589.45 688.25 L 589.09 685.82 L 588.51 683.43 L 587.69 681.09 L 586.65 678.82 L 585.39 676.64 L 583.93 674.55 L 582.28 672.59 L 580.44 670.76 L 578.44 669.08 L 576.29 667.55 L 573.99 666.20 L 571.58 665.03 L 569.07 664.06 L 566.48 663.28 L 563.83 662.70 L 561.13 662.33 L 558.42 662.18 L 555.70 662.24 L 553.01 662.51 L 550.36 662.99 L 547.77 663.67 L 545.26 664.56 L 542.84 665.64 L 540.55 666.91 L 538.40 668.36 L 536.39 669.97 L 534.56 671.73 L 532.90 673.64 L 531.44 675.67 L 530.19 677.81 L 529.15 680.04 L 528.33 682.35 L 527.74 684.72 L 527.39 687.13 L 527.27 689.57 L 527.39 692.00 L 527.74 694.43 L 528.33 696.82 L 529.15 699.16 L 530.19 701.43 L 531.44 703.61 L 532.90 705.70 L 534.56 707.66 L 536.39 709.49 L 538.40 711.17 L 540.55 712.70 L 542.84 714.05 L 545.26 715.22 L 547.77 716.20 L 550.36 716.98 L 553.01 717.55 L 555.70 717.92 L 558.42 718.07 L 561.13 718.01 L 563.83 717.74 L 566.48 717.26 L 569.07 716.58 L 571.58 715.69 L 573.99 714.61 L 576.29 713.34 L 578.44 711.89 L 580.44 710.28 L 582.28 708.52 L 583.93 706.61 L 585.39 704.58 L 586.65 702.44 L 587.69 700.21 L 588.51 697.90 L 589.09 695.53 L 589.45 693.12 L 589.57 690.68 " clip-path="url(#p0de5b186eb)" style="fill: none; stroke: #235fa0; stroke-width: 1.25; stroke-linecap: square"/>
</g>
<g id="line2d_223">
<path d="M 580.49 699.32 L 580.41 698.06 L 580.16 696.75 L 579.74 695.39 L 579.16 693.99 L 578.42 692.56 L 577.53 691.11 L 576.50 689.65 L 575.33 688.20 L 574.03 686.76 L 572.61 685.34 L 571.08 683.97 L 569.46 682.64 L 567.75 681.36 L 565.97 680.16 L 564.13 679.03 L 562.25 677.98 L 560.34 677.03 L 558.42 676.17 L 556.50 675.42 L 554.59 674.79 L 552.71 674.27 L 550.87 673.87 L 549.09 673.59 L 547.38 673.45 L 545.76 673.42 L 544.23 673.53 L 542.81 673.76 L 541.51 674.12 L 540.34 674.59 L 539.30 675.19 L 538.41 675.90 L 537.68 676.72 L 537.10 677.64 L 536.68 678.65 L 536.43 679.75 L 536.35 680.94 L 536.43 682.19 L 536.68 683.50 L 537.10 684.86 L 537.68 686.26 L 538.41 687.69 L 539.30 689.14 L 540.34 690.60 L 541.51 692.06 L 542.81 693.50 L 544.23 694.91 L 545.76 696.29 L 547.38 697.62 L 549.09 698.89 L 550.87 700.10 L 552.71 701.23 L 554.59 702.27 L 556.50 703.23 L 558.42 704.08 L 560.34 704.83 L 562.25 705.46 L 564.13 705.98 L 565.97 706.38 L 567.75 706.66 L 569.46 706.81 L 571.08 706.83 L 572.61 706.72 L 574.03 706.49 L 575.33 706.14 L 576.50 705.66 L 577.53 705.06 L 578.42 704.35 L 579.16 703.53 L 579.74 702.61 L 580.16 701.60 L 580.41 700.50 L 580.49 699.32 " clip-path="url(#p0de5b186eb)" style="fill: none; stroke: #5f9137; stroke-width: 1.25; stroke-linecap: square"/>
</g>
<g id="line2d_224">
<path d="M 584.82 681.72 L 584.72 679.13 L 584.42 676.64 L 583.92 674.24 L 583.23 671.97 L 582.35 669.83 L 581.29 667.85 L 580.05 666.03 L 578.65 664.40 L 577.09 662.97 L 575.39 661.74 L 573.56 660.73 L 571.62 659.95 L 569.58 659.39 L 567.45 659.07 L 565.25 658.98 L 563.00 659.13 L 560.72 659.52 L 558.42 660.13 L 556.12 660.98 L 553.83 662.05 L 551.59 663.33 L 549.39 664.82 L 547.26 666.50 L 545.22 668.36 L 543.27 670.38 L 541.45 672.56 L 539.75 674.87 L 538.19 677.29 L 536.79 679.81 L 535.55 682.41 L 534.49 685.07 L 533.61 687.77 L 532.91 690.49 L 532.42 693.20 L 532.12 695.89 L 532.01 698.54 L 532.12 701.12 L 532.42 703.62 L 532.91 706.01 L 533.61 708.29 L 534.49 710.42 L 535.55 712.41 L 536.79 714.22 L 538.19 715.85 L 539.75 717.28 L 541.45 718.51 L 543.27 719.52 L 545.22 720.30 L 547.26 720.86 L 549.39 721.19 L 551.59 721.27 L 553.83 721.12 L 556.12 720.74 L 558.42 720.12 L 560.72 719.27 L 563.00 718.20 L 565.25 716.92 L 567.45 715.43 L 569.58 713.75 L 571.62 711.89 L 573.56 709.87 L 575.39 707.70 L 577.09 705.39 L 578.65 702.96 L 580.05 700.44 L 581.29 697.84 L 582.35 695.18 L 583.23 692.48 L 583.92 689.76 L 584.42 687.05 L 584.72 684.36 L 584.82 681.72 " clip-path="url(#p0de5b186eb)" style="fill: none; stroke: #aa282d; stroke-width: 1.25; stroke-linecap: square"/>
</g>
<g id="line2d_225">
<path d="M 573.68 690.85 L 573.63 690.22 L 573.45 689.59 L 573.16 688.95 L 572.76 688.33 L 572.25 687.73 L 571.64 687.14 L 570.92 686.57 L 570.11 686.03 L 569.21 685.52 L 568.23 685.05 L 567.17 684.61 L 566.05 684.22 L 564.87 683.87 L 563.64 683.57 L 562.37 683.32 L 561.07 683.12 L 559.75 682.98 L 558.42 682.88 L 557.09 682.85 L 555.77 682.87 L 554.47 682.94 L 553.20 683.07 L 551.97 683.26 L 550.79 683.49 L 549.66 683.78 L 548.61 684.11 L 547.63 684.49 L 546.73 684.91 L 545.91 685.38 L 545.20 685.88 L 544.58 686.41 L 544.07 686.97 L 543.67 687.55 L 543.39 688.15 L 543.21 688.77 L 543.15 689.40 L 543.21 690.03 L 543.39 690.67 L 543.67 691.30 L 544.07 691.92 L 544.58 692.53 L 545.20 693.12 L 545.91 693.68 L 546.73 694.22 L 547.63 694.73 L 548.61 695.21 L 549.66 695.64 L 550.79 696.03 L 551.97 696.38 L 553.20 696.68 L 554.47 696.93 L 555.77 697.13 L 557.09 697.28 L 558.42 697.37 L 559.75 697.40 L 561.07 697.38 L 562.37 697.31 L 563.64 697.18 L 564.87 697.00 L 566.05 696.76 L 567.17 696.47 L 568.23 696.14 L 569.21 695.76 L 570.11 695.34 L 570.92 694.88 L 571.64 694.38 L 572.25 693.85 L 572.76 693.29 L 573.16 692.70 L 573.45 692.10 L 573.63 691.48 L 573.68 690.85 " clip-path="url(#p0de5b186eb)" style="fill: none; stroke: #552896; stroke-width: 1.25; stroke-linecap: square"/>
</g>
<g id="line2d_226">
<path d="M 576.78 686.83 L 576.71 685.06 L 576.50 683.34 L 576.15 681.67 L 575.67 680.06 L 575.06 678.53 L 574.32 677.09 L 573.46 675.74 L 572.48 674.51 L 571.40 673.39 L 570.22 672.41 L 568.95 671.55 L 567.60 670.84 L 566.18 670.28 L 564.70 669.86 L 563.17 669.60 L 561.61 669.50 L 560.02 669.55 L 558.42 669.76 L 556.82 670.13 L 555.23 670.65 L 553.67 671.31 L 552.14 672.12 L 550.66 673.07 L 549.24 674.14 L 547.89 675.34 L 546.62 676.65 L 545.44 678.06 L 544.36 679.57 L 543.38 681.15 L 542.52 682.80 L 541.78 684.51 L 541.17 686.26 L 540.69 688.04 L 540.34 689.84 L 540.13 691.64 L 540.06 693.43 L 540.13 695.19 L 540.34 696.91 L 540.69 698.58 L 541.17 700.19 L 541.78 701.72 L 542.52 703.17 L 543.38 704.51 L 544.36 705.74 L 545.44 706.86 L 546.62 707.85 L 547.89 708.70 L 549.24 709.41 L 550.66 709.98 L 552.14 710.39 L 553.67 710.65 L 555.23 710.75 L 556.82 710.70 L 558.42 710.49 L 560.02 710.12 L 561.61 709.61 L 563.17 708.94 L 564.70 708.13 L 566.18 707.19 L 567.60 706.11 L 568.95 704.91 L 570.22 703.60 L 571.40 702.19 L 572.48 700.69 L 573.46 699.10 L 574.32 697.45 L 575.06 695.74 L 575.67 693.99 L 576.15 692.21 L 576.50 690.41 L 576.71 688.61 L 576.78 686.83 " clip-path="url(#p0de5b186eb)" style="fill: none; stroke: #afa028; stroke-width: 1.25; stroke-linecap: square"/>
</g>
<g id="patch_168">
<path d="M 512.51 736.10 L 512.51 644.15 " style="fill: none; stroke: #000000; stroke-width: 0.8; stroke-linejoin: miter; stroke-linecap: square"/>
</g>
<g id="patch_169">
<path d="M 604.33 736.10 L 604.33 644.15 " style="fill: none; stroke: #000000; stroke-width: 0.8; stroke-linejoin: miter; stroke-linecap: square"/>
</g>
<g id="patch_170">
<path d="M 512.51 736.10 L 604.33 736.10 " style="fill: none; stroke: #000000; stroke-width: 0.8; stroke-linejoin: miter; stroke-linecap: square"/>
</g>
<g id="patch_171">
<path d="M 512.51 644.15 L 604.33 644.15 " style="fill: none; stroke: #000000; stroke-width: 0.8; stroke-linejoin: miter; stroke-linecap: square"/>
</g>
</g>
<g id="axes_35">
<g id="patch_172">
<path d="M 604.33 736.10 L 696.15 736.10 L 696.15 644.15 L 604.33 644.15 z
" style="fill: #ffffff"/>
</g>
<g id="matplotlib.axis_69">
<g id="xtick_27">
<g id="line2d_227">
<g>
<use href="#m1504cfccaf" x="620.42" y="736.10" style="stroke: #000000; stroke-width: 0.8"/>
</g>
</g>
<g id="text_70">
<text style="font-size: 10px; font-family: 'Liberation Sans'" transform="translate(614.50 764.22) rotate(-45)" textLength="22.27" lengthAdjust="spacingAndGlyphs">0.27</text>
</g>
</g>
<g id="xtick_28">
<g id="line2d_228">
<g>
<use href="#m1504cfccaf" x="639.25" y="736.10" style="stroke: #000000; stroke-width: 0.8"/>
</g>
</g>
<g id="text_71">
<text style="font-size: 10px; font-family: 'Liberation Sans'" transform="translate(633.33 764.22) rotate(-45)" textLength="22.27" lengthAdjust="spacingAndGlyphs">0.30</text>
</g>
</g>
<g id="xtick_29">
<g id="line2d_229">
<g>
<use href="#m1504cfccaf" x="658.09" y="736.10" style="stroke: #000000; stroke-width: 0.8"/>
</g>
</g>
<g id="text_72">
<text style="font-size: 10px; font-family: 'Liberation Sans'" transform="translate(652.17 764.22) rotate(-45)" textLength="22.27" lengthAdjust="spacingAndGlyphs">0.33</text>
</g>
</g>
<g id="xtick_30">
<g id="line2d_230">
<g>
<use href="#m1504cfccaf" x="676.93" y="736.10" style="stroke: #000000; stroke-width: 0.8"/>
</g>
</g>
<g id="text_73">
<text style="font-size: 10px; font-family: 'Liberation Sans'" transform="translate(671.01 764.22) rotate(-45)" textLength="22.27" lengthAdjust="spacingAndGlyphs">0.36</text>
</g>
</g>
<g id="xtick_31">
<g id="line2d_231">
<g>
<use href="#m1504cfccaf" x="695.76" y="736.10" style="stroke: #000000; stroke-width: 0.8"/>
</g>
</g>
<g id="text_74">
<text style="font-size: 10px; font-family: 'Liberation Sans'" transform="translate(689.84 764.22) rotate(-45)" textLength="22.27" lengthAdjust="spacingAndGlyphs">0.39</text>
</g>
</g>
<g id="text_75">
<!-- $\Omega_m$ -->
<g transform="translate(639.21 778.81)">
<text>
<tspan x="0" y="-0.14" style="font-size: 12px; font-family: 'Liberation Sans'" textLength="9.17" lengthAdjust="spacingAndGlyphs">Ω</tspan>
<tspan x="9.28" y="1.82" style="font-style: italic; font-size: 8.4px; font-family: 'Liberation Sans'" textLength="8.18" lengthAdjust="spacingAndGlyphs">m</tspan>
</text>
</g>
</g>
</g>
<g id="matplotlib.axis_70"/>
<g id="line2d_232">
<path d="M 681.39 697.95 L 681.27 695.58 L 680.92 693.17 L 680.33 690.74 L 679.51 688.30 L 678.47 685.88 L 677.22 683.49 L 675.76 681.15 L 674.10 678.87 L 672.27 676.69 L 670.26 674.60 L 668.11 672.63 L 665.82 670.80 L 663.41 669.11 L 660.89 667.59 L 658.30 666.23 L 655.65 665.06 L 652.96 664.08 L 650.24 663.29 L 647.53 662.71 L 644.83 662.34 L 642.18 662.18 L 639.59 662.23 L 637.08 662.50 L 634.67 662.97 L 632.37 663.66 L 630.22 664.54 L 628.22 665.62 L 626.38 666.88 L 624.73 668.32 L 623.27 669.93 L 622.01 671.69 L 620.97 673.59 L 620.15 675.62 L 619.57 677.76 L 619.21 679.99 L 619.09 682.30 L 619.21 684.67 L 619.57 687.08 L 620.15 689.51 L 620.97 691.95 L 622.01 694.37 L 623.27 696.76 L 624.73 699.11 L 626.38 701.38 L 628.22 703.57 L 630.22 705.65 L 632.37 707.62 L 634.67 709.45 L 637.08 711.14 L 639.59 712.66 L 642.18 714.02 L 644.83 715.19 L 647.53 716.18 L 650.24 716.96 L 652.96 717.54 L 655.65 717.91 L 658.30 718.07 L 660.89 718.02 L 663.41 717.75 L 665.82 717.28 L 668.11 716.60 L 670.26 715.71 L 672.27 714.63 L 674.10 713.37 L 675.76 711.93 L 677.22 710.32 L 678.47 708.56 L 679.51 706.66 L 680.33 704.63 L 680.92 702.49 L 681.27 700.26 L 681.39 697.95 " clip-path="url(#pfc17e4ecfc)" style="fill: none; stroke: #235fa0; stroke-width: 1.25; stroke-linecap: square"/>
</g>
<g id="line2d_233">
<path d="M 670.77 684.11 L 670.69 682.77 L 670.45 681.50 L 670.07 680.28 L 669.53 679.14 L 668.84 678.09 L 668.02 677.12 L 667.05 676.26 L 665.96 675.50 L 664.75 674.85 L 663.43 674.32 L 662.01 673.91 L 660.50 673.62 L 658.92 673.46 L 657.26 673.42 L 655.55 673.51 L 653.81 673.73 L 652.03 674.07 L 650.24 674.54 L 648.45 675.12 L 646.68 675.82 L 644.93 676.63 L 643.22 677.53 L 641.57 678.54 L 639.98 679.63 L 638.47 680.81 L 637.05 682.05 L 635.73 683.36 L 634.52 684.71 L 633.43 686.11 L 632.47 687.54 L 631.64 688.99 L 630.95 690.45 L 630.42 691.90 L 630.03 693.34 L 629.79 694.76 L 629.72 696.14 L 629.79 697.48 L 630.03 698.76 L 630.42 699.97 L 630.95 701.11 L 631.64 702.17 L 632.47 703.13 L 633.43 703.99 L 634.52 704.75 L 635.73 705.40 L 637.05 705.93 L 638.47 706.35 L 639.98 706.63 L 641.57 706.80 L 643.22 706.83 L 644.93 706.74 L 646.68 706.52 L 648.45 706.18 L 650.24 705.71 L 652.03 705.13 L 653.81 704.43 L 655.55 703.63 L 657.26 702.72 L 658.92 701.71 L 660.50 700.62 L 662.01 699.45 L 663.43 698.20 L 664.75 696.90 L 665.96 695.54 L 667.05 694.14 L 668.02 692.71 L 668.84 691.26 L 669.53 689.81 L 670.07 688.35 L 670.45 686.91 L 670.69 685.49 L 670.77 684.11 " clip-path="url(#pfc17e4ecfc)" style="fill: none; stroke: #5f9137; stroke-width: 1.25; stroke-linecap: square"/>
</g>
<g id="line2d_234">
<path d="M 675.10 700.40 L 675.00 697.80 L 674.72 695.14 L 674.25 692.44 L 673.60 689.73 L 672.77 687.02 L 671.77 684.33 L 670.60 681.68 L 669.28 679.10 L 667.82 676.60 L 666.22 674.21 L 664.50 671.94 L 662.67 669.80 L 660.75 667.82 L 658.74 666.01 L 656.67 664.38 L 654.56 662.95 L 652.41 661.73 L 650.24 660.72 L 648.07 659.94 L 645.92 659.38 L 643.81 659.06 L 641.74 658.98 L 639.74 659.13 L 637.81 659.52 L 635.98 660.14 L 634.26 660.99 L 632.66 662.07 L 631.20 663.35 L 629.88 664.84 L 628.71 666.52 L 627.71 668.38 L 626.88 670.41 L 626.23 672.59 L 625.76 674.90 L 625.48 677.32 L 625.38 679.85 L 625.48 682.45 L 625.76 685.11 L 626.23 687.81 L 626.88 690.52 L 627.71 693.24 L 628.71 695.93 L 629.88 698.57 L 631.20 701.15 L 632.66 703.65 L 634.26 706.04 L 635.98 708.32 L 637.81 710.45 L 639.74 712.43 L 641.74 714.24 L 643.81 715.87 L 645.92 717.30 L 648.07 718.52 L 650.24 719.53 L 652.41 720.31 L 654.56 720.87 L 656.67 721.19 L 658.74 721.27 L 660.75 721.12 L 662.67 720.73 L 664.50 720.11 L 666.22 719.26 L 667.82 718.19 L 669.28 716.90 L 670.60 715.41 L 671.77 713.73 L 672.77 711.87 L 673.60 709.84 L 674.25 707.66 L 674.72 705.35 L 675.00 702.93 L 675.10 700.40 " clip-path="url(#pfc17e4ecfc)" style="fill: none; stroke: #aa282d; stroke-width: 1.25; stroke-linecap: square"/>
</g>
<g id="line2d_235">
<path d="M 665.40 689.76 L 665.34 689.13 L 665.17 688.51 L 664.89 687.89 L 664.49 687.30 L 663.98 686.72 L 663.37 686.18 L 662.66 685.66 L 661.86 685.18 L 660.96 684.73 L 659.99 684.32 L 658.94 683.96 L 657.82 683.65 L 656.65 683.38 L 655.43 683.17 L 654.17 683.01 L 652.87 682.90 L 651.56 682.85 L 650.24 682.86 L 648.92 682.92 L 647.61 683.03 L 646.32 683.20 L 645.06 683.42 L 643.83 683.69 L 642.66 684.01 L 641.54 684.38 L 640.50 684.79 L 639.52 685.24 L 638.63 685.73 L 637.82 686.25 L 637.11 686.81 L 636.50 687.38 L 635.99 687.98 L 635.60 688.60 L 635.31 689.22 L 635.14 689.85 L 635.08 690.49 L 635.14 691.12 L 635.31 691.75 L 635.60 692.36 L 635.99 692.95 L 636.50 693.53 L 637.11 694.08 L 637.82 694.59 L 638.63 695.08 L 639.52 695.52 L 640.50 695.93 L 641.54 696.29 L 642.66 696.60 L 643.83 696.87 L 645.06 697.08 L 646.32 697.24 L 647.61 697.35 L 648.92 697.40 L 650.24 697.39 L 651.56 697.33 L 652.87 697.22 L 654.17 697.05 L 655.43 696.83 L 656.65 696.56 L 657.82 696.24 L 658.94 695.87 L 659.99 695.46 L 660.96 695.01 L 661.86 694.52 L 662.66 694.00 L 663.37 693.44 L 663.98 692.87 L 664.49 692.27 L 664.89 691.66 L 665.17 691.03 L 665.34 690.40 L 665.40 689.76 " clip-path="url(#pfc17e4ecfc)" style="fill: none; stroke: #552896; stroke-width: 1.25; stroke-linecap: square"/>
</g>
<g id="line2d_236">
<path d="M 668.91 699.82 L 668.84 698.20 L 668.63 696.51 L 668.27 694.78 L 667.78 693.01 L 667.16 691.22 L 666.41 689.42 L 665.53 687.62 L 664.54 685.85 L 663.44 684.11 L 662.24 682.41 L 660.95 680.77 L 659.58 679.21 L 658.13 677.72 L 656.63 676.33 L 655.07 675.05 L 653.48 673.88 L 651.87 672.83 L 650.24 671.92 L 648.61 671.14 L 647.00 670.51 L 645.41 670.03 L 643.86 669.70 L 642.35 669.53 L 640.91 669.51 L 639.53 669.65 L 638.24 669.95 L 637.04 670.40 L 635.94 671.00 L 634.95 671.74 L 634.07 672.63 L 633.32 673.64 L 632.70 674.79 L 632.21 676.05 L 631.86 677.42 L 631.64 678.88 L 631.57 680.43 L 631.64 682.05 L 631.86 683.74 L 632.21 685.47 L 632.70 687.24 L 633.32 689.03 L 634.07 690.83 L 634.95 692.63 L 635.94 694.40 L 637.04 696.15 L 638.24 697.84 L 639.53 699.48 L 640.91 701.05 L 642.35 702.53 L 643.86 703.92 L 645.41 705.20 L 647.00 706.37 L 648.61 707.42 L 650.24 708.33 L 651.87 709.11 L 653.48 709.74 L 655.07 710.22 L 656.63 710.55 L 658.13 710.73 L 659.58 710.74 L 660.95 710.60 L 662.24 710.31 L 663.44 709.86 L 664.54 709.26 L 665.53 708.51 L 666.41 707.63 L 667.16 706.61 L 667.78 705.46 L 668.27 704.20 L 668.63 702.84 L 668.84 701.37 L 668.91 699.82 " clip-path="url(#pfc17e4ecfc)" style="fill: none; stroke: #afa028; stroke-width: 1.25; stroke-linecap: square"/>
</g>
<g id="patch_173">
<path d="M 604.33 736.10 L 604.33 644.15 " style="fill: none; stroke: #000000; stroke-width: 0.8; stroke-linejoin: miter; stroke-linecap: square"/>
</g>
<g id="patch_174">
<path d="M 696.15 736.10 L 696.15 644.15 " style="fill: none; stroke: #000000; stroke-width: 0.8; stroke-linejoin: miter; stroke-linecap: square"/>
</g>
<g id="patch_175">
<path d="M 604.33 736.10 L 696.15 736.10 " style="fill: none; stroke: #000000; stroke-width: 0.8; stroke-linejoin: miter; stroke-linecap: square"/>
</g>
<g id="patch_176">
<path d="M 604.33 644.15 L 696.15 644.15 " style="fill: none; stroke: #000000; stroke-width: 0.8; stroke-linejoin: miter; stroke-linecap: square"/>
</g>
</g>
<g id="axes_36">
<g id="patch_177">
<path d="M 696.15 736.10 L 787.97 736.10 L 787.97 644.15 L 696.15 644.15 z
" style="fill: #ffffff"/>
</g>
<g id="matplotlib.axis_71">
<g id="xtick_32">
<g id="line2d_237">
<g>
<use href="#m1504cfccaf" x="697.22" y="736.10" style="stroke: #000000; stroke-width: 0.8"/>
</g>
</g>
<g id="text_76">
<text style="font-size: 10px; font-family: 'Liberation Sans'" transform="translate(691.30 764.22) rotate(-45)" textLength="22.27" lengthAdjust="spacingAndGlyphs">0.76</text>
</g>
</g>
<g id="xtick_33">
<g id="line2d_238">
<g>
<use href="#m1504cfccaf" x="721.46" y="736.10" style="stroke: #000000; stroke-width: 0.8"/>
</g>
</g>
<g id="text_77">
<text style="font-size: 10px; font-family: 'Liberation Sans'" transform="translate(715.54 764.22) rotate(-45)" textLength="22.27" lengthAdjust="spacingAndGlyphs">0.80</text>
</g>
</g>
<g id="xtick_34">
<g id="line2d_239">
<g>
<use href="#m1504cfccaf" x="745.70" y="736.10" style="stroke: #000000; stroke-width: 0.8"/>
</g>
</g>
<g id="text_78">
<text style="font-size: 10px; font-family: 'Liberation Sans'" transform="translate(739.78 764.22) rotate(-45)" textLength="22.27" lengthAdjust="spacingAndGlyphs">0.84</text>
</g>
</g>
<g id="xtick_35">
<g id="line2d_240">
<g>
<use href="#m1504cfccaf" x="769.94" y="736.10" style="stroke: #000000; stroke-width: 0.8"/>
</g>
</g>
<g id="text_79">
<text style="font-size: 10px; font-family: 'Liberation Sans'" transform="translate(764.01 764.22) rotate(-45)" textLength="22.27" lengthAdjust="spacingAndGlyphs">0.88</text>
</g>
</g>
<g id="text_80">
<!-- $\sigma_8$ -->
<g transform="translate(733.31 778.81)">
<text>
<tspan x="0" y="-0.43" style="font-style: italic; font-size: 12px; font-family: 'Liberation Sans'" textLength="7.61" lengthAdjust="spacingAndGlyphs">σ</tspan>
<tspan x="7.60" y="1.53" style="font-size: 8.4px; font-family: 'Liberation Sans'" textLength="5.34" lengthAdjust="spacingAndGlyphs">8</tspan>
</text>
</g>
</g>
</g>
<g id="matplotlib.axis_72"/>
<g id="line2d_241">
<path d="M 696.15 736.10 L 717.58 735.99 L 720.03 735.77 L 721.86 735.40 L 723.39 734.85 L 724.62 734.19 L 725.84 733.25 L 727.07 731.97 L 728.29 730.30 L 729.51 728.17 L 730.74 725.58 L 732.27 721.72 L 734.11 716.38 L 737.47 706.41 L 738.70 703.48 L 739.61 701.75 L 740.53 700.51 L 741.14 699.99 L 741.76 699.73 L 742.37 699.73 L 742.98 699.99 L 743.59 700.51 L 744.21 701.28 L 745.12 702.85 L 746.04 704.87 L 747.27 708.09 L 749.41 714.51 L 751.86 721.72 L 753.39 725.58 L 754.61 728.17 L 755.84 730.30 L 757.06 731.97 L 758.28 733.25 L 759.51 734.19 L 760.73 734.85 L 762.26 735.40 L 764.10 735.77 L 766.55 735.99 L 770.83 736.09 L 787.97 736.10 L 787.97 736.10 " clip-path="url(#pd5db47bd2c)" style="fill: none; stroke: #6cbd3a; stroke-opacity: 0.85; stroke-width: 1.41"/>
</g>
<g id="line2d_242">
<path d="M 696.15 736.10 L 730.43 736.02 L 731.66 735.77 L 732.27 735.47 L 732.88 734.97 L 733.49 734.13 L 734.11 732.80 L 734.72 730.78 L 735.33 727.84 L 735.94 723.75 L 736.55 718.34 L 737.47 707.59 L 738.70 689.23 L 740.23 665.73 L 740.84 658.67 L 741.45 654.09 L 741.76 652.91 L 742.06 652.51 L 742.37 652.91 L 742.68 654.09 L 743.29 658.67 L 743.90 665.73 L 744.82 679.35 L 746.65 707.59 L 747.57 718.34 L 748.49 725.95 L 749.10 729.43 L 749.71 731.89 L 750.33 733.54 L 750.94 734.60 L 751.55 735.25 L 752.16 735.64 L 753.08 735.93 L 754.61 736.07 L 759.20 736.10 L 787.97 736.10 L 787.97 736.10 " clip-path="url(#pd5db47bd2c)" style="fill: none; stroke: #5f32be; stroke-opacity: 0.85; stroke-width: 1.41"/>
</g>
<g id="line2d_243">
<path d="M 696.15 736.08 L 704.42 735.94 L 708.4 735.67 L 711.46 735.25 L 713.90 734.70 L 716.05 734.01 L 718.19 733.07 L 720.03 732.04 L 721.86 730.80 L 724.00 729.06 L 726.45 726.73 L 729.51 723.48 L 733.80 718.92 L 735.94 716.98 L 737.47 715.87 L 739.00 715.03 L 740.23 714.59 L 741.45 714.36 L 742.68 714.36 L 743.90 714.59 L 745.12 715.03 L 746.65 715.87 L 748.18 716.98 L 750.02 718.62 L 752.47 721.14 L 758.90 727.93 L 761.04 729.84 L 763.18 731.45 L 765.32 732.75 L 767.47 733.77 L 769.61 734.52 L 772.06 735.13 L 774.81 735.57 L 778.18 735.86 L 783.08 736.04 L 787.97 736.08 L 787.97 736.08 " clip-path="url(#pd5db47bd2c)" style="fill: none; stroke: #1a6ed2; stroke-opacity: 0.85; stroke-width: 1.41"/>
</g>
<g id="line2d_244">
<path d="M 696.15 736.04 L 702.58 735.85 L 706.56 735.52 L 709.62 735.06 L 712.37 734.42 L 714.82 733.63 L 717.27 732.58 L 719.41 731.42 L 721.86 729.83 L 724.31 727.98 L 727.68 725.13 L 733.19 720.42 L 735.33 718.89 L 737.17 717.83 L 738.70 717.18 L 740.23 716.75 L 741.76 716.58 L 743.29 716.65 L 744.82 716.98 L 746.35 717.54 L 747.88 718.33 L 749.71 719.51 L 751.86 721.15 L 755.22 724.05 L 759.82 727.98 L 762.57 730.05 L 765.02 731.60 L 767.47 732.86 L 769.92 733.85 L 772.36 734.59 L 775.12 735.17 L 778.18 735.58 L 782.16 735.88 L 787.67 736.04 L 787.97 736.04 L 787.97 736.04 " clip-path="url(#pd5db47bd2c)" style="fill: none; stroke: #e02d32; stroke-opacity: 0.85; stroke-width: 1.41"/>
</g>
<g id="line2d_245">
<path d="M 696.15 736.10 L 712.37 735.99 L 715.74 735.74 L 717.88 735.38 L 719.72 734.86 L 721.25 734.22 L 722.78 733.32 L 724.31 732.12 L 725.84 730.56 L 727.37 728.61 L 728.90 726.29 L 730.74 723.04 L 733.49 717.60 L 736.25 712.31 L 737.78 709.86 L 739.00 708.31 L 739.92 707.46 L 740.84 706.89 L 741.76 706.63 L 742.68 706.68 L 743.59 707.05 L 744.51 707.71 L 745.43 708.66 L 746.65 710.31 L 748.18 712.86 L 750.33 716.99 L 754.00 724.17 L 755.84 727.26 L 757.37 729.44 L 758.90 731.23 L 760.43 732.64 L 761.96 733.71 L 763.49 734.50 L 765.02 735.06 L 766.86 735.51 L 769.30 735.84 L 772.67 736.02 L 779.10 736.09 L 787.97 736.10 L 787.97 736.10 " clip-path="url(#pd5db47bd2c)" style="fill: none; stroke: #f0c828; stroke-opacity: 0.85; stroke-width: 1.41"/>
</g>
<g id="patch_178">
<path d="M 696.15 736.10 L 696.15 644.15 " style="fill: none; stroke: #000000; stroke-width: 0.8; stroke-linejoin: miter; stroke-linecap: square"/>
</g>
<g id="patch_179">
<path d="M 787.97 736.10 L 787.97 644.15 " style="fill: none; stroke: #000000; stroke-width: 0.8; stroke-linejoin: miter; stroke-linecap: square"/>
</g>
<g id="patch_180">
<path d="M 696.15 736.10 L 787.97 736.10 " style="fill: none; stroke: #000000; stroke-width: 0.8; stroke-linejoin: miter; stroke-linecap: square"/>
</g>
<g id="patch_181">
<path d="M 696.15 644.15 L 787.97 644.15 " style="fill: none; stroke: #000000; stroke-width: 0.8; stroke-linejoin: miter; stroke-linecap: square"/>
</g>
</g>
<g id="text_81">
<text style="font-size: 12px; font-family: 'Liberation Sans'; text-anchor: start; fill: #1a6ed2; stroke: #1a6ed2; stroke-width: 0.15px" x="576.23" y="14.55" transform="rotate(-0 576.23 14.55)" textLength="165.09" lengthAdjust="spacingAndGlyphs">Power spectrum - Halo only</text>
</g>
<g id="text_82">
<text style="font-size: 12px; font-family: 'Liberation Sans'; text-anchor: start; fill: #6cbd3a; stroke: #6cbd3a; stroke-width: 0.15px" x="576.23" y="27.93" transform="rotate(-0 576.23 27.93)" textLength="206.87" lengthAdjust="spacingAndGlyphs">Power spectrum - Halo and matter</text>
</g>
<g id="text_83">
<text style="font-size: 12px; font-family: 'Liberation Sans'; text-anchor: start; fill: #e02d32; stroke: #e02d32; stroke-width: 0.15px" x="576.23" y="41.31" transform="rotate(-0 576.23 41.31)" textLength="68.35" lengthAdjust="spacingAndGlyphs">Bispectrum</text>
</g>
<g id="text_84">
<text style="font-size: 12px; font-family: 'Liberation Sans'; text-anchor: start; fill: #5f32be; stroke: #5f32be; stroke-width: 0.15px" x="576.23" y="54.70" transform="rotate(-0 576.23 54.70)" textLength="135.09" lengthAdjust="spacingAndGlyphs">Joint - halo and matter</text>
</g>
<g id="text_85">
<text style="font-size: 12px; font-family: 'Liberation Sans'; text-anchor: start; fill: #f0c828; stroke: #f0c828; stroke-width: 0.15px" x="576.23" y="68.08" transform="rotate(-0 576.23 68.08)" textLength="93.32" lengthAdjust="spacingAndGlyphs">Joint - halo only</text>
</g>
</g>
<defs>
<clipPath id="p6890159684">
<rect x="53.40" y="0.52" width="91.82" height="91.94"/>
</clipPath>
<clipPath id="p6fb63dad15">
<rect x="53.40" y="92.47" width="91.82" height="91.94"/>
</clipPath>
<clipPath id="p47191a8eb9">
<rect x="145.22" y="92.47" width="91.82" height="91.94"/>
</clipPath>
<clipPath id="p3f667b02f7">
<rect x="53.40" y="184.41" width="91.82" height="91.94"/>
</clipPath>
<clipPath id="p28ccdaaddb">
<rect x="145.22" y="184.41" width="91.82" height="91.94"/>
</clipPath>
<clipPath id="p725fcb1e02">
<rect x="237.04" y="184.41" width="91.82" height="91.94"/>
</clipPath>
<clipPath id="p8e2577eadd">
<rect x="53.40" y="276.36" width="91.82" height="91.94"/>
</clipPath>
<clipPath id="p57407132d1">
<rect x="145.22" y="276.36" width="91.82" height="91.94"/>
</clipPath>
<clipPath id="pb7c026af88">
<rect x="237.04" y="276.36" width="91.82" height="91.94"/>
</clipPath>
<clipPath id="p739e882ca3">
<rect x="328.86" y="276.36" width="91.82" height="91.94"/>
</clipPath>
<clipPath id="p52f0d5086e">
<rect x="53.40" y="368.31" width="91.82" height="91.94"/>
</clipPath>
<clipPath id="p26b70fbc51">
<rect x="145.22" y="368.31" width="91.82" height="91.94"/>
</clipPath>
<clipPath id="pdeca2ec9d9">
<rect x="237.04" y="368.31" width="91.82" height="91.94"/>
</clipPath>
<clipPath id="pe46291cda1">
<rect x="328.86" y="368.31" width="91.82" height="91.94"/>
</clipPath>
<clipPath id="p51904fc536">
<rect x="420.69" y="368.31" width="91.82" height="91.94"/>
</clipPath>
<clipPath id="pebb072ecfa">
<rect x="53.40" y="460.26" width="91.82" height="91.94"/>
</clipPath>
<clipPath id="pb58f2c83f6">
<rect x="145.22" y="460.26" width="91.82" height="91.94"/>
</clipPath>
<clipPath id="p90f4bfe1e8">
<rect x="237.04" y="460.26" width="91.82" height="91.94"/>
</clipPath>
<clipPath id="pd0feb686a4">
<rect x="328.86" y="460.26" width="91.82" height="91.94"/>
</clipPath>
<clipPath id="pa18baa8f46">
<rect x="420.69" y="460.26" width="91.82" height="91.94"/>
</clipPath>
<clipPath id="p8e6a0e5f2b">
<rect x="512.51" y="460.26" width="91.82" height="91.94"/>
</clipPath>
<clipPath id="p9720435fea">
<rect x="53.40" y="552.20" width="91.82" height="91.94"/>
</clipPath>
<clipPath id="p51f4d38155">
<rect x="145.22" y="552.20" width="91.82" height="91.94"/>
</clipPath>
<clipPath id="pa81ab45198">
<rect x="237.04" y="552.20" width="91.82" height="91.94"/>
</clipPath>
<clipPath id="p2d2d5d9aa9">
<rect x="328.86" y="552.20" width="91.82" height="91.94"/>
</clipPath>
<clipPath id="p073fe10a1f">
<rect x="420.69" y="552.20" width="91.82" height="91.94"/>
</clipPath>
<clipPath id="pde15005223">
<rect x="512.51" y="552.20" width="91.82" height="91.94"/>
</clipPath>
<clipPath id="p4d752d4b15">
<rect x="604.33" y="552.20" width="91.82" height="91.94"/>
</clipPath>
<clipPath id="p01bc169258">
<rect x="53.40" y="644.15" width="91.82" height="91.94"/>
</clipPath>
<clipPath id="pcd01b2402d">
<rect x="145.22" y="644.15" width="91.82" height="91.94"/>
</clipPath>
<clipPath id="p8dc10f9a93">
<rect x="237.04" y="644.15" width="91.82" height="91.94"/>
</clipPath>
<clipPath id="p59bed796c0">
<rect x="328.86" y="644.15" width="91.82" height="91.94"/>
</clipPath>
<clipPath id="pc08238e7de">
<rect x="420.69" y="644.15" width="91.82" height="91.94"/>
</clipPath>
<clipPath id="p0de5b186eb">
<rect x="512.51" y="644.15" width="91.82" height="91.94"/>
</clipPath>
<clipPath id="pfc17e4ecfc">
<rect x="604.33" y="644.15" width="91.82" height="91.94"/>
</clipPath>
<clipPath id="pd5db47bd2c">
<rect x="696.15" y="644.15" width="91.82" height="91.94"/>
</clipPath>
</defs>
</svg>

</body></html>
